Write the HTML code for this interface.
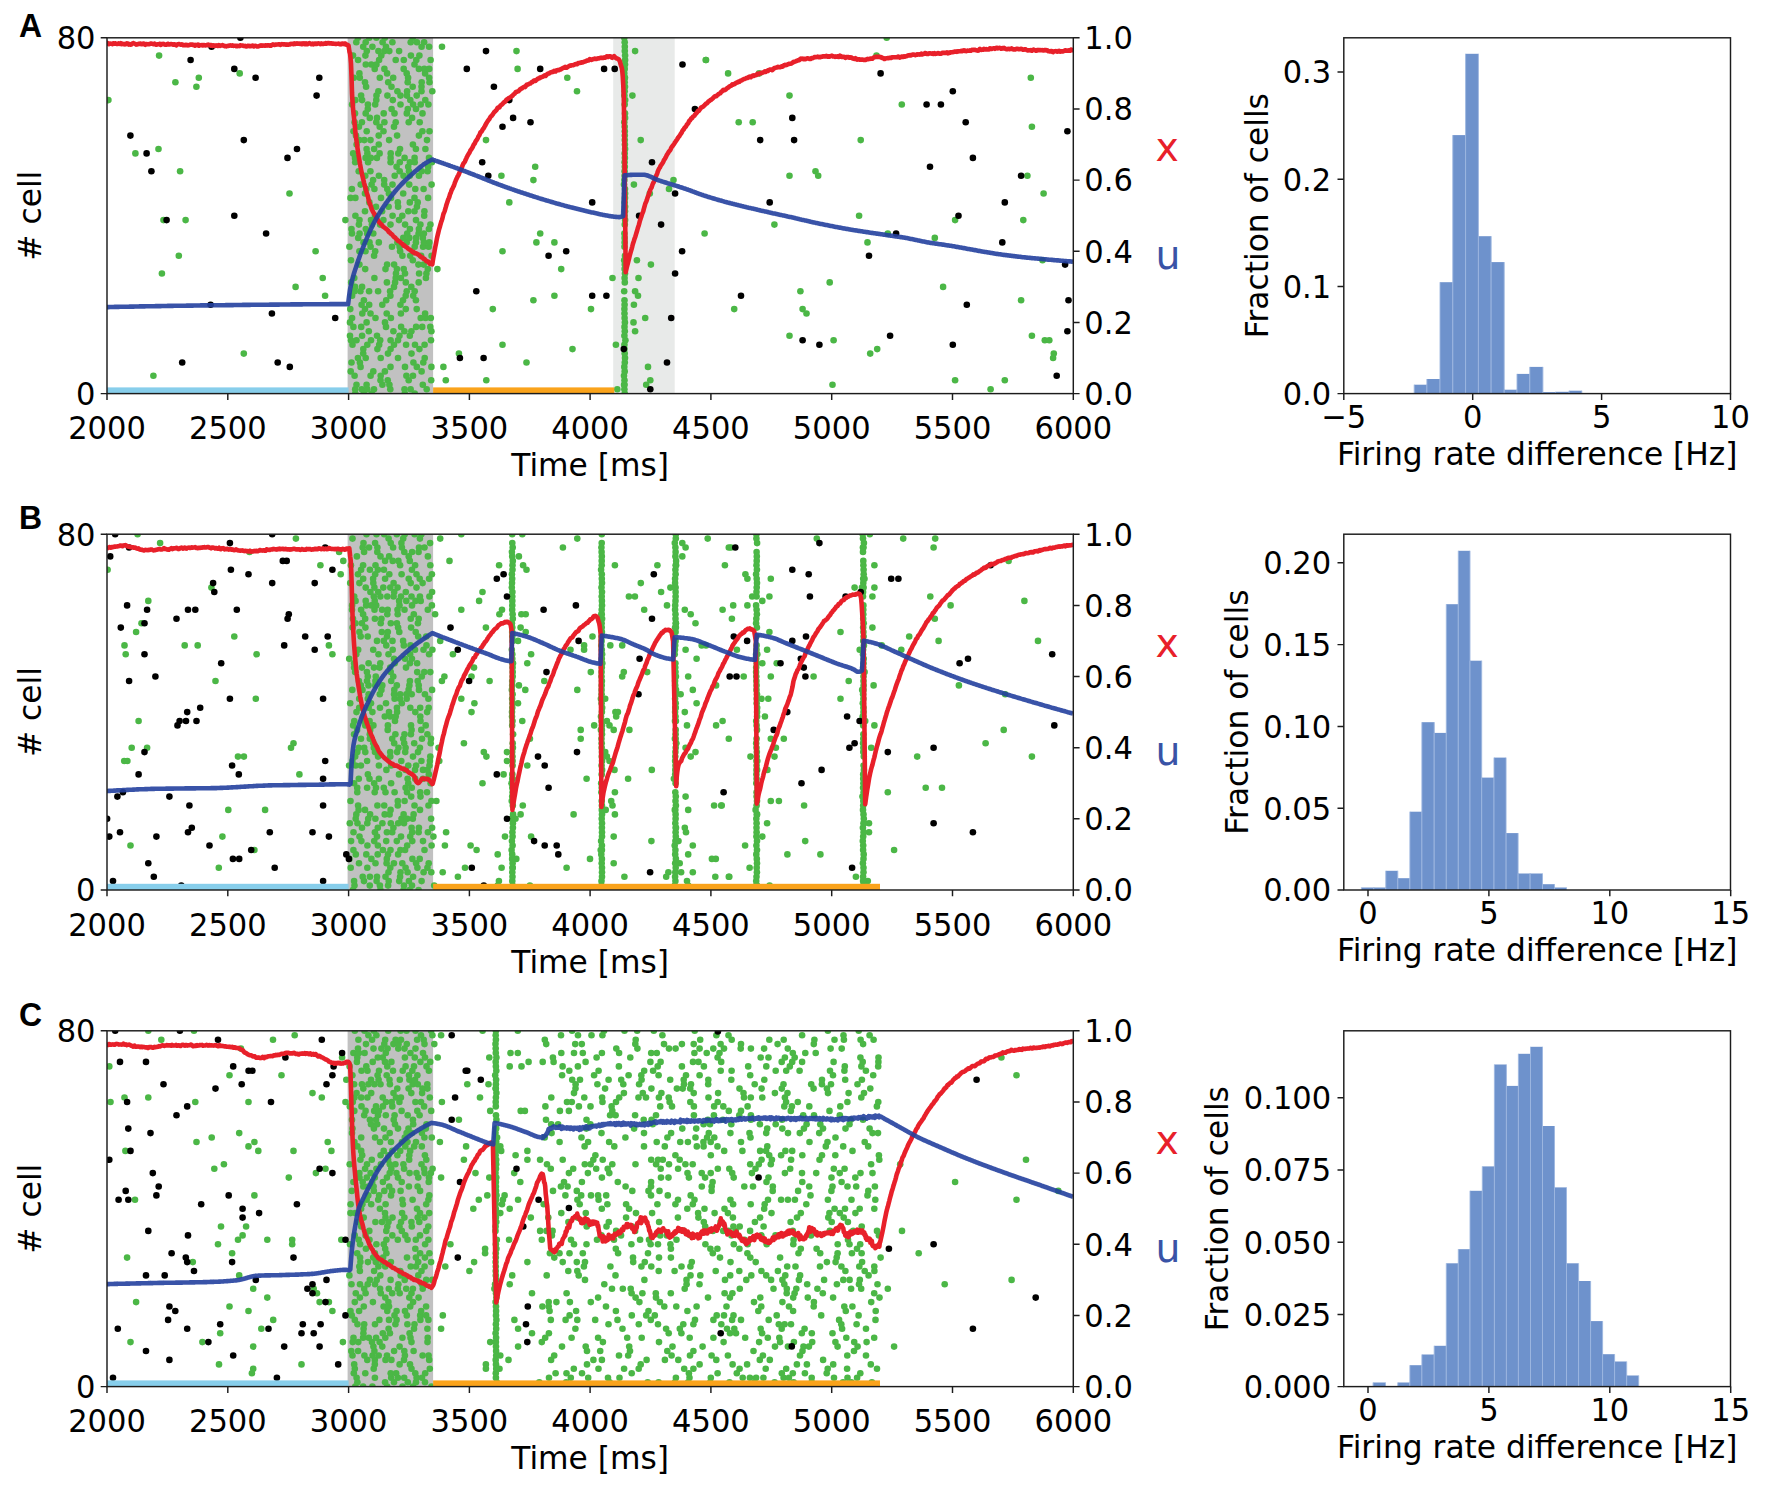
<!DOCTYPE html>
<html><head><meta charset="utf-8"><title>Figure</title>
<style>html,body{margin:0;padding:0;background:#fff}svg{display:block}</style>
</head><body>
<svg width="1772" height="1488" viewBox="0 0 1772 1488" font-family="'DejaVu Sans','Liberation Sans',sans-serif" font-size="31" fill="#000">
<rect width="1772" height="1488" fill="#fff"/>
<clipPath id="clipA"><rect x="107.0" y="37.8" width="966.3" height="355.8"/></clipPath>
<g clip-path="url(#clipA)">
<rect x="347.6" y="37.8" width="85.5" height="355.8" fill="#c1c1c1"/>
<rect x="613.2" y="37.8" width="61.5" height="355.8" fill="#e8eae9"/>
<g fill="#4bb746"><circle cx="159.1" cy="55.6" r="3.3"/><circle cx="175.4" cy="82.3" r="3.3"/><circle cx="198.8" cy="77.8" r="3.3"/><circle cx="196.4" cy="86.7" r="3.3"/><circle cx="239.7" cy="73.4" r="3.3"/><circle cx="108.4" cy="100.1" r="3.3"/><circle cx="135.4" cy="153.4" r="3.3"/><circle cx="158.5" cy="149.0" r="3.3"/><circle cx="180.1" cy="171.2" r="3.3"/><circle cx="289.5" cy="193.5" r="3.3"/><circle cx="163.5" cy="220.1" r="3.3"/><circle cx="185.6" cy="220.1" r="3.3"/><circle cx="178.8" cy="255.7" r="3.3"/><circle cx="161.9" cy="273.5" r="3.3"/><circle cx="315.6" cy="251.3" r="3.3"/><circle cx="322.7" cy="278.0" r="3.3"/><circle cx="295.6" cy="286.9" r="3.3"/><circle cx="325.1" cy="295.8" r="3.3"/><circle cx="243.8" cy="353.6" r="3.3"/><circle cx="153.4" cy="375.8" r="3.3"/><circle cx="345.4" cy="220.1" r="3.3"/><circle cx="355.3" cy="393.6" r="3.3"/><circle cx="363.8" cy="393.6" r="3.3"/><circle cx="371.7" cy="393.6" r="3.3"/><circle cx="404.8" cy="393.6" r="3.3"/><circle cx="414.7" cy="393.6" r="3.3"/><circle cx="355.2" cy="389.2" r="3.3"/><circle cx="361.8" cy="389.2" r="3.3"/><circle cx="367.2" cy="389.2" r="3.3"/><circle cx="374.0" cy="389.2" r="3.3"/><circle cx="390.3" cy="389.2" r="3.3"/><circle cx="404.5" cy="389.2" r="3.3"/><circle cx="410.6" cy="389.2" r="3.3"/><circle cx="426.7" cy="389.2" r="3.3"/><circle cx="356.5" cy="384.7" r="3.3"/><circle cx="366.6" cy="384.7" r="3.3"/><circle cx="382.4" cy="384.7" r="3.3"/><circle cx="389.4" cy="384.7" r="3.3"/><circle cx="422.8" cy="384.7" r="3.3"/><circle cx="380.5" cy="380.3" r="3.3"/><circle cx="387.7" cy="380.3" r="3.3"/><circle cx="408.7" cy="380.3" r="3.3"/><circle cx="431.2" cy="380.3" r="3.3"/><circle cx="354.6" cy="375.8" r="3.3"/><circle cx="370.6" cy="375.8" r="3.3"/><circle cx="380.7" cy="375.8" r="3.3"/><circle cx="406.4" cy="375.8" r="3.3"/><circle cx="413.0" cy="375.8" r="3.3"/><circle cx="350.7" cy="371.4" r="3.3"/><circle cx="373.3" cy="371.4" r="3.3"/><circle cx="384.9" cy="371.4" r="3.3"/><circle cx="421.6" cy="371.4" r="3.3"/><circle cx="360.6" cy="366.9" r="3.3"/><circle cx="390.5" cy="366.9" r="3.3"/><circle cx="405.0" cy="366.9" r="3.3"/><circle cx="416.8" cy="366.9" r="3.3"/><circle cx="431.4" cy="366.9" r="3.3"/><circle cx="351.5" cy="362.5" r="3.3"/><circle cx="359.9" cy="362.5" r="3.3"/><circle cx="413.4" cy="362.5" r="3.3"/><circle cx="423.3" cy="362.5" r="3.3"/><circle cx="357.9" cy="358.0" r="3.3"/><circle cx="365.7" cy="358.0" r="3.3"/><circle cx="380.7" cy="358.0" r="3.3"/><circle cx="398.0" cy="358.0" r="3.3"/><circle cx="424.7" cy="358.0" r="3.3"/><circle cx="363.2" cy="353.6" r="3.3"/><circle cx="388.0" cy="353.6" r="3.3"/><circle cx="411.5" cy="353.6" r="3.3"/><circle cx="363.3" cy="349.1" r="3.3"/><circle cx="377.4" cy="349.1" r="3.3"/><circle cx="390.6" cy="349.1" r="3.3"/><circle cx="419.4" cy="349.1" r="3.3"/><circle cx="352.5" cy="344.7" r="3.3"/><circle cx="367.3" cy="344.7" r="3.3"/><circle cx="379.2" cy="344.7" r="3.3"/><circle cx="394.0" cy="344.7" r="3.3"/><circle cx="406.1" cy="344.7" r="3.3"/><circle cx="415.0" cy="344.7" r="3.3"/><circle cx="424.6" cy="344.7" r="3.3"/><circle cx="351.0" cy="340.2" r="3.3"/><circle cx="356.5" cy="340.2" r="3.3"/><circle cx="371.0" cy="340.2" r="3.3"/><circle cx="380.2" cy="340.2" r="3.3"/><circle cx="390.6" cy="340.2" r="3.3"/><circle cx="398.0" cy="340.2" r="3.3"/><circle cx="431.0" cy="340.2" r="3.3"/><circle cx="350.0" cy="335.8" r="3.3"/><circle cx="362.1" cy="335.8" r="3.3"/><circle cx="377.0" cy="335.8" r="3.3"/><circle cx="399.5" cy="335.8" r="3.3"/><circle cx="409.8" cy="335.8" r="3.3"/><circle cx="368.8" cy="331.3" r="3.3"/><circle cx="393.4" cy="331.3" r="3.3"/><circle cx="404.4" cy="331.3" r="3.3"/><circle cx="411.4" cy="331.3" r="3.3"/><circle cx="431.4" cy="331.3" r="3.3"/><circle cx="353.4" cy="326.9" r="3.3"/><circle cx="361.2" cy="326.9" r="3.3"/><circle cx="386.0" cy="326.9" r="3.3"/><circle cx="401.1" cy="326.9" r="3.3"/><circle cx="416.1" cy="326.9" r="3.3"/><circle cx="422.2" cy="326.9" r="3.3"/><circle cx="430.3" cy="326.9" r="3.3"/><circle cx="350.0" cy="322.4" r="3.3"/><circle cx="366.6" cy="322.4" r="3.3"/><circle cx="385.0" cy="322.4" r="3.3"/><circle cx="352.1" cy="318.0" r="3.3"/><circle cx="375.5" cy="318.0" r="3.3"/><circle cx="390.9" cy="318.0" r="3.3"/><circle cx="420.7" cy="318.0" r="3.3"/><circle cx="425.6" cy="318.0" r="3.3"/><circle cx="430.8" cy="318.0" r="3.3"/><circle cx="362.3" cy="313.5" r="3.3"/><circle cx="370.5" cy="313.5" r="3.3"/><circle cx="386.7" cy="313.5" r="3.3"/><circle cx="400.9" cy="313.5" r="3.3"/><circle cx="425.1" cy="313.5" r="3.3"/><circle cx="350.3" cy="309.1" r="3.3"/><circle cx="365.0" cy="309.1" r="3.3"/><circle cx="405.8" cy="309.1" r="3.3"/><circle cx="416.7" cy="309.1" r="3.3"/><circle cx="361.6" cy="304.7" r="3.3"/><circle cx="369.2" cy="304.7" r="3.3"/><circle cx="382.3" cy="304.7" r="3.3"/><circle cx="400.4" cy="304.7" r="3.3"/><circle cx="363.9" cy="300.2" r="3.3"/><circle cx="386.2" cy="300.2" r="3.3"/><circle cx="403.0" cy="300.2" r="3.3"/><circle cx="415.9" cy="300.2" r="3.3"/><circle cx="352.1" cy="295.8" r="3.3"/><circle cx="390.4" cy="295.8" r="3.3"/><circle cx="405.7" cy="295.8" r="3.3"/><circle cx="413.2" cy="295.8" r="3.3"/><circle cx="354.5" cy="291.3" r="3.3"/><circle cx="360.4" cy="291.3" r="3.3"/><circle cx="369.1" cy="291.3" r="3.3"/><circle cx="378.1" cy="291.3" r="3.3"/><circle cx="390.1" cy="291.3" r="3.3"/><circle cx="406.7" cy="291.3" r="3.3"/><circle cx="414.7" cy="291.3" r="3.3"/><circle cx="355.1" cy="286.9" r="3.3"/><circle cx="362.1" cy="286.9" r="3.3"/><circle cx="394.0" cy="286.9" r="3.3"/><circle cx="411.3" cy="286.9" r="3.3"/><circle cx="351.2" cy="282.4" r="3.3"/><circle cx="386.9" cy="282.4" r="3.3"/><circle cx="395.1" cy="282.4" r="3.3"/><circle cx="405.8" cy="282.4" r="3.3"/><circle cx="418.7" cy="282.4" r="3.3"/><circle cx="354.3" cy="278.0" r="3.3"/><circle cx="374.4" cy="278.0" r="3.3"/><circle cx="395.7" cy="278.0" r="3.3"/><circle cx="400.9" cy="278.0" r="3.3"/><circle cx="425.9" cy="278.0" r="3.3"/><circle cx="396.0" cy="273.5" r="3.3"/><circle cx="405.0" cy="273.5" r="3.3"/><circle cx="419.1" cy="273.5" r="3.3"/><circle cx="426.4" cy="273.5" r="3.3"/><circle cx="365.2" cy="269.1" r="3.3"/><circle cx="385.5" cy="269.1" r="3.3"/><circle cx="396.9" cy="269.1" r="3.3"/><circle cx="403.7" cy="269.1" r="3.3"/><circle cx="427.8" cy="269.1" r="3.3"/><circle cx="359.4" cy="264.6" r="3.3"/><circle cx="387.1" cy="264.6" r="3.3"/><circle cx="394.1" cy="264.6" r="3.3"/><circle cx="418.4" cy="264.6" r="3.3"/><circle cx="423.7" cy="264.6" r="3.3"/><circle cx="351.0" cy="260.2" r="3.3"/><circle cx="412.8" cy="260.2" r="3.3"/><circle cx="374.1" cy="255.7" r="3.3"/><circle cx="402.4" cy="255.7" r="3.3"/><circle cx="410.2" cy="255.7" r="3.3"/><circle cx="421.1" cy="255.7" r="3.3"/><circle cx="431.6" cy="255.7" r="3.3"/><circle cx="359.4" cy="251.3" r="3.3"/><circle cx="365.5" cy="251.3" r="3.3"/><circle cx="375.2" cy="251.3" r="3.3"/><circle cx="400.1" cy="251.3" r="3.3"/><circle cx="349.4" cy="246.8" r="3.3"/><circle cx="370.6" cy="246.8" r="3.3"/><circle cx="392.0" cy="246.8" r="3.3"/><circle cx="399.6" cy="246.8" r="3.3"/><circle cx="414.7" cy="246.8" r="3.3"/><circle cx="423.1" cy="246.8" r="3.3"/><circle cx="428.7" cy="246.8" r="3.3"/><circle cx="363.5" cy="242.4" r="3.3"/><circle cx="369.5" cy="242.4" r="3.3"/><circle cx="378.8" cy="242.4" r="3.3"/><circle cx="397.4" cy="242.4" r="3.3"/><circle cx="406.7" cy="242.4" r="3.3"/><circle cx="415.9" cy="242.4" r="3.3"/><circle cx="423.9" cy="242.4" r="3.3"/><circle cx="429.3" cy="242.4" r="3.3"/><circle cx="358.2" cy="237.9" r="3.3"/><circle cx="403.3" cy="237.9" r="3.3"/><circle cx="409.3" cy="237.9" r="3.3"/><circle cx="416.1" cy="237.9" r="3.3"/><circle cx="422.8" cy="237.9" r="3.3"/><circle cx="352.0" cy="233.5" r="3.3"/><circle cx="359.6" cy="233.5" r="3.3"/><circle cx="367.2" cy="233.5" r="3.3"/><circle cx="373.3" cy="233.5" r="3.3"/><circle cx="407.2" cy="233.5" r="3.3"/><circle cx="418.6" cy="233.5" r="3.3"/><circle cx="423.9" cy="233.5" r="3.3"/><circle cx="351.5" cy="229.0" r="3.3"/><circle cx="365.8" cy="229.0" r="3.3"/><circle cx="409.9" cy="229.0" r="3.3"/><circle cx="418.9" cy="229.0" r="3.3"/><circle cx="428.9" cy="229.0" r="3.3"/><circle cx="358.9" cy="224.6" r="3.3"/><circle cx="371.9" cy="224.6" r="3.3"/><circle cx="380.1" cy="224.6" r="3.3"/><circle cx="390.5" cy="224.6" r="3.3"/><circle cx="405.1" cy="224.6" r="3.3"/><circle cx="420.4" cy="224.6" r="3.3"/><circle cx="430.4" cy="224.6" r="3.3"/><circle cx="359.5" cy="220.1" r="3.3"/><circle cx="371.0" cy="220.1" r="3.3"/><circle cx="383.4" cy="220.1" r="3.3"/><circle cx="399.0" cy="220.1" r="3.3"/><circle cx="416.0" cy="220.1" r="3.3"/><circle cx="355.4" cy="215.7" r="3.3"/><circle cx="375.0" cy="215.7" r="3.3"/><circle cx="392.6" cy="215.7" r="3.3"/><circle cx="402.3" cy="215.7" r="3.3"/><circle cx="424.2" cy="215.7" r="3.3"/><circle cx="365.0" cy="211.3" r="3.3"/><circle cx="382.1" cy="211.3" r="3.3"/><circle cx="408.3" cy="211.3" r="3.3"/><circle cx="414.5" cy="211.3" r="3.3"/><circle cx="424.4" cy="211.3" r="3.3"/><circle cx="376.0" cy="206.8" r="3.3"/><circle cx="388.6" cy="206.8" r="3.3"/><circle cx="398.1" cy="206.8" r="3.3"/><circle cx="416.9" cy="206.8" r="3.3"/><circle cx="369.4" cy="202.4" r="3.3"/><circle cx="397.8" cy="202.4" r="3.3"/><circle cx="409.8" cy="202.4" r="3.3"/><circle cx="417.7" cy="202.4" r="3.3"/><circle cx="350.5" cy="197.9" r="3.3"/><circle cx="355.4" cy="197.9" r="3.3"/><circle cx="381.0" cy="197.9" r="3.3"/><circle cx="391.0" cy="197.9" r="3.3"/><circle cx="414.5" cy="197.9" r="3.3"/><circle cx="428.1" cy="197.9" r="3.3"/><circle cx="365.0" cy="193.5" r="3.3"/><circle cx="388.9" cy="193.5" r="3.3"/><circle cx="403.2" cy="193.5" r="3.3"/><circle cx="351.9" cy="189.0" r="3.3"/><circle cx="366.3" cy="189.0" r="3.3"/><circle cx="374.4" cy="189.0" r="3.3"/><circle cx="387.3" cy="189.0" r="3.3"/><circle cx="415.3" cy="189.0" r="3.3"/><circle cx="423.6" cy="189.0" r="3.3"/><circle cx="360.7" cy="184.6" r="3.3"/><circle cx="371.6" cy="184.6" r="3.3"/><circle cx="384.2" cy="184.6" r="3.3"/><circle cx="392.5" cy="184.6" r="3.3"/><circle cx="409.2" cy="184.6" r="3.3"/><circle cx="431.6" cy="184.6" r="3.3"/><circle cx="373.1" cy="180.1" r="3.3"/><circle cx="384.2" cy="180.1" r="3.3"/><circle cx="365.3" cy="175.7" r="3.3"/><circle cx="378.9" cy="175.7" r="3.3"/><circle cx="394.7" cy="175.7" r="3.3"/><circle cx="403.5" cy="175.7" r="3.3"/><circle cx="409.8" cy="175.7" r="3.3"/><circle cx="418.9" cy="175.7" r="3.3"/><circle cx="358.7" cy="171.2" r="3.3"/><circle cx="370.4" cy="171.2" r="3.3"/><circle cx="399.7" cy="171.2" r="3.3"/><circle cx="409.0" cy="171.2" r="3.3"/><circle cx="421.7" cy="171.2" r="3.3"/><circle cx="427.6" cy="171.2" r="3.3"/><circle cx="396.6" cy="166.8" r="3.3"/><circle cx="408.2" cy="166.8" r="3.3"/><circle cx="428.2" cy="166.8" r="3.3"/><circle cx="355.2" cy="162.3" r="3.3"/><circle cx="368.1" cy="162.3" r="3.3"/><circle cx="390.6" cy="162.3" r="3.3"/><circle cx="399.8" cy="162.3" r="3.3"/><circle cx="409.9" cy="162.3" r="3.3"/><circle cx="414.7" cy="162.3" r="3.3"/><circle cx="431.9" cy="162.3" r="3.3"/><circle cx="355.0" cy="157.9" r="3.3"/><circle cx="365.6" cy="157.9" r="3.3"/><circle cx="370.8" cy="157.9" r="3.3"/><circle cx="376.9" cy="157.9" r="3.3"/><circle cx="390.6" cy="157.9" r="3.3"/><circle cx="404.6" cy="157.9" r="3.3"/><circle cx="414.6" cy="157.9" r="3.3"/><circle cx="429.0" cy="157.9" r="3.3"/><circle cx="353.2" cy="153.4" r="3.3"/><circle cx="367.4" cy="153.4" r="3.3"/><circle cx="379.6" cy="153.4" r="3.3"/><circle cx="390.7" cy="153.4" r="3.3"/><circle cx="398.3" cy="153.4" r="3.3"/><circle cx="366.6" cy="149.0" r="3.3"/><circle cx="374.1" cy="149.0" r="3.3"/><circle cx="400.0" cy="149.0" r="3.3"/><circle cx="415.9" cy="149.0" r="3.3"/><circle cx="425.4" cy="149.0" r="3.3"/><circle cx="356.6" cy="144.5" r="3.3"/><circle cx="378.8" cy="144.5" r="3.3"/><circle cx="412.9" cy="144.5" r="3.3"/><circle cx="359.3" cy="140.1" r="3.3"/><circle cx="364.3" cy="140.1" r="3.3"/><circle cx="370.5" cy="140.1" r="3.3"/><circle cx="389.1" cy="140.1" r="3.3"/><circle cx="427.0" cy="140.1" r="3.3"/><circle cx="356.0" cy="135.6" r="3.3"/><circle cx="378.7" cy="135.6" r="3.3"/><circle cx="397.1" cy="135.6" r="3.3"/><circle cx="418.9" cy="135.6" r="3.3"/><circle cx="353.5" cy="131.2" r="3.3"/><circle cx="366.7" cy="131.2" r="3.3"/><circle cx="383.5" cy="131.2" r="3.3"/><circle cx="422.4" cy="131.2" r="3.3"/><circle cx="429.5" cy="131.2" r="3.3"/><circle cx="358.9" cy="126.8" r="3.3"/><circle cx="379.7" cy="126.8" r="3.3"/><circle cx="394.0" cy="126.8" r="3.3"/><circle cx="354.6" cy="122.3" r="3.3"/><circle cx="361.9" cy="122.3" r="3.3"/><circle cx="376.3" cy="122.3" r="3.3"/><circle cx="384.4" cy="122.3" r="3.3"/><circle cx="395.7" cy="122.3" r="3.3"/><circle cx="408.7" cy="122.3" r="3.3"/><circle cx="419.7" cy="122.3" r="3.3"/><circle cx="369.8" cy="117.9" r="3.3"/><circle cx="377.0" cy="117.9" r="3.3"/><circle cx="412.1" cy="117.9" r="3.3"/><circle cx="355.0" cy="113.4" r="3.3"/><circle cx="365.7" cy="113.4" r="3.3"/><circle cx="383.7" cy="113.4" r="3.3"/><circle cx="394.5" cy="113.4" r="3.3"/><circle cx="406.8" cy="113.4" r="3.3"/><circle cx="422.5" cy="113.4" r="3.3"/><circle cx="367.8" cy="109.0" r="3.3"/><circle cx="391.6" cy="109.0" r="3.3"/><circle cx="407.8" cy="109.0" r="3.3"/><circle cx="416.0" cy="109.0" r="3.3"/><circle cx="352.1" cy="104.5" r="3.3"/><circle cx="367.9" cy="104.5" r="3.3"/><circle cx="375.2" cy="104.5" r="3.3"/><circle cx="400.5" cy="104.5" r="3.3"/><circle cx="413.1" cy="104.5" r="3.3"/><circle cx="420.7" cy="104.5" r="3.3"/><circle cx="428.4" cy="104.5" r="3.3"/><circle cx="355.4" cy="100.1" r="3.3"/><circle cx="362.1" cy="100.1" r="3.3"/><circle cx="376.3" cy="100.1" r="3.3"/><circle cx="392.8" cy="100.1" r="3.3"/><circle cx="410.3" cy="100.1" r="3.3"/><circle cx="425.3" cy="100.1" r="3.3"/><circle cx="361.1" cy="95.6" r="3.3"/><circle cx="376.5" cy="95.6" r="3.3"/><circle cx="387.4" cy="95.6" r="3.3"/><circle cx="400.5" cy="95.6" r="3.3"/><circle cx="406.9" cy="95.6" r="3.3"/><circle cx="416.7" cy="95.6" r="3.3"/><circle cx="378.4" cy="91.2" r="3.3"/><circle cx="397.4" cy="91.2" r="3.3"/><circle cx="407.1" cy="91.2" r="3.3"/><circle cx="421.5" cy="91.2" r="3.3"/><circle cx="432.3" cy="91.2" r="3.3"/><circle cx="366.1" cy="86.7" r="3.3"/><circle cx="391.5" cy="86.7" r="3.3"/><circle cx="412.7" cy="86.7" r="3.3"/><circle cx="421.5" cy="86.7" r="3.3"/><circle cx="365.0" cy="82.3" r="3.3"/><circle cx="388.2" cy="82.3" r="3.3"/><circle cx="407.7" cy="82.3" r="3.3"/><circle cx="421.7" cy="82.3" r="3.3"/><circle cx="429.5" cy="82.3" r="3.3"/><circle cx="353.8" cy="77.8" r="3.3"/><circle cx="359.8" cy="77.8" r="3.3"/><circle cx="379.8" cy="77.8" r="3.3"/><circle cx="393.2" cy="77.8" r="3.3"/><circle cx="408.1" cy="77.8" r="3.3"/><circle cx="429.1" cy="77.8" r="3.3"/><circle cx="359.4" cy="73.4" r="3.3"/><circle cx="387.1" cy="73.4" r="3.3"/><circle cx="406.7" cy="73.4" r="3.3"/><circle cx="425.1" cy="73.4" r="3.3"/><circle cx="374.7" cy="68.9" r="3.3"/><circle cx="384.4" cy="68.9" r="3.3"/><circle cx="403.7" cy="68.9" r="3.3"/><circle cx="418.9" cy="68.9" r="3.3"/><circle cx="424.3" cy="68.9" r="3.3"/><circle cx="429.2" cy="68.9" r="3.3"/><circle cx="365.8" cy="64.5" r="3.3"/><circle cx="371.3" cy="64.5" r="3.3"/><circle cx="376.4" cy="64.5" r="3.3"/><circle cx="414.5" cy="64.5" r="3.3"/><circle cx="358.1" cy="60.0" r="3.3"/><circle cx="379.1" cy="60.0" r="3.3"/><circle cx="395.7" cy="60.0" r="3.3"/><circle cx="403.8" cy="60.0" r="3.3"/><circle cx="416.3" cy="60.0" r="3.3"/><circle cx="430.6" cy="60.0" r="3.3"/><circle cx="353.0" cy="55.6" r="3.3"/><circle cx="365.4" cy="55.6" r="3.3"/><circle cx="381.3" cy="55.6" r="3.3"/><circle cx="410.9" cy="55.6" r="3.3"/><circle cx="419.4" cy="55.6" r="3.3"/><circle cx="366.8" cy="51.1" r="3.3"/><circle cx="378.4" cy="51.1" r="3.3"/><circle cx="384.4" cy="51.1" r="3.3"/><circle cx="389.3" cy="51.1" r="3.3"/><circle cx="399.1" cy="51.1" r="3.3"/><circle cx="363.2" cy="46.7" r="3.3"/><circle cx="372.4" cy="46.7" r="3.3"/><circle cx="386.0" cy="46.7" r="3.3"/><circle cx="421.6" cy="46.7" r="3.3"/><circle cx="429.1" cy="46.7" r="3.3"/><circle cx="356.3" cy="42.2" r="3.3"/><circle cx="365.7" cy="42.2" r="3.3"/><circle cx="382.6" cy="42.2" r="3.3"/><circle cx="392.4" cy="42.2" r="3.3"/><circle cx="410.7" cy="42.2" r="3.3"/><circle cx="416.9" cy="42.2" r="3.3"/><circle cx="424.1" cy="42.2" r="3.3"/><circle cx="357.9" cy="37.8" r="3.3"/><circle cx="369.3" cy="37.8" r="3.3"/><circle cx="376.4" cy="37.8" r="3.3"/><circle cx="384.8" cy="37.8" r="3.3"/><circle cx="412.7" cy="37.8" r="3.3"/><circle cx="442.0" cy="46.7" r="3.3"/><circle cx="516.5" cy="51.1" r="3.3"/><circle cx="517.6" cy="68.9" r="3.3"/><circle cx="567.3" cy="77.8" r="3.3"/><circle cx="577.0" cy="91.2" r="3.3"/><circle cx="486.0" cy="140.1" r="3.3"/><circle cx="535.2" cy="166.8" r="3.3"/><circle cx="501.4" cy="175.7" r="3.3"/><circle cx="533.4" cy="180.1" r="3.3"/><circle cx="509.3" cy="202.4" r="3.3"/><circle cx="540.2" cy="233.5" r="3.3"/><circle cx="536.4" cy="242.4" r="3.3"/><circle cx="554.4" cy="242.4" r="3.3"/><circle cx="502.5" cy="251.3" r="3.3"/><circle cx="561.2" cy="269.1" r="3.3"/><circle cx="533.4" cy="300.2" r="3.3"/><circle cx="554.4" cy="295.8" r="3.3"/><circle cx="492.8" cy="309.1" r="3.3"/><circle cx="591.0" cy="309.1" r="3.3"/><circle cx="612.5" cy="278.0" r="3.3"/><circle cx="502.5" cy="344.7" r="3.3"/><circle cx="572.5" cy="349.1" r="3.3"/><circle cx="458.9" cy="353.6" r="3.3"/><circle cx="437.4" cy="269.1" r="3.3"/><circle cx="635.1" cy="51.1" r="3.3"/><circle cx="632.4" cy="95.6" r="3.3"/><circle cx="640.7" cy="140.1" r="3.3"/><circle cx="633.9" cy="184.6" r="3.3"/><circle cx="649.8" cy="193.5" r="3.3"/><circle cx="669.0" cy="189.0" r="3.3"/><circle cx="673.5" cy="180.1" r="3.3"/><circle cx="636.9" cy="260.2" r="3.3"/><circle cx="650.9" cy="264.6" r="3.3"/><circle cx="638.5" cy="278.0" r="3.3"/><circle cx="635.1" cy="291.3" r="3.3"/><circle cx="638.0" cy="295.8" r="3.3"/><circle cx="633.9" cy="304.7" r="3.3"/><circle cx="645.2" cy="318.0" r="3.3"/><circle cx="633.5" cy="322.4" r="3.3"/><circle cx="635.1" cy="331.3" r="3.3"/><circle cx="615.9" cy="344.7" r="3.3"/><circle cx="704.6" cy="233.5" r="3.3"/><circle cx="705.8" cy="60.0" r="3.3"/><circle cx="526.5" cy="362.5" r="3.3"/><circle cx="443.4" cy="366.9" r="3.3"/><circle cx="445.8" cy="380.3" r="3.3"/><circle cx="486.3" cy="380.3" r="3.3"/><circle cx="648.0" cy="366.9" r="3.3"/><circle cx="650.3" cy="380.3" r="3.3"/><circle cx="646.2" cy="384.7" r="3.3"/><circle cx="617.3" cy="389.2" r="3.3"/><circle cx="624.7" cy="393.6" r="3.3"/><circle cx="624.4" cy="389.2" r="3.3"/><circle cx="624.5" cy="384.7" r="3.3"/><circle cx="624.1" cy="384.7" r="3.3"/><circle cx="624.5" cy="380.3" r="3.3"/><circle cx="624.0" cy="375.8" r="3.3"/><circle cx="624.7" cy="371.4" r="3.3"/><circle cx="624.3" cy="366.9" r="3.3"/><circle cx="624.8" cy="362.5" r="3.3"/><circle cx="625.0" cy="358.0" r="3.3"/><circle cx="624.7" cy="353.6" r="3.3"/><circle cx="624.5" cy="349.1" r="3.3"/><circle cx="624.4" cy="344.7" r="3.3"/><circle cx="625.4" cy="340.2" r="3.3"/><circle cx="624.4" cy="335.8" r="3.3"/><circle cx="624.8" cy="331.3" r="3.3"/><circle cx="624.5" cy="326.9" r="3.3"/><circle cx="624.9" cy="322.4" r="3.3"/><circle cx="624.6" cy="318.0" r="3.3"/><circle cx="624.5" cy="313.5" r="3.3"/><circle cx="624.4" cy="309.1" r="3.3"/><circle cx="624.6" cy="304.7" r="3.3"/><circle cx="624.5" cy="300.2" r="3.3"/><circle cx="624.2" cy="291.3" r="3.3"/><circle cx="624.8" cy="282.4" r="3.3"/><circle cx="624.6" cy="278.0" r="3.3"/><circle cx="625.0" cy="273.5" r="3.3"/><circle cx="624.6" cy="269.1" r="3.3"/><circle cx="624.8" cy="264.6" r="3.3"/><circle cx="624.2" cy="260.2" r="3.3"/><circle cx="625.0" cy="255.7" r="3.3"/><circle cx="624.5" cy="246.8" r="3.3"/><circle cx="624.6" cy="242.4" r="3.3"/><circle cx="624.6" cy="237.9" r="3.3"/><circle cx="624.4" cy="233.5" r="3.3"/><circle cx="624.8" cy="224.6" r="3.3"/><circle cx="625.1" cy="220.1" r="3.3"/><circle cx="624.6" cy="215.7" r="3.3"/><circle cx="625.0" cy="211.3" r="3.3"/><circle cx="625.1" cy="206.8" r="3.3"/><circle cx="624.7" cy="202.4" r="3.3"/><circle cx="625.0" cy="197.9" r="3.3"/><circle cx="625.1" cy="193.5" r="3.3"/><circle cx="625.0" cy="189.0" r="3.3"/><circle cx="624.0" cy="184.6" r="3.3"/><circle cx="624.4" cy="180.1" r="3.3"/><circle cx="624.6" cy="175.7" r="3.3"/><circle cx="624.6" cy="171.2" r="3.3"/><circle cx="624.8" cy="166.8" r="3.3"/><circle cx="624.6" cy="162.3" r="3.3"/><circle cx="624.9" cy="157.9" r="3.3"/><circle cx="624.7" cy="153.4" r="3.3"/><circle cx="625.1" cy="149.0" r="3.3"/><circle cx="624.9" cy="144.5" r="3.3"/><circle cx="624.8" cy="140.1" r="3.3"/><circle cx="624.8" cy="135.6" r="3.3"/><circle cx="624.8" cy="131.2" r="3.3"/><circle cx="624.7" cy="126.8" r="3.3"/><circle cx="624.3" cy="122.3" r="3.3"/><circle cx="625.1" cy="117.9" r="3.3"/><circle cx="625.0" cy="113.4" r="3.3"/><circle cx="624.7" cy="104.5" r="3.3"/><circle cx="625.2" cy="100.1" r="3.3"/><circle cx="624.4" cy="95.6" r="3.3"/><circle cx="624.7" cy="91.2" r="3.3"/><circle cx="625.0" cy="86.7" r="3.3"/><circle cx="624.7" cy="82.3" r="3.3"/><circle cx="624.8" cy="77.8" r="3.3"/><circle cx="624.9" cy="77.8" r="3.3"/><circle cx="624.3" cy="73.4" r="3.3"/><circle cx="624.7" cy="68.9" r="3.3"/><circle cx="625.0" cy="64.5" r="3.3"/><circle cx="625.1" cy="60.0" r="3.3"/><circle cx="625.1" cy="55.6" r="3.3"/><circle cx="624.8" cy="51.1" r="3.3"/><circle cx="624.8" cy="46.7" r="3.3"/><circle cx="624.7" cy="42.2" r="3.3"/><circle cx="624.3" cy="37.8" r="3.3"/><circle cx="706.0" cy="60.0" r="3.3"/><circle cx="728.1" cy="73.4" r="3.3"/><circle cx="759.1" cy="73.4" r="3.3"/><circle cx="789.5" cy="95.6" r="3.3"/><circle cx="738.7" cy="122.3" r="3.3"/><circle cx="752.7" cy="122.3" r="3.3"/><circle cx="860.7" cy="140.1" r="3.3"/><circle cx="789.5" cy="175.7" r="3.3"/><circle cx="815.5" cy="171.2" r="3.3"/><circle cx="818.2" cy="175.7" r="3.3"/><circle cx="901.8" cy="104.5" r="3.3"/><circle cx="876.5" cy="55.6" r="3.3"/><circle cx="886.7" cy="37.8" r="3.3"/><circle cx="1030.8" cy="77.8" r="3.3"/><circle cx="1031.9" cy="126.8" r="3.3"/><circle cx="1027.4" cy="175.7" r="3.3"/><circle cx="1043.6" cy="193.5" r="3.3"/><circle cx="859.1" cy="215.7" r="3.3"/><circle cx="955.1" cy="220.1" r="3.3"/><circle cx="1023.3" cy="220.1" r="3.3"/><circle cx="887.8" cy="233.5" r="3.3"/><circle cx="934.8" cy="237.9" r="3.3"/><circle cx="867.5" cy="242.4" r="3.3"/><circle cx="774.4" cy="224.6" r="3.3"/><circle cx="829.7" cy="282.4" r="3.3"/><circle cx="800.4" cy="291.3" r="3.3"/><circle cx="943.1" cy="286.9" r="3.3"/><circle cx="1021.1" cy="300.2" r="3.3"/><circle cx="734.2" cy="309.1" r="3.3"/><circle cx="802.6" cy="309.1" r="3.3"/><circle cx="806.5" cy="313.5" r="3.3"/><circle cx="789.5" cy="335.8" r="3.3"/><circle cx="833.6" cy="340.2" r="3.3"/><circle cx="877.2" cy="349.1" r="3.3"/><circle cx="870.2" cy="353.6" r="3.3"/><circle cx="1031.9" cy="335.8" r="3.3"/><circle cx="1044.8" cy="340.2" r="3.3"/><circle cx="1049.3" cy="340.2" r="3.3"/><circle cx="1042.5" cy="260.2" r="3.3"/><circle cx="1053.8" cy="353.6" r="3.3"/><circle cx="832.5" cy="384.7" r="3.3"/><circle cx="955.1" cy="380.3" r="3.3"/><circle cx="990.6" cy="389.2" r="3.3"/><circle cx="1004.8" cy="380.3" r="3.3"/><circle cx="1053.1" cy="358.0" r="3.3"/></g>
<g fill="#000"><circle cx="190.6" cy="60.0" r="3.3"/><circle cx="234.3" cy="68.9" r="3.3"/><circle cx="255.6" cy="77.8" r="3.3"/><circle cx="319.3" cy="77.8" r="3.3"/><circle cx="316.6" cy="95.6" r="3.3"/><circle cx="130.4" cy="135.6" r="3.3"/><circle cx="146.6" cy="153.4" r="3.3"/><circle cx="151.4" cy="171.2" r="3.3"/><circle cx="243.8" cy="140.1" r="3.3"/><circle cx="297.0" cy="149.0" r="3.3"/><circle cx="287.5" cy="157.9" r="3.3"/><circle cx="234.3" cy="215.7" r="3.3"/><circle cx="166.6" cy="220.1" r="3.3"/><circle cx="266.1" cy="233.5" r="3.3"/><circle cx="271.9" cy="313.5" r="3.3"/><circle cx="335.2" cy="318.0" r="3.3"/><circle cx="182.2" cy="362.5" r="3.3"/><circle cx="277.7" cy="362.5" r="3.3"/><circle cx="289.8" cy="366.9" r="3.3"/><circle cx="210.6" cy="304.7" r="3.3"/><circle cx="240.4" cy="37.8" r="3.3"/><circle cx="211.6" cy="46.7" r="3.3"/><circle cx="486.0" cy="51.1" r="3.3"/><circle cx="466.8" cy="68.9" r="3.3"/><circle cx="540.2" cy="68.9" r="3.3"/><circle cx="604.1" cy="68.9" r="3.3"/><circle cx="614.7" cy="68.9" r="3.3"/><circle cx="493.9" cy="86.7" r="3.3"/><circle cx="509.3" cy="100.1" r="3.3"/><circle cx="513.1" cy="117.9" r="3.3"/><circle cx="530.5" cy="122.3" r="3.3"/><circle cx="502.5" cy="126.8" r="3.3"/><circle cx="482.2" cy="162.3" r="3.3"/><circle cx="488.3" cy="175.7" r="3.3"/><circle cx="592.2" cy="202.4" r="3.3"/><circle cx="566.2" cy="251.3" r="3.3"/><circle cx="548.6" cy="255.7" r="3.3"/><circle cx="476.3" cy="291.3" r="3.3"/><circle cx="592.2" cy="295.8" r="3.3"/><circle cx="606.4" cy="295.8" r="3.3"/><circle cx="652.0" cy="162.3" r="3.3"/><circle cx="639.1" cy="215.7" r="3.3"/><circle cx="661.1" cy="224.6" r="3.3"/><circle cx="675.1" cy="193.5" r="3.3"/><circle cx="675.1" cy="273.5" r="3.3"/><circle cx="671.2" cy="318.0" r="3.3"/><circle cx="623.8" cy="349.1" r="3.3"/><circle cx="682.5" cy="64.5" r="3.3"/><circle cx="682.1" cy="251.3" r="3.3"/><circle cx="694.9" cy="109.0" r="3.3"/><circle cx="459.9" cy="358.0" r="3.3"/><circle cx="483.6" cy="358.0" r="3.3"/><circle cx="667.0" cy="362.5" r="3.3"/><circle cx="650.3" cy="389.2" r="3.3"/><circle cx="760.2" cy="140.1" r="3.3"/><circle cx="792.3" cy="117.9" r="3.3"/><circle cx="794.1" cy="140.1" r="3.3"/><circle cx="880.6" cy="73.4" r="3.3"/><circle cx="926.6" cy="104.5" r="3.3"/><circle cx="940.9" cy="104.5" r="3.3"/><circle cx="952.8" cy="91.2" r="3.3"/><circle cx="965.7" cy="122.3" r="3.3"/><circle cx="972.9" cy="157.9" r="3.3"/><circle cx="930.0" cy="166.8" r="3.3"/><circle cx="1021.1" cy="175.7" r="3.3"/><circle cx="1067.4" cy="131.2" r="3.3"/><circle cx="769.7" cy="202.4" r="3.3"/><circle cx="1004.8" cy="202.4" r="3.3"/><circle cx="958.5" cy="215.7" r="3.3"/><circle cx="896.1" cy="233.5" r="3.3"/><circle cx="1002.3" cy="242.4" r="3.3"/><circle cx="869.0" cy="255.7" r="3.3"/><circle cx="1065.1" cy="264.6" r="3.3"/><circle cx="741.0" cy="295.8" r="3.3"/><circle cx="966.8" cy="304.7" r="3.3"/><circle cx="1068.5" cy="300.2" r="3.3"/><circle cx="802.6" cy="340.2" r="3.3"/><circle cx="819.4" cy="344.7" r="3.3"/><circle cx="890.1" cy="335.8" r="3.3"/><circle cx="952.8" cy="344.7" r="3.3"/><circle cx="1067.4" cy="331.3" r="3.3"/><circle cx="1056.7" cy="375.8" r="3.3"/></g>
<rect x="107.0" y="387.4" width="241.6" height="6.2" fill="#87ceeb"/>
<rect x="433.1" y="387.4" width="181.2" height="6.2" fill="#faa31b"/>
<path d="M106.7 43.0 L107.2 42.9 L107.7 43.1 L108.2 43.6 L108.7 44.1 L109.2 44.1 L109.7 43.5 L110.2 43.5 L110.7 43.8 L111.2 43.7 L111.7 43.8 L112.2 44.1 L112.7 43.7 L113.2 43.2 L113.7 43.3 L114.2 43.7 L114.7 43.7 L115.2 43.3 L115.7 43.4 L116.2 43.8 L116.7 43.9 L117.2 43.7 L117.7 43.9 L118.2 43.8 L118.7 43.3 L119.2 43.5 L119.7 43.8 L120.2 43.4 L120.7 43.1 L121.2 43.5 L121.7 44.2 L122.2 44.0 L122.7 43.8 L123.2 44.1 L123.7 44.0 L124.2 44.1 L124.7 44.4 L125.2 44.3 L125.7 43.8 L126.2 43.6 L126.7 43.8 L127.2 43.4 L127.7 43.5 L128.2 44.3 L128.7 44.6 L129.2 44.3 L129.7 44.1 L130.2 44.3 L130.7 44.7 L131.2 44.5 L131.7 43.9 L132.2 43.6 L132.7 43.4 L133.2 43.1 L133.7 43.2 L134.2 43.6 L134.7 43.7 L135.2 43.7 L135.7 44.1 L136.2 44.6 L136.7 44.5 L137.2 44.3 L137.7 44.2 L138.2 43.9 L138.7 43.9 L139.2 44.0 L139.7 43.7 L140.2 43.6 L140.7 43.6 L141.2 44.1 L141.7 44.3 L142.2 44.1 L142.7 43.9 L143.2 43.7 L143.7 43.5 L144.2 43.8 L144.7 44.6 L145.2 44.9 L145.7 44.4 L146.2 44.0 L146.7 44.1 L147.2 44.2 L147.7 44.3 L148.2 44.3 L148.7 44.3 L149.2 44.2 L149.7 44.0 L150.2 43.7 L150.7 43.6 L151.2 43.6 L151.7 43.7 L152.2 43.8 L152.7 43.9 L153.2 44.1 L153.7 44.1 L154.2 43.7 L154.7 43.6 L155.2 43.9 L155.7 44.5 L156.2 44.8 L156.7 44.6 L157.2 44.4 L157.7 44.3 L158.2 44.2 L158.7 44.3 L159.2 43.9 L159.7 43.8 L160.2 44.8 L160.7 44.9 L161.2 44.2 L161.7 44.1 L162.2 44.2 L162.7 44.1 L163.2 43.8 L163.7 44.0 L164.2 44.3 L164.7 44.6 L165.2 44.6 L165.7 44.8 L166.2 44.8 L166.7 44.5 L167.2 44.1 L167.7 43.7 L168.2 43.9 L168.7 44.4 L169.2 44.4 L169.7 44.4 L170.2 44.3 L170.7 44.1 L171.2 44.1 L171.7 44.2 L172.2 44.3 L172.7 44.6 L173.2 44.6 L173.7 44.2 L174.2 44.2 L174.7 44.4 L175.2 44.6 L175.7 45.1 L176.2 45.4 L176.7 45.0 L177.2 44.6 L177.7 44.3 L178.2 44.2 L178.8 44.1 L179.3 44.1 L179.8 44.3 L180.3 44.5 L180.8 44.7 L181.3 44.5 L181.8 44.3 L182.3 44.5 L182.8 44.9 L183.3 45.2 L183.8 45.3 L184.3 45.3 L184.8 45.1 L185.3 44.9 L185.8 45.2 L186.3 45.3 L186.8 44.9 L187.3 45.1 L187.8 45.4 L188.3 45.2 L188.8 45.2 L189.3 45.1 L189.8 44.8 L190.3 44.7 L190.8 44.5 L191.3 44.5 L191.8 44.6 L192.3 44.8 L192.8 44.9 L193.3 44.8 L193.8 44.8 L194.3 45.4 L194.8 45.6 L195.3 45.2 L195.8 44.9 L196.3 45.0 L196.8 45.2 L197.3 44.9 L197.8 44.7 L198.3 45.4 L198.8 45.7 L199.3 45.1 L199.8 45.1 L200.3 45.3 L200.8 45.3 L201.3 45.3 L201.8 45.0 L202.3 45.2 L202.8 45.5 L203.3 45.2 L203.8 45.1 L204.3 45.1 L204.8 45.3 L205.3 45.4 L205.8 45.3 L206.3 45.2 L206.8 45.1 L207.3 45.3 L207.8 45.0 L208.3 44.6 L208.8 44.8 L209.3 45.0 L209.8 45.3 L210.3 45.6 L210.8 45.1 L211.3 45.1 L211.8 45.7 L212.3 45.8 L212.8 45.9 L213.3 45.6 L213.8 45.3 L214.3 45.5 L214.8 45.9 L215.3 45.9 L215.8 45.6 L216.3 45.5 L216.8 45.4 L217.3 45.6 L217.8 46.0 L218.3 45.7 L218.8 45.2 L219.3 45.4 L219.8 45.8 L220.3 45.9 L220.8 45.6 L221.3 45.5 L221.8 45.4 L222.3 45.1 L222.8 45.2 L223.3 45.7 L223.8 45.7 L224.3 45.9 L224.8 46.2 L225.3 46.1 L225.8 46.1 L226.3 46.4 L226.8 46.2 L227.3 45.9 L227.8 46.0 L228.3 45.9 L228.8 45.6 L229.3 45.7 L229.8 45.5 L230.3 45.3 L230.8 45.5 L231.3 45.7 L231.8 45.5 L232.3 45.3 L232.8 45.6 L233.3 45.9 L233.8 45.8 L234.3 45.7 L234.8 45.8 L235.3 45.7 L235.8 45.9 L236.3 46.2 L236.8 45.9 L237.3 45.9 L237.8 46.1 L238.3 46.0 L238.8 45.9 L239.3 46.1 L239.8 46.0 L240.3 45.4 L240.8 45.4 L241.3 45.5 L241.8 45.5 L242.3 45.5 L242.8 45.7 L243.3 45.9 L243.8 45.8 L244.3 46.0 L244.8 46.1 L245.3 45.9 L245.8 46.2 L246.3 46.5 L246.8 46.3 L247.3 45.9 L247.8 45.8 L248.3 45.8 L248.8 46.1 L249.3 46.2 L249.8 45.9 L250.3 46.0 L250.8 46.2 L251.3 46.1 L251.8 45.9 L252.3 45.7 L252.8 45.6 L253.3 46.1 L253.8 46.5 L254.3 46.1 L254.8 45.7 L255.3 45.8 L255.8 46.0 L256.3 46.1 L256.8 46.4 L257.3 46.5 L257.9 46.4 L258.4 46.4 L258.9 46.2 L259.4 45.9 L259.9 45.6 L260.4 45.6 L260.9 45.8 L261.4 45.5 L261.9 45.3 L262.4 45.7 L262.9 45.7 L263.4 45.5 L263.9 45.5 L264.4 45.6 L264.9 45.6 L265.4 45.2 L265.9 45.2 L266.4 45.5 L266.9 45.6 L267.4 45.4 L267.9 45.2 L268.4 45.2 L268.9 45.5 L269.4 45.6 L269.9 45.4 L270.4 45.7 L270.9 45.7 L271.4 45.4 L271.9 45.2 L272.4 44.7 L272.9 44.4 L273.4 44.5 L273.9 44.8 L274.4 44.9 L274.9 44.9 L275.4 44.7 L275.9 44.5 L276.4 44.6 L276.9 44.5 L277.4 44.5 L277.9 44.5 L278.4 44.3 L278.9 44.2 L279.4 44.3 L279.9 44.7 L280.4 44.9 L280.9 44.7 L281.4 44.3 L281.9 44.1 L282.4 44.3 L282.9 44.3 L283.4 44.2 L283.9 44.5 L284.4 44.4 L284.9 44.2 L285.4 44.5 L285.9 44.7 L286.4 44.7 L286.9 44.6 L287.4 44.6 L287.9 44.7 L288.4 44.7 L288.9 44.5 L289.4 44.5 L289.9 44.4 L290.4 44.0 L290.9 43.8 L291.4 43.9 L291.9 44.0 L292.4 43.8 L292.9 44.0 L293.4 44.2 L293.9 43.8 L294.4 43.4 L294.9 43.7 L295.4 43.9 L295.9 43.7 L296.4 43.5 L296.9 43.3 L297.4 43.6 L297.9 43.8 L298.4 43.7 L298.9 43.5 L299.4 43.7 L299.9 43.9 L300.4 43.8 L300.9 43.5 L301.4 43.7 L301.9 44.1 L302.4 43.7 L302.9 43.4 L303.4 43.4 L303.9 43.5 L304.4 44.1 L304.9 44.2 L305.4 43.5 L305.9 43.3 L306.4 43.9 L306.9 44.2 L307.4 44.2 L307.9 44.0 L308.4 43.6 L308.9 43.3 L309.4 43.1 L309.9 43.3 L310.4 43.7 L310.9 43.9 L311.4 44.2 L311.9 43.9 L312.4 43.6 L312.9 44.0 L313.4 44.3 L313.9 43.9 L314.4 43.5 L314.9 43.8 L315.4 44.0 L315.9 43.6 L316.4 43.5 L316.9 43.9 L317.4 43.7 L317.9 43.4 L318.4 43.3 L318.9 43.5 L319.4 43.7 L319.9 43.9 L320.4 44.1 L320.9 43.8 L321.4 43.4 L321.9 43.7 L322.4 44.0 L322.9 44.0 L323.4 43.9 L323.9 43.5 L324.4 43.5 L324.9 43.7 L325.4 43.2 L325.9 43.1 L326.4 43.6 L326.9 43.6 L327.4 43.3 L327.9 43.1 L328.4 43.0 L328.9 43.2 L329.4 43.5 L329.9 43.4 L330.4 43.2 L330.9 43.4 L331.4 43.3 L331.9 43.3 L332.4 43.7 L332.9 43.6 L333.4 43.5 L333.9 43.8 L334.4 43.7 L334.9 43.7 L335.4 43.9 L335.9 44.0 L336.4 43.9 L337.0 43.8 L337.5 43.8 L338.0 43.8 L338.5 43.6 L339.0 43.7 L339.5 44.2 L340.0 44.0 L340.5 44.0 L341.0 44.3 L341.5 44.0 L342.0 43.6 L342.5 43.6 L343.0 43.6 L343.5 44.0 L344.0 44.1 L344.5 43.6 L345.0 43.5 L345.5 43.7 L346.0 44.1 L346.5 44.8 L347.0 45.1 L347.5 44.9 L348.0 45.1 L348.5 45.4 L349.5 52.0 L350.0 53.5 L350.5 57.7 L351.0 63.6 L351.5 76.4 L352.0 93.0 L352.5 101.8 L353.0 108.0 L353.5 113.2 L354.0 117.6 L354.5 122.6 L355.0 127.9 L355.5 132.9 L356.0 137.2 L356.5 140.8 L357.0 144.3 L357.5 148.1 L358.0 151.6 L358.5 154.7 L359.0 157.7 L359.5 160.8 L360.0 163.9 L360.5 166.6 L361.0 169.3 L361.5 171.8 L362.0 174.2 L362.6 176.6 L363.1 178.8 L363.6 180.9 L364.1 183.0 L364.6 184.9 L365.1 186.7 L365.6 188.4 L366.1 190.4 L366.6 192.5 L367.1 193.9 L367.6 195.3 L368.1 197.2 L368.6 199.5 L369.1 201.6 L369.6 203.2 L370.1 204.5 L370.6 205.7 L371.1 207.2 L371.6 208.9 L372.1 210.1 L372.6 210.9 L373.1 211.9 L373.6 212.8 L374.1 213.5 L374.6 214.4 L375.1 215.1 L375.6 215.8 L376.1 217.1 L376.6 218.2 L377.1 218.6 L377.6 219.4 L378.1 220.6 L378.6 221.4 L379.1 222.2 L379.6 222.9 L380.1 223.2 L380.6 223.8 L381.2 224.4 L381.7 224.8 L382.2 225.4 L382.7 226.1 L383.2 226.8 L383.7 227.1 L384.2 227.4 L384.7 227.8 L385.2 228.2 L385.7 228.5 L386.2 228.9 L386.7 229.4 L387.2 229.8 L387.7 230.2 L388.2 230.9 L388.7 231.9 L389.2 232.4 L389.7 232.4 L390.2 232.9 L390.7 233.7 L391.2 233.9 L391.7 234.1 L392.2 234.7 L392.7 235.4 L393.2 236.0 L393.7 236.6 L394.2 237.1 L394.7 237.3 L395.2 237.6 L395.7 238.3 L396.2 239.0 L396.7 239.4 L397.2 239.8 L397.7 240.6 L398.2 241.0 L398.7 241.0 L399.2 241.2 L399.8 241.7 L400.3 242.3 L400.8 242.9 L401.3 243.1 L401.8 243.5 L402.3 243.9 L402.8 244.4 L403.3 245.2 L403.8 245.6 L404.3 245.4 L404.8 245.8 L405.3 246.5 L405.8 246.8 L406.3 247.1 L406.8 247.3 L407.3 247.8 L407.8 248.4 L408.3 248.8 L408.8 249.1 L409.3 249.5 L409.8 249.6 L410.3 249.8 L410.8 250.5 L411.3 250.9 L411.8 251.2 L412.3 251.8 L412.8 252.0 L413.3 251.8 L413.8 252.2 L414.3 253.1 L414.8 253.4 L415.3 253.1 L415.8 253.1 L416.3 253.4 L416.8 253.7 L417.3 253.9 L417.8 254.4 L418.4 254.5 L418.9 255.0 L419.4 255.6 L419.9 255.9 L420.4 256.2 L420.9 256.9 L421.4 257.2 L421.9 257.3 L422.4 257.5 L422.9 258.0 L423.4 258.8 L423.9 258.9 L424.4 258.9 L424.9 259.4 L425.4 260.0 L425.9 260.6 L426.4 261.2 L426.9 261.4 L427.4 261.3 L427.9 261.4 L428.4 261.8 L428.9 262.4 L429.4 263.3 L429.9 264.0 L430.4 263.8 L430.9 263.5 L431.4 264.0 L432.3 264.3 L432.8 261.0 L433.3 257.9 L433.8 255.3 L434.3 252.6 L434.8 249.7 L435.3 246.9 L435.8 244.5 L436.3 241.9 L436.8 239.2 L437.3 236.7 L437.8 234.6 L438.3 232.6 L438.8 230.4 L439.3 228.7 L439.8 227.0 L440.3 225.2 L440.8 223.3 L441.3 221.6 L441.8 220.3 L442.3 218.8 L442.8 216.7 L443.3 214.5 L443.8 213.0 L444.3 212.1 L444.8 210.7 L445.3 208.9 L445.8 207.2 L446.3 205.3 L446.8 203.7 L447.3 202.3 L447.8 200.8 L448.3 199.2 L448.8 198.2 L449.3 197.0 L449.8 195.1 L450.3 193.6 L450.8 192.6 L451.3 191.1 L451.8 189.7 L452.3 189.0 L452.8 187.9 L453.3 186.8 L453.8 185.9 L454.3 184.5 L454.8 182.9 L455.3 181.7 L455.8 180.4 L456.3 179.3 L456.8 178.3 L457.3 177.1 L457.8 176.1 L458.3 175.4 L458.8 174.4 L459.3 173.1 L459.8 171.9 L460.3 170.9 L460.8 169.9 L461.3 168.8 L461.8 167.7 L462.3 166.2 L462.8 164.9 L463.3 163.8 L463.8 163.0 L464.4 162.5 L464.9 161.6 L465.4 160.3 L465.9 159.2 L466.4 158.2 L466.9 157.0 L467.4 156.1 L467.9 155.2 L468.4 154.2 L468.9 153.5 L469.4 152.7 L469.9 151.6 L470.4 150.4 L470.9 149.8 L471.4 149.3 L471.9 148.3 L472.4 147.6 L472.9 146.7 L473.4 145.3 L473.9 144.4 L474.4 144.0 L474.9 143.2 L475.4 141.8 L475.9 140.9 L476.4 140.4 L476.9 139.7 L477.4 138.8 L477.9 137.7 L478.4 136.5 L478.9 135.8 L479.4 135.2 L479.9 133.8 L480.4 132.5 L480.9 132.0 L481.4 131.7 L481.9 131.1 L482.4 130.0 L482.9 129.1 L483.4 128.6 L483.9 127.9 L484.4 126.9 L484.9 126.1 L485.4 125.1 L485.9 124.1 L486.4 123.3 L486.9 122.4 L487.4 121.6 L487.9 120.9 L488.4 120.1 L488.9 119.6 L489.4 119.0 L489.9 117.9 L490.4 117.0 L490.9 116.4 L491.4 116.0 L491.9 115.5 L492.4 114.9 L492.9 114.2 L493.4 113.4 L493.9 112.6 L494.4 111.9 L494.9 111.6 L495.4 111.1 L495.9 110.5 L496.4 110.2 L496.9 109.3 L497.4 108.2 L497.9 107.7 L498.4 107.5 L498.9 107.6 L499.4 107.4 L499.9 106.4 L500.4 105.6 L500.9 105.2 L501.4 104.8 L501.9 104.6 L502.4 104.0 L503.0 103.4 L503.5 102.9 L504.0 102.3 L504.5 102.0 L505.0 101.8 L505.5 101.2 L506.0 100.3 L506.5 99.7 L507.0 99.5 L507.5 99.3 L508.0 98.9 L508.5 98.3 L509.0 98.0 L509.5 97.9 L510.0 97.5 L510.5 97.2 L511.0 96.9 L511.5 96.4 L512.0 96.0 L512.5 95.7 L513.0 95.1 L513.5 94.4 L514.0 94.1 L514.5 93.8 L515.0 93.1 L515.5 92.5 L516.0 92.0 L516.5 91.8 L517.0 91.7 L517.5 91.4 L518.0 91.1 L518.5 91.1 L519.0 90.7 L519.5 90.0 L520.0 89.5 L520.5 89.0 L521.0 88.7 L521.5 88.5 L522.0 88.4 L522.5 87.9 L523.0 87.4 L523.5 87.1 L524.0 86.9 L524.5 87.0 L525.0 87.1 L525.5 86.6 L526.0 85.7 L526.5 85.0 L527.0 84.5 L527.5 84.5 L528.0 84.6 L528.5 84.3 L529.0 83.9 L529.5 83.7 L530.0 83.6 L530.5 83.5 L531.0 82.9 L531.5 82.3 L532.0 82.2 L532.5 82.0 L533.0 81.4 L533.5 80.9 L534.0 80.5 L534.5 80.4 L535.0 80.9 L535.5 80.9 L536.0 80.2 L536.5 79.9 L537.0 79.5 L537.5 78.9 L538.0 78.7 L538.5 78.5 L539.0 78.4 L539.5 78.3 L540.0 77.6 L540.5 77.5 L541.0 77.4 L541.5 77.0 L542.1 76.9 L542.6 76.8 L543.1 76.5 L543.6 76.2 L544.1 75.7 L544.6 75.3 L545.1 75.7 L545.6 75.9 L546.1 75.5 L546.6 74.8 L547.1 74.1 L547.6 73.8 L548.1 73.6 L548.6 73.5 L549.1 73.5 L549.6 73.1 L550.1 72.6 L550.6 72.2 L551.1 72.3 L551.6 72.3 L552.1 71.9 L552.6 71.9 L553.1 72.0 L553.6 71.3 L554.1 70.8 L554.6 71.0 L555.1 71.4 L555.6 71.5 L556.1 70.9 L556.6 70.2 L557.1 70.2 L557.6 70.2 L558.1 70.0 L558.6 70.1 L559.1 70.1 L559.6 69.6 L560.1 69.4 L560.6 69.5 L561.1 69.2 L561.6 68.7 L562.1 68.6 L562.6 68.3 L563.1 67.9 L563.6 67.9 L564.1 67.7 L564.6 67.2 L565.1 66.9 L565.6 67.1 L566.1 67.7 L566.6 67.8 L567.1 67.4 L567.6 67.0 L568.1 66.6 L568.6 66.4 L569.1 66.2 L569.6 65.7 L570.1 65.6 L570.6 65.7 L571.1 65.4 L571.6 65.2 L572.1 65.3 L572.6 65.3 L573.1 65.3 L573.6 65.0 L574.1 64.7 L574.6 64.6 L575.1 64.3 L575.6 64.0 L576.1 64.0 L576.6 64.2 L577.1 64.2 L577.6 63.9 L578.1 63.2 L578.6 63.0 L579.1 63.1 L579.6 63.0 L580.1 62.7 L580.6 62.6 L581.2 62.7 L581.7 62.4 L582.2 62.2 L582.7 62.4 L583.2 62.3 L583.7 61.9 L584.2 61.7 L584.7 61.6 L585.2 61.5 L585.7 61.2 L586.2 60.8 L586.7 60.6 L587.2 60.5 L587.7 60.6 L588.2 60.5 L588.7 60.3 L589.2 59.6 L589.7 59.1 L590.2 59.3 L590.7 59.4 L591.2 59.7 L591.7 59.9 L592.2 59.6 L592.7 59.3 L593.2 59.2 L593.7 59.0 L594.2 58.8 L594.7 58.6 L595.2 58.7 L595.7 59.0 L596.2 59.0 L596.7 58.8 L597.2 58.6 L597.7 58.4 L598.2 58.3 L598.7 58.4 L599.2 58.4 L599.7 58.1 L600.2 57.7 L600.7 57.8 L601.2 58.0 L601.7 57.8 L602.2 57.7 L602.7 58.0 L603.2 57.9 L603.7 57.6 L604.2 57.5 L604.7 57.8 L605.2 57.6 L605.7 57.2 L606.2 56.9 L606.7 56.4 L607.2 56.4 L607.7 56.9 L608.2 57.0 L608.7 56.6 L609.2 56.3 L609.7 56.2 L610.2 56.3 L610.7 56.5 L611.2 56.9 L611.7 57.5 L612.2 57.8 L612.7 57.4 L613.2 56.8 L613.7 56.3 L614.2 56.1 L614.7 56.7 L615.2 57.5 L615.7 57.9 L616.2 58.2 L616.7 58.3 L617.2 58.5 L617.7 58.9 L618.2 59.2 L618.7 59.3 L619.2 59.9 L619.8 61.2 L620.3 63.1 L620.8 65.0 L621.3 66.4 L621.8 68.1 L622.3 71.2 L622.8 77.0 L623.3 85.8 L623.8 98.1 L624.3 130.6 L624.8 182.3 L625.7 272.3 L626.2 270.1 L626.7 267.8 L627.2 265.7 L627.7 263.8 L628.2 261.9 L628.7 259.9 L629.2 257.9 L629.7 255.7 L630.2 253.8 L630.7 252.1 L631.2 250.3 L631.7 248.7 L632.2 246.8 L632.7 244.7 L633.2 243.0 L633.7 241.5 L634.2 239.8 L634.7 238.3 L635.2 237.0 L635.7 235.4 L636.2 233.7 L636.7 232.0 L637.2 230.3 L637.7 228.5 L638.2 226.9 L638.7 225.4 L639.2 223.6 L639.7 221.7 L640.2 219.9 L640.7 218.5 L641.2 217.1 L641.7 215.3 L642.2 213.7 L642.7 212.6 L643.2 211.4 L643.7 209.4 L644.2 207.7 L644.7 205.9 L645.2 204.0 L645.7 202.7 L646.2 201.7 L646.7 200.4 L647.2 198.8 L647.7 197.1 L648.2 195.8 L648.7 194.5 L649.2 193.0 L649.7 191.5 L650.2 190.0 L650.7 188.9 L651.2 188.1 L651.7 187.1 L652.2 185.5 L652.7 184.1 L653.2 183.0 L653.8 182.0 L654.3 180.8 L654.8 179.4 L655.3 177.9 L655.8 176.6 L656.3 175.5 L656.8 174.4 L657.3 173.1 L657.8 171.6 L658.3 170.2 L658.8 169.2 L659.3 168.2 L659.8 167.6 L660.3 166.6 L660.8 165.5 L661.3 164.9 L661.8 164.2 L662.3 163.4 L662.8 162.8 L663.3 161.8 L663.8 160.4 L664.3 159.7 L664.8 159.0 L665.3 158.1 L665.8 157.2 L666.3 156.1 L666.8 155.0 L667.3 154.2 L667.8 153.5 L668.3 152.7 L668.8 151.7 L669.3 151.1 L669.8 150.7 L670.3 150.0 L670.8 148.9 L671.3 147.7 L671.8 146.9 L672.3 146.4 L672.8 145.7 L673.3 145.0 L673.8 144.4 L674.3 143.6 L674.8 142.7 L675.3 142.0 L675.8 141.2 L676.3 140.5 L676.8 139.9 L677.3 139.1 L677.8 138.1 L678.3 137.4 L678.8 136.8 L679.3 136.2 L679.8 135.4 L680.3 134.6 L680.8 133.8 L681.3 133.1 L681.8 132.4 L682.3 131.2 L682.8 130.3 L683.3 130.0 L683.8 129.3 L684.3 128.2 L684.8 127.5 L685.3 127.1 L685.8 126.8 L686.3 125.8 L686.8 124.7 L687.3 124.1 L687.8 123.7 L688.3 123.1 L688.8 121.8 L689.3 120.8 L689.8 120.5 L690.3 120.0 L690.8 119.1 L691.3 118.3 L691.8 118.3 L692.3 117.8 L692.8 116.9 L693.3 116.4 L693.8 116.1 L694.3 115.8 L694.8 115.1 L695.3 114.3 L695.8 113.9 L696.3 113.3 L696.8 112.6 L697.3 112.1 L697.8 111.2 L698.3 110.7 L698.8 110.8 L699.3 110.1 L699.8 109.4 L700.3 108.9 L700.8 108.0 L701.3 107.5 L701.8 107.3 L702.3 107.0 L702.8 106.8 L703.3 106.5 L703.8 105.9 L704.3 105.5 L704.8 105.0 L705.3 104.3 L705.8 103.8 L706.3 103.5 L706.8 103.4 L707.3 103.0 L707.8 102.2 L708.3 101.6 L708.8 101.2 L709.3 101.0 L709.8 100.7 L710.3 100.2 L710.8 99.7 L711.3 99.7 L711.8 99.3 L712.3 98.7 L712.8 98.4 L713.3 97.9 L713.8 97.3 L714.3 96.9 L714.8 96.4 L715.3 96.0 L715.8 96.0 L716.3 96.1 L716.8 95.7 L717.3 95.1 L717.8 94.8 L718.3 94.3 L718.8 93.9 L719.3 93.6 L719.8 93.4 L720.3 93.3 L720.8 92.4 L721.3 91.8 L721.8 91.7 L722.3 91.2 L722.8 90.4 L723.3 89.9 L723.8 90.2 L724.3 90.3 L724.8 90.0 L725.3 89.8 L725.8 89.5 L726.3 88.9 L726.8 88.5 L727.3 87.9 L727.8 87.6 L728.3 87.7 L728.8 87.2 L729.3 86.5 L729.8 86.4 L730.3 86.1 L730.8 85.7 L731.3 85.6 L731.8 85.1 L732.3 84.4 L732.8 84.5 L733.3 84.6 L733.8 84.1 L734.3 83.9 L734.8 83.9 L735.3 83.5 L735.8 82.9 L736.3 82.6 L736.8 82.7 L737.3 82.5 L737.8 81.9 L738.3 81.6 L738.8 81.9 L739.3 81.8 L739.8 81.3 L740.3 80.8 L740.8 80.7 L741.3 80.6 L741.8 80.3 L742.3 79.8 L742.8 79.6 L743.3 79.4 L743.8 79.1 L744.3 79.0 L744.8 78.9 L745.3 78.6 L745.8 78.4 L746.3 78.0 L746.8 77.9 L747.3 78.0 L747.8 77.9 L748.3 77.6 L748.8 76.9 L749.3 76.6 L749.8 76.8 L750.3 77.1 L750.8 77.2 L751.3 76.6 L751.8 76.1 L752.3 75.9 L752.8 75.5 L753.3 75.4 L753.8 75.9 L754.3 75.7 L754.8 75.3 L755.3 75.3 L755.8 75.2 L756.3 75.0 L756.8 74.5 L757.3 73.9 L757.8 73.7 L758.3 74.2 L758.8 74.2 L759.3 73.8 L759.8 73.4 L760.3 73.1 L760.8 73.0 L761.3 73.1 L761.8 73.0 L762.3 72.7 L762.8 72.5 L763.3 72.4 L763.8 72.2 L764.3 71.8 L764.8 71.4 L765.3 71.6 L765.8 71.8 L766.3 71.2 L766.8 70.9 L767.3 71.1 L767.8 71.0 L768.3 70.5 L768.8 70.0 L769.3 69.9 L769.8 69.6 L770.3 69.5 L770.8 69.6 L771.3 69.6 L771.8 69.9 L772.3 70.2 L772.8 69.7 L773.3 69.0 L773.8 68.5 L774.3 68.1 L774.8 68.0 L775.3 67.8 L775.8 67.7 L776.3 67.6 L776.8 67.5 L777.3 67.2 L777.8 66.8 L778.3 66.9 L778.8 67.2 L779.3 67.3 L779.8 67.3 L780.3 67.1 L780.8 66.7 L781.3 66.4 L781.8 66.3 L782.3 66.7 L782.8 66.6 L783.3 65.8 L783.8 65.4 L784.3 65.2 L784.8 64.9 L785.3 64.9 L785.8 65.2 L786.3 65.0 L786.8 64.8 L787.3 64.6 L787.8 64.3 L788.3 64.2 L788.8 63.9 L789.3 63.7 L789.8 63.7 L790.3 63.7 L790.8 63.7 L791.3 63.6 L791.8 63.3 L792.3 62.9 L792.8 62.5 L793.3 62.0 L793.8 61.7 L794.3 61.9 L794.8 61.7 L795.3 61.4 L795.8 61.3 L796.3 61.0 L796.8 60.8 L797.3 60.8 L797.8 60.4 L798.3 60.0 L798.8 60.3 L799.3 60.1 L799.8 59.5 L800.3 59.0 L800.8 58.6 L801.3 58.7 L801.8 59.0 L802.3 58.9 L802.8 58.6 L803.3 58.8 L803.8 59.2 L804.3 58.9 L804.8 58.8 L805.3 59.2 L805.8 59.1 L806.3 58.8 L806.8 58.5 L807.3 58.2 L807.8 58.3 L808.3 58.5 L808.8 58.7 L809.3 58.9 L809.8 59.0 L810.3 59.0 L810.8 58.8 L811.3 58.3 L811.8 58.0 L812.3 58.1 L812.8 58.1 L813.3 57.9 L813.8 57.6 L814.3 57.2 L814.8 57.0 L815.3 57.1 L815.8 57.1 L816.3 57.0 L816.8 57.1 L817.3 56.8 L817.8 56.6 L818.3 56.9 L818.8 57.1 L819.3 56.9 L819.8 57.0 L820.3 57.2 L820.8 56.9 L821.3 56.7 L821.8 56.8 L822.3 56.6 L822.9 56.2 L823.4 56.2 L823.9 56.4 L824.4 56.3 L824.9 56.3 L825.4 56.4 L825.9 56.0 L826.4 55.9 L826.9 56.3 L827.4 56.6 L827.9 56.4 L828.4 56.2 L828.9 56.4 L829.4 56.7 L829.9 56.5 L830.4 56.1 L830.9 56.1 L831.4 56.0 L831.9 55.7 L832.4 56.0 L832.9 56.4 L833.4 56.3 L833.9 56.2 L834.4 56.6 L834.9 56.9 L835.4 56.7 L835.9 56.4 L836.4 56.5 L836.9 56.7 L837.4 56.4 L837.9 56.4 L838.4 56.9 L838.9 57.0 L839.4 56.2 L839.9 55.7 L840.4 55.9 L840.9 56.3 L841.4 56.7 L841.9 57.0 L842.4 56.9 L842.9 56.8 L843.4 56.8 L843.9 56.8 L844.4 56.9 L844.9 57.4 L845.4 57.9 L845.9 57.7 L846.4 57.1 L846.9 57.0 L847.4 57.0 L847.9 57.0 L848.4 57.1 L848.9 57.5 L849.4 57.8 L849.9 57.7 L850.4 57.4 L850.9 57.3 L851.4 57.5 L851.9 57.9 L852.4 58.3 L852.9 58.5 L853.4 58.6 L853.9 58.8 L854.4 58.9 L854.9 58.5 L855.4 58.2 L855.9 58.5 L856.4 59.3 L856.9 59.6 L857.4 59.6 L857.9 59.5 L858.4 59.3 L858.9 59.2 L859.4 59.4 L859.9 59.7 L860.4 59.7 L860.9 59.5 L861.4 59.5 L861.9 59.7 L862.4 59.6 L862.9 59.6 L863.4 59.9 L863.9 59.8 L864.4 59.8 L864.9 60.0 L865.4 60.0 L865.9 59.7 L866.4 59.5 L866.9 59.2 L867.4 58.9 L867.9 59.0 L868.4 59.2 L868.9 59.1 L869.4 59.0 L869.9 58.8 L870.4 58.5 L870.9 58.5 L871.4 58.6 L871.9 58.6 L872.4 58.6 L872.9 58.2 L873.4 57.8 L873.9 57.4 L874.4 57.3 L874.9 57.1 L875.4 56.8 L875.9 56.8 L876.4 56.8 L876.9 56.9 L877.4 56.9 L877.9 56.7 L878.4 56.8 L878.9 57.0 L879.4 56.8 L879.9 57.1 L880.4 57.4 L880.9 57.0 L881.4 57.3 L881.9 57.7 L882.4 58.0 L882.9 58.2 L883.4 58.0 L883.9 58.5 L884.4 59.0 L884.9 58.8 L885.4 58.5 L885.9 58.3 L886.4 58.3 L886.9 58.3 L887.4 58.1 L887.9 58.2 L888.4 58.3 L888.9 57.9 L889.4 57.8 L889.9 57.8 L890.4 57.7 L890.9 58.0 L891.4 57.8 L891.9 57.3 L892.4 57.3 L892.9 57.2 L893.4 57.2 L893.9 57.2 L894.4 57.2 L894.9 57.3 L895.4 57.2 L895.9 57.3 L896.4 57.3 L896.9 57.2 L897.4 56.9 L897.9 56.6 L898.4 56.6 L898.9 57.0 L899.4 57.4 L899.9 57.6 L900.4 57.3 L900.9 56.9 L901.4 56.6 L901.9 56.6 L902.4 56.7 L902.9 57.0 L903.4 56.7 L903.9 56.2 L904.4 56.2 L904.9 56.6 L905.4 56.4 L905.9 56.3 L906.4 56.3 L906.9 56.0 L907.4 55.7 L907.9 55.4 L908.4 55.3 L908.9 55.5 L909.4 55.3 L909.9 55.1 L910.4 55.2 L910.9 55.4 L911.4 55.2 L911.9 54.9 L912.4 54.5 L912.9 54.5 L913.4 54.5 L913.9 54.7 L914.4 54.8 L914.9 54.9 L915.4 55.1 L915.9 54.9 L916.4 54.6 L916.9 54.4 L917.4 54.4 L917.9 54.6 L918.4 54.5 L918.9 54.2 L919.4 54.4 L919.9 54.6 L920.4 54.5 L920.9 54.2 L921.4 53.7 L921.9 53.9 L922.4 54.4 L922.9 54.2 L923.4 53.8 L923.9 53.9 L924.4 53.7 L924.9 53.2 L925.4 53.0 L925.9 53.3 L926.4 53.8 L926.9 53.9 L927.4 53.9 L927.9 54.0 L928.4 53.8 L928.9 53.4 L929.4 53.4 L929.9 53.4 L930.4 53.3 L930.9 53.5 L931.4 53.6 L931.9 53.5 L932.4 53.3 L932.9 53.7 L933.4 54.0 L933.9 53.5 L934.4 53.1 L934.9 53.6 L935.4 53.9 L935.9 53.7 L936.4 53.5 L936.9 53.6 L937.4 53.3 L937.9 53.1 L938.4 53.2 L938.9 53.5 L939.4 53.7 L939.9 53.7 L940.4 53.6 L940.9 53.6 L941.4 53.6 L941.9 53.3 L942.4 52.8 L942.9 52.7 L943.4 53.0 L943.9 52.8 L944.4 52.8 L944.9 52.9 L945.4 52.7 L945.9 52.9 L946.4 52.8 L946.9 52.4 L947.4 52.9 L947.9 53.4 L948.4 52.9 L948.9 52.6 L949.4 52.9 L949.9 52.8 L950.4 52.3 L950.9 52.2 L951.4 52.3 L951.9 52.3 L952.4 52.3 L952.9 52.2 L953.4 52.0 L953.9 51.8 L954.4 51.6 L954.9 51.6 L955.4 51.6 L955.9 51.5 L956.4 51.5 L956.9 51.8 L957.4 51.5 L957.9 51.2 L958.4 51.4 L958.9 51.3 L959.4 51.3 L959.9 51.3 L960.4 51.2 L960.9 51.1 L961.4 50.9 L961.9 51.2 L962.4 51.2 L962.9 50.6 L963.4 50.6 L963.9 50.8 L964.4 50.4 L964.9 50.5 L965.4 51.0 L965.9 51.1 L966.4 51.1 L966.9 50.9 L967.4 50.6 L967.9 50.7 L968.4 50.8 L968.9 50.8 L969.4 50.6 L969.9 50.4 L970.4 50.5 L970.9 50.7 L971.4 50.4 L971.9 49.9 L972.4 49.9 L972.9 50.0 L973.4 49.9 L973.9 49.7 L974.4 49.7 L974.9 49.8 L975.4 50.1 L975.9 50.2 L976.4 50.3 L976.9 50.4 L977.4 50.5 L977.9 50.7 L978.4 50.5 L978.9 49.9 L979.4 49.3 L979.9 48.9 L980.4 49.3 L980.9 49.9 L981.4 49.9 L981.9 49.7 L982.4 49.8 L982.9 49.8 L983.4 49.3 L983.9 48.9 L984.4 49.1 L984.9 49.4 L985.4 49.5 L985.9 49.2 L986.4 49.1 L986.9 49.4 L987.4 49.5 L987.9 49.4 L988.4 49.5 L988.9 49.4 L989.4 48.9 L989.9 48.3 L990.4 48.4 L990.9 49.0 L991.5 49.0 L992.0 48.7 L992.5 48.5 L993.0 48.5 L993.5 48.4 L994.0 48.2 L994.5 48.4 L995.0 48.8 L995.5 48.5 L996.0 48.0 L996.5 47.7 L997.0 47.9 L997.5 48.3 L998.0 48.4 L998.5 48.1 L999.0 48.0 L999.5 47.8 L1000.0 47.9 L1000.5 48.2 L1001.0 48.6 L1001.5 48.6 L1002.0 48.2 L1002.5 48.1 L1003.0 48.4 L1003.5 48.2 L1004.0 47.9 L1004.5 48.1 L1005.0 48.6 L1005.5 48.8 L1006.0 48.9 L1006.5 49.2 L1007.0 49.3 L1007.5 49.1 L1008.0 48.9 L1008.5 48.9 L1009.0 49.1 L1009.5 49.2 L1010.0 49.1 L1010.5 49.0 L1011.0 48.7 L1011.5 48.4 L1012.0 48.6 L1012.5 49.0 L1013.0 49.3 L1013.5 49.4 L1014.0 49.2 L1014.5 49.3 L1015.0 49.5 L1015.5 49.3 L1016.0 48.9 L1016.5 48.8 L1017.0 48.8 L1017.5 48.7 L1018.0 49.0 L1018.5 49.2 L1019.0 49.2 L1019.5 49.3 L1020.0 49.1 L1020.5 48.9 L1021.0 48.8 L1021.5 48.9 L1022.0 49.1 L1022.5 49.5 L1023.0 49.8 L1023.5 49.8 L1024.0 49.6 L1024.5 49.3 L1025.0 49.2 L1025.5 49.3 L1026.0 49.6 L1026.5 49.9 L1027.0 50.2 L1027.5 50.4 L1028.0 50.4 L1028.5 50.3 L1029.0 50.2 L1029.5 50.2 L1030.0 50.4 L1030.5 50.3 L1031.0 50.0 L1031.5 50.4 L1032.0 50.7 L1032.5 50.3 L1033.0 49.8 L1033.5 49.6 L1034.0 49.7 L1034.5 50.1 L1035.0 50.2 L1035.5 50.3 L1036.0 50.8 L1036.5 50.7 L1037.0 50.1 L1037.5 50.1 L1038.0 50.2 L1038.5 50.1 L1039.0 50.0 L1039.5 50.1 L1040.0 50.3 L1040.5 50.2 L1041.0 50.1 L1041.5 50.3 L1042.0 50.3 L1042.5 50.1 L1043.0 50.3 L1043.5 50.5 L1044.0 50.4 L1044.5 50.1 L1045.0 50.0 L1045.5 50.0 L1046.0 50.2 L1046.5 50.5 L1047.0 50.5 L1047.5 50.3 L1048.0 50.8 L1048.5 51.3 L1049.0 51.2 L1049.5 51.2 L1050.0 51.5 L1050.5 51.3 L1051.0 51.0 L1051.5 51.1 L1052.0 51.6 L1052.5 52.0 L1053.0 52.1 L1053.5 51.7 L1054.0 51.2 L1054.5 51.2 L1055.0 51.2 L1055.5 51.2 L1056.0 51.1 L1056.5 51.4 L1057.0 51.6 L1057.5 51.6 L1058.0 51.4 L1058.5 51.0 L1059.0 50.8 L1059.5 51.1 L1060.0 51.6 L1060.5 51.6 L1061.0 51.4 L1061.5 51.4 L1062.0 51.4 L1062.5 51.5 L1063.0 51.3 L1063.5 51.0 L1064.0 51.0 L1064.5 50.7 L1065.0 50.3 L1065.5 50.3 L1066.0 50.6 L1066.5 50.7 L1067.0 50.6 L1067.5 50.7 L1068.0 50.8 L1068.5 50.4 L1069.0 50.3 L1069.5 50.7 L1070.0 50.8 L1070.5 50.2 L1071.0 49.6 L1071.5 49.7 L1072.0 50.0 L1072.5 50.2 L1073.0 50.2" fill="none" stroke="#e8202a" stroke-width="4.6" stroke-linejoin="round"/>
<path d="M106.7 307.1 L107.7 307.1 L108.7 307.1 L109.7 307.0 L110.7 307.0 L111.7 307.0 L112.7 307.0 L113.7 307.0 L114.7 306.9 L115.7 306.9 L116.7 306.9 L117.7 306.9 L118.7 306.9 L119.7 306.8 L120.7 306.8 L121.7 306.8 L122.7 306.8 L123.7 306.8 L124.7 306.7 L125.7 306.7 L126.7 306.7 L127.7 306.7 L128.7 306.7 L129.7 306.6 L130.7 306.6 L131.7 306.6 L132.7 306.6 L133.7 306.6 L134.7 306.5 L135.7 306.5 L136.7 306.5 L137.7 306.5 L138.7 306.5 L139.7 306.4 L140.7 306.4 L141.7 306.4 L142.7 306.4 L143.7 306.4 L144.7 306.4 L145.7 306.3 L146.7 306.3 L147.7 306.3 L148.7 306.3 L149.7 306.3 L150.7 306.2 L151.7 306.2 L152.7 306.2 L153.7 306.2 L154.7 306.2 L155.7 306.1 L156.7 306.1 L157.7 306.1 L158.7 306.1 L159.7 306.1 L160.7 306.1 L161.7 306.0 L162.8 306.0 L163.8 306.0 L164.8 306.0 L165.8 306.0 L166.8 306.0 L167.8 305.9 L168.8 305.9 L169.8 305.9 L170.8 305.9 L171.8 305.9 L172.8 305.9 L173.8 305.8 L174.8 305.8 L175.8 305.8 L176.8 305.8 L177.8 305.8 L178.8 305.8 L179.8 305.7 L180.8 305.7 L181.8 305.7 L182.8 305.7 L183.8 305.7 L184.8 305.7 L185.8 305.7 L186.8 305.6 L187.8 305.6 L188.8 305.6 L189.8 305.6 L190.8 305.6 L191.8 305.6 L192.8 305.6 L193.8 305.5 L194.8 305.5 L195.8 305.5 L196.8 305.5 L197.8 305.5 L198.8 305.5 L199.8 305.5 L200.8 305.4 L201.8 305.4 L202.8 305.4 L203.8 305.4 L204.8 305.4 L205.8 305.4 L206.8 305.4 L207.8 305.4 L208.8 305.3 L209.8 305.3 L210.8 305.3 L211.8 305.3 L212.8 305.3 L213.8 305.3 L214.8 305.3 L215.8 305.3 L216.8 305.2 L217.8 305.2 L218.8 305.2 L219.8 305.2 L220.8 305.2 L221.8 305.2 L222.8 305.2 L223.9 305.2 L224.9 305.2 L225.9 305.1 L226.9 305.1 L227.9 305.1 L228.9 305.1 L229.9 305.1 L230.9 305.1 L231.9 305.1 L232.9 305.1 L233.9 305.0 L234.9 305.0 L235.9 305.0 L236.9 305.0 L237.9 305.0 L238.9 305.0 L239.9 305.0 L240.9 305.0 L241.9 305.0 L242.9 304.9 L243.9 304.9 L244.9 304.9 L245.9 304.9 L246.9 304.9 L247.9 304.9 L248.9 304.9 L249.9 304.9 L250.9 304.8 L251.9 304.8 L252.9 304.8 L253.9 304.8 L254.9 304.8 L255.9 304.8 L256.9 304.8 L257.9 304.8 L258.9 304.8 L259.9 304.8 L260.9 304.7 L261.9 304.7 L262.9 304.7 L263.9 304.7 L264.9 304.7 L265.9 304.7 L266.9 304.7 L267.9 304.7 L268.9 304.7 L269.9 304.6 L270.9 304.6 L271.9 304.6 L272.9 304.6 L273.9 304.6 L274.9 304.6 L275.9 304.6 L276.9 304.6 L277.9 304.6 L278.9 304.6 L279.9 304.5 L280.9 304.5 L281.9 304.5 L282.9 304.5 L283.9 304.5 L284.9 304.5 L286.0 304.5 L287.0 304.5 L288.0 304.5 L289.0 304.5 L290.0 304.5 L291.0 304.4 L292.0 304.4 L293.0 304.4 L294.0 304.4 L295.0 304.4 L296.0 304.4 L297.0 304.4 L298.0 304.4 L299.0 304.4 L300.0 304.4 L301.0 304.4 L302.0 304.4 L303.0 304.3 L304.0 304.3 L305.0 304.3 L306.0 304.3 L307.0 304.3 L308.0 304.3 L309.0 304.3 L310.0 304.3 L311.0 304.3 L312.0 304.3 L313.0 304.3 L314.0 304.3 L315.0 304.2 L316.0 304.2 L317.0 304.2 L318.0 304.2 L319.0 304.2 L320.0 304.2 L321.0 304.2 L322.0 304.2 L323.0 304.2 L324.0 304.2 L325.0 304.2 L326.0 304.2 L327.0 304.2 L328.0 304.2 L329.0 304.2 L330.0 304.1 L331.0 304.1 L332.0 304.1 L333.0 304.1 L334.0 304.1 L335.0 304.1 L336.0 304.1 L337.0 304.1 L338.0 304.1 L339.0 304.1 L340.0 304.1 L341.0 304.1 L342.0 304.1 L343.0 304.1 L344.0 304.1 L345.0 304.1 L346.0 304.1 L348.1 304.3 L349.1 296.0 L350.1 289.2 L351.1 284.3 L352.1 280.1 L353.1 276.4 L354.1 273.0 L355.1 269.9 L356.1 266.9 L357.1 263.8 L358.1 260.8 L359.1 257.9 L360.1 255.1 L361.1 252.4 L362.2 249.7 L363.2 247.2 L364.2 244.7 L365.2 242.2 L366.2 239.8 L367.2 237.4 L368.2 235.1 L369.2 232.8 L370.2 230.6 L371.2 228.4 L372.2 226.4 L373.2 224.3 L374.2 222.4 L375.2 220.5 L376.2 218.7 L377.2 217.0 L378.2 215.3 L379.2 213.6 L380.2 212.0 L381.2 210.4 L382.2 208.8 L383.2 207.3 L384.2 205.8 L385.2 204.4 L386.2 202.9 L387.2 201.6 L388.2 200.2 L389.2 198.8 L390.2 197.5 L391.2 196.2 L392.2 195.0 L393.2 193.7 L394.2 192.5 L395.2 191.2 L396.2 190.1 L397.2 188.9 L398.2 187.8 L399.2 186.6 L400.2 185.6 L401.2 184.5 L402.2 183.5 L403.2 182.5 L404.2 181.5 L405.2 180.5 L406.2 179.6 L407.2 178.6 L408.2 177.7 L409.2 176.7 L410.2 175.8 L411.2 174.9 L412.2 174.0 L413.2 173.1 L414.2 172.2 L415.2 171.3 L416.2 170.5 L417.2 169.6 L418.2 168.8 L419.2 167.9 L420.2 167.1 L421.2 166.3 L422.3 165.5 L423.3 164.7 L424.3 164.0 L425.3 163.4 L426.3 162.7 L427.3 162.1 L428.3 161.5 L429.3 161.0 L430.3 160.5 L431.3 160.0 L432.3 159.5 L432.3 159.5 L433.3 159.9 L434.3 160.2 L435.3 160.6 L436.3 160.9 L437.3 161.3 L438.3 161.6 L439.3 162.0 L440.3 162.3 L441.3 162.7 L442.3 163.0 L443.3 163.4 L444.3 163.7 L445.3 164.1 L446.3 164.4 L447.3 164.8 L448.3 165.1 L449.3 165.5 L450.3 165.9 L451.3 166.2 L452.4 166.6 L453.4 166.9 L454.4 167.3 L455.4 167.7 L456.4 168.0 L457.4 168.4 L458.4 168.8 L459.4 169.1 L460.4 169.5 L461.4 169.9 L462.4 170.3 L463.4 170.7 L464.4 171.0 L465.4 171.4 L466.4 171.8 L467.4 172.2 L468.4 172.6 L469.4 173.0 L470.4 173.4 L471.4 173.8 L472.4 174.1 L473.4 174.5 L474.4 174.9 L475.4 175.3 L476.5 175.7 L477.5 176.1 L478.5 176.5 L479.5 176.9 L480.5 177.3 L481.5 177.7 L482.5 178.1 L483.5 178.5 L484.5 178.9 L485.5 179.3 L486.5 179.7 L487.5 180.1 L488.5 180.5 L489.5 180.9 L490.5 181.3 L491.5 181.7 L492.5 182.1 L493.5 182.5 L494.5 182.9 L495.5 183.2 L496.5 183.6 L497.5 184.0 L498.5 184.4 L499.6 184.8 L500.6 185.1 L501.6 185.5 L502.6 185.9 L503.6 186.3 L504.6 186.6 L505.6 187.0 L506.6 187.3 L507.6 187.7 L508.6 188.0 L509.6 188.4 L510.6 188.7 L511.6 189.1 L512.6 189.4 L513.6 189.8 L514.6 190.1 L515.6 190.5 L516.6 190.8 L517.6 191.2 L518.6 191.5 L519.6 191.8 L520.6 192.2 L521.6 192.5 L522.6 192.8 L523.7 193.2 L524.7 193.5 L525.7 193.8 L526.7 194.2 L527.7 194.5 L528.7 194.8 L529.7 195.2 L530.7 195.5 L531.7 195.8 L532.7 196.1 L533.7 196.5 L534.7 196.8 L535.7 197.1 L536.7 197.4 L537.7 197.7 L538.7 198.1 L539.7 198.4 L540.7 198.7 L541.7 199.0 L542.7 199.3 L543.7 199.6 L544.7 199.9 L545.7 200.2 L546.7 200.5 L547.8 200.8 L548.8 201.1 L549.8 201.4 L550.8 201.7 L551.8 202.0 L552.8 202.3 L553.8 202.6 L554.8 202.9 L555.8 203.2 L556.8 203.5 L557.8 203.7 L558.8 204.0 L559.8 204.3 L560.8 204.6 L561.8 204.9 L562.8 205.1 L563.8 205.4 L564.8 205.7 L565.8 205.9 L566.8 206.2 L567.8 206.5 L568.8 206.7 L569.8 207.0 L570.9 207.3 L571.9 207.5 L572.9 207.8 L573.9 208.1 L574.9 208.3 L575.9 208.6 L576.9 208.8 L577.9 209.1 L578.9 209.3 L579.9 209.6 L580.9 209.8 L581.9 210.1 L582.9 210.3 L583.9 210.5 L584.9 210.8 L585.9 211.0 L586.9 211.3 L587.9 211.5 L588.9 211.7 L589.9 211.9 L590.9 212.2 L591.9 212.4 L592.9 212.6 L593.9 212.8 L595.0 213.1 L596.0 213.3 L597.0 213.5 L598.0 213.7 L599.0 214.0 L600.0 214.2 L601.0 214.4 L602.0 214.6 L603.0 214.9 L604.0 215.1 L605.0 215.3 L606.0 215.4 L607.0 215.6 L608.0 215.8 L609.0 216.0 L610.0 216.1 L611.0 216.2 L612.0 216.4 L613.0 216.5 L614.0 216.7 L615.0 216.8 L616.0 216.9 L617.0 217.0 L618.0 217.0 L619.1 217.1 L620.1 217.0 L621.1 216.8 L622.1 216.6 L623.1 216.2 L624.5 175.4 L625.5 175.3 L626.5 175.2 L627.5 175.1 L628.5 175.0 L629.5 175.0 L630.5 174.9 L631.5 174.9 L632.5 174.8 L633.5 174.8 L634.5 174.8 L635.5 174.8 L636.5 174.7 L637.5 174.7 L638.5 174.7 L639.5 174.7 L640.5 174.7 L641.5 174.7 L642.5 174.7 L643.5 174.7 L644.5 174.8 L645.5 175.0 L646.5 175.2 L647.5 175.5 L648.5 175.9 L649.5 176.3 L650.5 176.7 L651.5 177.1 L652.5 177.6 L653.5 178.1 L654.5 178.6 L655.5 179.0 L656.5 179.5 L657.5 179.9 L658.5 180.3 L659.5 180.6 L660.5 180.9 L661.5 181.3 L662.5 181.6 L663.5 181.9 L664.5 182.2 L665.5 182.5 L666.5 182.8 L667.5 183.2 L668.5 183.5 L669.5 183.8 L670.5 184.1 L671.5 184.4 L672.5 184.7 L673.5 185.0 L674.5 185.3 L675.5 185.6 L676.5 185.9 L677.5 186.2 L678.5 186.5 L679.5 186.9 L680.5 187.2 L681.5 187.5 L682.5 187.8 L683.5 188.2 L684.5 188.5 L685.5 188.8 L686.5 189.2 L687.5 189.5 L688.5 189.9 L689.5 190.2 L690.5 190.6 L691.5 191.0 L692.5 191.4 L693.5 191.7 L694.5 192.1 L695.5 192.5 L696.5 192.9 L697.5 193.3 L698.5 193.6 L699.6 194.0 L700.6 194.3 L701.6 194.7 L702.6 195.0 L703.6 195.4 L704.6 195.7 L705.6 196.0 L706.6 196.3 L707.6 196.7 L708.6 197.0 L709.6 197.3 L710.6 197.6 L711.6 197.9 L712.6 198.2 L713.6 198.5 L714.6 198.8 L715.6 199.1 L716.6 199.4 L717.6 199.7 L718.6 200.0 L719.6 200.3 L720.6 200.5 L721.6 200.8 L722.6 201.1 L723.6 201.4 L724.6 201.7 L725.6 201.9 L726.6 202.2 L727.6 202.5 L728.6 202.7 L729.6 203.0 L730.6 203.3 L731.6 203.5 L732.6 203.8 L733.6 204.0 L734.6 204.3 L735.6 204.5 L736.6 204.8 L737.6 205.0 L738.6 205.3 L739.6 205.5 L740.6 205.7 L741.6 206.0 L742.6 206.2 L743.6 206.5 L744.6 206.7 L745.6 206.9 L746.6 207.2 L747.6 207.4 L748.6 207.7 L749.6 207.9 L750.6 208.1 L751.6 208.4 L752.6 208.6 L753.6 208.8 L754.6 209.1 L755.6 209.3 L756.6 209.5 L757.6 209.8 L758.6 210.0 L759.6 210.2 L760.6 210.5 L761.6 210.7 L762.6 210.9 L763.6 211.1 L764.6 211.4 L765.6 211.6 L766.6 211.8 L767.6 212.0 L768.6 212.3 L769.6 212.5 L770.6 212.7 L771.6 212.9 L772.6 213.2 L773.6 213.4 L774.6 213.6 L775.6 213.8 L776.6 214.1 L777.6 214.3 L778.6 214.5 L779.6 214.7 L780.6 214.9 L781.6 215.1 L782.7 215.4 L783.7 215.6 L784.7 215.8 L785.7 216.0 L786.7 216.2 L787.7 216.5 L788.7 216.7 L789.7 216.9 L790.7 217.1 L791.7 217.3 L792.7 217.6 L793.7 217.8 L794.7 218.0 L795.7 218.3 L796.7 218.5 L797.7 218.7 L798.7 218.9 L799.7 219.2 L800.7 219.4 L801.7 219.7 L802.7 219.9 L803.7 220.1 L804.7 220.4 L805.7 220.6 L806.7 220.8 L807.7 221.1 L808.7 221.3 L809.7 221.5 L810.7 221.8 L811.7 222.0 L812.7 222.2 L813.7 222.4 L814.7 222.6 L815.7 222.9 L816.7 223.1 L817.7 223.3 L818.7 223.5 L819.7 223.7 L820.7 223.9 L821.7 224.1 L822.7 224.3 L823.7 224.5 L824.7 224.7 L825.7 224.9 L826.7 225.1 L827.7 225.3 L828.7 225.5 L829.7 225.7 L830.7 225.9 L831.7 226.1 L832.7 226.3 L833.7 226.5 L834.7 226.7 L835.7 226.9 L836.7 227.1 L837.7 227.3 L838.7 227.5 L839.7 227.6 L840.7 227.8 L841.7 228.0 L842.7 228.2 L843.7 228.4 L844.7 228.5 L845.7 228.7 L846.7 228.9 L847.7 229.0 L848.7 229.2 L849.7 229.4 L850.7 229.6 L851.7 229.7 L852.7 229.9 L853.7 230.1 L854.7 230.2 L855.7 230.4 L856.7 230.5 L857.7 230.7 L858.7 230.9 L859.7 231.0 L860.7 231.2 L861.7 231.3 L862.7 231.5 L863.7 231.7 L864.7 231.8 L865.7 232.0 L866.8 232.1 L867.8 232.3 L868.8 232.4 L869.8 232.6 L870.8 232.7 L871.8 232.9 L872.8 233.0 L873.8 233.2 L874.8 233.3 L875.8 233.5 L876.8 233.6 L877.8 233.8 L878.8 233.9 L879.8 234.0 L880.8 234.2 L881.8 234.3 L882.8 234.5 L883.8 234.6 L884.8 234.8 L885.8 234.9 L886.8 235.1 L887.8 235.2 L888.8 235.4 L889.8 235.5 L890.8 235.7 L891.8 235.8 L892.8 235.9 L893.8 236.1 L894.8 236.2 L895.8 236.4 L896.8 236.5 L897.8 236.7 L898.8 236.8 L899.8 237.0 L900.8 237.1 L901.8 237.3 L902.8 237.4 L903.8 237.6 L904.8 237.8 L905.8 237.9 L906.8 238.1 L907.8 238.3 L908.8 238.5 L909.8 238.7 L910.8 238.9 L911.8 239.1 L912.8 239.3 L913.8 239.5 L914.8 239.7 L915.8 239.9 L916.8 240.1 L917.8 240.4 L918.8 240.6 L919.8 240.8 L920.8 241.0 L921.8 241.2 L922.8 241.4 L923.8 241.6 L924.8 241.8 L925.8 242.0 L926.8 242.2 L927.8 242.4 L928.8 242.5 L929.8 242.7 L930.8 242.9 L931.8 243.0 L932.8 243.2 L933.8 243.3 L934.8 243.5 L935.8 243.6 L936.8 243.8 L937.8 243.9 L938.8 244.1 L939.8 244.2 L940.8 244.3 L941.8 244.5 L942.8 244.6 L943.8 244.8 L944.8 244.9 L945.8 245.1 L946.8 245.2 L947.8 245.4 L948.8 245.5 L949.9 245.7 L950.9 245.8 L951.9 246.0 L952.9 246.2 L953.9 246.3 L954.9 246.5 L955.9 246.7 L956.9 246.9 L957.9 247.0 L958.9 247.2 L959.9 247.4 L960.9 247.6 L961.9 247.8 L962.9 248.0 L963.9 248.1 L964.9 248.3 L965.9 248.5 L966.9 248.7 L967.9 248.9 L968.9 249.1 L969.9 249.3 L970.9 249.4 L971.9 249.6 L972.9 249.8 L973.9 250.0 L974.9 250.1 L975.9 250.3 L976.9 250.5 L977.9 250.7 L978.9 250.9 L979.9 251.0 L980.9 251.2 L981.9 251.4 L982.9 251.6 L983.9 251.7 L984.9 251.9 L985.9 252.1 L986.9 252.3 L987.9 252.4 L988.9 252.6 L989.9 252.8 L990.9 252.9 L991.9 253.1 L992.9 253.3 L993.9 253.4 L994.9 253.6 L995.9 253.7 L996.9 253.9 L997.9 254.0 L998.9 254.2 L999.9 254.3 L1000.9 254.4 L1001.9 254.6 L1002.9 254.7 L1003.9 254.9 L1004.9 255.0 L1005.9 255.1 L1006.9 255.3 L1007.9 255.4 L1008.9 255.5 L1009.9 255.6 L1010.9 255.8 L1011.9 255.9 L1012.9 256.0 L1013.9 256.1 L1014.9 256.3 L1015.9 256.4 L1016.9 256.5 L1017.9 256.6 L1018.9 256.7 L1019.9 256.8 L1020.9 256.9 L1021.9 257.1 L1022.9 257.2 L1023.9 257.3 L1024.9 257.4 L1025.9 257.5 L1026.9 257.6 L1027.9 257.7 L1028.9 257.8 L1029.9 257.9 L1030.9 258.0 L1031.9 258.1 L1033.0 258.2 L1034.0 258.3 L1035.0 258.4 L1036.0 258.5 L1037.0 258.5 L1038.0 258.6 L1039.0 258.7 L1040.0 258.8 L1041.0 258.9 L1042.0 259.0 L1043.0 259.1 L1044.0 259.2 L1045.0 259.3 L1046.0 259.4 L1047.0 259.5 L1048.0 259.6 L1049.0 259.7 L1050.0 259.7 L1051.0 259.8 L1052.0 259.9 L1053.0 260.0 L1054.0 260.1 L1055.0 260.2 L1056.0 260.3 L1057.0 260.4 L1058.0 260.4 L1059.0 260.5 L1060.0 260.6 L1061.0 260.7 L1062.0 260.8 L1063.0 260.9 L1064.0 261.0 L1065.0 261.0 L1066.0 261.1 L1067.0 261.2 L1068.0 261.3 L1069.0 261.4 L1070.0 261.4 L1071.0 261.5 L1072.0 261.6 L1073.0 261.7" fill="none" stroke="#23409f" stroke-opacity="0.9" stroke-width="4.6" stroke-linejoin="round"/>
</g>
<rect x="107.0" y="37.8" width="966.3" height="355.8" fill="none" stroke="#1c1c1c" stroke-width="1.45"/>
<path d="M107.0 393.6 v6.3 M227.8 393.6 v6.3 M348.6 393.6 v6.3 M469.4 393.6 v6.3 M590.1 393.6 v6.3 M710.9 393.6 v6.3 M831.7 393.6 v6.3 M952.5 393.6 v6.3 M1073.3 393.6 v6.3 M107.0 393.6 h-6.3 M107.0 37.8 h-6.3 M1073.3 393.6 h6.3 M1073.3 322.4 h6.3 M1073.3 251.3 h6.3 M1073.3 180.1 h6.3 M1073.3 109.0 h6.3 M1073.3 37.8 h6.3" stroke="#1c1c1c" stroke-width="1.45" fill="none"/>
<text transform="translate(107.0 439.2) scale(0.985 1.055)" text-anchor="middle">2000</text>
<text transform="translate(227.8 439.2) scale(0.985 1.055)" text-anchor="middle">2500</text>
<text transform="translate(348.6 439.2) scale(0.985 1.055)" text-anchor="middle">3000</text>
<text transform="translate(469.4 439.2) scale(0.985 1.055)" text-anchor="middle">3500</text>
<text transform="translate(590.1 439.2) scale(0.985 1.055)" text-anchor="middle">4000</text>
<text transform="translate(710.9 439.2) scale(0.985 1.055)" text-anchor="middle">4500</text>
<text transform="translate(831.7 439.2) scale(0.985 1.055)" text-anchor="middle">5000</text>
<text transform="translate(952.5 439.2) scale(0.985 1.055)" text-anchor="middle">5500</text>
<text transform="translate(1073.3 439.2) scale(0.985 1.055)" text-anchor="middle">6000</text>
<text transform="translate(95.5 404.9) scale(0.985 1.055)" text-anchor="end">0</text>
<text transform="translate(95.5 49.1) scale(0.985 1.055)" text-anchor="end">80</text>
<text transform="translate(1084.3 404.9) scale(0.985 1.055)">0.0</text>
<text transform="translate(1084.3 333.7) scale(0.985 1.055)">0.2</text>
<text transform="translate(1084.3 262.6) scale(0.985 1.055)">0.4</text>
<text transform="translate(1084.3 191.4) scale(0.985 1.055)">0.6</text>
<text transform="translate(1084.3 120.3) scale(0.985 1.055)">0.8</text>
<text transform="translate(1084.3 49.1) scale(0.985 1.055)">1.0</text>
<text transform="translate(590.1 476.1) scale(1.01 1.05)" text-anchor="middle">Time [ms]</text>
<text transform="translate(41.3 215.7) rotate(-90) scale(1.01 1.05)" text-anchor="middle"># cell</text>
<text transform="translate(1155.5 160.9) scale(1.01 1.05)" font-size="39" fill="#e8202a">x</text>
<text transform="translate(1155.5 268.8) scale(1.01 1.05)" font-size="39" fill="#3953a6">u</text>
<text transform="translate(18.9 36.7) scale(0.94 1)" font-family="'Liberation Sans',Arial,sans-serif" font-weight="bold" font-size="34">A</text>
<clipPath id="clipB"><rect x="107.0" y="534.2" width="966.3" height="355.79999999999995"/></clipPath>
<g clip-path="url(#clipB)">
<rect x="347.6" y="534.2" width="85.5" height="355.79999999999995" fill="#c1c1c1"/>
<g fill="#4bb746"><circle cx="137.6" cy="534.2" r="3.3"/><circle cx="160.1" cy="543.1" r="3.3"/><circle cx="295.9" cy="538.6" r="3.3"/><circle cx="249.5" cy="552.0" r="3.3"/><circle cx="339.1" cy="552.0" r="3.3"/><circle cx="343.3" cy="560.9" r="3.3"/><circle cx="320.4" cy="565.3" r="3.3"/><circle cx="107.6" cy="569.8" r="3.3"/><circle cx="340.7" cy="574.2" r="3.3"/><circle cx="211.4" cy="587.6" r="3.3"/><circle cx="148.3" cy="600.9" r="3.3"/><circle cx="141.5" cy="623.2" r="3.3"/><circle cx="136.1" cy="632.0" r="3.3"/><circle cx="234.3" cy="636.5" r="3.3"/><circle cx="124.5" cy="645.4" r="3.3"/><circle cx="184.7" cy="645.4" r="3.3"/><circle cx="197.7" cy="645.4" r="3.3"/><circle cx="328.9" cy="645.4" r="3.3"/><circle cx="125.7" cy="654.3" r="3.3"/><circle cx="256.6" cy="654.3" r="3.3"/><circle cx="332.4" cy="654.3" r="3.3"/><circle cx="215.5" cy="681.0" r="3.3"/><circle cx="255.8" cy="698.8" r="3.3"/><circle cx="138.6" cy="721.0" r="3.3"/><circle cx="293.5" cy="743.2" r="3.3"/><circle cx="291.0" cy="747.7" r="3.3"/><circle cx="131.7" cy="747.7" r="3.3"/><circle cx="147.1" cy="747.7" r="3.3"/><circle cx="238.0" cy="756.6" r="3.3"/><circle cx="243.9" cy="756.6" r="3.3"/><circle cx="124.2" cy="761.0" r="3.3"/><circle cx="127.4" cy="761.0" r="3.3"/><circle cx="299.4" cy="774.4" r="3.3"/><circle cx="228.3" cy="809.9" r="3.3"/><circle cx="265.1" cy="809.9" r="3.3"/><circle cx="222.4" cy="836.6" r="3.3"/><circle cx="130.5" cy="845.5" r="3.3"/><circle cx="254.4" cy="850.0" r="3.3"/><circle cx="218.8" cy="867.8" r="3.3"/><circle cx="353.0" cy="890.0" r="3.3"/><circle cx="380.4" cy="890.0" r="3.3"/><circle cx="403.6" cy="890.0" r="3.3"/><circle cx="409.6" cy="890.0" r="3.3"/><circle cx="418.6" cy="890.0" r="3.3"/><circle cx="354.5" cy="885.6" r="3.3"/><circle cx="369.8" cy="885.6" r="3.3"/><circle cx="379.9" cy="885.6" r="3.3"/><circle cx="388.1" cy="885.6" r="3.3"/><circle cx="404.0" cy="885.6" r="3.3"/><circle cx="412.0" cy="885.6" r="3.3"/><circle cx="354.1" cy="881.1" r="3.3"/><circle cx="364.0" cy="881.1" r="3.3"/><circle cx="376.6" cy="881.1" r="3.3"/><circle cx="388.7" cy="881.1" r="3.3"/><circle cx="399.2" cy="881.1" r="3.3"/><circle cx="408.9" cy="881.1" r="3.3"/><circle cx="421.6" cy="881.1" r="3.3"/><circle cx="362.7" cy="876.7" r="3.3"/><circle cx="369.9" cy="876.7" r="3.3"/><circle cx="377.0" cy="876.7" r="3.3"/><circle cx="385.5" cy="876.7" r="3.3"/><circle cx="400.1" cy="876.7" r="3.3"/><circle cx="413.1" cy="876.7" r="3.3"/><circle cx="388.5" cy="872.2" r="3.3"/><circle cx="400.5" cy="872.2" r="3.3"/><circle cx="407.6" cy="872.2" r="3.3"/><circle cx="423.6" cy="872.2" r="3.3"/><circle cx="431.3" cy="872.2" r="3.3"/><circle cx="350.7" cy="867.8" r="3.3"/><circle cx="367.3" cy="867.8" r="3.3"/><circle cx="390.3" cy="867.8" r="3.3"/><circle cx="405.6" cy="867.8" r="3.3"/><circle cx="417.4" cy="867.8" r="3.3"/><circle cx="427.4" cy="867.8" r="3.3"/><circle cx="359.0" cy="863.3" r="3.3"/><circle cx="375.5" cy="863.3" r="3.3"/><circle cx="386.6" cy="863.3" r="3.3"/><circle cx="393.9" cy="863.3" r="3.3"/><circle cx="402.3" cy="863.3" r="3.3"/><circle cx="416.1" cy="863.3" r="3.3"/><circle cx="428.7" cy="863.3" r="3.3"/><circle cx="349.4" cy="858.9" r="3.3"/><circle cx="371.4" cy="858.9" r="3.3"/><circle cx="386.8" cy="858.9" r="3.3"/><circle cx="412.4" cy="858.9" r="3.3"/><circle cx="419.7" cy="858.9" r="3.3"/><circle cx="355.8" cy="854.4" r="3.3"/><circle cx="366.3" cy="854.4" r="3.3"/><circle cx="377.7" cy="854.4" r="3.3"/><circle cx="388.0" cy="854.4" r="3.3"/><circle cx="398.1" cy="854.4" r="3.3"/><circle cx="353.4" cy="850.0" r="3.3"/><circle cx="382.9" cy="850.0" r="3.3"/><circle cx="390.5" cy="850.0" r="3.3"/><circle cx="400.4" cy="850.0" r="3.3"/><circle cx="405.1" cy="850.0" r="3.3"/><circle cx="424.5" cy="850.0" r="3.3"/><circle cx="367.4" cy="845.5" r="3.3"/><circle cx="377.9" cy="845.5" r="3.3"/><circle cx="407.2" cy="845.5" r="3.3"/><circle cx="431.6" cy="845.5" r="3.3"/><circle cx="351.1" cy="841.1" r="3.3"/><circle cx="361.4" cy="841.1" r="3.3"/><circle cx="374.2" cy="841.1" r="3.3"/><circle cx="386.2" cy="841.1" r="3.3"/><circle cx="396.8" cy="841.1" r="3.3"/><circle cx="412.3" cy="841.1" r="3.3"/><circle cx="423.0" cy="841.1" r="3.3"/><circle cx="359.5" cy="836.6" r="3.3"/><circle cx="377.0" cy="836.6" r="3.3"/><circle cx="401.0" cy="836.6" r="3.3"/><circle cx="410.2" cy="836.6" r="3.3"/><circle cx="353.5" cy="832.2" r="3.3"/><circle cx="374.9" cy="832.2" r="3.3"/><circle cx="386.9" cy="832.2" r="3.3"/><circle cx="392.2" cy="832.2" r="3.3"/><circle cx="412.2" cy="832.2" r="3.3"/><circle cx="418.6" cy="832.2" r="3.3"/><circle cx="427.9" cy="832.2" r="3.3"/><circle cx="362.0" cy="827.7" r="3.3"/><circle cx="377.8" cy="827.7" r="3.3"/><circle cx="393.4" cy="827.7" r="3.3"/><circle cx="411.6" cy="827.7" r="3.3"/><circle cx="418.9" cy="827.7" r="3.3"/><circle cx="432.1" cy="827.7" r="3.3"/><circle cx="349.8" cy="823.3" r="3.3"/><circle cx="357.5" cy="823.3" r="3.3"/><circle cx="367.3" cy="823.3" r="3.3"/><circle cx="382.4" cy="823.3" r="3.3"/><circle cx="390.8" cy="823.3" r="3.3"/><circle cx="398.2" cy="823.3" r="3.3"/><circle cx="404.0" cy="823.3" r="3.3"/><circle cx="355.7" cy="818.8" r="3.3"/><circle cx="368.2" cy="818.8" r="3.3"/><circle cx="375.4" cy="818.8" r="3.3"/><circle cx="401.5" cy="818.8" r="3.3"/><circle cx="407.2" cy="818.8" r="3.3"/><circle cx="412.8" cy="818.8" r="3.3"/><circle cx="431.1" cy="818.8" r="3.3"/><circle cx="356.3" cy="814.4" r="3.3"/><circle cx="370.1" cy="814.4" r="3.3"/><circle cx="384.7" cy="814.4" r="3.3"/><circle cx="389.6" cy="814.4" r="3.3"/><circle cx="403.6" cy="814.4" r="3.3"/><circle cx="413.6" cy="814.4" r="3.3"/><circle cx="358.6" cy="809.9" r="3.3"/><circle cx="365.0" cy="809.9" r="3.3"/><circle cx="390.6" cy="809.9" r="3.3"/><circle cx="420.0" cy="809.9" r="3.3"/><circle cx="358.1" cy="805.5" r="3.3"/><circle cx="377.4" cy="805.5" r="3.3"/><circle cx="384.2" cy="805.5" r="3.3"/><circle cx="397.8" cy="805.5" r="3.3"/><circle cx="414.5" cy="805.5" r="3.3"/><circle cx="428.5" cy="805.5" r="3.3"/><circle cx="350.5" cy="801.0" r="3.3"/><circle cx="397.8" cy="801.0" r="3.3"/><circle cx="404.6" cy="801.0" r="3.3"/><circle cx="431.4" cy="801.0" r="3.3"/><circle cx="411.2" cy="796.6" r="3.3"/><circle cx="420.5" cy="796.6" r="3.3"/><circle cx="357.3" cy="792.2" r="3.3"/><circle cx="374.7" cy="792.2" r="3.3"/><circle cx="385.5" cy="792.2" r="3.3"/><circle cx="394.6" cy="792.2" r="3.3"/><circle cx="407.0" cy="792.2" r="3.3"/><circle cx="420.2" cy="792.2" r="3.3"/><circle cx="427.0" cy="792.2" r="3.3"/><circle cx="357.2" cy="787.7" r="3.3"/><circle cx="367.1" cy="787.7" r="3.3"/><circle cx="376.0" cy="787.7" r="3.3"/><circle cx="383.8" cy="787.7" r="3.3"/><circle cx="405.6" cy="787.7" r="3.3"/><circle cx="411.8" cy="787.7" r="3.3"/><circle cx="354.1" cy="783.3" r="3.3"/><circle cx="374.2" cy="783.3" r="3.3"/><circle cx="391.1" cy="783.3" r="3.3"/><circle cx="408.3" cy="783.3" r="3.3"/><circle cx="430.6" cy="783.3" r="3.3"/><circle cx="358.8" cy="778.8" r="3.3"/><circle cx="369.5" cy="778.8" r="3.3"/><circle cx="378.9" cy="778.8" r="3.3"/><circle cx="407.6" cy="778.8" r="3.3"/><circle cx="415.2" cy="778.8" r="3.3"/><circle cx="423.0" cy="778.8" r="3.3"/><circle cx="367.9" cy="774.4" r="3.3"/><circle cx="399.0" cy="774.4" r="3.3"/><circle cx="428.8" cy="774.4" r="3.3"/><circle cx="386.4" cy="769.9" r="3.3"/><circle cx="405.6" cy="769.9" r="3.3"/><circle cx="415.0" cy="769.9" r="3.3"/><circle cx="423.0" cy="769.9" r="3.3"/><circle cx="427.6" cy="769.9" r="3.3"/><circle cx="349.1" cy="765.5" r="3.3"/><circle cx="355.6" cy="765.5" r="3.3"/><circle cx="360.9" cy="765.5" r="3.3"/><circle cx="378.9" cy="765.5" r="3.3"/><circle cx="391.2" cy="765.5" r="3.3"/><circle cx="408.3" cy="765.5" r="3.3"/><circle cx="416.1" cy="765.5" r="3.3"/><circle cx="429.5" cy="765.5" r="3.3"/><circle cx="352.4" cy="761.0" r="3.3"/><circle cx="367.1" cy="761.0" r="3.3"/><circle cx="401.3" cy="761.0" r="3.3"/><circle cx="421.4" cy="761.0" r="3.3"/><circle cx="429.9" cy="761.0" r="3.3"/><circle cx="355.2" cy="756.6" r="3.3"/><circle cx="378.1" cy="756.6" r="3.3"/><circle cx="390.3" cy="756.6" r="3.3"/><circle cx="413.0" cy="756.6" r="3.3"/><circle cx="430.3" cy="756.6" r="3.3"/><circle cx="357.3" cy="752.1" r="3.3"/><circle cx="365.3" cy="752.1" r="3.3"/><circle cx="375.0" cy="752.1" r="3.3"/><circle cx="390.2" cy="752.1" r="3.3"/><circle cx="397.1" cy="752.1" r="3.3"/><circle cx="405.2" cy="752.1" r="3.3"/><circle cx="418.0" cy="752.1" r="3.3"/><circle cx="358.8" cy="747.7" r="3.3"/><circle cx="364.2" cy="747.7" r="3.3"/><circle cx="373.8" cy="747.7" r="3.3"/><circle cx="398.5" cy="747.7" r="3.3"/><circle cx="405.6" cy="747.7" r="3.3"/><circle cx="419.9" cy="747.7" r="3.3"/><circle cx="373.3" cy="743.2" r="3.3"/><circle cx="394.2" cy="743.2" r="3.3"/><circle cx="404.2" cy="743.2" r="3.3"/><circle cx="414.2" cy="743.2" r="3.3"/><circle cx="430.7" cy="743.2" r="3.3"/><circle cx="361.0" cy="738.8" r="3.3"/><circle cx="369.8" cy="738.8" r="3.3"/><circle cx="392.2" cy="738.8" r="3.3"/><circle cx="403.2" cy="738.8" r="3.3"/><circle cx="422.0" cy="738.8" r="3.3"/><circle cx="431.0" cy="738.8" r="3.3"/><circle cx="354.1" cy="734.3" r="3.3"/><circle cx="369.8" cy="734.3" r="3.3"/><circle cx="395.4" cy="734.3" r="3.3"/><circle cx="404.5" cy="734.3" r="3.3"/><circle cx="410.9" cy="734.3" r="3.3"/><circle cx="427.4" cy="734.3" r="3.3"/><circle cx="357.1" cy="729.9" r="3.3"/><circle cx="370.2" cy="729.9" r="3.3"/><circle cx="387.7" cy="729.9" r="3.3"/><circle cx="411.6" cy="729.9" r="3.3"/><circle cx="421.3" cy="729.9" r="3.3"/><circle cx="353.2" cy="725.4" r="3.3"/><circle cx="365.3" cy="725.4" r="3.3"/><circle cx="373.4" cy="725.4" r="3.3"/><circle cx="387.9" cy="725.4" r="3.3"/><circle cx="411.0" cy="725.4" r="3.3"/><circle cx="425.7" cy="725.4" r="3.3"/><circle cx="354.3" cy="721.0" r="3.3"/><circle cx="364.1" cy="721.0" r="3.3"/><circle cx="369.6" cy="721.0" r="3.3"/><circle cx="395.0" cy="721.0" r="3.3"/><circle cx="420.5" cy="721.0" r="3.3"/><circle cx="362.9" cy="716.5" r="3.3"/><circle cx="384.8" cy="716.5" r="3.3"/><circle cx="390.2" cy="716.5" r="3.3"/><circle cx="395.7" cy="716.5" r="3.3"/><circle cx="420.3" cy="716.5" r="3.3"/><circle cx="356.5" cy="712.1" r="3.3"/><circle cx="372.4" cy="712.1" r="3.3"/><circle cx="389.0" cy="712.1" r="3.3"/><circle cx="397.1" cy="712.1" r="3.3"/><circle cx="415.3" cy="712.1" r="3.3"/><circle cx="427.1" cy="712.1" r="3.3"/><circle cx="359.2" cy="707.7" r="3.3"/><circle cx="368.7" cy="707.7" r="3.3"/><circle cx="380.0" cy="707.7" r="3.3"/><circle cx="396.9" cy="707.7" r="3.3"/><circle cx="410.3" cy="707.7" r="3.3"/><circle cx="420.2" cy="707.7" r="3.3"/><circle cx="428.7" cy="707.7" r="3.3"/><circle cx="350.2" cy="703.2" r="3.3"/><circle cx="371.0" cy="703.2" r="3.3"/><circle cx="386.0" cy="703.2" r="3.3"/><circle cx="401.8" cy="703.2" r="3.3"/><circle cx="359.2" cy="698.8" r="3.3"/><circle cx="367.8" cy="698.8" r="3.3"/><circle cx="394.6" cy="698.8" r="3.3"/><circle cx="399.9" cy="698.8" r="3.3"/><circle cx="406.7" cy="698.8" r="3.3"/><circle cx="428.4" cy="698.8" r="3.3"/><circle cx="368.6" cy="694.3" r="3.3"/><circle cx="379.8" cy="694.3" r="3.3"/><circle cx="394.1" cy="694.3" r="3.3"/><circle cx="400.1" cy="694.3" r="3.3"/><circle cx="406.4" cy="694.3" r="3.3"/><circle cx="411.7" cy="694.3" r="3.3"/><circle cx="424.9" cy="694.3" r="3.3"/><circle cx="352.3" cy="689.9" r="3.3"/><circle cx="362.5" cy="689.9" r="3.3"/><circle cx="381.4" cy="689.9" r="3.3"/><circle cx="394.3" cy="689.9" r="3.3"/><circle cx="408.6" cy="689.9" r="3.3"/><circle cx="419.0" cy="689.9" r="3.3"/><circle cx="432.1" cy="689.9" r="3.3"/><circle cx="360.9" cy="685.4" r="3.3"/><circle cx="368.5" cy="685.4" r="3.3"/><circle cx="375.3" cy="685.4" r="3.3"/><circle cx="382.3" cy="685.4" r="3.3"/><circle cx="396.8" cy="685.4" r="3.3"/><circle cx="409.4" cy="685.4" r="3.3"/><circle cx="418.7" cy="685.4" r="3.3"/><circle cx="358.9" cy="681.0" r="3.3"/><circle cx="367.0" cy="681.0" r="3.3"/><circle cx="375.4" cy="681.0" r="3.3"/><circle cx="391.2" cy="681.0" r="3.3"/><circle cx="409.9" cy="681.0" r="3.3"/><circle cx="417.7" cy="681.0" r="3.3"/><circle cx="367.8" cy="676.5" r="3.3"/><circle cx="375.8" cy="676.5" r="3.3"/><circle cx="393.3" cy="676.5" r="3.3"/><circle cx="421.8" cy="676.5" r="3.3"/><circle cx="355.1" cy="672.1" r="3.3"/><circle cx="366.9" cy="672.1" r="3.3"/><circle cx="390.7" cy="672.1" r="3.3"/><circle cx="417.2" cy="672.1" r="3.3"/><circle cx="424.3" cy="672.1" r="3.3"/><circle cx="430.3" cy="672.1" r="3.3"/><circle cx="354.1" cy="667.6" r="3.3"/><circle cx="361.9" cy="667.6" r="3.3"/><circle cx="374.0" cy="667.6" r="3.3"/><circle cx="379.5" cy="667.6" r="3.3"/><circle cx="390.2" cy="667.6" r="3.3"/><circle cx="406.0" cy="667.6" r="3.3"/><circle cx="354.1" cy="663.2" r="3.3"/><circle cx="368.6" cy="663.2" r="3.3"/><circle cx="380.3" cy="663.2" r="3.3"/><circle cx="394.7" cy="663.2" r="3.3"/><circle cx="409.9" cy="663.2" r="3.3"/><circle cx="417.1" cy="663.2" r="3.3"/><circle cx="349.2" cy="658.7" r="3.3"/><circle cx="394.0" cy="658.7" r="3.3"/><circle cx="405.1" cy="658.7" r="3.3"/><circle cx="411.9" cy="658.7" r="3.3"/><circle cx="356.3" cy="654.3" r="3.3"/><circle cx="378.5" cy="654.3" r="3.3"/><circle cx="388.5" cy="654.3" r="3.3"/><circle cx="410.1" cy="654.3" r="3.3"/><circle cx="429.1" cy="654.3" r="3.3"/><circle cx="358.2" cy="649.8" r="3.3"/><circle cx="373.2" cy="649.8" r="3.3"/><circle cx="392.7" cy="649.8" r="3.3"/><circle cx="415.0" cy="649.8" r="3.3"/><circle cx="423.5" cy="649.8" r="3.3"/><circle cx="432.4" cy="649.8" r="3.3"/><circle cx="386.3" cy="645.4" r="3.3"/><circle cx="403.8" cy="645.4" r="3.3"/><circle cx="410.5" cy="645.4" r="3.3"/><circle cx="426.5" cy="645.4" r="3.3"/><circle cx="377.0" cy="640.9" r="3.3"/><circle cx="383.8" cy="640.9" r="3.3"/><circle cx="392.5" cy="640.9" r="3.3"/><circle cx="403.1" cy="640.9" r="3.3"/><circle cx="360.7" cy="636.5" r="3.3"/><circle cx="367.7" cy="636.5" r="3.3"/><circle cx="387.0" cy="636.5" r="3.3"/><circle cx="418.2" cy="636.5" r="3.3"/><circle cx="426.2" cy="636.5" r="3.3"/><circle cx="359.4" cy="632.0" r="3.3"/><circle cx="381.8" cy="632.0" r="3.3"/><circle cx="387.8" cy="632.0" r="3.3"/><circle cx="399.3" cy="632.0" r="3.3"/><circle cx="415.7" cy="632.0" r="3.3"/><circle cx="352.6" cy="627.6" r="3.3"/><circle cx="365.4" cy="627.6" r="3.3"/><circle cx="398.1" cy="627.6" r="3.3"/><circle cx="411.1" cy="627.6" r="3.3"/><circle cx="355.5" cy="623.2" r="3.3"/><circle cx="361.9" cy="623.2" r="3.3"/><circle cx="380.7" cy="623.2" r="3.3"/><circle cx="390.8" cy="623.2" r="3.3"/><circle cx="396.9" cy="623.2" r="3.3"/><circle cx="417.9" cy="623.2" r="3.3"/><circle cx="353.0" cy="618.7" r="3.3"/><circle cx="365.2" cy="618.7" r="3.3"/><circle cx="374.9" cy="618.7" r="3.3"/><circle cx="381.4" cy="618.7" r="3.3"/><circle cx="410.7" cy="618.7" r="3.3"/><circle cx="418.7" cy="618.7" r="3.3"/><circle cx="363.1" cy="614.3" r="3.3"/><circle cx="387.3" cy="614.3" r="3.3"/><circle cx="397.7" cy="614.3" r="3.3"/><circle cx="413.8" cy="614.3" r="3.3"/><circle cx="352.0" cy="609.8" r="3.3"/><circle cx="361.1" cy="609.8" r="3.3"/><circle cx="374.5" cy="609.8" r="3.3"/><circle cx="382.1" cy="609.8" r="3.3"/><circle cx="387.7" cy="609.8" r="3.3"/><circle cx="397.5" cy="609.8" r="3.3"/><circle cx="404.5" cy="609.8" r="3.3"/><circle cx="427.8" cy="609.8" r="3.3"/><circle cx="352.1" cy="605.4" r="3.3"/><circle cx="366.2" cy="605.4" r="3.3"/><circle cx="371.3" cy="605.4" r="3.3"/><circle cx="376.2" cy="605.4" r="3.3"/><circle cx="399.5" cy="605.4" r="3.3"/><circle cx="412.0" cy="605.4" r="3.3"/><circle cx="431.9" cy="605.4" r="3.3"/><circle cx="355.6" cy="600.9" r="3.3"/><circle cx="365.7" cy="600.9" r="3.3"/><circle cx="374.7" cy="600.9" r="3.3"/><circle cx="399.1" cy="600.9" r="3.3"/><circle cx="406.3" cy="600.9" r="3.3"/><circle cx="415.5" cy="600.9" r="3.3"/><circle cx="420.7" cy="600.9" r="3.3"/><circle cx="354.2" cy="596.5" r="3.3"/><circle cx="373.8" cy="596.5" r="3.3"/><circle cx="380.4" cy="596.5" r="3.3"/><circle cx="387.3" cy="596.5" r="3.3"/><circle cx="393.6" cy="596.5" r="3.3"/><circle cx="401.0" cy="596.5" r="3.3"/><circle cx="411.5" cy="596.5" r="3.3"/><circle cx="419.9" cy="596.5" r="3.3"/><circle cx="429.4" cy="596.5" r="3.3"/><circle cx="370.4" cy="592.0" r="3.3"/><circle cx="378.2" cy="592.0" r="3.3"/><circle cx="394.2" cy="592.0" r="3.3"/><circle cx="405.8" cy="592.0" r="3.3"/><circle cx="432.1" cy="592.0" r="3.3"/><circle cx="365.7" cy="587.6" r="3.3"/><circle cx="374.4" cy="587.6" r="3.3"/><circle cx="383.3" cy="587.6" r="3.3"/><circle cx="390.3" cy="587.6" r="3.3"/><circle cx="397.6" cy="587.6" r="3.3"/><circle cx="416.5" cy="587.6" r="3.3"/><circle cx="350.2" cy="583.1" r="3.3"/><circle cx="359.4" cy="583.1" r="3.3"/><circle cx="373.3" cy="583.1" r="3.3"/><circle cx="393.6" cy="583.1" r="3.3"/><circle cx="410.7" cy="583.1" r="3.3"/><circle cx="422.6" cy="583.1" r="3.3"/><circle cx="363.2" cy="578.7" r="3.3"/><circle cx="373.1" cy="578.7" r="3.3"/><circle cx="385.1" cy="578.7" r="3.3"/><circle cx="408.7" cy="578.7" r="3.3"/><circle cx="419.7" cy="578.7" r="3.3"/><circle cx="429.1" cy="578.7" r="3.3"/><circle cx="358.0" cy="574.2" r="3.3"/><circle cx="375.2" cy="574.2" r="3.3"/><circle cx="389.3" cy="574.2" r="3.3"/><circle cx="401.6" cy="574.2" r="3.3"/><circle cx="416.5" cy="574.2" r="3.3"/><circle cx="431.9" cy="574.2" r="3.3"/><circle cx="361.1" cy="569.8" r="3.3"/><circle cx="369.9" cy="569.8" r="3.3"/><circle cx="377.9" cy="569.8" r="3.3"/><circle cx="383.9" cy="569.8" r="3.3"/><circle cx="411.9" cy="569.8" r="3.3"/><circle cx="350.9" cy="565.3" r="3.3"/><circle cx="363.1" cy="565.3" r="3.3"/><circle cx="375.5" cy="565.3" r="3.3"/><circle cx="400.1" cy="565.3" r="3.3"/><circle cx="415.1" cy="565.3" r="3.3"/><circle cx="430.3" cy="565.3" r="3.3"/><circle cx="385.1" cy="560.9" r="3.3"/><circle cx="392.7" cy="560.9" r="3.3"/><circle cx="398.4" cy="560.9" r="3.3"/><circle cx="409.8" cy="560.9" r="3.3"/><circle cx="356.9" cy="556.4" r="3.3"/><circle cx="380.5" cy="556.4" r="3.3"/><circle cx="389.1" cy="556.4" r="3.3"/><circle cx="408.7" cy="556.4" r="3.3"/><circle cx="427.9" cy="556.4" r="3.3"/><circle cx="364.1" cy="552.0" r="3.3"/><circle cx="377.3" cy="552.0" r="3.3"/><circle cx="404.3" cy="552.0" r="3.3"/><circle cx="412.1" cy="552.0" r="3.3"/><circle cx="418.6" cy="552.0" r="3.3"/><circle cx="362.7" cy="547.5" r="3.3"/><circle cx="369.0" cy="547.5" r="3.3"/><circle cx="377.4" cy="547.5" r="3.3"/><circle cx="393.1" cy="547.5" r="3.3"/><circle cx="401.9" cy="547.5" r="3.3"/><circle cx="419.0" cy="547.5" r="3.3"/><circle cx="424.5" cy="547.5" r="3.3"/><circle cx="363.5" cy="543.1" r="3.3"/><circle cx="375.1" cy="543.1" r="3.3"/><circle cx="390.7" cy="543.1" r="3.3"/><circle cx="401.4" cy="543.1" r="3.3"/><circle cx="430.1" cy="543.1" r="3.3"/><circle cx="352.5" cy="538.6" r="3.3"/><circle cx="388.6" cy="538.6" r="3.3"/><circle cx="403.2" cy="538.6" r="3.3"/><circle cx="419.9" cy="538.6" r="3.3"/><circle cx="366.5" cy="534.2" r="3.3"/><circle cx="376.5" cy="534.2" r="3.3"/><circle cx="384.2" cy="534.2" r="3.3"/><circle cx="396.8" cy="534.2" r="3.3"/><circle cx="404.7" cy="534.2" r="3.3"/><circle cx="414.6" cy="534.2" r="3.3"/><circle cx="421.4" cy="534.2" r="3.3"/><circle cx="440.2" cy="538.6" r="3.3"/><circle cx="461.3" cy="534.2" r="3.3"/><circle cx="449.5" cy="560.9" r="3.3"/><circle cx="499.1" cy="565.3" r="3.3"/><circle cx="482.5" cy="592.0" r="3.3"/><circle cx="479.1" cy="600.9" r="3.3"/><circle cx="461.3" cy="609.8" r="3.3"/><circle cx="502.0" cy="609.8" r="3.3"/><circle cx="499.4" cy="614.3" r="3.3"/><circle cx="435.1" cy="614.3" r="3.3"/><circle cx="485.9" cy="627.6" r="3.3"/><circle cx="440.2" cy="640.9" r="3.3"/><circle cx="452.9" cy="654.3" r="3.3"/><circle cx="474.0" cy="667.6" r="3.3"/><circle cx="444.4" cy="676.5" r="3.3"/><circle cx="441.9" cy="681.0" r="3.3"/><circle cx="471.5" cy="676.5" r="3.3"/><circle cx="489.6" cy="681.0" r="3.3"/><circle cx="461.3" cy="698.8" r="3.3"/><circle cx="474.4" cy="703.2" r="3.3"/><circle cx="471.5" cy="712.1" r="3.3"/><circle cx="463.9" cy="743.2" r="3.3"/><circle cx="438.5" cy="747.7" r="3.3"/><circle cx="483.8" cy="752.1" r="3.3"/><circle cx="486.4" cy="756.6" r="3.3"/><circle cx="507.0" cy="752.1" r="3.3"/><circle cx="439.3" cy="761.0" r="3.3"/><circle cx="507.0" cy="761.0" r="3.3"/><circle cx="503.6" cy="774.4" r="3.3"/><circle cx="522.3" cy="534.2" r="3.3"/><circle cx="518.9" cy="556.4" r="3.3"/><circle cx="523.1" cy="565.3" r="3.3"/><circle cx="526.5" cy="569.8" r="3.3"/><circle cx="562.9" cy="547.5" r="3.3"/><circle cx="577.3" cy="538.6" r="3.3"/><circle cx="521.4" cy="614.3" r="3.3"/><circle cx="525.7" cy="614.3" r="3.3"/><circle cx="520.6" cy="627.6" r="3.3"/><circle cx="525.7" cy="632.0" r="3.3"/><circle cx="518.0" cy="640.9" r="3.3"/><circle cx="531.1" cy="654.3" r="3.3"/><circle cx="527.3" cy="663.2" r="3.3"/><circle cx="570.5" cy="649.8" r="3.3"/><circle cx="584.1" cy="645.4" r="3.3"/><circle cx="584.1" cy="649.8" r="3.3"/><circle cx="592.5" cy="636.5" r="3.3"/><circle cx="590.8" cy="672.1" r="3.3"/><circle cx="544.3" cy="681.0" r="3.3"/><circle cx="518.9" cy="685.4" r="3.3"/><circle cx="525.3" cy="689.9" r="3.3"/><circle cx="577.3" cy="689.9" r="3.3"/><circle cx="518.0" cy="703.2" r="3.3"/><circle cx="522.3" cy="721.0" r="3.3"/><circle cx="580.7" cy="729.9" r="3.3"/><circle cx="580.7" cy="738.8" r="3.3"/><circle cx="594.2" cy="725.4" r="3.3"/><circle cx="529.9" cy="738.8" r="3.3"/><circle cx="527.3" cy="765.5" r="3.3"/><circle cx="614.9" cy="565.3" r="3.3"/><circle cx="657.4" cy="565.3" r="3.3"/><circle cx="640.8" cy="583.1" r="3.3"/><circle cx="661.1" cy="592.0" r="3.3"/><circle cx="628.9" cy="596.5" r="3.3"/><circle cx="634.9" cy="596.5" r="3.3"/><circle cx="670.4" cy="587.6" r="3.3"/><circle cx="644.2" cy="609.8" r="3.3"/><circle cx="667.0" cy="605.4" r="3.3"/><circle cx="610.3" cy="645.4" r="3.3"/><circle cx="622.2" cy="645.4" r="3.3"/><circle cx="623.8" cy="672.1" r="3.3"/><circle cx="622.2" cy="676.5" r="3.3"/><circle cx="647.2" cy="672.1" r="3.3"/><circle cx="605.2" cy="698.8" r="3.3"/><circle cx="615.4" cy="712.1" r="3.3"/><circle cx="617.9" cy="712.1" r="3.3"/><circle cx="616.2" cy="716.5" r="3.3"/><circle cx="606.9" cy="721.0" r="3.3"/><circle cx="609.5" cy="725.4" r="3.3"/><circle cx="613.7" cy="729.9" r="3.3"/><circle cx="629.4" cy="729.9" r="3.3"/><circle cx="605.2" cy="752.1" r="3.3"/><circle cx="606.9" cy="756.6" r="3.3"/><circle cx="609.5" cy="761.0" r="3.3"/><circle cx="614.5" cy="769.9" r="3.3"/><circle cx="651.8" cy="769.9" r="3.3"/><circle cx="682.3" cy="543.1" r="3.3"/><circle cx="685.6" cy="547.5" r="3.3"/><circle cx="682.3" cy="556.4" r="3.3"/><circle cx="707.7" cy="538.6" r="3.3"/><circle cx="728.8" cy="547.5" r="3.3"/><circle cx="724.9" cy="565.3" r="3.3"/><circle cx="684.8" cy="609.8" r="3.3"/><circle cx="690.7" cy="614.3" r="3.3"/><circle cx="695.5" cy="623.2" r="3.3"/><circle cx="722.6" cy="609.8" r="3.3"/><circle cx="701.7" cy="645.4" r="3.3"/><circle cx="706.0" cy="645.4" r="3.3"/><circle cx="685.6" cy="649.8" r="3.3"/><circle cx="696.6" cy="658.7" r="3.3"/><circle cx="688.2" cy="676.5" r="3.3"/><circle cx="692.8" cy="689.9" r="3.3"/><circle cx="716.1" cy="685.4" r="3.3"/><circle cx="680.6" cy="694.3" r="3.3"/><circle cx="696.6" cy="703.2" r="3.3"/><circle cx="684.8" cy="712.1" r="3.3"/><circle cx="687.0" cy="725.4" r="3.3"/><circle cx="716.1" cy="725.4" r="3.3"/><circle cx="722.6" cy="721.0" r="3.3"/><circle cx="728.8" cy="738.8" r="3.3"/><circle cx="685.6" cy="747.7" r="3.3"/><circle cx="695.5" cy="752.1" r="3.3"/><circle cx="690.7" cy="756.6" r="3.3"/><circle cx="482.5" cy="783.3" r="3.3"/><circle cx="436.4" cy="801.0" r="3.3"/><circle cx="522.8" cy="805.5" r="3.3"/><circle cx="520.6" cy="814.4" r="3.3"/><circle cx="515.5" cy="818.8" r="3.3"/><circle cx="573.6" cy="814.4" r="3.3"/><circle cx="446.1" cy="832.2" r="3.3"/><circle cx="433.4" cy="836.6" r="3.3"/><circle cx="505.0" cy="836.6" r="3.3"/><circle cx="531.1" cy="836.6" r="3.3"/><circle cx="444.9" cy="845.5" r="3.3"/><circle cx="470.6" cy="845.5" r="3.3"/><circle cx="476.6" cy="850.0" r="3.3"/><circle cx="497.7" cy="854.4" r="3.3"/><circle cx="516.3" cy="858.9" r="3.3"/><circle cx="465.0" cy="867.8" r="3.3"/><circle cx="501.6" cy="867.8" r="3.3"/><circle cx="442.7" cy="872.2" r="3.3"/><circle cx="457.9" cy="876.7" r="3.3"/><circle cx="566.6" cy="867.8" r="3.3"/><circle cx="590.0" cy="858.9" r="3.3"/><circle cx="498.9" cy="881.1" r="3.3"/><circle cx="497.7" cy="885.6" r="3.3"/><circle cx="529.9" cy="885.6" r="3.3"/><circle cx="434.2" cy="885.6" r="3.3"/><circle cx="628.1" cy="778.8" r="3.3"/><circle cx="586.6" cy="778.8" r="3.3"/><circle cx="614.9" cy="792.2" r="3.3"/><circle cx="611.2" cy="801.0" r="3.3"/><circle cx="612.5" cy="805.5" r="3.3"/><circle cx="605.7" cy="809.9" r="3.3"/><circle cx="614.9" cy="814.4" r="3.3"/><circle cx="613.7" cy="836.6" r="3.3"/><circle cx="613.7" cy="863.3" r="3.3"/><circle cx="624.4" cy="876.7" r="3.3"/><circle cx="651.4" cy="841.1" r="3.3"/><circle cx="685.6" cy="796.6" r="3.3"/><circle cx="688.2" cy="809.9" r="3.3"/><circle cx="684.8" cy="827.7" r="3.3"/><circle cx="686.0" cy="832.2" r="3.3"/><circle cx="678.5" cy="841.1" r="3.3"/><circle cx="692.8" cy="845.5" r="3.3"/><circle cx="688.2" cy="854.4" r="3.3"/><circle cx="679.7" cy="863.3" r="3.3"/><circle cx="681.1" cy="872.2" r="3.3"/><circle cx="692.8" cy="872.2" r="3.3"/><circle cx="668.4" cy="872.2" r="3.3"/><circle cx="666.2" cy="876.7" r="3.3"/><circle cx="687.0" cy="881.1" r="3.3"/><circle cx="688.2" cy="885.6" r="3.3"/><circle cx="714.1" cy="805.5" r="3.3"/><circle cx="721.2" cy="805.5" r="3.3"/><circle cx="711.9" cy="858.9" r="3.3"/><circle cx="715.8" cy="858.9" r="3.3"/><circle cx="715.3" cy="876.7" r="3.3"/><circle cx="728.8" cy="876.7" r="3.3"/><circle cx="731.0" cy="547.5" r="3.3"/><circle cx="745.4" cy="574.2" r="3.3"/><circle cx="747.4" cy="578.7" r="3.3"/><circle cx="770.8" cy="578.7" r="3.3"/><circle cx="752.2" cy="596.5" r="3.3"/><circle cx="769.4" cy="596.5" r="3.3"/><circle cx="762.3" cy="600.9" r="3.3"/><circle cx="733.2" cy="605.4" r="3.3"/><circle cx="747.4" cy="605.4" r="3.3"/><circle cx="731.9" cy="618.7" r="3.3"/><circle cx="769.4" cy="632.0" r="3.3"/><circle cx="736.9" cy="649.8" r="3.3"/><circle cx="767.1" cy="649.8" r="3.3"/><circle cx="762.3" cy="663.2" r="3.3"/><circle cx="776.7" cy="663.2" r="3.3"/><circle cx="743.7" cy="676.5" r="3.3"/><circle cx="770.8" cy="676.5" r="3.3"/><circle cx="761.5" cy="698.8" r="3.3"/><circle cx="768.3" cy="698.8" r="3.3"/><circle cx="764.9" cy="716.5" r="3.3"/><circle cx="770.8" cy="738.8" r="3.3"/><circle cx="783.8" cy="738.8" r="3.3"/><circle cx="775.9" cy="747.7" r="3.3"/><circle cx="750.5" cy="756.6" r="3.3"/><circle cx="774.5" cy="756.6" r="3.3"/><circle cx="767.4" cy="769.9" r="3.3"/><circle cx="816.8" cy="538.6" r="3.3"/><circle cx="854.6" cy="587.6" r="3.3"/><circle cx="840.5" cy="632.0" r="3.3"/><circle cx="813.6" cy="676.5" r="3.3"/><circle cx="848.7" cy="681.0" r="3.3"/><circle cx="840.5" cy="698.8" r="3.3"/><circle cx="859.7" cy="649.8" r="3.3"/><circle cx="869.8" cy="534.2" r="3.3"/><circle cx="874.4" cy="565.3" r="3.3"/><circle cx="874.4" cy="587.6" r="3.3"/><circle cx="872.4" cy="596.5" r="3.3"/><circle cx="872.4" cy="627.6" r="3.3"/><circle cx="881.7" cy="645.4" r="3.3"/><circle cx="873.6" cy="685.4" r="3.3"/><circle cx="874.4" cy="725.4" r="3.3"/><circle cx="871.2" cy="747.7" r="3.3"/><circle cx="770.8" cy="801.0" r="3.3"/><circle cx="778.9" cy="801.0" r="3.3"/><circle cx="804.1" cy="805.5" r="3.3"/><circle cx="767.1" cy="823.3" r="3.3"/><circle cx="762.3" cy="836.6" r="3.3"/><circle cx="745.1" cy="845.5" r="3.3"/><circle cx="805.2" cy="841.1" r="3.3"/><circle cx="787.4" cy="854.4" r="3.3"/><circle cx="820.4" cy="854.4" r="3.3"/><circle cx="749.6" cy="867.8" r="3.3"/><circle cx="729.3" cy="876.7" r="3.3"/><circle cx="769.6" cy="885.6" r="3.3"/><circle cx="869.0" cy="823.3" r="3.3"/><circle cx="869.0" cy="832.2" r="3.3"/><circle cx="855.9" cy="876.7" r="3.3"/><circle cx="867.8" cy="881.1" r="3.3"/><circle cx="721.7" cy="805.5" r="3.3"/><circle cx="511.9" cy="890.0" r="3.3"/><circle cx="512.6" cy="885.6" r="3.3"/><circle cx="512.3" cy="881.1" r="3.3"/><circle cx="512.5" cy="876.7" r="3.3"/><circle cx="512.3" cy="872.2" r="3.3"/><circle cx="512.7" cy="867.8" r="3.3"/><circle cx="512.5" cy="867.8" r="3.3"/><circle cx="512.6" cy="863.3" r="3.3"/><circle cx="512.1" cy="858.9" r="3.3"/><circle cx="512.2" cy="854.4" r="3.3"/><circle cx="511.6" cy="850.0" r="3.3"/><circle cx="512.6" cy="845.5" r="3.3"/><circle cx="511.9" cy="841.1" r="3.3"/><circle cx="512.6" cy="836.6" r="3.3"/><circle cx="512.4" cy="832.2" r="3.3"/><circle cx="512.9" cy="827.7" r="3.3"/><circle cx="512.9" cy="823.3" r="3.3"/><circle cx="511.6" cy="818.8" r="3.3"/><circle cx="513.1" cy="814.4" r="3.3"/><circle cx="512.8" cy="805.5" r="3.3"/><circle cx="511.7" cy="801.0" r="3.3"/><circle cx="512.2" cy="796.6" r="3.3"/><circle cx="512.6" cy="792.2" r="3.3"/><circle cx="512.3" cy="787.7" r="3.3"/><circle cx="511.5" cy="783.3" r="3.3"/><circle cx="512.4" cy="778.8" r="3.3"/><circle cx="512.6" cy="778.8" r="3.3"/><circle cx="512.3" cy="774.4" r="3.3"/><circle cx="512.6" cy="765.5" r="3.3"/><circle cx="512.6" cy="761.0" r="3.3"/><circle cx="512.5" cy="756.6" r="3.3"/><circle cx="512.2" cy="752.1" r="3.3"/><circle cx="512.9" cy="747.7" r="3.3"/><circle cx="512.7" cy="743.2" r="3.3"/><circle cx="513.1" cy="734.3" r="3.3"/><circle cx="512.2" cy="725.4" r="3.3"/><circle cx="512.5" cy="721.0" r="3.3"/><circle cx="512.0" cy="716.5" r="3.3"/><circle cx="512.0" cy="712.1" r="3.3"/><circle cx="512.3" cy="707.7" r="3.3"/><circle cx="512.4" cy="703.2" r="3.3"/><circle cx="512.1" cy="698.8" r="3.3"/><circle cx="512.6" cy="694.3" r="3.3"/><circle cx="511.8" cy="689.9" r="3.3"/><circle cx="512.2" cy="685.4" r="3.3"/><circle cx="512.2" cy="681.0" r="3.3"/><circle cx="512.7" cy="676.5" r="3.3"/><circle cx="512.7" cy="672.1" r="3.3"/><circle cx="512.6" cy="667.6" r="3.3"/><circle cx="512.4" cy="663.2" r="3.3"/><circle cx="513.0" cy="663.2" r="3.3"/><circle cx="512.3" cy="658.7" r="3.3"/><circle cx="512.3" cy="654.3" r="3.3"/><circle cx="511.8" cy="649.8" r="3.3"/><circle cx="512.6" cy="640.9" r="3.3"/><circle cx="512.3" cy="636.5" r="3.3"/><circle cx="512.2" cy="632.0" r="3.3"/><circle cx="512.3" cy="627.6" r="3.3"/><circle cx="511.9" cy="623.2" r="3.3"/><circle cx="512.8" cy="618.7" r="3.3"/><circle cx="512.6" cy="614.3" r="3.3"/><circle cx="512.2" cy="609.8" r="3.3"/><circle cx="512.3" cy="605.4" r="3.3"/><circle cx="512.3" cy="600.9" r="3.3"/><circle cx="512.3" cy="596.5" r="3.3"/><circle cx="512.4" cy="592.0" r="3.3"/><circle cx="511.8" cy="587.6" r="3.3"/><circle cx="512.0" cy="583.1" r="3.3"/><circle cx="512.2" cy="578.7" r="3.3"/><circle cx="511.9" cy="574.2" r="3.3"/><circle cx="512.5" cy="569.8" r="3.3"/><circle cx="512.5" cy="565.3" r="3.3"/><circle cx="512.8" cy="560.9" r="3.3"/><circle cx="512.2" cy="556.4" r="3.3"/><circle cx="511.9" cy="552.0" r="3.3"/><circle cx="512.7" cy="547.5" r="3.3"/><circle cx="512.3" cy="543.1" r="3.3"/><circle cx="512.2" cy="534.2" r="3.3"/><circle cx="601.4" cy="890.0" r="3.3"/><circle cx="601.5" cy="885.6" r="3.3"/><circle cx="601.5" cy="881.1" r="3.3"/><circle cx="602.0" cy="876.7" r="3.3"/><circle cx="602.0" cy="872.2" r="3.3"/><circle cx="602.0" cy="867.8" r="3.3"/><circle cx="601.7" cy="863.3" r="3.3"/><circle cx="601.9" cy="858.9" r="3.3"/><circle cx="601.3" cy="854.4" r="3.3"/><circle cx="601.9" cy="850.0" r="3.3"/><circle cx="600.7" cy="850.0" r="3.3"/><circle cx="601.9" cy="845.5" r="3.3"/><circle cx="601.1" cy="841.1" r="3.3"/><circle cx="602.0" cy="836.6" r="3.3"/><circle cx="602.0" cy="832.2" r="3.3"/><circle cx="601.9" cy="827.7" r="3.3"/><circle cx="602.0" cy="823.3" r="3.3"/><circle cx="601.7" cy="818.8" r="3.3"/><circle cx="602.0" cy="814.4" r="3.3"/><circle cx="601.8" cy="809.9" r="3.3"/><circle cx="601.9" cy="805.5" r="3.3"/><circle cx="601.7" cy="801.0" r="3.3"/><circle cx="601.4" cy="792.2" r="3.3"/><circle cx="601.7" cy="787.7" r="3.3"/><circle cx="601.2" cy="783.3" r="3.3"/><circle cx="601.7" cy="774.4" r="3.3"/><circle cx="602.1" cy="769.9" r="3.3"/><circle cx="601.6" cy="765.5" r="3.3"/><circle cx="602.1" cy="761.0" r="3.3"/><circle cx="601.8" cy="756.6" r="3.3"/><circle cx="602.0" cy="752.1" r="3.3"/><circle cx="601.7" cy="747.7" r="3.3"/><circle cx="601.7" cy="743.2" r="3.3"/><circle cx="601.5" cy="738.8" r="3.3"/><circle cx="602.0" cy="734.3" r="3.3"/><circle cx="601.9" cy="729.9" r="3.3"/><circle cx="600.9" cy="729.9" r="3.3"/><circle cx="602.0" cy="725.4" r="3.3"/><circle cx="601.6" cy="721.0" r="3.3"/><circle cx="601.0" cy="716.5" r="3.3"/><circle cx="601.9" cy="712.1" r="3.3"/><circle cx="602.2" cy="707.7" r="3.3"/><circle cx="601.6" cy="703.2" r="3.3"/><circle cx="600.9" cy="698.8" r="3.3"/><circle cx="601.6" cy="694.3" r="3.3"/><circle cx="601.6" cy="689.9" r="3.3"/><circle cx="601.7" cy="685.4" r="3.3"/><circle cx="601.9" cy="681.0" r="3.3"/><circle cx="601.5" cy="676.5" r="3.3"/><circle cx="601.6" cy="672.1" r="3.3"/><circle cx="601.8" cy="667.6" r="3.3"/><circle cx="602.3" cy="663.2" r="3.3"/><circle cx="601.8" cy="658.7" r="3.3"/><circle cx="602.1" cy="654.3" r="3.3"/><circle cx="601.8" cy="649.8" r="3.3"/><circle cx="601.3" cy="645.4" r="3.3"/><circle cx="601.6" cy="640.9" r="3.3"/><circle cx="601.6" cy="636.5" r="3.3"/><circle cx="601.9" cy="632.0" r="3.3"/><circle cx="601.7" cy="627.6" r="3.3"/><circle cx="601.6" cy="623.2" r="3.3"/><circle cx="602.1" cy="618.7" r="3.3"/><circle cx="601.7" cy="614.3" r="3.3"/><circle cx="601.4" cy="614.3" r="3.3"/><circle cx="601.7" cy="609.8" r="3.3"/><circle cx="602.0" cy="605.4" r="3.3"/><circle cx="601.9" cy="600.9" r="3.3"/><circle cx="601.7" cy="596.5" r="3.3"/><circle cx="602.0" cy="592.0" r="3.3"/><circle cx="601.5" cy="587.6" r="3.3"/><circle cx="602.0" cy="583.1" r="3.3"/><circle cx="601.8" cy="578.7" r="3.3"/><circle cx="601.8" cy="574.2" r="3.3"/><circle cx="601.1" cy="569.8" r="3.3"/><circle cx="601.7" cy="565.3" r="3.3"/><circle cx="601.7" cy="560.9" r="3.3"/><circle cx="601.8" cy="556.4" r="3.3"/><circle cx="601.6" cy="552.0" r="3.3"/><circle cx="601.4" cy="547.5" r="3.3"/><circle cx="601.7" cy="543.1" r="3.3"/><circle cx="601.8" cy="534.2" r="3.3"/><circle cx="675.7" cy="890.0" r="3.3"/><circle cx="674.8" cy="885.6" r="3.3"/><circle cx="675.4" cy="881.1" r="3.3"/><circle cx="675.1" cy="876.7" r="3.3"/><circle cx="675.3" cy="872.2" r="3.3"/><circle cx="675.7" cy="867.8" r="3.3"/><circle cx="675.2" cy="863.3" r="3.3"/><circle cx="675.9" cy="858.9" r="3.3"/><circle cx="675.2" cy="854.4" r="3.3"/><circle cx="675.4" cy="850.0" r="3.3"/><circle cx="674.7" cy="845.5" r="3.3"/><circle cx="675.4" cy="841.1" r="3.3"/><circle cx="675.8" cy="836.6" r="3.3"/><circle cx="675.6" cy="832.2" r="3.3"/><circle cx="675.7" cy="827.7" r="3.3"/><circle cx="676.0" cy="827.7" r="3.3"/><circle cx="675.3" cy="823.3" r="3.3"/><circle cx="675.6" cy="818.8" r="3.3"/><circle cx="675.6" cy="814.4" r="3.3"/><circle cx="675.3" cy="809.9" r="3.3"/><circle cx="674.8" cy="809.9" r="3.3"/><circle cx="675.9" cy="805.5" r="3.3"/><circle cx="675.5" cy="801.0" r="3.3"/><circle cx="675.8" cy="796.6" r="3.3"/><circle cx="675.3" cy="792.2" r="3.3"/><circle cx="675.6" cy="783.3" r="3.3"/><circle cx="675.4" cy="778.8" r="3.3"/><circle cx="673.9" cy="778.8" r="3.3"/><circle cx="675.2" cy="774.4" r="3.3"/><circle cx="675.3" cy="769.9" r="3.3"/><circle cx="675.5" cy="765.5" r="3.3"/><circle cx="675.1" cy="761.0" r="3.3"/><circle cx="675.3" cy="756.6" r="3.3"/><circle cx="675.4" cy="752.1" r="3.3"/><circle cx="675.7" cy="747.7" r="3.3"/><circle cx="676.0" cy="743.2" r="3.3"/><circle cx="676.3" cy="743.2" r="3.3"/><circle cx="675.7" cy="738.8" r="3.3"/><circle cx="674.9" cy="738.8" r="3.3"/><circle cx="675.6" cy="734.3" r="3.3"/><circle cx="675.7" cy="729.9" r="3.3"/><circle cx="675.9" cy="721.0" r="3.3"/><circle cx="675.0" cy="721.0" r="3.3"/><circle cx="675.5" cy="716.5" r="3.3"/><circle cx="675.1" cy="712.1" r="3.3"/><circle cx="675.3" cy="707.7" r="3.3"/><circle cx="675.7" cy="707.7" r="3.3"/><circle cx="675.7" cy="703.2" r="3.3"/><circle cx="675.1" cy="698.8" r="3.3"/><circle cx="675.5" cy="694.3" r="3.3"/><circle cx="676.0" cy="689.9" r="3.3"/><circle cx="675.2" cy="685.4" r="3.3"/><circle cx="675.1" cy="681.0" r="3.3"/><circle cx="675.9" cy="676.5" r="3.3"/><circle cx="675.5" cy="672.1" r="3.3"/><circle cx="675.3" cy="667.6" r="3.3"/><circle cx="675.4" cy="663.2" r="3.3"/><circle cx="674.7" cy="654.3" r="3.3"/><circle cx="675.0" cy="649.8" r="3.3"/><circle cx="675.2" cy="645.4" r="3.3"/><circle cx="675.6" cy="640.9" r="3.3"/><circle cx="675.6" cy="632.0" r="3.3"/><circle cx="675.1" cy="627.6" r="3.3"/><circle cx="675.9" cy="627.6" r="3.3"/><circle cx="675.9" cy="623.2" r="3.3"/><circle cx="675.8" cy="623.2" r="3.3"/><circle cx="675.5" cy="618.7" r="3.3"/><circle cx="675.5" cy="614.3" r="3.3"/><circle cx="675.1" cy="609.8" r="3.3"/><circle cx="675.2" cy="605.4" r="3.3"/><circle cx="675.5" cy="600.9" r="3.3"/><circle cx="675.6" cy="596.5" r="3.3"/><circle cx="675.6" cy="592.0" r="3.3"/><circle cx="675.6" cy="587.6" r="3.3"/><circle cx="675.1" cy="583.1" r="3.3"/><circle cx="675.1" cy="578.7" r="3.3"/><circle cx="675.6" cy="574.2" r="3.3"/><circle cx="675.4" cy="569.8" r="3.3"/><circle cx="675.7" cy="565.3" r="3.3"/><circle cx="676.1" cy="565.3" r="3.3"/><circle cx="676.1" cy="560.9" r="3.3"/><circle cx="675.4" cy="556.4" r="3.3"/><circle cx="675.6" cy="552.0" r="3.3"/><circle cx="675.4" cy="547.5" r="3.3"/><circle cx="674.8" cy="543.1" r="3.3"/><circle cx="675.8" cy="538.6" r="3.3"/><circle cx="675.8" cy="534.2" r="3.3"/><circle cx="756.3" cy="890.0" r="3.3"/><circle cx="756.2" cy="885.6" r="3.3"/><circle cx="757.0" cy="885.6" r="3.3"/><circle cx="756.2" cy="881.1" r="3.3"/><circle cx="756.5" cy="876.7" r="3.3"/><circle cx="756.9" cy="872.2" r="3.3"/><circle cx="756.7" cy="867.8" r="3.3"/><circle cx="757.0" cy="863.3" r="3.3"/><circle cx="756.8" cy="858.9" r="3.3"/><circle cx="756.3" cy="854.4" r="3.3"/><circle cx="757.0" cy="850.0" r="3.3"/><circle cx="756.4" cy="845.5" r="3.3"/><circle cx="757.0" cy="841.1" r="3.3"/><circle cx="756.4" cy="836.6" r="3.3"/><circle cx="756.6" cy="832.2" r="3.3"/><circle cx="756.5" cy="827.7" r="3.3"/><circle cx="756.6" cy="823.3" r="3.3"/><circle cx="756.3" cy="818.8" r="3.3"/><circle cx="756.8" cy="814.4" r="3.3"/><circle cx="757.1" cy="814.4" r="3.3"/><circle cx="755.6" cy="809.9" r="3.3"/><circle cx="756.6" cy="805.5" r="3.3"/><circle cx="757.0" cy="801.0" r="3.3"/><circle cx="756.6" cy="796.6" r="3.3"/><circle cx="756.6" cy="792.2" r="3.3"/><circle cx="757.6" cy="787.7" r="3.3"/><circle cx="756.3" cy="783.3" r="3.3"/><circle cx="756.6" cy="778.8" r="3.3"/><circle cx="756.4" cy="774.4" r="3.3"/><circle cx="756.5" cy="769.9" r="3.3"/><circle cx="757.1" cy="769.9" r="3.3"/><circle cx="756.6" cy="765.5" r="3.3"/><circle cx="756.4" cy="761.0" r="3.3"/><circle cx="757.3" cy="761.0" r="3.3"/><circle cx="756.7" cy="756.6" r="3.3"/><circle cx="756.8" cy="752.1" r="3.3"/><circle cx="756.5" cy="747.7" r="3.3"/><circle cx="756.2" cy="743.2" r="3.3"/><circle cx="756.6" cy="738.8" r="3.3"/><circle cx="757.0" cy="729.9" r="3.3"/><circle cx="756.6" cy="725.4" r="3.3"/><circle cx="756.2" cy="721.0" r="3.3"/><circle cx="757.1" cy="716.5" r="3.3"/><circle cx="757.1" cy="712.1" r="3.3"/><circle cx="757.2" cy="707.7" r="3.3"/><circle cx="756.7" cy="703.2" r="3.3"/><circle cx="756.7" cy="698.8" r="3.3"/><circle cx="757.0" cy="694.3" r="3.3"/><circle cx="756.5" cy="689.9" r="3.3"/><circle cx="756.6" cy="685.4" r="3.3"/><circle cx="756.4" cy="681.0" r="3.3"/><circle cx="756.3" cy="676.5" r="3.3"/><circle cx="756.1" cy="672.1" r="3.3"/><circle cx="756.2" cy="667.6" r="3.3"/><circle cx="756.8" cy="663.2" r="3.3"/><circle cx="756.2" cy="658.7" r="3.3"/><circle cx="756.1" cy="654.3" r="3.3"/><circle cx="757.3" cy="654.3" r="3.3"/><circle cx="756.5" cy="649.8" r="3.3"/><circle cx="756.6" cy="645.4" r="3.3"/><circle cx="756.3" cy="636.5" r="3.3"/><circle cx="756.9" cy="627.6" r="3.3"/><circle cx="756.1" cy="623.2" r="3.3"/><circle cx="756.3" cy="618.7" r="3.3"/><circle cx="756.9" cy="614.3" r="3.3"/><circle cx="756.6" cy="609.8" r="3.3"/><circle cx="756.1" cy="605.4" r="3.3"/><circle cx="756.6" cy="596.5" r="3.3"/><circle cx="756.5" cy="592.0" r="3.3"/><circle cx="756.7" cy="587.6" r="3.3"/><circle cx="757.0" cy="583.1" r="3.3"/><circle cx="756.7" cy="578.7" r="3.3"/><circle cx="756.1" cy="574.2" r="3.3"/><circle cx="756.9" cy="569.8" r="3.3"/><circle cx="756.5" cy="565.3" r="3.3"/><circle cx="756.7" cy="560.9" r="3.3"/><circle cx="756.8" cy="556.4" r="3.3"/><circle cx="756.6" cy="552.0" r="3.3"/><circle cx="757.1" cy="543.1" r="3.3"/><circle cx="756.4" cy="538.6" r="3.3"/><circle cx="756.4" cy="534.2" r="3.3"/><circle cx="863.7" cy="890.0" r="3.3"/><circle cx="863.2" cy="885.6" r="3.3"/><circle cx="863.1" cy="881.1" r="3.3"/><circle cx="863.1" cy="876.7" r="3.3"/><circle cx="863.5" cy="872.2" r="3.3"/><circle cx="863.5" cy="867.8" r="3.3"/><circle cx="862.9" cy="863.3" r="3.3"/><circle cx="863.5" cy="858.9" r="3.3"/><circle cx="863.7" cy="854.4" r="3.3"/><circle cx="863.1" cy="850.0" r="3.3"/><circle cx="863.2" cy="845.5" r="3.3"/><circle cx="862.8" cy="841.1" r="3.3"/><circle cx="863.2" cy="836.6" r="3.3"/><circle cx="863.6" cy="832.2" r="3.3"/><circle cx="862.9" cy="827.7" r="3.3"/><circle cx="863.5" cy="823.3" r="3.3"/><circle cx="864.1" cy="823.3" r="3.3"/><circle cx="863.8" cy="818.8" r="3.3"/><circle cx="863.5" cy="814.4" r="3.3"/><circle cx="863.0" cy="809.9" r="3.3"/><circle cx="863.2" cy="805.5" r="3.3"/><circle cx="863.3" cy="801.0" r="3.3"/><circle cx="863.1" cy="796.6" r="3.3"/><circle cx="862.5" cy="796.6" r="3.3"/><circle cx="863.6" cy="792.2" r="3.3"/><circle cx="863.1" cy="787.7" r="3.3"/><circle cx="863.4" cy="783.3" r="3.3"/><circle cx="863.2" cy="778.8" r="3.3"/><circle cx="863.2" cy="774.4" r="3.3"/><circle cx="863.9" cy="769.9" r="3.3"/><circle cx="863.6" cy="765.5" r="3.3"/><circle cx="863.8" cy="756.6" r="3.3"/><circle cx="863.3" cy="752.1" r="3.3"/><circle cx="863.4" cy="747.7" r="3.3"/><circle cx="863.1" cy="743.2" r="3.3"/><circle cx="863.3" cy="738.8" r="3.3"/><circle cx="863.4" cy="734.3" r="3.3"/><circle cx="863.2" cy="725.4" r="3.3"/><circle cx="863.1" cy="721.0" r="3.3"/><circle cx="865.2" cy="721.0" r="3.3"/><circle cx="863.4" cy="716.5" r="3.3"/><circle cx="862.7" cy="716.5" r="3.3"/><circle cx="863.5" cy="712.1" r="3.3"/><circle cx="863.4" cy="707.7" r="3.3"/><circle cx="862.8" cy="703.2" r="3.3"/><circle cx="863.4" cy="698.8" r="3.3"/><circle cx="863.1" cy="694.3" r="3.3"/><circle cx="863.5" cy="689.9" r="3.3"/><circle cx="862.2" cy="689.9" r="3.3"/><circle cx="863.6" cy="685.4" r="3.3"/><circle cx="863.5" cy="681.0" r="3.3"/><circle cx="863.5" cy="676.5" r="3.3"/><circle cx="863.4" cy="672.1" r="3.3"/><circle cx="864.6" cy="672.1" r="3.3"/><circle cx="863.2" cy="667.6" r="3.3"/><circle cx="863.5" cy="663.2" r="3.3"/><circle cx="863.7" cy="658.7" r="3.3"/><circle cx="863.0" cy="654.3" r="3.3"/><circle cx="863.1" cy="649.8" r="3.3"/><circle cx="863.9" cy="645.4" r="3.3"/><circle cx="863.3" cy="640.9" r="3.3"/><circle cx="863.6" cy="636.5" r="3.3"/><circle cx="863.4" cy="632.0" r="3.3"/><circle cx="863.2" cy="627.6" r="3.3"/><circle cx="863.7" cy="623.2" r="3.3"/><circle cx="863.2" cy="618.7" r="3.3"/><circle cx="863.3" cy="614.3" r="3.3"/><circle cx="863.3" cy="609.8" r="3.3"/><circle cx="863.4" cy="605.4" r="3.3"/><circle cx="863.0" cy="596.5" r="3.3"/><circle cx="863.1" cy="592.0" r="3.3"/><circle cx="863.6" cy="587.6" r="3.3"/><circle cx="862.0" cy="587.6" r="3.3"/><circle cx="863.3" cy="583.1" r="3.3"/><circle cx="863.2" cy="578.7" r="3.3"/><circle cx="864.5" cy="578.7" r="3.3"/><circle cx="863.7" cy="574.2" r="3.3"/><circle cx="863.6" cy="569.8" r="3.3"/><circle cx="863.4" cy="565.3" r="3.3"/><circle cx="863.3" cy="560.9" r="3.3"/><circle cx="863.0" cy="552.0" r="3.3"/><circle cx="862.9" cy="547.5" r="3.3"/><circle cx="863.5" cy="547.5" r="3.3"/><circle cx="863.9" cy="543.1" r="3.3"/><circle cx="863.0" cy="538.6" r="3.3"/><circle cx="862.7" cy="534.2" r="3.3"/><circle cx="903.2" cy="538.6" r="3.3"/><circle cx="935.2" cy="538.6" r="3.3"/><circle cx="933.6" cy="547.5" r="3.3"/><circle cx="930.3" cy="596.5" r="3.3"/><circle cx="950.6" cy="605.4" r="3.3"/><circle cx="934.8" cy="618.7" r="3.3"/><circle cx="909.2" cy="636.5" r="3.3"/><circle cx="938.6" cy="640.9" r="3.3"/><circle cx="901.3" cy="649.8" r="3.3"/><circle cx="1008.6" cy="560.9" r="3.3"/><circle cx="1024.4" cy="600.9" r="3.3"/><circle cx="1038.0" cy="640.9" r="3.3"/><circle cx="958.9" cy="685.4" r="3.3"/><circle cx="1005.2" cy="694.3" r="3.3"/><circle cx="1003.7" cy="729.9" r="3.3"/><circle cx="985.6" cy="743.2" r="3.3"/><circle cx="917.2" cy="756.6" r="3.3"/><circle cx="1031.9" cy="756.6" r="3.3"/><circle cx="925.7" cy="787.7" r="3.3"/><circle cx="942.0" cy="787.7" r="3.3"/><circle cx="887.8" cy="792.2" r="3.3"/><circle cx="894.1" cy="850.0" r="3.3"/></g>
<g fill="#000"><circle cx="115.2" cy="534.2" r="3.3"/><circle cx="272.2" cy="534.2" r="3.3"/><circle cx="229.9" cy="543.1" r="3.3"/><circle cx="325.2" cy="547.5" r="3.3"/><circle cx="129.1" cy="547.5" r="3.3"/><circle cx="110.2" cy="556.4" r="3.3"/><circle cx="282.8" cy="560.9" r="3.3"/><circle cx="286.7" cy="560.9" r="3.3"/><circle cx="230.9" cy="569.8" r="3.3"/><circle cx="332.4" cy="569.8" r="3.3"/><circle cx="248.5" cy="574.2" r="3.3"/><circle cx="213.1" cy="583.1" r="3.3"/><circle cx="272.2" cy="583.1" r="3.3"/><circle cx="314.7" cy="583.1" r="3.3"/><circle cx="214.3" cy="592.0" r="3.3"/><circle cx="127.1" cy="605.4" r="3.3"/><circle cx="147.1" cy="609.8" r="3.3"/><circle cx="188.0" cy="609.8" r="3.3"/><circle cx="195.3" cy="609.8" r="3.3"/><circle cx="236.8" cy="609.8" r="3.3"/><circle cx="288.8" cy="614.3" r="3.3"/><circle cx="176.5" cy="618.7" r="3.3"/><circle cx="287.6" cy="618.7" r="3.3"/><circle cx="144.5" cy="623.2" r="3.3"/><circle cx="120.8" cy="627.6" r="3.3"/><circle cx="305.2" cy="636.5" r="3.3"/><circle cx="327.7" cy="636.5" r="3.3"/><circle cx="284.2" cy="645.4" r="3.3"/><circle cx="314.7" cy="649.8" r="3.3"/><circle cx="144.5" cy="654.3" r="3.3"/><circle cx="221.2" cy="663.2" r="3.3"/><circle cx="155.4" cy="676.5" r="3.3"/><circle cx="129.1" cy="681.0" r="3.3"/><circle cx="229.9" cy="698.8" r="3.3"/><circle cx="323.1" cy="698.8" r="3.3"/><circle cx="200.2" cy="707.7" r="3.3"/><circle cx="187.2" cy="712.1" r="3.3"/><circle cx="179.6" cy="721.0" r="3.3"/><circle cx="186.0" cy="721.0" r="3.3"/><circle cx="196.5" cy="721.0" r="3.3"/><circle cx="177.5" cy="725.4" r="3.3"/><circle cx="144.5" cy="752.1" r="3.3"/><circle cx="325.2" cy="761.0" r="3.3"/><circle cx="232.1" cy="765.5" r="3.3"/><circle cx="138.6" cy="774.4" r="3.3"/><circle cx="238.8" cy="774.4" r="3.3"/><circle cx="323.1" cy="778.8" r="3.3"/><circle cx="117.4" cy="796.6" r="3.3"/><circle cx="122.9" cy="792.2" r="3.3"/><circle cx="169.4" cy="796.6" r="3.3"/><circle cx="189.4" cy="805.5" r="3.3"/><circle cx="323.1" cy="805.5" r="3.3"/><circle cx="107.1" cy="818.8" r="3.3"/><circle cx="191.8" cy="827.7" r="3.3"/><circle cx="188.0" cy="832.2" r="3.3"/><circle cx="120.0" cy="832.2" r="3.3"/><circle cx="109.3" cy="836.6" r="3.3"/><circle cx="156.4" cy="836.6" r="3.3"/><circle cx="269.8" cy="832.2" r="3.3"/><circle cx="312.5" cy="832.2" r="3.3"/><circle cx="328.9" cy="836.6" r="3.3"/><circle cx="209.5" cy="845.5" r="3.3"/><circle cx="251.2" cy="850.0" r="3.3"/><circle cx="232.9" cy="858.9" r="3.3"/><circle cx="239.2" cy="858.9" r="3.3"/><circle cx="346.3" cy="854.4" r="3.3"/><circle cx="348.9" cy="858.9" r="3.3"/><circle cx="148.3" cy="863.3" r="3.3"/><circle cx="274.7" cy="867.8" r="3.3"/><circle cx="153.8" cy="876.7" r="3.3"/><circle cx="113.0" cy="881.1" r="3.3"/><circle cx="323.1" cy="881.1" r="3.3"/><circle cx="181.3" cy="885.6" r="3.3"/><circle cx="450.5" cy="627.6" r="3.3"/><circle cx="457.8" cy="649.8" r="3.3"/><circle cx="469.1" cy="681.0" r="3.3"/><circle cx="496.8" cy="578.7" r="3.3"/><circle cx="503.6" cy="574.2" r="3.3"/><circle cx="507.0" cy="596.5" r="3.3"/><circle cx="543.6" cy="609.8" r="3.3"/><circle cx="575.9" cy="605.4" r="3.3"/><circle cx="578.6" cy="640.9" r="3.3"/><circle cx="546.5" cy="672.1" r="3.3"/><circle cx="653.8" cy="574.2" r="3.3"/><circle cx="652.0" cy="618.7" r="3.3"/><circle cx="639.6" cy="658.7" r="3.3"/><circle cx="638.5" cy="694.3" r="3.3"/><circle cx="538.0" cy="756.6" r="3.3"/><circle cx="544.7" cy="765.5" r="3.3"/><circle cx="577.0" cy="752.1" r="3.3"/><circle cx="496.8" cy="774.4" r="3.3"/><circle cx="548.6" cy="787.7" r="3.3"/><circle cx="507.0" cy="818.8" r="3.3"/><circle cx="534.1" cy="841.1" r="3.3"/><circle cx="544.7" cy="845.5" r="3.3"/><circle cx="556.7" cy="845.5" r="3.3"/><circle cx="558.3" cy="854.4" r="3.3"/><circle cx="735.3" cy="547.5" r="3.3"/><circle cx="819.4" cy="543.1" r="3.3"/><circle cx="792.3" cy="569.8" r="3.3"/><circle cx="808.7" cy="574.2" r="3.3"/><circle cx="809.9" cy="596.5" r="3.3"/><circle cx="845.6" cy="596.5" r="3.3"/><circle cx="860.7" cy="592.0" r="3.3"/><circle cx="891.2" cy="578.7" r="3.3"/><circle cx="898.4" cy="578.7" r="3.3"/><circle cx="990.6" cy="565.3" r="3.3"/><circle cx="733.8" cy="636.5" r="3.3"/><circle cx="747.1" cy="640.9" r="3.3"/><circle cx="792.3" cy="640.9" r="3.3"/><circle cx="806.0" cy="636.5" r="3.3"/><circle cx="800.8" cy="658.7" r="3.3"/><circle cx="780.5" cy="663.2" r="3.3"/><circle cx="803.8" cy="667.6" r="3.3"/><circle cx="805.4" cy="676.5" r="3.3"/><circle cx="729.7" cy="676.5" r="3.3"/><circle cx="736.5" cy="676.5" r="3.3"/><circle cx="787.3" cy="712.1" r="3.3"/><circle cx="773.7" cy="729.9" r="3.3"/><circle cx="847.1" cy="716.5" r="3.3"/><circle cx="859.6" cy="721.0" r="3.3"/><circle cx="854.6" cy="743.2" r="3.3"/><circle cx="849.4" cy="747.7" r="3.3"/><circle cx="887.8" cy="752.1" r="3.3"/><circle cx="933.6" cy="747.7" r="3.3"/><circle cx="821.6" cy="769.9" r="3.3"/><circle cx="801.5" cy="783.3" r="3.3"/><circle cx="723.6" cy="792.2" r="3.3"/><circle cx="933.6" cy="823.3" r="3.3"/><circle cx="972.9" cy="832.2" r="3.3"/><circle cx="959.6" cy="663.2" r="3.3"/><circle cx="968.0" cy="658.7" r="3.3"/><circle cx="1052.2" cy="654.3" r="3.3"/><circle cx="1054.3" cy="725.4" r="3.3"/><circle cx="471.8" cy="867.8" r="3.3"/><circle cx="483.8" cy="885.6" r="3.3"/><circle cx="650.1" cy="872.2" r="3.3"/><circle cx="852.1" cy="867.8" r="3.3"/></g>
<rect x="107.0" y="883.8" width="241.6" height="6.2" fill="#87ceeb"/>
<rect x="433.1" y="883.8" width="446.9" height="6.2" fill="#faa31b"/>
<path d="M106.9 548.3 L107.4 548.2 L107.9 548.0 L108.4 547.7 L108.9 547.5 L109.4 547.2 L109.9 547.0 L110.4 547.4 L110.9 547.7 L111.4 547.5 L111.9 547.1 L112.4 547.0 L112.9 547.1 L113.4 546.9 L114.0 546.9 L114.5 546.7 L115.0 546.5 L115.5 546.7 L116.0 546.6 L116.5 546.5 L117.0 546.5 L117.5 546.3 L118.0 546.2 L118.5 546.2 L119.0 546.1 L119.5 546.0 L120.0 545.7 L120.5 545.5 L121.0 545.6 L121.5 545.8 L122.0 546.1 L122.5 546.1 L123.0 545.7 L123.5 545.5 L124.0 545.3 L124.5 545.4 L125.0 545.4 L125.5 545.1 L126.0 545.3 L126.5 545.9 L127.0 546.2 L127.5 546.1 L128.0 546.4 L128.5 546.8 L129.0 546.6 L129.5 546.5 L130.0 547.1 L130.5 547.1 L131.0 547.0 L131.5 547.3 L132.0 547.4 L132.5 547.4 L133.0 547.4 L133.5 547.4 L134.0 547.7 L134.5 547.8 L135.0 547.5 L135.5 547.8 L136.0 548.2 L136.5 548.3 L137.0 548.4 L137.5 548.7 L138.0 548.5 L138.5 548.4 L139.0 548.9 L139.5 549.4 L140.0 549.6 L140.5 549.7 L141.0 549.6 L141.5 549.8 L142.0 549.9 L142.5 549.9 L143.0 550.2 L143.5 550.4 L144.0 550.3 L144.5 550.4 L145.0 550.1 L145.5 549.8 L146.0 550.0 L146.5 550.1 L147.0 550.0 L147.5 550.1 L148.0 550.2 L148.5 550.0 L149.0 549.7 L149.5 549.9 L150.0 549.9 L150.5 549.6 L151.0 549.5 L151.5 549.5 L152.0 549.6 L152.5 549.9 L153.0 550.2 L153.5 550.4 L154.0 550.3 L154.5 550.2 L155.0 550.2 L155.5 550.0 L156.0 549.7 L156.5 549.7 L157.0 549.7 L157.5 549.5 L158.0 549.3 L158.5 549.2 L159.0 549.1 L159.5 549.1 L160.0 549.3 L160.5 549.4 L161.0 549.4 L161.5 549.5 L162.0 549.4 L162.5 549.2 L163.0 548.9 L163.5 548.5 L164.0 548.1 L164.5 548.5 L165.0 549.0 L165.5 548.8 L166.0 549.1 L166.5 549.4 L167.0 549.2 L167.5 549.5 L168.0 549.7 L168.5 549.6 L169.0 549.6 L169.5 549.2 L170.0 548.7 L170.5 548.7 L171.0 548.5 L171.5 548.1 L172.0 548.4 L172.5 549.0 L173.0 548.7 L173.5 548.4 L174.0 548.4 L174.5 548.4 L175.0 548.4 L175.5 548.2 L176.0 547.9 L176.5 547.8 L177.0 548.0 L177.5 548.6 L178.0 549.0 L178.5 549.1 L179.1 549.0 L179.6 548.6 L180.1 548.1 L180.6 547.9 L181.1 547.8 L181.6 547.6 L182.1 548.0 L182.6 548.6 L183.1 548.6 L183.6 548.4 L184.1 548.0 L184.6 547.6 L185.1 547.7 L185.6 548.0 L186.1 548.5 L186.6 548.6 L187.1 548.0 L187.6 547.8 L188.1 547.8 L188.6 547.7 L189.1 547.6 L189.6 547.8 L190.1 548.0 L190.6 547.8 L191.1 547.6 L191.6 547.4 L192.1 547.4 L192.6 547.7 L193.1 547.6 L193.6 547.5 L194.1 547.5 L194.6 547.4 L195.1 547.1 L195.6 547.3 L196.1 547.9 L196.6 548.0 L197.1 548.0 L197.6 548.2 L198.1 547.9 L198.6 547.7 L199.1 547.8 L199.6 548.0 L200.1 547.9 L200.6 547.7 L201.1 547.6 L201.6 547.8 L202.1 547.6 L202.6 547.2 L203.1 547.2 L203.6 547.4 L204.1 547.2 L204.6 547.1 L205.1 547.4 L205.6 547.5 L206.1 547.4 L206.6 547.3 L207.1 547.1 L207.6 547.1 L208.1 547.0 L208.6 547.2 L209.1 547.5 L209.6 547.7 L210.1 547.8 L210.6 548.1 L211.1 548.4 L211.6 548.1 L212.1 547.6 L212.6 547.5 L213.1 547.7 L213.6 547.8 L214.1 547.8 L214.6 548.0 L215.1 548.4 L215.6 548.3 L216.1 548.1 L216.6 548.1 L217.1 548.4 L217.6 548.7 L218.1 548.8 L218.6 548.3 L219.1 547.8 L219.6 548.3 L220.1 549.1 L220.6 549.2 L221.1 548.6 L221.6 548.3 L222.1 548.5 L222.6 548.4 L223.1 548.1 L223.6 548.5 L224.1 549.2 L224.6 549.4 L225.1 549.1 L225.6 549.1 L226.1 549.3 L226.6 549.0 L227.1 548.7 L227.6 548.9 L228.1 549.3 L228.6 549.6 L229.1 549.5 L229.6 549.4 L230.1 549.3 L230.6 549.2 L231.1 549.1 L231.6 549.6 L232.1 549.8 L232.6 549.6 L233.1 549.6 L233.6 550.0 L234.1 550.2 L234.6 550.1 L235.1 549.9 L235.6 549.6 L236.1 549.4 L236.6 549.7 L237.1 550.0 L237.6 550.1 L238.1 550.3 L238.6 550.5 L239.1 550.5 L239.6 550.6 L240.1 550.6 L240.6 550.6 L241.1 550.6 L241.6 550.5 L242.1 550.4 L242.6 550.6 L243.1 550.6 L243.6 550.8 L244.2 551.0 L244.7 551.1 L245.2 550.9 L245.7 550.8 L246.2 551.1 L246.7 551.2 L247.2 551.1 L247.7 551.2 L248.2 551.4 L248.7 551.5 L249.2 551.1 L249.7 550.7 L250.2 550.9 L250.7 551.4 L251.2 551.7 L251.7 551.5 L252.2 551.4 L252.7 551.5 L253.2 551.3 L253.7 551.2 L254.2 551.0 L254.7 550.9 L255.2 551.3 L255.7 551.3 L256.2 550.9 L256.7 550.8 L257.2 551.1 L257.7 551.3 L258.2 550.9 L258.7 550.6 L259.2 550.7 L259.7 550.2 L260.2 550.0 L260.7 550.3 L261.2 550.5 L261.7 550.5 L262.2 550.5 L262.7 550.6 L263.2 550.4 L263.7 550.2 L264.2 550.3 L264.7 550.6 L265.2 550.8 L265.7 550.7 L266.2 550.1 L266.7 549.3 L267.2 549.4 L267.7 549.8 L268.2 549.8 L268.7 549.7 L269.2 550.0 L269.7 550.0 L270.2 549.6 L270.7 549.6 L271.2 549.5 L271.7 549.4 L272.2 549.5 L272.7 549.2 L273.2 548.9 L273.7 549.0 L274.2 549.1 L274.7 549.2 L275.2 549.3 L275.7 549.3 L276.2 549.6 L276.7 549.5 L277.2 549.0 L277.7 549.1 L278.2 549.3 L278.7 549.0 L279.2 548.7 L279.7 549.1 L280.2 549.3 L280.7 548.9 L281.2 548.9 L281.7 549.0 L282.2 548.9 L282.7 548.8 L283.2 548.9 L283.7 549.3 L284.2 549.1 L284.7 549.0 L285.2 549.1 L285.7 548.9 L286.2 549.0 L286.7 549.3 L287.2 549.4 L287.7 549.4 L288.2 549.3 L288.7 549.3 L289.2 549.3 L289.7 549.6 L290.2 549.6 L290.7 549.3 L291.2 549.4 L291.7 549.4 L292.2 549.2 L292.7 549.1 L293.2 549.0 L293.7 548.7 L294.2 548.8 L294.7 549.0 L295.2 549.1 L295.7 549.4 L296.2 549.4 L296.7 549.3 L297.2 549.4 L297.7 549.4 L298.2 549.2 L298.7 549.2 L299.2 549.4 L299.7 549.7 L300.2 549.9 L300.7 549.9 L301.2 549.6 L301.7 549.2 L302.2 549.0 L302.7 549.4 L303.2 549.6 L303.7 549.5 L304.2 549.7 L304.7 549.8 L305.2 549.7 L305.7 549.7 L306.2 549.4 L306.7 548.9 L307.2 549.0 L307.7 549.3 L308.2 549.3 L308.7 549.1 L309.3 549.0 L309.8 549.0 L310.3 549.2 L310.8 549.4 L311.3 549.6 L311.8 549.6 L312.3 549.4 L312.8 549.3 L313.3 549.3 L313.8 549.4 L314.3 549.2 L314.8 548.7 L315.3 548.8 L315.8 549.3 L316.3 549.2 L316.8 548.9 L317.3 549.1 L317.8 549.2 L318.3 548.7 L318.8 548.3 L319.3 548.4 L319.8 548.6 L320.3 548.8 L320.8 548.9 L321.3 549.2 L321.8 549.0 L322.3 548.6 L322.8 548.4 L323.3 548.5 L323.8 548.9 L324.3 549.2 L324.8 549.0 L325.3 548.8 L325.8 548.6 L326.3 549.0 L326.8 549.2 L327.3 548.8 L327.8 549.0 L328.3 548.9 L328.8 548.2 L329.3 548.0 L329.8 548.5 L330.3 548.8 L330.8 548.8 L331.3 548.8 L331.8 549.0 L332.3 549.0 L332.8 548.9 L333.3 549.0 L333.8 549.1 L334.3 549.1 L334.8 549.3 L335.3 549.0 L335.8 548.9 L336.3 549.2 L336.8 549.0 L337.3 548.7 L337.8 548.8 L338.3 548.8 L338.8 548.9 L339.3 549.2 L339.8 549.2 L340.3 549.2 L340.8 549.5 L341.3 549.8 L341.8 549.4 L342.3 548.9 L342.8 548.8 L343.3 549.0 L343.8 549.3 L344.3 549.5 L344.8 549.7 L345.3 549.6 L345.8 549.2 L346.3 548.8 L346.8 548.5 L347.3 548.7 L347.8 548.9 L348.3 548.8 L348.8 548.4 L349.3 548.3 L350.2 556.8 L350.7 560.5 L351.2 569.3 L351.7 584.8 L352.2 606.9 L352.7 619.4 L353.2 629.7 L353.7 638.8 L354.2 646.2 L354.7 652.5 L355.2 658.8 L355.7 664.1 L356.2 668.9 L356.7 673.7 L357.2 677.5 L357.7 680.8 L358.2 684.2 L358.7 687.4 L359.2 690.3 L359.7 693.5 L360.2 696.7 L360.7 699.2 L361.2 701.8 L361.7 704.3 L362.2 706.5 L362.7 708.7 L363.2 710.7 L363.7 712.6 L364.2 714.4 L364.7 716.2 L365.2 717.7 L365.7 719.2 L366.2 720.8 L366.7 722.6 L367.2 723.9 L367.7 725.1 L368.2 726.5 L368.7 728.1 L369.2 729.7 L369.7 731.2 L370.2 732.5 L370.7 733.7 L371.2 734.9 L371.7 735.7 L372.2 736.7 L372.7 738.2 L373.2 739.4 L373.7 740.5 L374.2 741.8 L374.7 743.0 L375.2 743.9 L375.7 744.9 L376.2 745.8 L376.7 746.4 L377.2 747.4 L377.7 748.8 L378.2 749.9 L378.7 751.0 L379.2 751.9 L379.7 752.5 L380.2 753.0 L380.7 753.6 L381.2 754.3 L381.7 754.8 L382.2 755.6 L382.7 756.4 L383.2 756.6 L383.7 757.1 L384.2 757.9 L384.7 758.2 L385.2 758.5 L385.7 759.0 L386.2 759.4 L386.7 759.7 L387.2 760.3 L387.7 760.7 L388.2 761.2 L388.7 761.6 L389.2 761.9 L389.7 762.3 L390.2 762.7 L390.7 763.1 L391.2 763.5 L391.7 763.7 L392.2 763.7 L392.7 763.9 L393.2 764.3 L393.7 764.9 L394.2 765.5 L394.7 765.8 L395.2 765.7 L395.7 765.7 L396.2 765.5 L396.7 765.5 L397.2 766.0 L397.7 766.3 L398.2 766.3 L398.7 766.6 L399.2 767.2 L399.7 767.2 L400.2 767.5 L400.7 768.3 L401.2 768.4 L401.7 768.3 L402.2 768.5 L402.7 768.8 L403.2 769.0 L403.7 768.7 L404.2 768.8 L404.7 769.3 L405.2 769.8 L405.7 770.1 L406.2 770.0 L406.7 770.3 L407.2 771.0 L407.7 771.6 L408.2 771.9 L408.7 772.4 L409.2 772.8 L409.7 772.8 L410.2 773.1 L410.7 773.6 L411.2 773.8 L411.7 774.0 L412.2 774.4 L412.7 774.8 L413.2 775.2 L413.7 775.7 L414.2 776.3 L414.7 777.0 L415.2 778.2 L415.7 780.0 L416.2 781.4 L416.7 782.1 L417.2 782.5 L417.7 782.9 L418.2 783.1 L418.8 782.9 L419.3 782.2 L419.8 781.6 L420.3 781.1 L420.8 780.3 L421.3 779.5 L421.8 778.8 L422.3 778.6 L422.8 778.7 L423.3 778.6 L423.8 778.6 L424.3 778.9 L424.8 779.1 L425.3 778.9 L425.8 778.6 L426.3 779.0 L426.8 779.2 L427.3 778.8 L427.8 779.0 L428.3 779.5 L428.8 779.6 L429.3 780.0 L429.8 780.7 L430.3 781.3 L430.8 781.8 L431.3 782.3 L431.8 783.2 L432.3 784.1 L432.8 783.6 L433.3 781.3 L433.8 779.6 L434.3 777.5 L434.8 775.4 L435.3 773.3 L435.8 771.0 L436.3 769.0 L436.8 766.8 L437.3 764.5 L437.8 761.9 L438.3 759.2 L438.8 757.0 L439.3 754.7 L439.8 752.2 L440.3 749.5 L440.8 746.7 L441.3 744.4 L441.8 742.3 L442.3 739.8 L442.8 737.4 L443.3 735.4 L443.8 733.9 L444.3 731.9 L444.8 729.5 L445.3 727.7 L445.8 726.0 L446.3 724.1 L446.8 722.2 L447.3 720.4 L447.9 718.5 L448.4 717.2 L448.9 715.9 L449.4 714.7 L449.9 713.2 L450.4 711.3 L450.9 709.7 L451.4 708.1 L451.9 706.2 L452.4 704.7 L452.9 703.5 L453.4 701.9 L453.9 700.2 L454.4 698.8 L454.9 697.3 L455.4 696.0 L455.9 695.0 L456.4 693.8 L456.9 692.0 L457.4 690.5 L457.9 689.3 L458.4 688.0 L458.9 687.1 L459.4 686.7 L459.9 685.8 L460.4 684.1 L460.9 682.6 L461.4 681.4 L461.9 680.0 L462.4 679.3 L462.9 678.9 L463.4 677.7 L463.9 676.0 L464.4 674.9 L464.9 674.4 L465.4 673.4 L465.9 672.3 L466.4 671.4 L466.9 670.2 L467.4 669.1 L468.0 668.5 L468.5 667.5 L469.0 666.2 L469.5 665.4 L470.0 664.7 L470.5 663.9 L471.0 663.2 L471.5 662.4 L472.0 661.6 L472.5 660.5 L473.0 659.3 L473.5 658.2 L474.0 657.7 L474.5 657.7 L475.0 657.2 L475.5 655.7 L476.0 654.6 L476.5 654.3 L477.0 653.6 L477.5 652.7 L478.0 651.8 L478.5 650.9 L479.0 650.4 L479.5 650.3 L480.0 649.7 L480.5 648.6 L481.0 647.8 L481.5 647.3 L482.0 646.8 L482.5 645.9 L483.0 645.0 L483.5 644.5 L484.0 643.9 L484.5 642.8 L485.0 642.0 L485.5 641.6 L486.0 641.2 L486.5 640.5 L487.0 639.6 L487.5 638.6 L488.1 637.7 L488.6 636.9 L489.1 636.2 L489.6 635.6 L490.1 635.1 L490.6 634.5 L491.1 633.6 L491.6 632.8 L492.1 632.4 L492.6 632.1 L493.1 631.3 L493.6 630.5 L494.1 630.0 L494.6 629.3 L495.1 628.8 L495.6 628.6 L496.1 628.3 L496.6 627.8 L497.1 627.3 L497.6 626.5 L498.1 625.7 L498.6 625.1 L499.1 624.9 L499.6 624.7 L500.1 624.3 L500.6 623.9 L501.1 623.4 L501.6 623.2 L502.1 623.4 L502.6 623.4 L503.1 623.0 L503.6 622.9 L504.1 622.8 L504.6 622.3 L505.1 621.9 L505.6 622.0 L506.1 622.3 L506.6 622.2 L507.1 621.8 L507.7 621.7 L508.2 622.2 L508.7 622.8 L509.2 622.9 L509.7 623.3 L510.2 623.8 L510.7 625.1 L511.2 628.1 L511.7 631.6 L512.4 809.9 L512.9 806.7 L513.4 803.8 L513.9 800.7 L514.4 797.7 L514.9 794.8 L515.4 791.8 L515.9 788.7 L516.4 786.0 L516.9 783.7 L517.5 781.4 L518.0 778.7 L518.5 776.0 L519.0 773.7 L519.5 771.4 L520.0 768.9 L520.5 766.7 L521.0 764.8 L521.5 762.7 L522.0 760.2 L522.5 758.2 L523.0 756.4 L523.5 754.7 L524.0 753.3 L524.5 751.5 L525.0 749.4 L525.5 747.9 L526.0 746.4 L526.5 744.8 L527.0 743.5 L527.5 742.0 L528.0 740.5 L528.5 739.3 L529.0 738.0 L529.5 736.3 L530.0 734.8 L530.5 733.6 L531.0 731.9 L531.5 730.1 L532.0 728.8 L532.5 727.8 L533.0 726.5 L533.5 725.0 L534.0 723.4 L534.5 721.8 L535.0 720.1 L535.5 718.7 L536.0 717.5 L536.5 716.3 L537.0 714.9 L537.5 713.1 L538.0 711.4 L538.5 710.2 L539.0 709.1 L539.5 707.7 L540.0 706.6 L540.5 705.6 L541.0 704.1 L541.5 702.5 L542.0 700.9 L542.5 699.6 L543.0 698.5 L543.5 697.5 L544.0 696.4 L544.5 695.2 L545.0 694.2 L545.5 692.9 L546.0 691.3 L546.5 689.9 L547.0 688.5 L547.5 687.8 L548.1 686.9 L548.6 685.4 L549.1 683.9 L549.6 682.7 L550.1 681.7 L550.6 680.4 L551.1 678.7 L551.6 677.2 L552.1 676.2 L552.6 675.4 L553.1 674.1 L553.6 672.7 L554.1 671.0 L554.6 669.5 L555.1 668.6 L555.6 667.4 L556.1 665.9 L556.6 664.7 L557.1 663.5 L557.6 662.2 L558.1 661.1 L558.6 659.6 L559.1 658.2 L559.6 657.4 L560.1 656.4 L560.6 655.4 L561.1 654.6 L561.6 653.6 L562.1 652.9 L562.6 652.0 L563.1 650.7 L563.6 649.3 L564.1 648.6 L564.6 648.0 L565.1 647.0 L565.6 645.9 L566.1 645.3 L566.6 644.7 L567.1 643.9 L567.6 643.0 L568.1 642.0 L568.6 641.3 L569.1 640.7 L569.6 639.8 L570.1 638.9 L570.6 638.3 L571.1 637.9 L571.6 637.9 L572.1 637.6 L572.6 637.0 L573.1 636.0 L573.6 635.2 L574.1 634.6 L574.6 634.1 L575.1 633.4 L575.6 632.6 L576.1 632.1 L576.6 632.0 L577.1 631.7 L577.6 631.2 L578.1 631.1 L578.7 630.5 L579.2 629.2 L579.7 628.4 L580.2 628.0 L580.7 627.6 L581.2 627.2 L581.7 626.9 L582.2 626.8 L582.7 626.4 L583.2 625.8 L583.7 625.3 L584.2 624.9 L584.7 624.6 L585.2 624.2 L585.7 623.8 L586.2 623.3 L586.7 622.8 L587.2 622.8 L587.7 622.7 L588.2 621.9 L588.7 621.2 L589.2 621.1 L589.7 620.3 L590.2 619.3 L590.7 619.2 L591.2 619.3 L591.7 618.9 L592.2 618.6 L592.7 618.0 L593.2 617.1 L593.7 616.3 L594.2 616.1 L594.7 616.3 L595.2 616.3 L595.7 615.9 L596.2 616.2 L596.7 616.8 L597.2 617.2 L597.7 618.3 L598.2 620.1 L598.7 621.9 L599.2 623.3 L599.7 626.0 L600.2 630.0 L600.7 634.5 L601.4 807.0 L601.9 803.3 L602.4 799.8 L602.9 796.4 L603.4 793.1 L603.9 790.6 L604.4 788.5 L604.9 786.3 L605.4 784.2 L605.9 782.2 L606.4 780.5 L606.9 778.8 L607.4 776.9 L607.9 775.5 L608.4 774.1 L608.9 772.7 L609.4 771.6 L609.9 770.5 L610.4 769.0 L611.0 767.4 L611.5 765.9 L612.0 764.8 L612.5 763.8 L613.0 762.3 L613.5 760.5 L614.0 758.5 L614.5 756.8 L615.0 755.1 L615.5 753.3 L616.0 751.7 L616.5 750.4 L617.0 748.8 L617.5 747.2 L618.0 745.3 L618.5 743.4 L619.0 741.8 L619.5 740.1 L620.0 738.4 L620.5 736.8 L621.0 735.2 L621.5 733.6 L622.0 732.2 L622.5 730.7 L623.0 728.8 L623.5 727.1 L624.0 725.4 L624.5 723.8 L625.0 722.1 L625.5 719.8 L626.0 717.8 L626.5 716.1 L627.0 714.7 L627.5 713.8 L628.0 712.7 L628.5 711.0 L629.0 709.3 L629.5 707.6 L630.0 705.7 L630.5 704.4 L631.0 703.1 L631.5 701.5 L632.0 699.9 L632.5 698.3 L633.0 696.5 L633.5 695.2 L634.0 694.3 L634.5 692.9 L635.0 691.3 L635.5 690.0 L636.0 688.8 L636.5 687.7 L637.0 686.6 L637.5 685.3 L638.0 683.8 L638.5 682.2 L639.0 681.0 L639.5 680.0 L640.0 678.7 L640.5 677.5 L641.0 676.3 L641.5 675.1 L642.0 674.0 L642.5 672.5 L643.0 671.1 L643.5 669.9 L644.1 669.2 L644.6 668.1 L645.1 666.2 L645.6 664.8 L646.1 663.9 L646.6 662.8 L647.1 661.1 L647.6 659.6 L648.1 658.8 L648.6 657.6 L649.1 656.2 L649.6 654.9 L650.1 653.6 L650.6 652.8 L651.1 652.0 L651.6 650.8 L652.1 649.4 L652.6 648.2 L653.1 647.1 L653.6 646.0 L654.1 645.1 L654.6 644.0 L655.1 642.9 L655.6 642.0 L656.1 641.3 L656.6 640.3 L657.1 639.6 L657.6 639.0 L658.1 638.1 L658.6 637.3 L659.1 636.7 L659.6 635.7 L660.1 634.9 L660.6 634.6 L661.1 633.8 L661.6 632.9 L662.1 632.9 L662.6 632.9 L663.1 632.1 L663.6 631.1 L664.1 630.9 L664.6 630.8 L665.1 630.1 L665.6 629.8 L666.1 630.0 L666.6 630.2 L667.1 630.1 L667.6 630.0 L668.1 629.7 L668.6 629.8 L669.1 630.4 L669.6 630.5 L670.1 630.4 L670.6 631.1 L671.1 631.6 L671.6 632.6 L672.1 635.1 L672.6 638.3 L673.1 641.5 L676.2 786.3 L676.7 777.3 L677.2 772.5 L677.7 768.9 L678.2 766.3 L678.7 764.5 L679.2 763.5 L679.7 762.6 L680.2 761.9 L680.7 761.6 L681.2 761.0 L681.7 759.4 L682.2 757.9 L682.7 757.0 L683.2 756.1 L683.7 755.0 L684.2 754.1 L684.7 753.6 L685.2 753.2 L685.7 752.3 L686.2 751.1 L686.7 750.2 L687.2 749.6 L687.7 749.2 L688.2 748.3 L688.7 747.0 L689.2 745.9 L689.7 744.9 L690.2 743.9 L690.7 743.2 L691.2 742.1 L691.7 740.6 L692.2 739.6 L692.7 739.0 L693.2 737.8 L693.7 736.4 L694.2 734.8 L694.7 733.5 L695.2 732.2 L695.7 730.6 L696.2 729.1 L696.7 728.0 L697.2 726.7 L697.7 725.2 L698.2 724.0 L698.7 722.6 L699.2 720.8 L699.7 719.3 L700.2 718.1 L700.7 716.8 L701.2 715.2 L701.7 713.2 L702.2 711.8 L702.7 710.9 L703.2 709.7 L703.7 708.3 L704.2 707.1 L704.7 705.8 L705.2 704.2 L705.7 703.0 L706.2 701.7 L706.7 700.7 L707.2 699.4 L707.7 697.8 L708.2 696.6 L708.7 695.5 L709.2 694.2 L709.7 693.0 L710.2 691.6 L710.7 690.5 L711.2 689.8 L711.7 688.7 L712.2 687.1 L712.7 686.0 L713.2 685.6 L713.7 684.6 L714.2 682.9 L714.7 681.5 L715.2 680.4 L715.7 679.4 L716.2 678.5 L716.7 677.7 L717.2 676.6 L717.7 675.3 L718.2 673.9 L718.7 672.7 L719.2 671.9 L719.7 671.1 L720.2 670.1 L720.7 669.0 L721.2 668.2 L721.7 667.4 L722.2 666.5 L722.7 665.1 L723.2 663.8 L723.7 663.2 L724.2 662.5 L724.7 661.2 L725.2 660.1 L725.7 659.2 L726.2 658.4 L726.7 657.4 L727.2 656.2 L727.7 655.4 L728.2 654.8 L728.7 654.0 L729.2 653.0 L729.7 651.8 L730.2 650.5 L730.7 649.6 L731.2 648.7 L731.7 647.6 L732.2 646.4 L732.7 645.4 L733.2 644.7 L733.7 643.9 L734.2 643.1 L734.7 642.5 L735.2 641.7 L735.7 640.9 L736.2 640.2 L736.7 639.6 L737.2 639.2 L737.7 638.3 L738.2 637.4 L738.7 636.5 L739.2 635.9 L739.7 635.5 L740.2 634.9 L740.7 634.3 L741.2 634.1 L741.7 633.9 L742.2 633.2 L742.7 632.5 L743.2 632.4 L743.7 632.6 L744.2 632.1 L744.7 631.4 L745.2 630.7 L745.7 630.1 L746.2 629.7 L746.7 629.6 L747.2 629.2 L747.7 628.8 L748.2 628.7 L748.7 628.9 L749.3 628.8 L749.8 628.4 L750.3 628.9 L750.8 629.4 L751.3 629.4 L751.8 629.4 L752.3 629.6 L752.8 630.1 L753.3 630.3 L753.8 630.6 L754.3 631.8 L754.8 634.6 L755.3 637.7 L755.8 641.2 L756.8 803.6 L757.3 801.4 L757.8 799.0 L758.3 796.1 L758.8 793.6 L759.3 791.7 L759.8 789.9 L760.3 787.9 L760.8 785.6 L761.3 783.1 L761.8 780.9 L762.3 779.3 L762.8 777.6 L763.3 775.6 L763.8 773.3 L764.3 771.4 L764.8 770.0 L765.3 768.6 L765.8 766.9 L766.3 764.9 L766.8 762.9 L767.3 760.8 L767.8 759.0 L768.3 757.5 L768.8 755.9 L769.3 754.4 L769.8 753.1 L770.3 751.8 L770.8 750.5 L771.3 749.3 L771.8 747.9 L772.3 746.6 L772.8 745.5 L773.3 744.0 L773.8 742.3 L774.3 740.8 L774.8 739.5 L775.3 738.0 L775.8 736.5 L776.4 735.5 L776.9 734.3 L777.4 732.7 L777.9 730.6 L778.4 728.8 L778.9 727.6 L779.4 726.6 L779.9 725.3 L780.4 723.6 L780.9 722.3 L781.4 721.0 L781.9 719.5 L782.4 718.2 L782.9 716.7 L783.4 714.8 L783.9 713.4 L784.4 711.9 L784.9 710.2 L785.4 708.5 L785.9 707.3 L786.4 706.4 L786.9 705.3 L787.4 703.9 L787.9 702.4 L788.4 701.2 L788.9 699.8 L789.4 698.0 L789.9 696.6 L790.4 695.5 L790.9 693.8 L791.4 691.8 L791.9 689.6 L792.4 687.3 L792.9 684.5 L793.4 681.5 L793.9 679.7 L794.4 678.4 L794.9 676.8 L795.4 675.1 L795.9 673.6 L796.4 672.8 L796.9 671.6 L797.4 670.2 L797.9 669.6 L798.4 668.9 L798.9 667.9 L799.4 666.6 L799.9 665.1 L800.4 663.7 L800.9 662.7 L801.4 661.8 L801.9 660.8 L802.4 659.7 L802.9 658.8 L803.4 657.9 L803.9 657.1 L804.4 656.5 L804.9 655.3 L805.4 653.6 L805.9 652.2 L806.4 651.1 L806.9 650.3 L807.4 649.5 L807.9 648.3 L808.4 647.1 L808.9 646.3 L809.5 645.3 L810.0 644.1 L810.5 643.0 L811.0 642.2 L811.5 641.2 L812.0 640.3 L812.5 639.2 L813.0 638.1 L813.5 637.1 L814.0 636.4 L814.5 635.9 L815.0 635.0 L815.5 634.0 L816.0 633.2 L816.5 632.4 L817.0 631.8 L817.5 631.0 L818.0 629.8 L818.5 629.0 L819.0 628.5 L819.5 627.9 L820.0 627.3 L820.5 626.6 L821.0 625.7 L821.5 625.1 L822.0 624.4 L822.5 623.5 L823.0 622.9 L823.5 622.0 L824.0 621.0 L824.5 620.8 L825.0 620.6 L825.5 620.2 L826.0 619.6 L826.5 619.4 L827.0 619.0 L827.5 618.4 L828.0 617.7 L828.5 616.8 L829.0 616.1 L829.5 615.7 L830.0 615.2 L830.5 614.4 L831.0 613.4 L831.5 612.6 L832.0 612.3 L832.5 611.6 L833.0 610.7 L833.5 610.3 L834.0 609.9 L834.5 609.2 L835.0 608.7 L835.5 608.0 L836.0 606.9 L836.5 606.5 L837.0 606.3 L837.5 606.0 L838.0 605.2 L838.5 604.1 L839.0 603.7 L839.5 603.7 L840.0 603.5 L840.5 602.9 L841.0 601.9 L841.5 601.1 L842.0 600.8 L842.5 600.5 L843.1 600.1 L843.6 600.0 L844.1 599.8 L844.6 599.0 L845.1 598.1 L845.6 597.9 L846.1 597.8 L846.6 597.3 L847.1 597.0 L847.6 596.9 L848.1 596.8 L848.6 596.5 L849.1 596.1 L849.6 595.7 L850.1 595.5 L850.6 595.5 L851.1 595.4 L851.6 595.2 L852.1 594.9 L852.6 594.6 L853.1 594.7 L853.6 594.8 L854.1 594.7 L854.6 594.6 L855.1 594.7 L855.6 594.6 L856.1 594.1 L856.6 594.0 L857.1 594.0 L857.6 593.7 L858.1 593.5 L858.6 593.6 L859.1 593.7 L859.6 594.0 L860.1 594.7 L860.6 595.9 L861.1 598.2 L861.6 604.1 L862.1 611.9 L862.6 619.6 L863.1 629.2 L863.6 640.9 L865.2 804.2 L865.7 800.5 L866.2 796.8 L866.7 793.3 L867.2 790.0 L867.7 787.0 L868.2 784.2 L868.7 780.9 L869.2 777.9 L869.7 775.5 L870.2 773.1 L870.7 770.9 L871.2 768.8 L871.7 767.1 L872.2 765.6 L872.7 763.6 L873.2 761.5 L873.7 759.5 L874.2 757.8 L874.7 755.9 L875.2 753.4 L875.7 751.2 L876.2 749.4 L876.7 747.2 L877.2 745.5 L877.7 744.0 L878.2 742.0 L878.7 739.9 L879.2 738.1 L879.7 736.4 L880.2 734.9 L880.7 733.6 L881.2 732.3 L881.7 730.6 L882.2 728.5 L882.7 726.8 L883.2 725.2 L883.7 723.2 L884.2 721.5 L884.7 719.9 L885.2 718.1 L885.7 716.5 L886.2 714.9 L886.7 713.0 L887.2 711.3 L887.7 710.0 L888.2 708.4 L888.7 707.0 L889.2 705.8 L889.7 704.3 L890.2 702.7 L890.7 701.2 L891.2 699.6 L891.7 698.4 L892.2 697.4 L892.7 696.0 L893.2 694.5 L893.7 693.1 L894.2 691.6 L894.7 690.2 L895.2 688.6 L895.7 687.1 L896.2 685.6 L896.7 684.1 L897.2 682.7 L897.7 681.3 L898.2 680.1 L898.7 679.0 L899.2 677.4 L899.7 675.7 L900.2 674.3 L900.7 672.9 L901.2 671.3 L901.7 670.1 L902.2 669.1 L902.7 667.8 L903.2 666.3 L903.7 665.2 L904.2 664.3 L904.7 662.9 L905.2 661.6 L905.7 660.5 L906.2 659.3 L906.7 658.5 L907.2 657.4 L907.7 655.8 L908.2 654.9 L908.7 654.1 L909.2 652.9 L909.8 651.7 L910.3 650.5 L910.8 649.5 L911.3 648.8 L911.8 647.9 L912.3 646.7 L912.8 645.6 L913.3 644.8 L913.8 644.0 L914.3 643.1 L914.8 642.2 L915.3 641.1 L915.8 639.7 L916.3 638.7 L916.8 638.6 L917.3 638.0 L917.8 636.6 L918.3 635.7 L918.8 635.2 L919.3 634.6 L919.8 633.9 L920.3 633.0 L920.8 632.0 L921.3 631.1 L921.8 630.3 L922.3 629.4 L922.8 628.9 L923.3 628.2 L923.8 627.2 L924.3 626.3 L924.8 625.5 L925.3 624.5 L925.8 623.5 L926.3 622.4 L926.8 621.8 L927.3 621.6 L927.8 620.8 L928.3 619.8 L928.8 619.1 L929.3 618.8 L929.8 618.2 L930.3 617.2 L930.8 616.5 L931.3 615.9 L931.8 615.3 L932.3 614.2 L932.8 613.1 L933.3 612.7 L933.8 612.5 L934.3 611.7 L934.8 610.8 L935.3 610.2 L935.8 609.6 L936.3 608.7 L936.8 607.7 L937.3 607.1 L937.8 606.9 L938.3 606.3 L938.8 605.9 L939.3 605.5 L939.8 604.6 L940.3 603.7 L940.8 603.0 L941.3 602.4 L941.8 601.7 L942.3 600.8 L942.8 600.3 L943.3 600.3 L943.8 600.0 L944.3 599.4 L944.8 598.8 L945.3 598.2 L945.8 597.7 L946.3 597.0 L946.8 596.3 L947.3 595.9 L947.8 595.2 L948.3 595.0 L948.8 594.9 L949.3 594.3 L949.8 593.6 L950.3 593.0 L950.8 592.4 L951.3 591.9 L951.8 591.3 L952.3 590.5 L952.8 590.0 L953.3 589.7 L953.8 589.0 L954.3 588.6 L954.8 588.5 L955.3 587.9 L955.8 587.2 L956.3 586.9 L956.8 586.7 L957.3 586.3 L957.8 585.9 L958.3 585.8 L958.8 585.5 L959.3 584.6 L959.8 583.8 L960.3 583.8 L960.8 583.6 L961.3 583.0 L961.8 582.6 L962.3 582.5 L962.8 582.2 L963.3 581.5 L963.8 581.0 L964.3 580.9 L964.8 580.8 L965.3 580.6 L965.8 579.8 L966.3 579.2 L966.8 579.0 L967.3 578.7 L967.8 578.4 L968.3 578.0 L968.8 577.7 L969.3 577.5 L969.8 577.1 L970.3 576.7 L970.8 576.3 L971.3 576.1 L971.8 575.8 L972.3 575.6 L972.8 575.0 L973.3 574.4 L973.8 574.6 L974.3 574.8 L974.8 574.4 L975.3 574.0 L975.8 573.6 L976.3 572.9 L976.8 572.5 L977.3 572.7 L977.8 572.6 L978.3 572.2 L978.8 571.8 L979.3 571.4 L979.8 571.0 L980.3 570.7 L980.8 570.4 L981.3 570.0 L981.8 569.4 L982.3 569.2 L982.8 569.1 L983.3 568.5 L983.8 567.8 L984.3 567.6 L984.8 567.6 L985.3 567.9 L985.8 567.8 L986.3 567.2 L986.8 566.6 L987.3 566.1 L987.8 566.1 L988.3 565.9 L988.8 565.6 L989.3 565.5 L989.8 565.5 L990.3 565.1 L990.8 564.3 L991.3 563.9 L991.8 564.0 L992.3 564.0 L992.8 564.1 L993.3 564.3 L993.8 564.1 L994.3 563.6 L994.8 563.5 L995.3 563.3 L995.8 562.8 L996.3 562.5 L996.8 562.4 L997.3 562.0 L997.8 561.5 L998.3 561.3 L998.8 561.2 L999.3 561.1 L999.8 561.0 L1000.3 561.0 L1000.8 561.0 L1001.3 560.7 L1001.8 560.2 L1002.3 560.1 L1002.8 560.0 L1003.3 560.0 L1003.8 559.8 L1004.3 559.5 L1004.8 559.2 L1005.3 559.0 L1005.8 558.9 L1006.3 558.8 L1006.8 558.5 L1007.3 558.3 L1007.8 558.0 L1008.3 557.9 L1008.8 557.7 L1009.3 557.8 L1009.8 557.8 L1010.3 557.6 L1010.9 557.6 L1011.4 557.7 L1011.9 557.3 L1012.4 556.7 L1012.9 556.7 L1013.4 556.7 L1013.9 556.6 L1014.4 556.3 L1014.9 556.0 L1015.4 555.9 L1015.9 555.9 L1016.4 555.9 L1016.9 555.5 L1017.4 555.3 L1017.9 555.2 L1018.4 554.8 L1018.9 554.8 L1019.4 554.8 L1019.9 554.5 L1020.4 554.6 L1020.9 554.4 L1021.4 554.2 L1021.9 554.3 L1022.4 554.3 L1022.9 554.0 L1023.4 553.9 L1023.9 554.1 L1024.4 554.0 L1024.9 553.6 L1025.4 553.2 L1025.9 553.0 L1026.4 553.1 L1026.9 553.3 L1027.4 553.3 L1027.9 553.2 L1028.4 553.1 L1028.9 552.7 L1029.4 552.4 L1029.9 552.5 L1030.4 552.5 L1030.9 552.0 L1031.4 552.0 L1031.9 552.2 L1032.4 552.3 L1032.9 552.5 L1033.4 552.4 L1033.9 551.8 L1034.4 551.4 L1034.9 551.4 L1035.4 551.3 L1035.9 551.2 L1036.4 551.1 L1036.9 551.0 L1037.4 551.2 L1037.9 551.4 L1038.4 551.2 L1038.9 550.5 L1039.4 550.2 L1039.9 550.6 L1040.4 550.7 L1040.9 550.2 L1041.4 550.0 L1041.9 550.0 L1042.4 549.9 L1042.9 549.8 L1043.4 549.4 L1043.9 549.3 L1044.4 549.2 L1044.9 549.1 L1045.4 549.2 L1045.9 549.2 L1046.4 549.0 L1046.9 549.0 L1047.4 549.0 L1047.9 548.9 L1048.4 548.8 L1048.9 548.5 L1049.4 548.1 L1049.9 547.9 L1050.4 547.9 L1050.9 548.2 L1051.4 548.5 L1051.9 548.3 L1052.4 547.8 L1052.9 547.9 L1053.4 547.8 L1053.9 547.6 L1054.4 547.7 L1054.9 547.6 L1055.4 547.3 L1055.9 547.1 L1056.4 547.0 L1056.9 546.9 L1057.4 546.9 L1057.9 546.8 L1058.4 546.5 L1058.9 546.4 L1059.4 546.7 L1059.9 546.8 L1060.4 546.5 L1060.9 546.3 L1061.4 546.4 L1061.9 546.4 L1062.4 546.4 L1062.9 546.3 L1063.4 545.9 L1063.9 545.7 L1064.4 545.6 L1064.9 545.8 L1065.4 546.3 L1065.9 546.0 L1066.4 545.4 L1066.9 545.4 L1067.4 545.6 L1067.9 545.7 L1068.4 545.6 L1068.9 545.4 L1069.4 545.4 L1069.9 545.4 L1070.4 545.3 L1070.9 545.2 L1071.4 545.2 L1071.9 545.1 L1072.4 544.9 L1072.9 544.9" fill="none" stroke="#e8202a" stroke-width="4.6" stroke-linejoin="round"/>
<path d="M106.9 791.0 L107.9 791.0 L108.9 790.9 L110.0 790.9 L111.0 790.8 L112.0 790.7 L113.0 790.7 L114.0 790.6 L115.0 790.6 L116.0 790.5 L117.0 790.4 L118.0 790.4 L119.0 790.3 L120.0 790.3 L121.0 790.2 L122.0 790.2 L123.0 790.1 L124.0 790.1 L125.0 790.0 L126.0 790.0 L127.0 789.9 L128.0 789.9 L129.0 789.8 L130.0 789.8 L131.0 789.7 L132.0 789.7 L133.0 789.6 L134.0 789.6 L135.0 789.5 L136.0 789.5 L137.0 789.4 L138.1 789.4 L139.1 789.3 L140.1 789.3 L141.1 789.3 L142.1 789.2 L143.1 789.2 L144.1 789.2 L145.1 789.1 L146.1 789.1 L147.1 789.1 L148.1 789.0 L149.1 789.0 L150.1 789.0 L151.1 788.9 L152.1 788.9 L153.1 788.9 L154.1 788.9 L155.1 788.8 L156.1 788.8 L157.1 788.8 L158.1 788.8 L159.1 788.7 L160.1 788.7 L161.1 788.7 L162.1 788.7 L163.1 788.7 L164.1 788.7 L165.2 788.7 L166.2 788.6 L167.2 788.6 L168.2 788.6 L169.2 788.6 L170.2 788.6 L171.2 788.6 L172.2 788.6 L173.2 788.6 L174.2 788.5 L175.2 788.5 L176.2 788.5 L177.2 788.5 L178.2 788.5 L179.2 788.5 L180.2 788.5 L181.2 788.5 L182.2 788.5 L183.2 788.5 L184.2 788.5 L185.2 788.4 L186.2 788.4 L187.2 788.4 L188.2 788.4 L189.2 788.4 L190.2 788.4 L191.2 788.4 L192.2 788.4 L193.3 788.4 L194.3 788.4 L195.3 788.4 L196.3 788.3 L197.3 788.3 L198.3 788.3 L199.3 788.3 L200.3 788.3 L201.3 788.3 L202.3 788.3 L203.3 788.3 L204.3 788.3 L205.3 788.2 L206.3 788.2 L207.3 788.2 L208.3 788.2 L209.3 788.2 L210.3 788.2 L211.3 788.1 L212.3 788.1 L213.3 788.1 L214.3 788.1 L215.3 788.1 L216.3 788.1 L217.3 788.0 L218.3 788.0 L219.3 788.0 L220.4 787.9 L221.4 787.9 L222.4 787.9 L223.4 787.8 L224.4 787.8 L225.4 787.7 L226.4 787.7 L227.4 787.6 L228.4 787.6 L229.4 787.5 L230.4 787.5 L231.4 787.4 L232.4 787.4 L233.4 787.3 L234.4 787.3 L235.4 787.2 L236.4 787.1 L237.4 787.1 L238.4 787.0 L239.4 787.0 L240.4 786.9 L241.4 786.8 L242.4 786.8 L243.4 786.7 L244.4 786.6 L245.4 786.6 L246.4 786.5 L247.4 786.5 L248.5 786.4 L249.5 786.3 L250.5 786.3 L251.5 786.2 L252.5 786.2 L253.5 786.1 L254.5 786.0 L255.5 786.0 L256.5 785.9 L257.5 785.9 L258.5 785.8 L259.5 785.8 L260.5 785.7 L261.5 785.7 L262.5 785.7 L263.5 785.6 L264.5 785.6 L265.5 785.5 L266.5 785.5 L267.5 785.5 L268.5 785.4 L269.5 785.4 L270.5 785.4 L271.5 785.4 L272.5 785.3 L273.5 785.3 L274.5 785.3 L275.6 785.3 L276.6 785.3 L277.6 785.2 L278.6 785.2 L279.6 785.2 L280.6 785.2 L281.6 785.2 L282.6 785.2 L283.6 785.1 L284.6 785.1 L285.6 785.1 L286.6 785.1 L287.6 785.1 L288.6 785.1 L289.6 785.1 L290.6 785.0 L291.6 785.0 L292.6 785.0 L293.6 785.0 L294.6 785.0 L295.6 785.0 L296.6 785.0 L297.6 785.0 L298.6 784.9 L299.6 784.9 L300.6 784.9 L301.6 784.9 L302.6 784.9 L303.7 784.9 L304.7 784.9 L305.7 784.9 L306.7 784.8 L307.7 784.8 L308.7 784.8 L309.7 784.8 L310.7 784.8 L311.7 784.8 L312.7 784.8 L313.7 784.7 L314.7 784.7 L315.7 784.7 L316.7 784.7 L317.7 784.7 L318.7 784.7 L319.7 784.6 L320.7 784.6 L321.7 784.6 L322.7 784.6 L323.7 784.6 L324.7 784.5 L325.7 784.5 L326.7 784.5 L327.7 784.5 L328.7 784.5 L329.7 784.4 L330.8 784.4 L331.8 784.4 L332.8 784.4 L333.8 784.4 L334.8 784.4 L335.8 784.3 L336.8 784.3 L337.8 784.3 L338.8 784.3 L339.8 784.3 L340.8 784.3 L341.8 784.3 L342.8 784.3 L343.8 784.3 L344.8 784.3 L345.8 784.3 L346.8 784.3 L347.8 784.4 L348.8 784.5 L349.8 784.6 L350.5 783.8 L351.5 764.8 L352.5 752.9 L353.5 745.0 L354.5 739.9 L355.5 736.0 L356.6 732.6 L357.6 729.2 L358.6 725.9 L359.6 722.8 L360.6 719.9 L361.6 717.1 L362.6 714.5 L363.6 712.1 L364.6 709.8 L365.6 707.5 L366.6 705.3 L367.7 703.2 L368.7 701.1 L369.7 698.9 L370.7 696.8 L371.7 694.8 L372.7 692.8 L373.7 690.9 L374.7 689.1 L375.7 687.4 L376.7 685.7 L377.8 684.0 L378.8 682.4 L379.8 680.8 L380.8 679.3 L381.8 677.9 L382.8 676.5 L383.8 675.2 L384.8 673.9 L385.8 672.6 L386.8 671.4 L387.8 670.3 L388.9 669.1 L389.9 668.0 L390.9 666.9 L391.9 665.8 L392.9 664.7 L393.9 663.7 L394.9 662.7 L395.9 661.7 L396.9 660.7 L397.9 659.8 L399.0 658.8 L400.0 657.8 L401.0 656.9 L402.0 656.0 L403.0 655.0 L404.0 654.1 L405.0 653.2 L406.0 652.4 L407.0 651.5 L408.0 650.6 L409.0 649.8 L410.1 648.9 L411.1 648.1 L412.1 647.3 L413.1 646.5 L414.1 645.7 L415.1 644.9 L416.1 644.2 L417.1 643.4 L418.1 642.7 L419.1 642.0 L420.2 641.3 L421.2 640.6 L422.2 639.9 L423.2 639.2 L424.2 638.5 L425.2 637.8 L426.2 637.1 L427.2 636.5 L428.2 635.8 L429.2 635.1 L430.2 634.4 L431.3 633.8 L432.3 633.1 L432.3 633.1 L433.3 633.5 L434.3 633.9 L435.3 634.3 L436.3 634.7 L437.3 635.1 L438.3 635.5 L439.3 635.9 L440.3 636.3 L441.3 636.7 L442.3 637.1 L443.3 637.4 L444.3 637.8 L445.3 638.2 L446.3 638.6 L447.3 639.0 L448.3 639.4 L449.3 639.8 L450.3 640.1 L451.3 640.5 L452.3 640.9 L453.3 641.3 L454.3 641.7 L455.3 642.1 L456.3 642.4 L457.3 642.8 L458.3 643.2 L459.3 643.6 L460.3 643.9 L461.3 644.3 L462.3 644.7 L463.3 645.1 L464.3 645.4 L465.3 645.8 L466.3 646.2 L467.3 646.6 L468.3 646.9 L469.3 647.3 L470.3 647.7 L471.3 648.0 L472.3 648.4 L473.3 648.8 L474.3 649.2 L475.3 649.5 L476.3 649.9 L477.3 650.2 L478.3 650.6 L479.3 651.0 L480.3 651.3 L481.3 651.7 L482.3 652.0 L483.3 652.4 L484.3 652.7 L485.3 653.1 L486.3 653.5 L487.3 653.8 L488.3 654.2 L489.3 654.6 L490.3 655.0 L491.3 655.4 L492.3 655.9 L493.3 656.3 L494.3 656.7 L495.3 657.1 L496.3 657.5 L497.3 657.8 L498.3 658.2 L499.3 658.6 L500.3 658.9 L501.3 659.2 L502.3 659.6 L503.3 659.8 L504.3 660.1 L505.3 660.4 L506.3 660.6 L507.3 660.8 L508.3 660.9 L509.3 661.1 L510.3 661.1 L511.3 661.2 L512.3 633.1 L513.3 633.3 L514.3 633.5 L515.3 633.7 L516.3 633.9 L517.3 634.1 L518.4 634.4 L519.4 634.6 L520.4 634.9 L521.4 635.1 L522.4 635.4 L523.4 635.7 L524.4 635.9 L525.4 636.2 L526.4 636.5 L527.4 636.9 L528.4 637.2 L529.4 637.5 L530.4 637.9 L531.4 638.3 L532.4 638.7 L533.4 639.1 L534.4 639.5 L535.4 639.9 L536.4 640.3 L537.4 640.8 L538.4 641.2 L539.4 641.6 L540.4 642.1 L541.4 642.5 L542.4 642.9 L543.4 643.4 L544.4 643.8 L545.4 644.2 L546.4 644.7 L547.4 645.1 L548.4 645.6 L549.4 646.1 L550.4 646.6 L551.4 647.0 L552.4 647.5 L553.4 648.0 L554.4 648.4 L555.4 648.9 L556.4 649.3 L557.4 649.8 L558.4 650.2 L559.4 650.6 L560.4 651.0 L561.4 651.4 L562.4 651.8 L563.4 652.1 L564.4 652.5 L565.4 652.8 L566.4 653.2 L567.4 653.5 L568.4 653.9 L569.4 654.2 L570.4 654.6 L571.4 654.9 L572.4 655.2 L573.4 655.6 L574.4 655.9 L575.4 656.2 L576.4 656.6 L577.4 656.9 L578.4 657.3 L579.4 657.7 L580.4 658.1 L581.4 658.5 L582.4 658.9 L583.4 659.3 L584.4 659.7 L585.4 660.0 L586.4 660.4 L587.4 660.8 L588.4 661.2 L589.4 661.5 L590.4 661.8 L591.4 662.1 L592.4 662.4 L593.4 662.6 L594.4 662.8 L595.4 663.0 L596.4 663.2 L597.4 663.4 L598.4 663.5 L599.4 663.6 L600.4 663.8 L601.8 635.6 L602.8 635.7 L603.8 635.8 L604.8 636.0 L605.8 636.1 L606.8 636.3 L607.8 636.5 L608.8 636.6 L609.8 636.8 L610.8 637.0 L611.9 637.1 L612.9 637.3 L613.9 637.5 L614.9 637.7 L615.9 637.9 L616.9 638.1 L617.9 638.3 L618.9 638.5 L619.9 638.7 L620.9 639.0 L621.9 639.3 L622.9 639.7 L623.9 640.0 L624.9 640.4 L625.9 640.9 L626.9 641.3 L627.9 641.8 L628.9 642.3 L629.9 642.7 L630.9 643.2 L631.9 643.7 L633.0 644.2 L634.0 644.6 L635.0 645.0 L636.0 645.4 L637.0 645.8 L638.0 646.2 L639.0 646.6 L640.0 647.0 L641.0 647.4 L642.0 647.8 L643.0 648.2 L644.0 648.6 L645.0 649.1 L646.0 649.6 L647.0 650.1 L648.0 650.6 L649.0 651.4 L650.0 652.1 L651.0 652.7 L652.0 653.2 L653.0 653.7 L654.0 654.1 L655.1 654.6 L656.1 655.0 L657.1 655.4 L658.1 655.8 L659.1 656.1 L660.1 656.5 L661.1 656.8 L662.1 657.1 L663.1 657.4 L664.1 657.7 L665.1 657.9 L666.1 658.2 L667.1 658.4 L668.1 658.6 L669.1 658.8 L670.1 658.9 L671.1 659.1 L672.1 659.2 L673.1 659.4 L674.7 637.3 L675.7 637.4 L676.7 637.4 L677.7 637.4 L678.7 637.5 L679.7 637.5 L680.7 637.6 L681.7 637.7 L682.7 637.8 L683.7 637.9 L684.7 638.1 L685.7 638.2 L686.7 638.3 L687.7 638.5 L688.7 638.6 L689.7 638.8 L690.7 638.9 L691.7 639.1 L692.7 639.3 L693.7 639.5 L694.7 639.8 L695.7 640.1 L696.7 640.4 L697.7 640.7 L698.7 641.1 L699.7 641.5 L700.7 641.9 L701.7 642.3 L702.7 642.7 L703.8 643.1 L704.8 643.5 L705.8 643.9 L706.8 644.4 L707.8 644.7 L708.8 645.1 L709.8 645.5 L710.8 645.9 L711.8 646.3 L712.8 646.7 L713.8 647.1 L714.8 647.5 L715.8 647.9 L716.8 648.3 L717.8 648.8 L718.8 649.2 L719.8 649.6 L720.8 650.0 L721.8 650.4 L722.8 650.8 L723.8 651.2 L724.8 651.6 L725.8 651.9 L726.8 652.3 L727.8 652.7 L728.8 653.1 L729.8 653.5 L730.8 653.9 L731.8 654.3 L732.8 654.7 L733.8 655.0 L734.8 655.4 L735.9 655.8 L736.9 656.1 L737.9 656.5 L738.9 656.8 L739.9 657.1 L740.9 657.3 L741.9 657.6 L742.9 657.8 L743.9 658.0 L744.9 658.3 L745.9 658.5 L746.9 658.7 L747.9 658.8 L748.9 659.0 L749.9 659.2 L750.9 659.4 L751.9 659.5 L752.9 659.6 L753.9 659.8 L754.9 659.9 L756.8 634.8 L757.8 634.9 L758.8 635.0 L759.8 635.1 L760.8 635.3 L761.8 635.4 L762.8 635.6 L763.8 635.8 L764.8 636.0 L765.8 636.2 L766.8 636.4 L767.8 636.6 L768.8 636.9 L769.8 637.1 L770.8 637.4 L771.8 637.6 L772.8 637.9 L773.8 638.2 L774.8 638.5 L775.8 638.8 L776.8 639.2 L777.8 639.6 L778.8 640.1 L779.8 640.5 L780.8 640.9 L781.8 641.4 L782.8 641.8 L783.8 642.3 L784.8 642.7 L785.8 643.1 L786.8 643.5 L787.8 643.9 L788.8 644.3 L789.8 644.7 L790.8 645.1 L791.8 645.5 L792.8 645.9 L793.8 646.3 L794.8 646.7 L795.8 647.1 L796.8 647.5 L797.8 647.9 L798.8 648.3 L799.9 648.7 L800.9 649.1 L801.9 649.5 L802.9 649.9 L803.9 650.3 L804.9 650.7 L805.9 651.1 L806.9 651.5 L807.9 651.9 L808.9 652.3 L809.9 652.7 L810.9 653.1 L811.9 653.5 L812.9 653.9 L813.9 654.3 L814.9 654.7 L815.9 655.1 L816.9 655.5 L817.9 655.9 L818.9 656.3 L819.9 656.7 L820.9 657.1 L821.9 657.5 L822.9 657.9 L823.9 658.4 L824.9 658.8 L825.9 659.2 L826.9 659.6 L827.9 660.0 L828.9 660.4 L829.9 660.8 L830.9 661.2 L831.9 661.6 L832.9 662.0 L833.9 662.4 L834.9 662.8 L835.9 663.2 L836.9 663.6 L837.9 663.9 L838.9 664.3 L839.9 664.6 L840.9 664.9 L841.9 665.2 L842.9 665.6 L843.9 665.9 L844.9 666.2 L845.9 666.5 L846.9 666.8 L847.9 667.1 L848.9 667.5 L849.9 667.8 L850.9 668.2 L851.9 668.6 L852.9 669.1 L853.9 669.5 L855.0 670.2 L856.0 671.0 L857.0 671.6 L858.0 671.7 L859.0 671.7 L860.0 671.5 L861.0 671.1 L862.0 670.5 L863.7 640.7 L864.7 640.9 L865.7 641.1 L866.7 641.2 L867.7 641.4 L868.7 641.7 L869.7 641.9 L870.7 642.1 L871.7 642.4 L872.7 642.6 L873.7 642.9 L874.7 643.2 L875.7 643.5 L876.7 643.8 L877.7 644.1 L878.7 644.4 L879.7 644.8 L880.7 645.2 L881.7 645.6 L882.7 646.1 L883.7 646.5 L884.7 647.0 L885.7 647.4 L886.7 647.9 L887.7 648.4 L888.7 648.8 L889.7 649.3 L890.7 649.8 L891.7 650.3 L892.7 650.7 L893.7 651.1 L894.7 651.6 L895.7 652.0 L896.7 652.5 L897.7 652.9 L898.7 653.4 L899.7 653.8 L900.7 654.3 L901.7 654.8 L902.7 655.2 L903.7 655.7 L904.7 656.1 L905.7 656.6 L906.7 657.0 L907.7 657.5 L908.7 657.9 L909.7 658.4 L910.7 658.8 L911.7 659.2 L912.7 659.7 L913.7 660.1 L914.7 660.6 L915.7 661.0 L916.7 661.5 L917.7 661.9 L918.7 662.4 L919.7 662.8 L920.7 663.2 L921.7 663.7 L922.7 664.1 L923.7 664.6 L924.7 665.0 L925.7 665.4 L926.7 665.9 L927.7 666.3 L928.7 666.7 L929.7 667.2 L930.7 667.6 L931.7 668.0 L932.7 668.4 L933.7 668.8 L934.7 669.2 L935.7 669.6 L936.7 670.0 L937.7 670.4 L938.7 670.8 L939.7 671.2 L940.8 671.6 L941.8 672.0 L942.8 672.4 L943.8 672.8 L944.8 673.2 L945.8 673.6 L946.8 674.0 L947.8 674.4 L948.8 674.7 L949.8 675.1 L950.8 675.5 L951.8 675.9 L952.8 676.2 L953.8 676.6 L954.8 677.0 L955.8 677.4 L956.8 677.7 L957.8 678.1 L958.8 678.5 L959.8 678.8 L960.8 679.2 L961.8 679.5 L962.8 679.9 L963.8 680.3 L964.8 680.6 L965.8 681.0 L966.8 681.3 L967.8 681.7 L968.8 682.0 L969.8 682.4 L970.8 682.7 L971.8 683.1 L972.8 683.4 L973.8 683.8 L974.8 684.1 L975.8 684.4 L976.8 684.8 L977.8 685.1 L978.8 685.4 L979.8 685.8 L980.8 686.1 L981.8 686.4 L982.8 686.8 L983.8 687.1 L984.8 687.4 L985.8 687.7 L986.8 688.1 L987.8 688.4 L988.8 688.7 L989.8 689.0 L990.8 689.3 L991.8 689.7 L992.8 690.0 L993.8 690.3 L994.8 690.6 L995.8 690.9 L996.8 691.2 L997.8 691.5 L998.8 691.9 L999.8 692.2 L1000.8 692.5 L1001.8 692.8 L1002.8 693.1 L1003.8 693.4 L1004.8 693.7 L1005.8 694.0 L1006.8 694.4 L1007.8 694.7 L1008.8 695.0 L1009.8 695.3 L1010.8 695.6 L1011.8 695.9 L1012.8 696.2 L1013.8 696.5 L1014.8 696.8 L1015.8 697.1 L1016.8 697.4 L1017.8 697.7 L1018.8 698.0 L1019.8 698.3 L1020.8 698.6 L1021.8 698.9 L1022.9 699.2 L1023.9 699.5 L1024.9 699.8 L1025.9 700.1 L1026.9 700.4 L1027.9 700.7 L1028.9 701.0 L1029.9 701.3 L1030.9 701.6 L1031.9 701.9 L1032.9 702.2 L1033.9 702.5 L1034.9 702.7 L1035.9 703.0 L1036.9 703.3 L1037.9 703.6 L1038.9 703.9 L1039.9 704.2 L1040.9 704.5 L1041.9 704.8 L1042.9 705.1 L1043.9 705.4 L1044.9 705.7 L1045.9 705.9 L1046.9 706.2 L1047.9 706.5 L1048.9 706.8 L1049.9 707.1 L1050.9 707.4 L1051.9 707.7 L1052.9 707.9 L1053.9 708.2 L1054.9 708.5 L1055.9 708.8 L1056.9 709.1 L1057.9 709.4 L1058.9 709.6 L1059.9 709.9 L1060.9 710.2 L1061.9 710.5 L1062.9 710.8 L1063.9 711.0 L1064.9 711.3 L1065.9 711.6 L1066.9 711.9 L1067.9 712.2 L1068.9 712.4 L1069.9 712.7 L1070.9 713.0 L1071.9 713.3 L1072.9 713.5" fill="none" stroke="#23409f" stroke-opacity="0.9" stroke-width="4.6" stroke-linejoin="round"/>
</g>
<rect x="107.0" y="534.2" width="966.3" height="355.79999999999995" fill="none" stroke="#1c1c1c" stroke-width="1.45"/>
<path d="M107.0 890.0 v6.3 M227.8 890.0 v6.3 M348.6 890.0 v6.3 M469.4 890.0 v6.3 M590.1 890.0 v6.3 M710.9 890.0 v6.3 M831.7 890.0 v6.3 M952.5 890.0 v6.3 M1073.3 890.0 v6.3 M107.0 890.0 h-6.3 M107.0 534.2 h-6.3 M1073.3 890.0 h6.3 M1073.3 818.8 h6.3 M1073.3 747.7 h6.3 M1073.3 676.5 h6.3 M1073.3 605.4 h6.3 M1073.3 534.2 h6.3" stroke="#1c1c1c" stroke-width="1.45" fill="none"/>
<text transform="translate(107.0 935.6) scale(0.985 1.055)" text-anchor="middle">2000</text>
<text transform="translate(227.8 935.6) scale(0.985 1.055)" text-anchor="middle">2500</text>
<text transform="translate(348.6 935.6) scale(0.985 1.055)" text-anchor="middle">3000</text>
<text transform="translate(469.4 935.6) scale(0.985 1.055)" text-anchor="middle">3500</text>
<text transform="translate(590.1 935.6) scale(0.985 1.055)" text-anchor="middle">4000</text>
<text transform="translate(710.9 935.6) scale(0.985 1.055)" text-anchor="middle">4500</text>
<text transform="translate(831.7 935.6) scale(0.985 1.055)" text-anchor="middle">5000</text>
<text transform="translate(952.5 935.6) scale(0.985 1.055)" text-anchor="middle">5500</text>
<text transform="translate(1073.3 935.6) scale(0.985 1.055)" text-anchor="middle">6000</text>
<text transform="translate(95.5 901.3) scale(0.985 1.055)" text-anchor="end">0</text>
<text transform="translate(95.5 545.5) scale(0.985 1.055)" text-anchor="end">80</text>
<text transform="translate(1084.3 901.3) scale(0.985 1.055)">0.0</text>
<text transform="translate(1084.3 830.1) scale(0.985 1.055)">0.2</text>
<text transform="translate(1084.3 759.0) scale(0.985 1.055)">0.4</text>
<text transform="translate(1084.3 687.8) scale(0.985 1.055)">0.6</text>
<text transform="translate(1084.3 616.7) scale(0.985 1.055)">0.8</text>
<text transform="translate(1084.3 545.5) scale(0.985 1.055)">1.0</text>
<text transform="translate(590.1 972.5) scale(1.01 1.05)" text-anchor="middle">Time [ms]</text>
<text transform="translate(41.3 712.1) rotate(-90) scale(1.01 1.05)" text-anchor="middle"># cell</text>
<text transform="translate(1155.5 657.3) scale(1.01 1.05)" font-size="39" fill="#e8202a">x</text>
<text transform="translate(1155.5 765.2) scale(1.01 1.05)" font-size="39" fill="#3953a6">u</text>
<text transform="translate(18.9 528.9) scale(0.94 1)" font-family="'Liberation Sans',Arial,sans-serif" font-weight="bold" font-size="34">B</text>
<clipPath id="clipC"><rect x="107.0" y="1030.8" width="966.3" height="355.79999999999995"/></clipPath>
<g clip-path="url(#clipC)">
<rect x="347.6" y="1030.8" width="85.5" height="355.79999999999995" fill="#c1c1c1"/>
<g fill="#4bb746"><circle cx="148.3" cy="1030.8" r="3.3"/><circle cx="194.0" cy="1030.8" r="3.3"/><circle cx="294.7" cy="1035.2" r="3.3"/><circle cx="161.3" cy="1039.7" r="3.3"/><circle cx="273.0" cy="1039.7" r="3.3"/><circle cx="240.9" cy="1048.6" r="3.3"/><circle cx="342.1" cy="1057.5" r="3.3"/><circle cx="109.3" cy="1066.4" r="3.3"/><circle cx="229.5" cy="1075.3" r="3.3"/><circle cx="281.5" cy="1075.3" r="3.3"/><circle cx="346.3" cy="1079.7" r="3.3"/><circle cx="312.5" cy="1093.1" r="3.3"/><circle cx="124.5" cy="1097.5" r="3.3"/><circle cx="148.3" cy="1097.5" r="3.3"/><circle cx="321.8" cy="1097.5" r="3.3"/><circle cx="110.5" cy="1102.0" r="3.3"/><circle cx="195.3" cy="1102.0" r="3.3"/><circle cx="248.5" cy="1102.0" r="3.3"/><circle cx="345.5" cy="1102.0" r="3.3"/><circle cx="239.2" cy="1133.1" r="3.3"/><circle cx="211.7" cy="1137.5" r="3.3"/><circle cx="196.5" cy="1142.0" r="3.3"/><circle cx="254.4" cy="1142.0" r="3.3"/><circle cx="327.7" cy="1142.0" r="3.3"/><circle cx="248.5" cy="1146.4" r="3.3"/><circle cx="125.4" cy="1150.9" r="3.3"/><circle cx="258.3" cy="1150.9" r="3.3"/><circle cx="293.5" cy="1150.9" r="3.3"/><circle cx="331.4" cy="1150.9" r="3.3"/><circle cx="223.9" cy="1164.2" r="3.3"/><circle cx="214.3" cy="1168.7" r="3.3"/><circle cx="325.5" cy="1168.7" r="3.3"/><circle cx="315.9" cy="1173.1" r="3.3"/><circle cx="288.8" cy="1177.6" r="3.3"/><circle cx="254.4" cy="1195.4" r="3.3"/><circle cx="135.0" cy="1199.8" r="3.3"/><circle cx="221.0" cy="1226.5" r="3.3"/><circle cx="246.1" cy="1226.5" r="3.3"/><circle cx="242.6" cy="1235.4" r="3.3"/><circle cx="238.0" cy="1239.8" r="3.3"/><circle cx="267.3" cy="1239.8" r="3.3"/><circle cx="292.2" cy="1239.8" r="3.3"/><circle cx="292.2" cy="1244.3" r="3.3"/><circle cx="341.3" cy="1239.8" r="3.3"/><circle cx="218.0" cy="1244.3" r="3.3"/><circle cx="232.1" cy="1253.2" r="3.3"/><circle cx="127.1" cy="1257.6" r="3.3"/><circle cx="192.8" cy="1262.1" r="3.3"/><circle cx="239.2" cy="1275.4" r="3.3"/><circle cx="253.2" cy="1288.8" r="3.3"/><circle cx="313.7" cy="1288.8" r="3.3"/><circle cx="317.0" cy="1293.2" r="3.3"/><circle cx="267.3" cy="1297.6" r="3.3"/><circle cx="136.1" cy="1302.1" r="3.3"/><circle cx="319.6" cy="1302.1" r="3.3"/><circle cx="328.9" cy="1302.1" r="3.3"/><circle cx="229.5" cy="1306.5" r="3.3"/><circle cx="248.5" cy="1311.0" r="3.3"/><circle cx="332.4" cy="1311.0" r="3.3"/><circle cx="273.2" cy="1319.9" r="3.3"/><circle cx="261.3" cy="1328.8" r="3.3"/><circle cx="220.2" cy="1333.2" r="3.3"/><circle cx="130.5" cy="1342.1" r="3.3"/><circle cx="202.4" cy="1342.1" r="3.3"/><circle cx="342.9" cy="1342.1" r="3.3"/><circle cx="253.2" cy="1346.6" r="3.3"/><circle cx="219.0" cy="1364.4" r="3.3"/><circle cx="301.5" cy="1364.4" r="3.3"/><circle cx="253.2" cy="1368.8" r="3.3"/><circle cx="251.9" cy="1373.3" r="3.3"/><circle cx="355.3" cy="1386.6" r="3.3"/><circle cx="363.1" cy="1386.6" r="3.3"/><circle cx="372.4" cy="1386.6" r="3.3"/><circle cx="387.2" cy="1386.6" r="3.3"/><circle cx="402.5" cy="1386.6" r="3.3"/><circle cx="413.0" cy="1386.6" r="3.3"/><circle cx="431.4" cy="1386.6" r="3.3"/><circle cx="357.4" cy="1382.2" r="3.3"/><circle cx="385.1" cy="1382.2" r="3.3"/><circle cx="394.0" cy="1382.2" r="3.3"/><circle cx="407.8" cy="1382.2" r="3.3"/><circle cx="416.0" cy="1382.2" r="3.3"/><circle cx="425.0" cy="1382.2" r="3.3"/><circle cx="356.6" cy="1377.7" r="3.3"/><circle cx="374.9" cy="1377.7" r="3.3"/><circle cx="391.2" cy="1377.7" r="3.3"/><circle cx="397.9" cy="1377.7" r="3.3"/><circle cx="404.2" cy="1377.7" r="3.3"/><circle cx="416.6" cy="1377.7" r="3.3"/><circle cx="422.0" cy="1377.7" r="3.3"/><circle cx="353.8" cy="1373.3" r="3.3"/><circle cx="365.3" cy="1373.3" r="3.3"/><circle cx="390.7" cy="1373.3" r="3.3"/><circle cx="396.1" cy="1373.3" r="3.3"/><circle cx="415.3" cy="1373.3" r="3.3"/><circle cx="425.2" cy="1373.3" r="3.3"/><circle cx="354.8" cy="1368.8" r="3.3"/><circle cx="373.7" cy="1368.8" r="3.3"/><circle cx="411.5" cy="1368.8" r="3.3"/><circle cx="429.8" cy="1368.8" r="3.3"/><circle cx="354.2" cy="1364.4" r="3.3"/><circle cx="374.8" cy="1364.4" r="3.3"/><circle cx="399.6" cy="1364.4" r="3.3"/><circle cx="410.0" cy="1364.4" r="3.3"/><circle cx="367.3" cy="1359.9" r="3.3"/><circle cx="374.8" cy="1359.9" r="3.3"/><circle cx="385.5" cy="1359.9" r="3.3"/><circle cx="391.4" cy="1359.9" r="3.3"/><circle cx="404.0" cy="1359.9" r="3.3"/><circle cx="429.2" cy="1359.9" r="3.3"/><circle cx="352.5" cy="1355.5" r="3.3"/><circle cx="364.4" cy="1355.5" r="3.3"/><circle cx="372.6" cy="1355.5" r="3.3"/><circle cx="378.7" cy="1355.5" r="3.3"/><circle cx="387.0" cy="1355.5" r="3.3"/><circle cx="404.9" cy="1355.5" r="3.3"/><circle cx="422.6" cy="1355.5" r="3.3"/><circle cx="428.6" cy="1355.5" r="3.3"/><circle cx="351.3" cy="1351.0" r="3.3"/><circle cx="358.1" cy="1351.0" r="3.3"/><circle cx="374.4" cy="1351.0" r="3.3"/><circle cx="394.1" cy="1351.0" r="3.3"/><circle cx="404.3" cy="1351.0" r="3.3"/><circle cx="413.6" cy="1351.0" r="3.3"/><circle cx="373.4" cy="1346.6" r="3.3"/><circle cx="382.3" cy="1346.6" r="3.3"/><circle cx="399.6" cy="1346.6" r="3.3"/><circle cx="352.7" cy="1342.1" r="3.3"/><circle cx="358.3" cy="1342.1" r="3.3"/><circle cx="372.0" cy="1342.1" r="3.3"/><circle cx="379.6" cy="1342.1" r="3.3"/><circle cx="411.5" cy="1342.1" r="3.3"/><circle cx="427.5" cy="1342.1" r="3.3"/><circle cx="353.5" cy="1337.7" r="3.3"/><circle cx="363.1" cy="1337.7" r="3.3"/><circle cx="368.8" cy="1337.7" r="3.3"/><circle cx="376.1" cy="1337.7" r="3.3"/><circle cx="385.3" cy="1337.7" r="3.3"/><circle cx="402.4" cy="1337.7" r="3.3"/><circle cx="410.5" cy="1337.7" r="3.3"/><circle cx="427.7" cy="1337.7" r="3.3"/><circle cx="363.4" cy="1333.2" r="3.3"/><circle cx="382.8" cy="1333.2" r="3.3"/><circle cx="389.9" cy="1333.2" r="3.3"/><circle cx="409.6" cy="1333.2" r="3.3"/><circle cx="363.6" cy="1328.8" r="3.3"/><circle cx="388.6" cy="1328.8" r="3.3"/><circle cx="414.0" cy="1328.8" r="3.3"/><circle cx="427.4" cy="1328.8" r="3.3"/><circle cx="357.5" cy="1324.3" r="3.3"/><circle cx="364.2" cy="1324.3" r="3.3"/><circle cx="375.0" cy="1324.3" r="3.3"/><circle cx="395.4" cy="1324.3" r="3.3"/><circle cx="407.4" cy="1324.3" r="3.3"/><circle cx="414.5" cy="1324.3" r="3.3"/><circle cx="354.8" cy="1319.9" r="3.3"/><circle cx="379.4" cy="1319.9" r="3.3"/><circle cx="389.0" cy="1319.9" r="3.3"/><circle cx="396.6" cy="1319.9" r="3.3"/><circle cx="420.4" cy="1319.9" r="3.3"/><circle cx="428.4" cy="1319.9" r="3.3"/><circle cx="351.7" cy="1315.4" r="3.3"/><circle cx="394.5" cy="1315.4" r="3.3"/><circle cx="406.8" cy="1315.4" r="3.3"/><circle cx="420.2" cy="1315.4" r="3.3"/><circle cx="426.1" cy="1315.4" r="3.3"/><circle cx="350.5" cy="1311.0" r="3.3"/><circle cx="359.1" cy="1311.0" r="3.3"/><circle cx="387.3" cy="1311.0" r="3.3"/><circle cx="396.6" cy="1311.0" r="3.3"/><circle cx="405.0" cy="1311.0" r="3.3"/><circle cx="421.1" cy="1311.0" r="3.3"/><circle cx="363.8" cy="1306.5" r="3.3"/><circle cx="383.6" cy="1306.5" r="3.3"/><circle cx="389.0" cy="1306.5" r="3.3"/><circle cx="410.2" cy="1306.5" r="3.3"/><circle cx="426.1" cy="1306.5" r="3.3"/><circle cx="354.8" cy="1302.1" r="3.3"/><circle cx="372.9" cy="1302.1" r="3.3"/><circle cx="388.4" cy="1302.1" r="3.3"/><circle cx="413.1" cy="1302.1" r="3.3"/><circle cx="359.9" cy="1297.6" r="3.3"/><circle cx="385.3" cy="1297.6" r="3.3"/><circle cx="409.3" cy="1297.6" r="3.3"/><circle cx="418.6" cy="1297.6" r="3.3"/><circle cx="355.8" cy="1293.2" r="3.3"/><circle cx="365.6" cy="1293.2" r="3.3"/><circle cx="380.8" cy="1293.2" r="3.3"/><circle cx="392.2" cy="1293.2" r="3.3"/><circle cx="399.7" cy="1293.2" r="3.3"/><circle cx="411.5" cy="1293.2" r="3.3"/><circle cx="364.2" cy="1288.8" r="3.3"/><circle cx="380.1" cy="1288.8" r="3.3"/><circle cx="388.8" cy="1288.8" r="3.3"/><circle cx="397.8" cy="1288.8" r="3.3"/><circle cx="406.2" cy="1288.8" r="3.3"/><circle cx="412.9" cy="1288.8" r="3.3"/><circle cx="422.7" cy="1288.8" r="3.3"/><circle cx="351.5" cy="1284.3" r="3.3"/><circle cx="360.0" cy="1284.3" r="3.3"/><circle cx="367.7" cy="1284.3" r="3.3"/><circle cx="375.0" cy="1284.3" r="3.3"/><circle cx="398.4" cy="1284.3" r="3.3"/><circle cx="421.9" cy="1284.3" r="3.3"/><circle cx="369.8" cy="1279.9" r="3.3"/><circle cx="376.7" cy="1279.9" r="3.3"/><circle cx="390.6" cy="1279.9" r="3.3"/><circle cx="404.7" cy="1279.9" r="3.3"/><circle cx="426.2" cy="1279.9" r="3.3"/><circle cx="432.3" cy="1279.9" r="3.3"/><circle cx="349.4" cy="1275.4" r="3.3"/><circle cx="380.3" cy="1275.4" r="3.3"/><circle cx="400.7" cy="1275.4" r="3.3"/><circle cx="418.3" cy="1275.4" r="3.3"/><circle cx="359.9" cy="1271.0" r="3.3"/><circle cx="374.1" cy="1271.0" r="3.3"/><circle cx="400.2" cy="1271.0" r="3.3"/><circle cx="421.5" cy="1271.0" r="3.3"/><circle cx="359.3" cy="1266.5" r="3.3"/><circle cx="378.4" cy="1266.5" r="3.3"/><circle cx="385.2" cy="1266.5" r="3.3"/><circle cx="410.7" cy="1266.5" r="3.3"/><circle cx="416.0" cy="1266.5" r="3.3"/><circle cx="424.6" cy="1266.5" r="3.3"/><circle cx="360.4" cy="1262.1" r="3.3"/><circle cx="367.9" cy="1262.1" r="3.3"/><circle cx="375.8" cy="1262.1" r="3.3"/><circle cx="382.5" cy="1262.1" r="3.3"/><circle cx="390.9" cy="1262.1" r="3.3"/><circle cx="418.2" cy="1262.1" r="3.3"/><circle cx="431.1" cy="1262.1" r="3.3"/><circle cx="360.1" cy="1257.6" r="3.3"/><circle cx="373.2" cy="1257.6" r="3.3"/><circle cx="383.1" cy="1257.6" r="3.3"/><circle cx="407.0" cy="1257.6" r="3.3"/><circle cx="415.9" cy="1257.6" r="3.3"/><circle cx="424.9" cy="1257.6" r="3.3"/><circle cx="357.2" cy="1253.2" r="3.3"/><circle cx="374.9" cy="1253.2" r="3.3"/><circle cx="386.4" cy="1253.2" r="3.3"/><circle cx="420.1" cy="1253.2" r="3.3"/><circle cx="429.4" cy="1253.2" r="3.3"/><circle cx="365.9" cy="1248.7" r="3.3"/><circle cx="385.2" cy="1248.7" r="3.3"/><circle cx="415.3" cy="1248.7" r="3.3"/><circle cx="350.0" cy="1244.3" r="3.3"/><circle cx="360.1" cy="1244.3" r="3.3"/><circle cx="376.4" cy="1244.3" r="3.3"/><circle cx="383.8" cy="1244.3" r="3.3"/><circle cx="425.1" cy="1244.3" r="3.3"/><circle cx="358.7" cy="1239.8" r="3.3"/><circle cx="369.5" cy="1239.8" r="3.3"/><circle cx="386.4" cy="1239.8" r="3.3"/><circle cx="397.8" cy="1239.8" r="3.3"/><circle cx="407.6" cy="1239.8" r="3.3"/><circle cx="415.8" cy="1239.8" r="3.3"/><circle cx="428.4" cy="1239.8" r="3.3"/><circle cx="354.7" cy="1235.4" r="3.3"/><circle cx="365.6" cy="1235.4" r="3.3"/><circle cx="392.3" cy="1235.4" r="3.3"/><circle cx="405.3" cy="1235.4" r="3.3"/><circle cx="420.0" cy="1235.4" r="3.3"/><circle cx="369.3" cy="1230.9" r="3.3"/><circle cx="386.3" cy="1230.9" r="3.3"/><circle cx="401.8" cy="1230.9" r="3.3"/><circle cx="426.2" cy="1230.9" r="3.3"/><circle cx="361.3" cy="1226.5" r="3.3"/><circle cx="387.3" cy="1226.5" r="3.3"/><circle cx="399.5" cy="1226.5" r="3.3"/><circle cx="411.8" cy="1226.5" r="3.3"/><circle cx="428.3" cy="1226.5" r="3.3"/><circle cx="357.7" cy="1222.0" r="3.3"/><circle cx="375.4" cy="1222.0" r="3.3"/><circle cx="382.0" cy="1222.0" r="3.3"/><circle cx="388.5" cy="1222.0" r="3.3"/><circle cx="401.0" cy="1222.0" r="3.3"/><circle cx="411.4" cy="1222.0" r="3.3"/><circle cx="419.3" cy="1222.0" r="3.3"/><circle cx="363.7" cy="1217.6" r="3.3"/><circle cx="385.5" cy="1217.6" r="3.3"/><circle cx="392.5" cy="1217.6" r="3.3"/><circle cx="404.4" cy="1217.6" r="3.3"/><circle cx="417.7" cy="1217.6" r="3.3"/><circle cx="424.4" cy="1217.6" r="3.3"/><circle cx="350.5" cy="1213.1" r="3.3"/><circle cx="355.2" cy="1213.1" r="3.3"/><circle cx="385.0" cy="1213.1" r="3.3"/><circle cx="402.1" cy="1213.1" r="3.3"/><circle cx="420.0" cy="1213.1" r="3.3"/><circle cx="429.2" cy="1213.1" r="3.3"/><circle cx="361.1" cy="1208.7" r="3.3"/><circle cx="379.9" cy="1208.7" r="3.3"/><circle cx="417.0" cy="1208.7" r="3.3"/><circle cx="350.6" cy="1204.3" r="3.3"/><circle cx="362.4" cy="1204.3" r="3.3"/><circle cx="371.2" cy="1204.3" r="3.3"/><circle cx="385.6" cy="1204.3" r="3.3"/><circle cx="402.9" cy="1204.3" r="3.3"/><circle cx="426.2" cy="1204.3" r="3.3"/><circle cx="366.7" cy="1199.8" r="3.3"/><circle cx="378.2" cy="1199.8" r="3.3"/><circle cx="402.3" cy="1199.8" r="3.3"/><circle cx="412.6" cy="1199.8" r="3.3"/><circle cx="428.4" cy="1199.8" r="3.3"/><circle cx="368.3" cy="1195.4" r="3.3"/><circle cx="379.1" cy="1195.4" r="3.3"/><circle cx="391.0" cy="1195.4" r="3.3"/><circle cx="429.3" cy="1195.4" r="3.3"/><circle cx="351.8" cy="1190.9" r="3.3"/><circle cx="373.8" cy="1190.9" r="3.3"/><circle cx="384.3" cy="1190.9" r="3.3"/><circle cx="392.1" cy="1190.9" r="3.3"/><circle cx="400.6" cy="1190.9" r="3.3"/><circle cx="420.1" cy="1190.9" r="3.3"/><circle cx="363.3" cy="1186.5" r="3.3"/><circle cx="368.3" cy="1186.5" r="3.3"/><circle cx="373.6" cy="1186.5" r="3.3"/><circle cx="389.2" cy="1186.5" r="3.3"/><circle cx="408.9" cy="1186.5" r="3.3"/><circle cx="417.6" cy="1186.5" r="3.3"/><circle cx="353.4" cy="1182.0" r="3.3"/><circle cx="362.7" cy="1182.0" r="3.3"/><circle cx="372.2" cy="1182.0" r="3.3"/><circle cx="382.9" cy="1182.0" r="3.3"/><circle cx="401.7" cy="1182.0" r="3.3"/><circle cx="428.7" cy="1182.0" r="3.3"/><circle cx="359.5" cy="1177.6" r="3.3"/><circle cx="366.8" cy="1177.6" r="3.3"/><circle cx="374.8" cy="1177.6" r="3.3"/><circle cx="386.9" cy="1177.6" r="3.3"/><circle cx="398.0" cy="1177.6" r="3.3"/><circle cx="418.3" cy="1177.6" r="3.3"/><circle cx="429.0" cy="1177.6" r="3.3"/><circle cx="359.4" cy="1173.1" r="3.3"/><circle cx="370.6" cy="1173.1" r="3.3"/><circle cx="389.7" cy="1173.1" r="3.3"/><circle cx="396.4" cy="1173.1" r="3.3"/><circle cx="409.6" cy="1173.1" r="3.3"/><circle cx="416.5" cy="1173.1" r="3.3"/><circle cx="424.6" cy="1173.1" r="3.3"/><circle cx="430.9" cy="1173.1" r="3.3"/><circle cx="365.1" cy="1168.7" r="3.3"/><circle cx="376.4" cy="1168.7" r="3.3"/><circle cx="391.3" cy="1168.7" r="3.3"/><circle cx="404.1" cy="1168.7" r="3.3"/><circle cx="424.1" cy="1168.7" r="3.3"/><circle cx="432.6" cy="1168.7" r="3.3"/><circle cx="349.7" cy="1164.2" r="3.3"/><circle cx="367.0" cy="1164.2" r="3.3"/><circle cx="380.9" cy="1164.2" r="3.3"/><circle cx="389.8" cy="1164.2" r="3.3"/><circle cx="395.4" cy="1164.2" r="3.3"/><circle cx="403.4" cy="1164.2" r="3.3"/><circle cx="421.5" cy="1164.2" r="3.3"/><circle cx="360.4" cy="1159.8" r="3.3"/><circle cx="371.8" cy="1159.8" r="3.3"/><circle cx="388.1" cy="1159.8" r="3.3"/><circle cx="409.2" cy="1159.8" r="3.3"/><circle cx="426.3" cy="1159.8" r="3.3"/><circle cx="362.2" cy="1155.3" r="3.3"/><circle cx="380.6" cy="1155.3" r="3.3"/><circle cx="388.5" cy="1155.3" r="3.3"/><circle cx="397.4" cy="1155.3" r="3.3"/><circle cx="409.3" cy="1155.3" r="3.3"/><circle cx="424.9" cy="1155.3" r="3.3"/><circle cx="361.2" cy="1150.9" r="3.3"/><circle cx="383.7" cy="1150.9" r="3.3"/><circle cx="392.3" cy="1150.9" r="3.3"/><circle cx="400.2" cy="1150.9" r="3.3"/><circle cx="410.2" cy="1150.9" r="3.3"/><circle cx="357.4" cy="1146.4" r="3.3"/><circle cx="405.3" cy="1146.4" r="3.3"/><circle cx="414.2" cy="1146.4" r="3.3"/><circle cx="421.8" cy="1146.4" r="3.3"/><circle cx="354.4" cy="1142.0" r="3.3"/><circle cx="380.0" cy="1142.0" r="3.3"/><circle cx="391.0" cy="1142.0" r="3.3"/><circle cx="402.0" cy="1142.0" r="3.3"/><circle cx="407.5" cy="1142.0" r="3.3"/><circle cx="416.0" cy="1142.0" r="3.3"/><circle cx="361.2" cy="1137.5" r="3.3"/><circle cx="375.1" cy="1137.5" r="3.3"/><circle cx="385.5" cy="1137.5" r="3.3"/><circle cx="404.8" cy="1137.5" r="3.3"/><circle cx="424.4" cy="1137.5" r="3.3"/><circle cx="431.8" cy="1137.5" r="3.3"/><circle cx="352.0" cy="1133.1" r="3.3"/><circle cx="389.7" cy="1133.1" r="3.3"/><circle cx="406.6" cy="1133.1" r="3.3"/><circle cx="411.9" cy="1133.1" r="3.3"/><circle cx="421.9" cy="1133.1" r="3.3"/><circle cx="352.5" cy="1128.6" r="3.3"/><circle cx="373.9" cy="1128.6" r="3.3"/><circle cx="384.0" cy="1128.6" r="3.3"/><circle cx="398.0" cy="1128.6" r="3.3"/><circle cx="408.5" cy="1128.6" r="3.3"/><circle cx="425.8" cy="1128.6" r="3.3"/><circle cx="371.0" cy="1124.2" r="3.3"/><circle cx="377.2" cy="1124.2" r="3.3"/><circle cx="395.0" cy="1124.2" r="3.3"/><circle cx="413.2" cy="1124.2" r="3.3"/><circle cx="426.5" cy="1124.2" r="3.3"/><circle cx="352.0" cy="1119.8" r="3.3"/><circle cx="369.9" cy="1119.8" r="3.3"/><circle cx="376.0" cy="1119.8" r="3.3"/><circle cx="393.7" cy="1119.8" r="3.3"/><circle cx="412.9" cy="1119.8" r="3.3"/><circle cx="364.2" cy="1115.3" r="3.3"/><circle cx="378.0" cy="1115.3" r="3.3"/><circle cx="385.8" cy="1115.3" r="3.3"/><circle cx="394.6" cy="1115.3" r="3.3"/><circle cx="407.7" cy="1115.3" r="3.3"/><circle cx="419.6" cy="1115.3" r="3.3"/><circle cx="354.3" cy="1110.9" r="3.3"/><circle cx="365.6" cy="1110.9" r="3.3"/><circle cx="374.2" cy="1110.9" r="3.3"/><circle cx="378.9" cy="1110.9" r="3.3"/><circle cx="401.6" cy="1110.9" r="3.3"/><circle cx="417.3" cy="1110.9" r="3.3"/><circle cx="431.2" cy="1110.9" r="3.3"/><circle cx="349.8" cy="1106.4" r="3.3"/><circle cx="361.5" cy="1106.4" r="3.3"/><circle cx="376.0" cy="1106.4" r="3.3"/><circle cx="382.9" cy="1106.4" r="3.3"/><circle cx="392.3" cy="1106.4" r="3.3"/><circle cx="424.1" cy="1106.4" r="3.3"/><circle cx="352.8" cy="1102.0" r="3.3"/><circle cx="386.0" cy="1102.0" r="3.3"/><circle cx="391.7" cy="1102.0" r="3.3"/><circle cx="399.4" cy="1102.0" r="3.3"/><circle cx="415.4" cy="1102.0" r="3.3"/><circle cx="421.0" cy="1102.0" r="3.3"/><circle cx="354.5" cy="1097.5" r="3.3"/><circle cx="361.2" cy="1097.5" r="3.3"/><circle cx="367.4" cy="1097.5" r="3.3"/><circle cx="382.7" cy="1097.5" r="3.3"/><circle cx="396.0" cy="1097.5" r="3.3"/><circle cx="400.9" cy="1097.5" r="3.3"/><circle cx="429.8" cy="1097.5" r="3.3"/><circle cx="356.6" cy="1093.1" r="3.3"/><circle cx="371.2" cy="1093.1" r="3.3"/><circle cx="393.5" cy="1093.1" r="3.3"/><circle cx="411.3" cy="1093.1" r="3.3"/><circle cx="422.1" cy="1093.1" r="3.3"/><circle cx="363.3" cy="1088.6" r="3.3"/><circle cx="397.3" cy="1088.6" r="3.3"/><circle cx="408.6" cy="1088.6" r="3.3"/><circle cx="422.4" cy="1088.6" r="3.3"/><circle cx="427.4" cy="1088.6" r="3.3"/><circle cx="354.1" cy="1084.2" r="3.3"/><circle cx="361.9" cy="1084.2" r="3.3"/><circle cx="368.4" cy="1084.2" r="3.3"/><circle cx="374.4" cy="1084.2" r="3.3"/><circle cx="380.5" cy="1084.2" r="3.3"/><circle cx="389.9" cy="1084.2" r="3.3"/><circle cx="412.7" cy="1084.2" r="3.3"/><circle cx="417.8" cy="1084.2" r="3.3"/><circle cx="427.3" cy="1084.2" r="3.3"/><circle cx="371.0" cy="1079.7" r="3.3"/><circle cx="378.6" cy="1079.7" r="3.3"/><circle cx="389.5" cy="1079.7" r="3.3"/><circle cx="399.8" cy="1079.7" r="3.3"/><circle cx="409.4" cy="1079.7" r="3.3"/><circle cx="415.0" cy="1079.7" r="3.3"/><circle cx="352.4" cy="1075.3" r="3.3"/><circle cx="377.6" cy="1075.3" r="3.3"/><circle cx="386.7" cy="1075.3" r="3.3"/><circle cx="409.0" cy="1075.3" r="3.3"/><circle cx="417.4" cy="1075.3" r="3.3"/><circle cx="361.5" cy="1070.8" r="3.3"/><circle cx="367.5" cy="1070.8" r="3.3"/><circle cx="379.0" cy="1070.8" r="3.3"/><circle cx="393.0" cy="1070.8" r="3.3"/><circle cx="402.7" cy="1070.8" r="3.3"/><circle cx="412.3" cy="1070.8" r="3.3"/><circle cx="428.9" cy="1070.8" r="3.3"/><circle cx="349.6" cy="1066.4" r="3.3"/><circle cx="366.3" cy="1066.4" r="3.3"/><circle cx="387.3" cy="1066.4" r="3.3"/><circle cx="405.6" cy="1066.4" r="3.3"/><circle cx="414.0" cy="1066.4" r="3.3"/><circle cx="426.5" cy="1066.4" r="3.3"/><circle cx="356.9" cy="1061.9" r="3.3"/><circle cx="372.7" cy="1061.9" r="3.3"/><circle cx="385.0" cy="1061.9" r="3.3"/><circle cx="391.4" cy="1061.9" r="3.3"/><circle cx="420.4" cy="1061.9" r="3.3"/><circle cx="430.2" cy="1061.9" r="3.3"/><circle cx="357.3" cy="1057.5" r="3.3"/><circle cx="377.8" cy="1057.5" r="3.3"/><circle cx="382.7" cy="1057.5" r="3.3"/><circle cx="404.9" cy="1057.5" r="3.3"/><circle cx="414.8" cy="1057.5" r="3.3"/><circle cx="425.0" cy="1057.5" r="3.3"/><circle cx="353.4" cy="1053.0" r="3.3"/><circle cx="358.9" cy="1053.0" r="3.3"/><circle cx="364.6" cy="1053.0" r="3.3"/><circle cx="385.8" cy="1053.0" r="3.3"/><circle cx="410.4" cy="1053.0" r="3.3"/><circle cx="423.0" cy="1053.0" r="3.3"/><circle cx="358.0" cy="1048.6" r="3.3"/><circle cx="373.5" cy="1048.6" r="3.3"/><circle cx="381.4" cy="1048.6" r="3.3"/><circle cx="387.6" cy="1048.6" r="3.3"/><circle cx="398.3" cy="1048.6" r="3.3"/><circle cx="404.5" cy="1048.6" r="3.3"/><circle cx="415.5" cy="1048.6" r="3.3"/><circle cx="366.0" cy="1044.1" r="3.3"/><circle cx="384.3" cy="1044.1" r="3.3"/><circle cx="393.4" cy="1044.1" r="3.3"/><circle cx="398.6" cy="1044.1" r="3.3"/><circle cx="406.8" cy="1044.1" r="3.3"/><circle cx="424.5" cy="1044.1" r="3.3"/><circle cx="358.4" cy="1039.7" r="3.3"/><circle cx="372.1" cy="1039.7" r="3.3"/><circle cx="385.2" cy="1039.7" r="3.3"/><circle cx="395.6" cy="1039.7" r="3.3"/><circle cx="401.0" cy="1039.7" r="3.3"/><circle cx="417.1" cy="1039.7" r="3.3"/><circle cx="423.7" cy="1039.7" r="3.3"/><circle cx="368.4" cy="1035.2" r="3.3"/><circle cx="376.4" cy="1035.2" r="3.3"/><circle cx="421.0" cy="1035.2" r="3.3"/><circle cx="432.4" cy="1035.2" r="3.3"/><circle cx="354.8" cy="1030.8" r="3.3"/><circle cx="364.5" cy="1030.8" r="3.3"/><circle cx="373.9" cy="1030.8" r="3.3"/><circle cx="388.2" cy="1030.8" r="3.3"/><circle cx="400.6" cy="1030.8" r="3.3"/><circle cx="406.5" cy="1030.8" r="3.3"/><circle cx="415.5" cy="1030.8" r="3.3"/><circle cx="431.1" cy="1030.8" r="3.3"/><circle cx="441.1" cy="1035.2" r="3.3"/><circle cx="482.6" cy="1030.8" r="3.3"/><circle cx="434.3" cy="1044.1" r="3.3"/><circle cx="437.7" cy="1057.5" r="3.3"/><circle cx="489.3" cy="1057.5" r="3.3"/><circle cx="467.3" cy="1084.2" r="3.3"/><circle cx="488.5" cy="1084.2" r="3.3"/><circle cx="480.0" cy="1097.5" r="3.3"/><circle cx="441.9" cy="1102.0" r="3.3"/><circle cx="458.9" cy="1119.8" r="3.3"/><circle cx="490.2" cy="1110.9" r="3.3"/><circle cx="439.9" cy="1142.0" r="3.3"/><circle cx="466.1" cy="1146.4" r="3.3"/><circle cx="463.9" cy="1159.8" r="3.3"/><circle cx="475.5" cy="1173.1" r="3.3"/><circle cx="441.1" cy="1177.6" r="3.3"/><circle cx="489.3" cy="1177.6" r="3.3"/><circle cx="487.3" cy="1195.4" r="3.3"/><circle cx="478.8" cy="1199.8" r="3.3"/><circle cx="473.3" cy="1208.7" r="3.3"/><circle cx="450.4" cy="1244.3" r="3.3"/><circle cx="485.1" cy="1248.7" r="3.3"/><circle cx="485.1" cy="1253.2" r="3.3"/><circle cx="474.1" cy="1262.1" r="3.3"/><circle cx="445.3" cy="1266.5" r="3.3"/><circle cx="469.4" cy="1271.0" r="3.3"/><circle cx="517.8" cy="1030.8" r="3.3"/><circle cx="510.5" cy="1053.0" r="3.3"/><circle cx="517.8" cy="1053.0" r="3.3"/><circle cx="509.7" cy="1066.4" r="3.3"/><circle cx="521.5" cy="1066.4" r="3.3"/><circle cx="528.6" cy="1061.9" r="3.3"/><circle cx="520.7" cy="1110.9" r="3.3"/><circle cx="524.9" cy="1110.9" r="3.3"/><circle cx="501.2" cy="1150.9" r="3.3"/><circle cx="515.6" cy="1155.3" r="3.3"/><circle cx="527.4" cy="1150.9" r="3.3"/><circle cx="527.4" cy="1159.8" r="3.3"/><circle cx="540.1" cy="1159.8" r="3.3"/><circle cx="514.2" cy="1173.1" r="3.3"/><circle cx="520.3" cy="1182.0" r="3.3"/><circle cx="504.6" cy="1195.4" r="3.3"/><circle cx="502.9" cy="1199.8" r="3.3"/><circle cx="518.1" cy="1199.8" r="3.3"/><circle cx="509.7" cy="1208.7" r="3.3"/><circle cx="500.3" cy="1213.1" r="3.3"/><circle cx="530.8" cy="1217.6" r="3.3"/><circle cx="509.1" cy="1239.8" r="3.3"/><circle cx="527.4" cy="1262.1" r="3.3"/><circle cx="502.0" cy="1204.3" r="3.3"/><circle cx="540.1" cy="1230.9" r="3.3"/><circle cx="541.8" cy="1239.8" r="3.3"/><circle cx="500.3" cy="1146.4" r="3.3"/><circle cx="442.8" cy="1315.4" r="3.3"/><circle cx="441.1" cy="1328.8" r="3.3"/><circle cx="485.9" cy="1364.4" r="3.3"/><circle cx="485.9" cy="1368.8" r="3.3"/><circle cx="490.2" cy="1342.1" r="3.3"/><circle cx="512.2" cy="1275.4" r="3.3"/><circle cx="509.7" cy="1284.3" r="3.3"/><circle cx="532.0" cy="1293.2" r="3.3"/><circle cx="514.4" cy="1319.9" r="3.3"/><circle cx="518.1" cy="1328.8" r="3.3"/><circle cx="532.0" cy="1333.2" r="3.3"/><circle cx="518.1" cy="1346.6" r="3.3"/><circle cx="500.3" cy="1355.5" r="3.3"/><circle cx="508.5" cy="1359.9" r="3.3"/><circle cx="499.5" cy="1368.8" r="3.3"/><circle cx="539.3" cy="1382.2" r="3.3"/><circle cx="541.8" cy="1342.1" r="3.3"/><circle cx="495.6" cy="1386.6" r="3.3"/><circle cx="496.7" cy="1382.2" r="3.3"/><circle cx="495.9" cy="1377.7" r="3.3"/><circle cx="495.8" cy="1373.3" r="3.3"/><circle cx="496.2" cy="1368.8" r="3.3"/><circle cx="496.0" cy="1364.4" r="3.3"/><circle cx="495.7" cy="1359.9" r="3.3"/><circle cx="496.2" cy="1355.5" r="3.3"/><circle cx="496.1" cy="1351.0" r="3.3"/><circle cx="496.0" cy="1346.6" r="3.3"/><circle cx="495.9" cy="1342.1" r="3.3"/><circle cx="496.1" cy="1337.7" r="3.3"/><circle cx="495.6" cy="1333.2" r="3.3"/><circle cx="496.2" cy="1328.8" r="3.3"/><circle cx="495.9" cy="1324.3" r="3.3"/><circle cx="496.4" cy="1319.9" r="3.3"/><circle cx="496.0" cy="1315.4" r="3.3"/><circle cx="496.1" cy="1311.0" r="3.3"/><circle cx="496.0" cy="1306.5" r="3.3"/><circle cx="495.6" cy="1302.1" r="3.3"/><circle cx="496.4" cy="1297.6" r="3.3"/><circle cx="496.0" cy="1293.2" r="3.3"/><circle cx="496.0" cy="1288.8" r="3.3"/><circle cx="494.4" cy="1288.8" r="3.3"/><circle cx="495.1" cy="1284.3" r="3.3"/><circle cx="496.1" cy="1279.9" r="3.3"/><circle cx="495.8" cy="1275.4" r="3.3"/><circle cx="495.7" cy="1271.0" r="3.3"/><circle cx="495.8" cy="1266.5" r="3.3"/><circle cx="495.6" cy="1262.1" r="3.3"/><circle cx="495.8" cy="1257.6" r="3.3"/><circle cx="495.8" cy="1253.2" r="3.3"/><circle cx="496.4" cy="1248.7" r="3.3"/><circle cx="495.9" cy="1244.3" r="3.3"/><circle cx="496.8" cy="1239.8" r="3.3"/><circle cx="495.5" cy="1230.9" r="3.3"/><circle cx="495.6" cy="1226.5" r="3.3"/><circle cx="496.3" cy="1222.0" r="3.3"/><circle cx="495.9" cy="1217.6" r="3.3"/><circle cx="496.0" cy="1213.1" r="3.3"/><circle cx="496.1" cy="1213.1" r="3.3"/><circle cx="495.8" cy="1208.7" r="3.3"/><circle cx="495.7" cy="1204.3" r="3.3"/><circle cx="496.0" cy="1199.8" r="3.3"/><circle cx="496.5" cy="1195.4" r="3.3"/><circle cx="496.0" cy="1190.9" r="3.3"/><circle cx="495.9" cy="1186.5" r="3.3"/><circle cx="495.9" cy="1182.0" r="3.3"/><circle cx="496.3" cy="1177.6" r="3.3"/><circle cx="495.5" cy="1173.1" r="3.3"/><circle cx="496.0" cy="1168.7" r="3.3"/><circle cx="496.2" cy="1164.2" r="3.3"/><circle cx="496.2" cy="1159.8" r="3.3"/><circle cx="495.6" cy="1155.3" r="3.3"/><circle cx="496.1" cy="1150.9" r="3.3"/><circle cx="495.9" cy="1146.4" r="3.3"/><circle cx="496.2" cy="1142.0" r="3.3"/><circle cx="495.8" cy="1137.5" r="3.3"/><circle cx="497.1" cy="1137.5" r="3.3"/><circle cx="495.5" cy="1133.1" r="3.3"/><circle cx="496.2" cy="1128.6" r="3.3"/><circle cx="496.4" cy="1119.8" r="3.3"/><circle cx="496.0" cy="1115.3" r="3.3"/><circle cx="495.8" cy="1106.4" r="3.3"/><circle cx="495.7" cy="1102.0" r="3.3"/><circle cx="495.9" cy="1097.5" r="3.3"/><circle cx="496.4" cy="1093.1" r="3.3"/><circle cx="495.8" cy="1088.6" r="3.3"/><circle cx="495.7" cy="1088.6" r="3.3"/><circle cx="495.9" cy="1084.2" r="3.3"/><circle cx="496.1" cy="1079.7" r="3.3"/><circle cx="495.2" cy="1075.3" r="3.3"/><circle cx="496.3" cy="1070.8" r="3.3"/><circle cx="495.9" cy="1066.4" r="3.3"/><circle cx="495.7" cy="1061.9" r="3.3"/><circle cx="496.4" cy="1057.5" r="3.3"/><circle cx="495.8" cy="1053.0" r="3.3"/><circle cx="495.7" cy="1048.6" r="3.3"/><circle cx="495.5" cy="1044.1" r="3.3"/><circle cx="495.9" cy="1039.7" r="3.3"/><circle cx="495.7" cy="1035.2" r="3.3"/><circle cx="495.9" cy="1030.8" r="3.3"/><circle cx="575.5" cy="1386.6" r="3.3"/><circle cx="598.9" cy="1386.6" r="3.3"/><circle cx="629.7" cy="1386.6" r="3.3"/><circle cx="656.3" cy="1386.6" r="3.3"/><circle cx="683.5" cy="1386.6" r="3.3"/><circle cx="704.5" cy="1386.6" r="3.3"/><circle cx="715.8" cy="1386.6" r="3.3"/><circle cx="766.7" cy="1386.6" r="3.3"/><circle cx="794.3" cy="1386.6" r="3.3"/><circle cx="820.7" cy="1386.6" r="3.3"/><circle cx="566.2" cy="1382.2" r="3.3"/><circle cx="609.6" cy="1382.2" r="3.3"/><circle cx="647.7" cy="1382.2" r="3.3"/><circle cx="658.6" cy="1382.2" r="3.3"/><circle cx="675.0" cy="1382.2" r="3.3"/><circle cx="688.2" cy="1382.2" r="3.3"/><circle cx="710.3" cy="1382.2" r="3.3"/><circle cx="729.5" cy="1382.2" r="3.3"/><circle cx="754.6" cy="1382.2" r="3.3"/><circle cx="774.6" cy="1382.2" r="3.3"/><circle cx="793.6" cy="1382.2" r="3.3"/><circle cx="811.7" cy="1382.2" r="3.3"/><circle cx="843.0" cy="1382.2" r="3.3"/><circle cx="851.4" cy="1382.2" r="3.3"/><circle cx="871.9" cy="1382.2" r="3.3"/><circle cx="549.0" cy="1377.7" r="3.3"/><circle cx="570.8" cy="1377.7" r="3.3"/><circle cx="588.2" cy="1377.7" r="3.3"/><circle cx="608.0" cy="1377.7" r="3.3"/><circle cx="619.5" cy="1377.7" r="3.3"/><circle cx="675.9" cy="1377.7" r="3.3"/><circle cx="689.5" cy="1377.7" r="3.3"/><circle cx="710.8" cy="1377.7" r="3.3"/><circle cx="742.7" cy="1377.7" r="3.3"/><circle cx="749.9" cy="1377.7" r="3.3"/><circle cx="756.1" cy="1377.7" r="3.3"/><circle cx="763.4" cy="1377.7" r="3.3"/><circle cx="783.6" cy="1377.7" r="3.3"/><circle cx="788.9" cy="1377.7" r="3.3"/><circle cx="811.7" cy="1377.7" r="3.3"/><circle cx="834.0" cy="1377.7" r="3.3"/><circle cx="847.5" cy="1377.7" r="3.3"/><circle cx="857.1" cy="1377.7" r="3.3"/><circle cx="555.6" cy="1373.3" r="3.3"/><circle cx="566.5" cy="1373.3" r="3.3"/><circle cx="582.0" cy="1373.3" r="3.3"/><circle cx="631.7" cy="1373.3" r="3.3"/><circle cx="688.9" cy="1373.3" r="3.3"/><circle cx="717.6" cy="1373.3" r="3.3"/><circle cx="736.8" cy="1373.3" r="3.3"/><circle cx="781.8" cy="1373.3" r="3.3"/><circle cx="792.8" cy="1373.3" r="3.3"/><circle cx="804.9" cy="1373.3" r="3.3"/><circle cx="826.7" cy="1373.3" r="3.3"/><circle cx="860.3" cy="1373.3" r="3.3"/><circle cx="573.8" cy="1368.8" r="3.3"/><circle cx="598.5" cy="1368.8" r="3.3"/><circle cx="624.1" cy="1368.8" r="3.3"/><circle cx="638.7" cy="1368.8" r="3.3"/><circle cx="684.2" cy="1368.8" r="3.3"/><circle cx="693.4" cy="1368.8" r="3.3"/><circle cx="739.6" cy="1368.8" r="3.3"/><circle cx="765.7" cy="1368.8" r="3.3"/><circle cx="786.2" cy="1368.8" r="3.3"/><circle cx="827.7" cy="1368.8" r="3.3"/><circle cx="847.1" cy="1368.8" r="3.3"/><circle cx="877.0" cy="1368.8" r="3.3"/><circle cx="587.0" cy="1364.4" r="3.3"/><circle cx="640.7" cy="1364.4" r="3.3"/><circle cx="699.6" cy="1364.4" r="3.3"/><circle cx="732.6" cy="1364.4" r="3.3"/><circle cx="747.1" cy="1364.4" r="3.3"/><circle cx="796.9" cy="1364.4" r="3.3"/><circle cx="806.9" cy="1364.4" r="3.3"/><circle cx="833.2" cy="1364.4" r="3.3"/><circle cx="870.8" cy="1364.4" r="3.3"/><circle cx="551.1" cy="1359.9" r="3.3"/><circle cx="593.4" cy="1359.9" r="3.3"/><circle cx="601.9" cy="1359.9" r="3.3"/><circle cx="646.6" cy="1359.9" r="3.3"/><circle cx="664.9" cy="1359.9" r="3.3"/><circle cx="678.3" cy="1359.9" r="3.3"/><circle cx="716.3" cy="1359.9" r="3.3"/><circle cx="759.8" cy="1359.9" r="3.3"/><circle cx="769.8" cy="1359.9" r="3.3"/><circle cx="823.1" cy="1359.9" r="3.3"/><circle cx="554.2" cy="1355.5" r="3.3"/><circle cx="619.0" cy="1355.5" r="3.3"/><circle cx="628.2" cy="1355.5" r="3.3"/><circle cx="671.6" cy="1355.5" r="3.3"/><circle cx="690.0" cy="1355.5" r="3.3"/><circle cx="711.6" cy="1355.5" r="3.3"/><circle cx="727.9" cy="1355.5" r="3.3"/><circle cx="762.9" cy="1355.5" r="3.3"/><circle cx="800.0" cy="1355.5" r="3.3"/><circle cx="847.3" cy="1355.5" r="3.3"/><circle cx="866.0" cy="1355.5" r="3.3"/><circle cx="587.0" cy="1351.0" r="3.3"/><circle cx="600.2" cy="1351.0" r="3.3"/><circle cx="630.0" cy="1351.0" r="3.3"/><circle cx="667.3" cy="1351.0" r="3.3"/><circle cx="693.4" cy="1351.0" r="3.3"/><circle cx="753.5" cy="1351.0" r="3.3"/><circle cx="802.5" cy="1351.0" r="3.3"/><circle cx="854.0" cy="1351.0" r="3.3"/><circle cx="562.0" cy="1346.6" r="3.3"/><circle cx="585.7" cy="1346.6" r="3.3"/><circle cx="629.2" cy="1346.6" r="3.3"/><circle cx="672.5" cy="1346.6" r="3.3"/><circle cx="702.6" cy="1346.6" r="3.3"/><circle cx="775.0" cy="1346.6" r="3.3"/><circle cx="787.9" cy="1346.6" r="3.3"/><circle cx="803.5" cy="1346.6" r="3.3"/><circle cx="808.9" cy="1346.6" r="3.3"/><circle cx="837.6" cy="1346.6" r="3.3"/><circle cx="857.6" cy="1346.6" r="3.3"/><circle cx="602.9" cy="1342.1" r="3.3"/><circle cx="659.0" cy="1342.1" r="3.3"/><circle cx="723.6" cy="1342.1" r="3.3"/><circle cx="759.1" cy="1342.1" r="3.3"/><circle cx="780.1" cy="1342.1" r="3.3"/><circle cx="793.9" cy="1342.1" r="3.3"/><circle cx="812.2" cy="1342.1" r="3.3"/><circle cx="835.4" cy="1342.1" r="3.3"/><circle cx="854.2" cy="1342.1" r="3.3"/><circle cx="866.6" cy="1342.1" r="3.3"/><circle cx="545.2" cy="1337.7" r="3.3"/><circle cx="571.6" cy="1337.7" r="3.3"/><circle cx="598.1" cy="1337.7" r="3.3"/><circle cx="627.2" cy="1337.7" r="3.3"/><circle cx="641.7" cy="1337.7" r="3.3"/><circle cx="689.7" cy="1337.7" r="3.3"/><circle cx="713.4" cy="1337.7" r="3.3"/><circle cx="745.2" cy="1337.7" r="3.3"/><circle cx="767.8" cy="1337.7" r="3.3"/><circle cx="779.3" cy="1337.7" r="3.3"/><circle cx="846.3" cy="1337.7" r="3.3"/><circle cx="874.2" cy="1337.7" r="3.3"/><circle cx="548.9" cy="1333.2" r="3.3"/><circle cx="668.7" cy="1333.2" r="3.3"/><circle cx="681.4" cy="1333.2" r="3.3"/><circle cx="730.0" cy="1333.2" r="3.3"/><circle cx="736.0" cy="1333.2" r="3.3"/><circle cx="762.1" cy="1333.2" r="3.3"/><circle cx="801.8" cy="1333.2" r="3.3"/><circle cx="811.8" cy="1333.2" r="3.3"/><circle cx="832.5" cy="1333.2" r="3.3"/><circle cx="575.4" cy="1328.8" r="3.3"/><circle cx="622.5" cy="1328.8" r="3.3"/><circle cx="666.1" cy="1328.8" r="3.3"/><circle cx="679.8" cy="1328.8" r="3.3"/><circle cx="727.0" cy="1328.8" r="3.3"/><circle cx="734.3" cy="1328.8" r="3.3"/><circle cx="760.7" cy="1328.8" r="3.3"/><circle cx="781.7" cy="1328.8" r="3.3"/><circle cx="804.6" cy="1328.8" r="3.3"/><circle cx="842.1" cy="1328.8" r="3.3"/><circle cx="866.0" cy="1328.8" r="3.3"/><circle cx="608.5" cy="1324.3" r="3.3"/><circle cx="638.8" cy="1324.3" r="3.3"/><circle cx="658.0" cy="1324.3" r="3.3"/><circle cx="683.3" cy="1324.3" r="3.3"/><circle cx="693.4" cy="1324.3" r="3.3"/><circle cx="721.3" cy="1324.3" r="3.3"/><circle cx="778.8" cy="1324.3" r="3.3"/><circle cx="784.6" cy="1324.3" r="3.3"/><circle cx="791.0" cy="1324.3" r="3.3"/><circle cx="841.3" cy="1324.3" r="3.3"/><circle cx="856.6" cy="1324.3" r="3.3"/><circle cx="550.8" cy="1319.9" r="3.3"/><circle cx="565.6" cy="1319.9" r="3.3"/><circle cx="577.3" cy="1319.9" r="3.3"/><circle cx="595.2" cy="1319.9" r="3.3"/><circle cx="617.5" cy="1319.9" r="3.3"/><circle cx="650.8" cy="1319.9" r="3.3"/><circle cx="695.0" cy="1319.9" r="3.3"/><circle cx="713.4" cy="1319.9" r="3.3"/><circle cx="732.1" cy="1319.9" r="3.3"/><circle cx="741.0" cy="1319.9" r="3.3"/><circle cx="768.7" cy="1319.9" r="3.3"/><circle cx="839.1" cy="1319.9" r="3.3"/><circle cx="875.5" cy="1319.9" r="3.3"/><circle cx="569.6" cy="1315.4" r="3.3"/><circle cx="631.8" cy="1315.4" r="3.3"/><circle cx="646.2" cy="1315.4" r="3.3"/><circle cx="654.8" cy="1315.4" r="3.3"/><circle cx="716.7" cy="1315.4" r="3.3"/><circle cx="724.0" cy="1315.4" r="3.3"/><circle cx="733.5" cy="1315.4" r="3.3"/><circle cx="776.7" cy="1315.4" r="3.3"/><circle cx="821.2" cy="1315.4" r="3.3"/><circle cx="858.6" cy="1315.4" r="3.3"/><circle cx="549.6" cy="1311.0" r="3.3"/><circle cx="576.1" cy="1311.0" r="3.3"/><circle cx="615.9" cy="1311.0" r="3.3"/><circle cx="648.5" cy="1311.0" r="3.3"/><circle cx="687.4" cy="1311.0" r="3.3"/><circle cx="758.3" cy="1311.0" r="3.3"/><circle cx="793.1" cy="1311.0" r="3.3"/><circle cx="845.8" cy="1311.0" r="3.3"/><circle cx="875.7" cy="1311.0" r="3.3"/><circle cx="542.4" cy="1306.5" r="3.3"/><circle cx="548.7" cy="1306.5" r="3.3"/><circle cx="606.0" cy="1306.5" r="3.3"/><circle cx="664.3" cy="1306.5" r="3.3"/><circle cx="676.3" cy="1306.5" r="3.3"/><circle cx="696.6" cy="1306.5" r="3.3"/><circle cx="726.5" cy="1306.5" r="3.3"/><circle cx="761.3" cy="1306.5" r="3.3"/><circle cx="789.0" cy="1306.5" r="3.3"/><circle cx="813.7" cy="1306.5" r="3.3"/><circle cx="844.3" cy="1306.5" r="3.3"/><circle cx="852.4" cy="1306.5" r="3.3"/><circle cx="548.7" cy="1302.1" r="3.3"/><circle cx="556.4" cy="1302.1" r="3.3"/><circle cx="569.9" cy="1302.1" r="3.3"/><circle cx="590.8" cy="1302.1" r="3.3"/><circle cx="639.4" cy="1302.1" r="3.3"/><circle cx="659.9" cy="1302.1" r="3.3"/><circle cx="754.0" cy="1302.1" r="3.3"/><circle cx="782.4" cy="1302.1" r="3.3"/><circle cx="813.9" cy="1302.1" r="3.3"/><circle cx="871.2" cy="1302.1" r="3.3"/><circle cx="598.1" cy="1297.6" r="3.3"/><circle cx="635.6" cy="1297.6" r="3.3"/><circle cx="656.0" cy="1297.6" r="3.3"/><circle cx="708.0" cy="1297.6" r="3.3"/><circle cx="729.9" cy="1297.6" r="3.3"/><circle cx="760.3" cy="1297.6" r="3.3"/><circle cx="793.2" cy="1297.6" r="3.3"/><circle cx="807.8" cy="1297.6" r="3.3"/><circle cx="833.1" cy="1297.6" r="3.3"/><circle cx="879.5" cy="1297.6" r="3.3"/><circle cx="566.6" cy="1293.2" r="3.3"/><circle cx="631.6" cy="1293.2" r="3.3"/><circle cx="642.4" cy="1293.2" r="3.3"/><circle cx="655.8" cy="1293.2" r="3.3"/><circle cx="670.8" cy="1293.2" r="3.3"/><circle cx="724.6" cy="1293.2" r="3.3"/><circle cx="732.4" cy="1293.2" r="3.3"/><circle cx="786.7" cy="1293.2" r="3.3"/><circle cx="794.6" cy="1293.2" r="3.3"/><circle cx="822.8" cy="1293.2" r="3.3"/><circle cx="874.2" cy="1293.2" r="3.3"/><circle cx="612.0" cy="1288.8" r="3.3"/><circle cx="622.8" cy="1288.8" r="3.3"/><circle cx="630.7" cy="1288.8" r="3.3"/><circle cx="684.7" cy="1288.8" r="3.3"/><circle cx="739.8" cy="1288.8" r="3.3"/><circle cx="773.5" cy="1288.8" r="3.3"/><circle cx="786.8" cy="1288.8" r="3.3"/><circle cx="796.3" cy="1288.8" r="3.3"/><circle cx="817.4" cy="1288.8" r="3.3"/><circle cx="851.1" cy="1288.8" r="3.3"/><circle cx="861.2" cy="1288.8" r="3.3"/><circle cx="604.3" cy="1284.3" r="3.3"/><circle cx="686.6" cy="1284.3" r="3.3"/><circle cx="699.5" cy="1284.3" r="3.3"/><circle cx="784.3" cy="1284.3" r="3.3"/><circle cx="807.2" cy="1284.3" r="3.3"/><circle cx="836.9" cy="1284.3" r="3.3"/><circle cx="859.0" cy="1284.3" r="3.3"/><circle cx="877.5" cy="1284.3" r="3.3"/><circle cx="585.0" cy="1279.9" r="3.3"/><circle cx="644.4" cy="1279.9" r="3.3"/><circle cx="686.5" cy="1279.9" r="3.3"/><circle cx="725.0" cy="1279.9" r="3.3"/><circle cx="746.3" cy="1279.9" r="3.3"/><circle cx="771.1" cy="1279.9" r="3.3"/><circle cx="782.4" cy="1279.9" r="3.3"/><circle cx="798.9" cy="1279.9" r="3.3"/><circle cx="824.1" cy="1279.9" r="3.3"/><circle cx="843.3" cy="1279.9" r="3.3"/><circle cx="849.6" cy="1279.9" r="3.3"/><circle cx="859.8" cy="1279.9" r="3.3"/><circle cx="546.7" cy="1275.4" r="3.3"/><circle cx="578.7" cy="1275.4" r="3.3"/><circle cx="615.5" cy="1275.4" r="3.3"/><circle cx="690.5" cy="1275.4" r="3.3"/><circle cx="700.3" cy="1275.4" r="3.3"/><circle cx="730.2" cy="1275.4" r="3.3"/><circle cx="751.3" cy="1275.4" r="3.3"/><circle cx="766.2" cy="1275.4" r="3.3"/><circle cx="785.3" cy="1275.4" r="3.3"/><circle cx="800.1" cy="1275.4" r="3.3"/><circle cx="868.6" cy="1275.4" r="3.3"/><circle cx="568.3" cy="1271.0" r="3.3"/><circle cx="577.3" cy="1271.0" r="3.3"/><circle cx="658.7" cy="1271.0" r="3.3"/><circle cx="674.6" cy="1271.0" r="3.3"/><circle cx="715.7" cy="1271.0" r="3.3"/><circle cx="739.3" cy="1271.0" r="3.3"/><circle cx="761.4" cy="1271.0" r="3.3"/><circle cx="777.9" cy="1271.0" r="3.3"/><circle cx="845.4" cy="1271.0" r="3.3"/><circle cx="864.7" cy="1271.0" r="3.3"/><circle cx="874.4" cy="1271.0" r="3.3"/><circle cx="583.9" cy="1266.5" r="3.3"/><circle cx="610.4" cy="1266.5" r="3.3"/><circle cx="641.4" cy="1266.5" r="3.3"/><circle cx="651.3" cy="1266.5" r="3.3"/><circle cx="681.5" cy="1266.5" r="3.3"/><circle cx="690.4" cy="1266.5" r="3.3"/><circle cx="787.2" cy="1266.5" r="3.3"/><circle cx="795.5" cy="1266.5" r="3.3"/><circle cx="820.0" cy="1266.5" r="3.3"/><circle cx="841.4" cy="1266.5" r="3.3"/><circle cx="859.3" cy="1266.5" r="3.3"/><circle cx="874.3" cy="1266.5" r="3.3"/><circle cx="562.7" cy="1262.1" r="3.3"/><circle cx="576.8" cy="1262.1" r="3.3"/><circle cx="585.0" cy="1262.1" r="3.3"/><circle cx="633.2" cy="1262.1" r="3.3"/><circle cx="644.8" cy="1262.1" r="3.3"/><circle cx="691.8" cy="1262.1" r="3.3"/><circle cx="730.5" cy="1262.1" r="3.3"/><circle cx="755.7" cy="1262.1" r="3.3"/><circle cx="826.9" cy="1262.1" r="3.3"/><circle cx="835.6" cy="1262.1" r="3.3"/><circle cx="862.1" cy="1262.1" r="3.3"/><circle cx="554.3" cy="1257.6" r="3.3"/><circle cx="633.0" cy="1257.6" r="3.3"/><circle cx="659.0" cy="1257.6" r="3.3"/><circle cx="670.9" cy="1257.6" r="3.3"/><circle cx="720.0" cy="1257.6" r="3.3"/><circle cx="750.3" cy="1257.6" r="3.3"/><circle cx="780.1" cy="1257.6" r="3.3"/><circle cx="836.7" cy="1257.6" r="3.3"/><circle cx="549.9" cy="1253.2" r="3.3"/><circle cx="559.5" cy="1253.2" r="3.3"/><circle cx="569.5" cy="1253.2" r="3.3"/><circle cx="582.8" cy="1253.2" r="3.3"/><circle cx="618.1" cy="1253.2" r="3.3"/><circle cx="648.0" cy="1253.2" r="3.3"/><circle cx="712.8" cy="1253.2" r="3.3"/><circle cx="747.4" cy="1253.2" r="3.3"/><circle cx="798.5" cy="1253.2" r="3.3"/><circle cx="820.2" cy="1253.2" r="3.3"/><circle cx="837.6" cy="1253.2" r="3.3"/><circle cx="851.9" cy="1253.2" r="3.3"/><circle cx="861.6" cy="1253.2" r="3.3"/><circle cx="615.8" cy="1248.7" r="3.3"/><circle cx="670.9" cy="1248.7" r="3.3"/><circle cx="710.4" cy="1248.7" r="3.3"/><circle cx="717.4" cy="1248.7" r="3.3"/><circle cx="739.4" cy="1248.7" r="3.3"/><circle cx="800.8" cy="1248.7" r="3.3"/><circle cx="816.6" cy="1248.7" r="3.3"/><circle cx="857.0" cy="1248.7" r="3.3"/><circle cx="574.0" cy="1244.3" r="3.3"/><circle cx="586.5" cy="1244.3" r="3.3"/><circle cx="631.4" cy="1244.3" r="3.3"/><circle cx="650.6" cy="1244.3" r="3.3"/><circle cx="658.0" cy="1244.3" r="3.3"/><circle cx="670.4" cy="1244.3" r="3.3"/><circle cx="705.4" cy="1244.3" r="3.3"/><circle cx="733.8" cy="1244.3" r="3.3"/><circle cx="747.6" cy="1244.3" r="3.3"/><circle cx="766.7" cy="1244.3" r="3.3"/><circle cx="793.3" cy="1244.3" r="3.3"/><circle cx="837.7" cy="1244.3" r="3.3"/><circle cx="849.5" cy="1244.3" r="3.3"/><circle cx="860.2" cy="1244.3" r="3.3"/><circle cx="571.0" cy="1239.8" r="3.3"/><circle cx="597.0" cy="1239.8" r="3.3"/><circle cx="614.0" cy="1239.8" r="3.3"/><circle cx="640.1" cy="1239.8" r="3.3"/><circle cx="649.0" cy="1239.8" r="3.3"/><circle cx="676.5" cy="1239.8" r="3.3"/><circle cx="744.6" cy="1239.8" r="3.3"/><circle cx="793.6" cy="1239.8" r="3.3"/><circle cx="848.0" cy="1239.8" r="3.3"/><circle cx="551.9" cy="1235.4" r="3.3"/><circle cx="601.4" cy="1235.4" r="3.3"/><circle cx="621.0" cy="1235.4" r="3.3"/><circle cx="660.2" cy="1235.4" r="3.3"/><circle cx="666.9" cy="1235.4" r="3.3"/><circle cx="690.6" cy="1235.4" r="3.3"/><circle cx="731.5" cy="1235.4" r="3.3"/><circle cx="761.4" cy="1235.4" r="3.3"/><circle cx="775.5" cy="1235.4" r="3.3"/><circle cx="811.0" cy="1235.4" r="3.3"/><circle cx="878.9" cy="1235.4" r="3.3"/><circle cx="546.5" cy="1230.9" r="3.3"/><circle cx="552.6" cy="1230.9" r="3.3"/><circle cx="616.1" cy="1230.9" r="3.3"/><circle cx="635.1" cy="1230.9" r="3.3"/><circle cx="683.6" cy="1230.9" r="3.3"/><circle cx="712.8" cy="1230.9" r="3.3"/><circle cx="723.2" cy="1230.9" r="3.3"/><circle cx="728.5" cy="1230.9" r="3.3"/><circle cx="735.7" cy="1230.9" r="3.3"/><circle cx="750.1" cy="1230.9" r="3.3"/><circle cx="792.8" cy="1230.9" r="3.3"/><circle cx="829.8" cy="1230.9" r="3.3"/><circle cx="853.2" cy="1230.9" r="3.3"/><circle cx="877.0" cy="1230.9" r="3.3"/><circle cx="586.7" cy="1226.5" r="3.3"/><circle cx="606.5" cy="1226.5" r="3.3"/><circle cx="632.1" cy="1226.5" r="3.3"/><circle cx="705.2" cy="1226.5" r="3.3"/><circle cx="733.4" cy="1226.5" r="3.3"/><circle cx="739.7" cy="1226.5" r="3.3"/><circle cx="763.6" cy="1226.5" r="3.3"/><circle cx="861.7" cy="1226.5" r="3.3"/><circle cx="568.4" cy="1222.0" r="3.3"/><circle cx="585.7" cy="1222.0" r="3.3"/><circle cx="608.8" cy="1222.0" r="3.3"/><circle cx="659.1" cy="1222.0" r="3.3"/><circle cx="703.8" cy="1222.0" r="3.3"/><circle cx="720.6" cy="1222.0" r="3.3"/><circle cx="754.9" cy="1222.0" r="3.3"/><circle cx="790.6" cy="1222.0" r="3.3"/><circle cx="831.7" cy="1222.0" r="3.3"/><circle cx="847.9" cy="1222.0" r="3.3"/><circle cx="548.3" cy="1217.6" r="3.3"/><circle cx="577.4" cy="1217.6" r="3.3"/><circle cx="626.1" cy="1217.6" r="3.3"/><circle cx="677.9" cy="1217.6" r="3.3"/><circle cx="698.4" cy="1217.6" r="3.3"/><circle cx="732.9" cy="1217.6" r="3.3"/><circle cx="760.1" cy="1217.6" r="3.3"/><circle cx="797.0" cy="1217.6" r="3.3"/><circle cx="828.3" cy="1217.6" r="3.3"/><circle cx="843.7" cy="1217.6" r="3.3"/><circle cx="561.3" cy="1213.1" r="3.3"/><circle cx="585.8" cy="1213.1" r="3.3"/><circle cx="636.0" cy="1213.1" r="3.3"/><circle cx="652.1" cy="1213.1" r="3.3"/><circle cx="698.1" cy="1213.1" r="3.3"/><circle cx="714.6" cy="1213.1" r="3.3"/><circle cx="727.9" cy="1213.1" r="3.3"/><circle cx="771.5" cy="1213.1" r="3.3"/><circle cx="800.8" cy="1213.1" r="3.3"/><circle cx="829.4" cy="1213.1" r="3.3"/><circle cx="839.8" cy="1213.1" r="3.3"/><circle cx="855.4" cy="1213.1" r="3.3"/><circle cx="601.8" cy="1208.7" r="3.3"/><circle cx="629.1" cy="1208.7" r="3.3"/><circle cx="687.3" cy="1208.7" r="3.3"/><circle cx="704.5" cy="1208.7" r="3.3"/><circle cx="724.5" cy="1208.7" r="3.3"/><circle cx="764.2" cy="1208.7" r="3.3"/><circle cx="834.6" cy="1208.7" r="3.3"/><circle cx="845.0" cy="1208.7" r="3.3"/><circle cx="859.7" cy="1208.7" r="3.3"/><circle cx="874.3" cy="1208.7" r="3.3"/><circle cx="543.7" cy="1204.3" r="3.3"/><circle cx="579.7" cy="1204.3" r="3.3"/><circle cx="607.4" cy="1204.3" r="3.3"/><circle cx="626.1" cy="1204.3" r="3.3"/><circle cx="657.4" cy="1204.3" r="3.3"/><circle cx="675.4" cy="1204.3" r="3.3"/><circle cx="692.8" cy="1204.3" r="3.3"/><circle cx="733.1" cy="1204.3" r="3.3"/><circle cx="750.7" cy="1204.3" r="3.3"/><circle cx="764.7" cy="1204.3" r="3.3"/><circle cx="806.3" cy="1204.3" r="3.3"/><circle cx="577.4" cy="1199.8" r="3.3"/><circle cx="598.6" cy="1199.8" r="3.3"/><circle cx="678.0" cy="1199.8" r="3.3"/><circle cx="694.5" cy="1199.8" r="3.3"/><circle cx="730.4" cy="1199.8" r="3.3"/><circle cx="768.0" cy="1199.8" r="3.3"/><circle cx="781.1" cy="1199.8" r="3.3"/><circle cx="787.9" cy="1199.8" r="3.3"/><circle cx="794.9" cy="1199.8" r="3.3"/><circle cx="827.9" cy="1199.8" r="3.3"/><circle cx="851.5" cy="1199.8" r="3.3"/><circle cx="875.3" cy="1199.8" r="3.3"/><circle cx="565.4" cy="1195.4" r="3.3"/><circle cx="581.2" cy="1195.4" r="3.3"/><circle cx="591.0" cy="1195.4" r="3.3"/><circle cx="598.1" cy="1195.4" r="3.3"/><circle cx="606.2" cy="1195.4" r="3.3"/><circle cx="651.0" cy="1195.4" r="3.3"/><circle cx="667.8" cy="1195.4" r="3.3"/><circle cx="690.7" cy="1195.4" r="3.3"/><circle cx="810.5" cy="1195.4" r="3.3"/><circle cx="867.5" cy="1195.4" r="3.3"/><circle cx="553.0" cy="1190.9" r="3.3"/><circle cx="576.8" cy="1190.9" r="3.3"/><circle cx="632.3" cy="1190.9" r="3.3"/><circle cx="648.5" cy="1190.9" r="3.3"/><circle cx="659.5" cy="1190.9" r="3.3"/><circle cx="711.6" cy="1190.9" r="3.3"/><circle cx="772.7" cy="1190.9" r="3.3"/><circle cx="798.1" cy="1190.9" r="3.3"/><circle cx="831.4" cy="1190.9" r="3.3"/><circle cx="868.3" cy="1190.9" r="3.3"/><circle cx="560.9" cy="1186.5" r="3.3"/><circle cx="567.6" cy="1186.5" r="3.3"/><circle cx="625.6" cy="1186.5" r="3.3"/><circle cx="651.0" cy="1186.5" r="3.3"/><circle cx="701.8" cy="1186.5" r="3.3"/><circle cx="711.7" cy="1186.5" r="3.3"/><circle cx="744.3" cy="1186.5" r="3.3"/><circle cx="753.0" cy="1186.5" r="3.3"/><circle cx="772.8" cy="1186.5" r="3.3"/><circle cx="809.2" cy="1186.5" r="3.3"/><circle cx="832.5" cy="1186.5" r="3.3"/><circle cx="847.5" cy="1186.5" r="3.3"/><circle cx="856.2" cy="1186.5" r="3.3"/><circle cx="874.9" cy="1186.5" r="3.3"/><circle cx="564.0" cy="1182.0" r="3.3"/><circle cx="581.9" cy="1182.0" r="3.3"/><circle cx="617.8" cy="1182.0" r="3.3"/><circle cx="651.1" cy="1182.0" r="3.3"/><circle cx="712.6" cy="1182.0" r="3.3"/><circle cx="766.5" cy="1182.0" r="3.3"/><circle cx="802.3" cy="1182.0" r="3.3"/><circle cx="841.6" cy="1182.0" r="3.3"/><circle cx="601.9" cy="1177.6" r="3.3"/><circle cx="661.0" cy="1177.6" r="3.3"/><circle cx="668.5" cy="1177.6" r="3.3"/><circle cx="688.9" cy="1177.6" r="3.3"/><circle cx="705.1" cy="1177.6" r="3.3"/><circle cx="733.7" cy="1177.6" r="3.3"/><circle cx="768.5" cy="1177.6" r="3.3"/><circle cx="831.5" cy="1177.6" r="3.3"/><circle cx="855.3" cy="1177.6" r="3.3"/><circle cx="568.9" cy="1173.1" r="3.3"/><circle cx="587.9" cy="1173.1" r="3.3"/><circle cx="609.3" cy="1173.1" r="3.3"/><circle cx="687.5" cy="1173.1" r="3.3"/><circle cx="701.7" cy="1173.1" r="3.3"/><circle cx="710.7" cy="1173.1" r="3.3"/><circle cx="732.2" cy="1173.1" r="3.3"/><circle cx="751.9" cy="1173.1" r="3.3"/><circle cx="784.9" cy="1173.1" r="3.3"/><circle cx="802.0" cy="1173.1" r="3.3"/><circle cx="816.2" cy="1173.1" r="3.3"/><circle cx="839.7" cy="1173.1" r="3.3"/><circle cx="860.5" cy="1173.1" r="3.3"/><circle cx="872.5" cy="1173.1" r="3.3"/><circle cx="550.8" cy="1168.7" r="3.3"/><circle cx="573.2" cy="1168.7" r="3.3"/><circle cx="596.2" cy="1168.7" r="3.3"/><circle cx="607.7" cy="1168.7" r="3.3"/><circle cx="660.7" cy="1168.7" r="3.3"/><circle cx="678.1" cy="1168.7" r="3.3"/><circle cx="717.8" cy="1168.7" r="3.3"/><circle cx="729.3" cy="1168.7" r="3.3"/><circle cx="755.5" cy="1168.7" r="3.3"/><circle cx="790.2" cy="1168.7" r="3.3"/><circle cx="833.8" cy="1168.7" r="3.3"/><circle cx="844.6" cy="1168.7" r="3.3"/><circle cx="547.0" cy="1164.2" r="3.3"/><circle cx="584.8" cy="1164.2" r="3.3"/><circle cx="590.6" cy="1164.2" r="3.3"/><circle cx="612.3" cy="1164.2" r="3.3"/><circle cx="635.5" cy="1164.2" r="3.3"/><circle cx="656.1" cy="1164.2" r="3.3"/><circle cx="669.0" cy="1164.2" r="3.3"/><circle cx="685.4" cy="1164.2" r="3.3"/><circle cx="692.7" cy="1164.2" r="3.3"/><circle cx="750.2" cy="1164.2" r="3.3"/><circle cx="758.8" cy="1164.2" r="3.3"/><circle cx="770.8" cy="1164.2" r="3.3"/><circle cx="871.1" cy="1164.2" r="3.3"/><circle cx="562.7" cy="1159.8" r="3.3"/><circle cx="593.3" cy="1159.8" r="3.3"/><circle cx="602.7" cy="1159.8" r="3.3"/><circle cx="651.2" cy="1159.8" r="3.3"/><circle cx="658.1" cy="1159.8" r="3.3"/><circle cx="662.8" cy="1159.8" r="3.3"/><circle cx="679.7" cy="1159.8" r="3.3"/><circle cx="761.6" cy="1159.8" r="3.3"/><circle cx="771.9" cy="1159.8" r="3.3"/><circle cx="791.1" cy="1159.8" r="3.3"/><circle cx="819.5" cy="1159.8" r="3.3"/><circle cx="879.3" cy="1159.8" r="3.3"/><circle cx="595.4" cy="1155.3" r="3.3"/><circle cx="675.4" cy="1155.3" r="3.3"/><circle cx="710.8" cy="1155.3" r="3.3"/><circle cx="769.2" cy="1155.3" r="3.3"/><circle cx="781.1" cy="1155.3" r="3.3"/><circle cx="802.3" cy="1155.3" r="3.3"/><circle cx="822.0" cy="1155.3" r="3.3"/><circle cx="835.3" cy="1155.3" r="3.3"/><circle cx="878.9" cy="1155.3" r="3.3"/><circle cx="724.2" cy="1150.9" r="3.3"/><circle cx="742.4" cy="1150.9" r="3.3"/><circle cx="760.1" cy="1150.9" r="3.3"/><circle cx="766.1" cy="1150.9" r="3.3"/><circle cx="785.4" cy="1150.9" r="3.3"/><circle cx="792.2" cy="1150.9" r="3.3"/><circle cx="852.5" cy="1150.9" r="3.3"/><circle cx="584.6" cy="1146.4" r="3.3"/><circle cx="614.3" cy="1146.4" r="3.3"/><circle cx="644.0" cy="1146.4" r="3.3"/><circle cx="664.8" cy="1146.4" r="3.3"/><circle cx="696.8" cy="1146.4" r="3.3"/><circle cx="703.6" cy="1146.4" r="3.3"/><circle cx="717.5" cy="1146.4" r="3.3"/><circle cx="767.3" cy="1146.4" r="3.3"/><circle cx="825.8" cy="1146.4" r="3.3"/><circle cx="843.2" cy="1146.4" r="3.3"/><circle cx="868.2" cy="1146.4" r="3.3"/><circle cx="559.6" cy="1142.0" r="3.3"/><circle cx="588.1" cy="1142.0" r="3.3"/><circle cx="609.1" cy="1142.0" r="3.3"/><circle cx="656.7" cy="1142.0" r="3.3"/><circle cx="680.2" cy="1142.0" r="3.3"/><circle cx="687.9" cy="1142.0" r="3.3"/><circle cx="703.4" cy="1142.0" r="3.3"/><circle cx="710.7" cy="1142.0" r="3.3"/><circle cx="741.0" cy="1142.0" r="3.3"/><circle cx="809.5" cy="1142.0" r="3.3"/><circle cx="827.5" cy="1142.0" r="3.3"/><circle cx="864.7" cy="1142.0" r="3.3"/><circle cx="544.7" cy="1137.5" r="3.3"/><circle cx="581.5" cy="1137.5" r="3.3"/><circle cx="625.4" cy="1137.5" r="3.3"/><circle cx="667.4" cy="1137.5" r="3.3"/><circle cx="695.5" cy="1137.5" r="3.3"/><circle cx="707.1" cy="1137.5" r="3.3"/><circle cx="714.3" cy="1137.5" r="3.3"/><circle cx="750.5" cy="1137.5" r="3.3"/><circle cx="835.5" cy="1137.5" r="3.3"/><circle cx="551.6" cy="1133.1" r="3.3"/><circle cx="601.5" cy="1133.1" r="3.3"/><circle cx="644.0" cy="1133.1" r="3.3"/><circle cx="671.1" cy="1133.1" r="3.3"/><circle cx="708.8" cy="1133.1" r="3.3"/><circle cx="730.4" cy="1133.1" r="3.3"/><circle cx="749.5" cy="1133.1" r="3.3"/><circle cx="766.2" cy="1133.1" r="3.3"/><circle cx="788.0" cy="1133.1" r="3.3"/><circle cx="799.8" cy="1133.1" r="3.3"/><circle cx="819.2" cy="1133.1" r="3.3"/><circle cx="872.5" cy="1133.1" r="3.3"/><circle cx="878.0" cy="1133.1" r="3.3"/><circle cx="586.3" cy="1128.6" r="3.3"/><circle cx="634.1" cy="1128.6" r="3.3"/><circle cx="682.3" cy="1128.6" r="3.3"/><circle cx="696.2" cy="1128.6" r="3.3"/><circle cx="767.2" cy="1128.6" r="3.3"/><circle cx="782.3" cy="1128.6" r="3.3"/><circle cx="803.9" cy="1128.6" r="3.3"/><circle cx="823.0" cy="1128.6" r="3.3"/><circle cx="845.5" cy="1128.6" r="3.3"/><circle cx="869.6" cy="1128.6" r="3.3"/><circle cx="551.2" cy="1124.2" r="3.3"/><circle cx="558.1" cy="1124.2" r="3.3"/><circle cx="590.4" cy="1124.2" r="3.3"/><circle cx="652.7" cy="1124.2" r="3.3"/><circle cx="703.6" cy="1124.2" r="3.3"/><circle cx="710.0" cy="1124.2" r="3.3"/><circle cx="731.3" cy="1124.2" r="3.3"/><circle cx="759.9" cy="1124.2" r="3.3"/><circle cx="775.7" cy="1124.2" r="3.3"/><circle cx="806.6" cy="1124.2" r="3.3"/><circle cx="820.3" cy="1124.2" r="3.3"/><circle cx="849.5" cy="1124.2" r="3.3"/><circle cx="546.0" cy="1119.8" r="3.3"/><circle cx="586.5" cy="1119.8" r="3.3"/><circle cx="643.7" cy="1119.8" r="3.3"/><circle cx="651.6" cy="1119.8" r="3.3"/><circle cx="707.9" cy="1119.8" r="3.3"/><circle cx="722.9" cy="1119.8" r="3.3"/><circle cx="750.9" cy="1119.8" r="3.3"/><circle cx="782.1" cy="1119.8" r="3.3"/><circle cx="850.6" cy="1119.8" r="3.3"/><circle cx="863.0" cy="1119.8" r="3.3"/><circle cx="610.1" cy="1115.3" r="3.3"/><circle cx="615.6" cy="1115.3" r="3.3"/><circle cx="635.1" cy="1115.3" r="3.3"/><circle cx="656.0" cy="1115.3" r="3.3"/><circle cx="693.9" cy="1115.3" r="3.3"/><circle cx="713.9" cy="1115.3" r="3.3"/><circle cx="739.3" cy="1115.3" r="3.3"/><circle cx="750.9" cy="1115.3" r="3.3"/><circle cx="803.2" cy="1115.3" r="3.3"/><circle cx="814.0" cy="1115.3" r="3.3"/><circle cx="839.8" cy="1115.3" r="3.3"/><circle cx="559.9" cy="1110.9" r="3.3"/><circle cx="568.9" cy="1110.9" r="3.3"/><circle cx="612.3" cy="1110.9" r="3.3"/><circle cx="728.8" cy="1110.9" r="3.3"/><circle cx="741.0" cy="1110.9" r="3.3"/><circle cx="790.8" cy="1110.9" r="3.3"/><circle cx="829.5" cy="1110.9" r="3.3"/><circle cx="545.4" cy="1106.4" r="3.3"/><circle cx="578.9" cy="1106.4" r="3.3"/><circle cx="590.5" cy="1106.4" r="3.3"/><circle cx="611.6" cy="1106.4" r="3.3"/><circle cx="660.2" cy="1106.4" r="3.3"/><circle cx="672.0" cy="1106.4" r="3.3"/><circle cx="693.9" cy="1106.4" r="3.3"/><circle cx="714.1" cy="1106.4" r="3.3"/><circle cx="723.3" cy="1106.4" r="3.3"/><circle cx="747.6" cy="1106.4" r="3.3"/><circle cx="784.3" cy="1106.4" r="3.3"/><circle cx="791.9" cy="1106.4" r="3.3"/><circle cx="809.3" cy="1106.4" r="3.3"/><circle cx="840.3" cy="1106.4" r="3.3"/><circle cx="876.9" cy="1106.4" r="3.3"/><circle cx="567.0" cy="1102.0" r="3.3"/><circle cx="571.8" cy="1102.0" r="3.3"/><circle cx="602.5" cy="1102.0" r="3.3"/><circle cx="616.0" cy="1102.0" r="3.3"/><circle cx="669.6" cy="1102.0" r="3.3"/><circle cx="690.3" cy="1102.0" r="3.3"/><circle cx="717.7" cy="1102.0" r="3.3"/><circle cx="786.1" cy="1102.0" r="3.3"/><circle cx="797.8" cy="1102.0" r="3.3"/><circle cx="847.4" cy="1102.0" r="3.3"/><circle cx="878.3" cy="1102.0" r="3.3"/><circle cx="551.3" cy="1097.5" r="3.3"/><circle cx="584.3" cy="1097.5" r="3.3"/><circle cx="602.1" cy="1097.5" r="3.3"/><circle cx="619.2" cy="1097.5" r="3.3"/><circle cx="638.5" cy="1097.5" r="3.3"/><circle cx="646.0" cy="1097.5" r="3.3"/><circle cx="658.9" cy="1097.5" r="3.3"/><circle cx="668.7" cy="1097.5" r="3.3"/><circle cx="708.5" cy="1097.5" r="3.3"/><circle cx="744.0" cy="1097.5" r="3.3"/><circle cx="750.8" cy="1097.5" r="3.3"/><circle cx="762.3" cy="1097.5" r="3.3"/><circle cx="784.9" cy="1097.5" r="3.3"/><circle cx="861.3" cy="1097.5" r="3.3"/><circle cx="574.0" cy="1093.1" r="3.3"/><circle cx="623.9" cy="1093.1" r="3.3"/><circle cx="642.8" cy="1093.1" r="3.3"/><circle cx="661.4" cy="1093.1" r="3.3"/><circle cx="693.7" cy="1093.1" r="3.3"/><circle cx="718.1" cy="1093.1" r="3.3"/><circle cx="743.5" cy="1093.1" r="3.3"/><circle cx="774.9" cy="1093.1" r="3.3"/><circle cx="787.5" cy="1093.1" r="3.3"/><circle cx="828.0" cy="1093.1" r="3.3"/><circle cx="848.6" cy="1093.1" r="3.3"/><circle cx="864.0" cy="1093.1" r="3.3"/><circle cx="575.5" cy="1088.6" r="3.3"/><circle cx="605.1" cy="1088.6" r="3.3"/><circle cx="651.4" cy="1088.6" r="3.3"/><circle cx="676.9" cy="1088.6" r="3.3"/><circle cx="682.7" cy="1088.6" r="3.3"/><circle cx="690.2" cy="1088.6" r="3.3"/><circle cx="739.5" cy="1088.6" r="3.3"/><circle cx="761.6" cy="1088.6" r="3.3"/><circle cx="781.8" cy="1088.6" r="3.3"/><circle cx="813.6" cy="1088.6" r="3.3"/><circle cx="826.9" cy="1088.6" r="3.3"/><circle cx="870.3" cy="1088.6" r="3.3"/><circle cx="575.6" cy="1084.2" r="3.3"/><circle cx="597.4" cy="1084.2" r="3.3"/><circle cx="623.3" cy="1084.2" r="3.3"/><circle cx="639.1" cy="1084.2" r="3.3"/><circle cx="684.0" cy="1084.2" r="3.3"/><circle cx="691.0" cy="1084.2" r="3.3"/><circle cx="708.2" cy="1084.2" r="3.3"/><circle cx="754.7" cy="1084.2" r="3.3"/><circle cx="783.5" cy="1084.2" r="3.3"/><circle cx="811.2" cy="1084.2" r="3.3"/><circle cx="821.9" cy="1084.2" r="3.3"/><circle cx="831.0" cy="1084.2" r="3.3"/><circle cx="857.5" cy="1084.2" r="3.3"/><circle cx="572.2" cy="1079.7" r="3.3"/><circle cx="580.0" cy="1079.7" r="3.3"/><circle cx="608.6" cy="1079.7" r="3.3"/><circle cx="621.2" cy="1079.7" r="3.3"/><circle cx="641.6" cy="1079.7" r="3.3"/><circle cx="670.2" cy="1079.7" r="3.3"/><circle cx="683.7" cy="1079.7" r="3.3"/><circle cx="708.3" cy="1079.7" r="3.3"/><circle cx="731.3" cy="1079.7" r="3.3"/><circle cx="764.3" cy="1079.7" r="3.3"/><circle cx="822.0" cy="1079.7" r="3.3"/><circle cx="845.2" cy="1079.7" r="3.3"/><circle cx="861.9" cy="1079.7" r="3.3"/><circle cx="562.1" cy="1075.3" r="3.3"/><circle cx="594.1" cy="1075.3" r="3.3"/><circle cx="628.6" cy="1075.3" r="3.3"/><circle cx="641.3" cy="1075.3" r="3.3"/><circle cx="658.6" cy="1075.3" r="3.3"/><circle cx="686.0" cy="1075.3" r="3.3"/><circle cx="699.6" cy="1075.3" r="3.3"/><circle cx="750.2" cy="1075.3" r="3.3"/><circle cx="833.0" cy="1075.3" r="3.3"/><circle cx="873.2" cy="1075.3" r="3.3"/><circle cx="569.3" cy="1070.8" r="3.3"/><circle cx="598.6" cy="1070.8" r="3.3"/><circle cx="644.2" cy="1070.8" r="3.3"/><circle cx="653.1" cy="1070.8" r="3.3"/><circle cx="720.7" cy="1070.8" r="3.3"/><circle cx="731.6" cy="1070.8" r="3.3"/><circle cx="775.7" cy="1070.8" r="3.3"/><circle cx="786.2" cy="1070.8" r="3.3"/><circle cx="799.6" cy="1070.8" r="3.3"/><circle cx="830.0" cy="1070.8" r="3.3"/><circle cx="844.4" cy="1070.8" r="3.3"/><circle cx="865.9" cy="1070.8" r="3.3"/><circle cx="562.6" cy="1066.4" r="3.3"/><circle cx="577.9" cy="1066.4" r="3.3"/><circle cx="618.9" cy="1066.4" r="3.3"/><circle cx="657.7" cy="1066.4" r="3.3"/><circle cx="681.9" cy="1066.4" r="3.3"/><circle cx="703.9" cy="1066.4" r="3.3"/><circle cx="748.2" cy="1066.4" r="3.3"/><circle cx="766.3" cy="1066.4" r="3.3"/><circle cx="789.8" cy="1066.4" r="3.3"/><circle cx="844.8" cy="1066.4" r="3.3"/><circle cx="861.4" cy="1066.4" r="3.3"/><circle cx="878.2" cy="1066.4" r="3.3"/><circle cx="542.7" cy="1061.9" r="3.3"/><circle cx="553.6" cy="1061.9" r="3.3"/><circle cx="585.6" cy="1061.9" r="3.3"/><circle cx="650.4" cy="1061.9" r="3.3"/><circle cx="660.6" cy="1061.9" r="3.3"/><circle cx="693.0" cy="1061.9" r="3.3"/><circle cx="698.5" cy="1061.9" r="3.3"/><circle cx="721.2" cy="1061.9" r="3.3"/><circle cx="781.7" cy="1061.9" r="3.3"/><circle cx="792.2" cy="1061.9" r="3.3"/><circle cx="802.1" cy="1061.9" r="3.3"/><circle cx="833.6" cy="1061.9" r="3.3"/><circle cx="862.7" cy="1061.9" r="3.3"/><circle cx="878.4" cy="1061.9" r="3.3"/><circle cx="552.9" cy="1057.5" r="3.3"/><circle cx="596.6" cy="1057.5" r="3.3"/><circle cx="630.3" cy="1057.5" r="3.3"/><circle cx="717.6" cy="1057.5" r="3.3"/><circle cx="760.7" cy="1057.5" r="3.3"/><circle cx="768.5" cy="1057.5" r="3.3"/><circle cx="784.9" cy="1057.5" r="3.3"/><circle cx="794.7" cy="1057.5" r="3.3"/><circle cx="860.4" cy="1057.5" r="3.3"/><circle cx="878.5" cy="1057.5" r="3.3"/><circle cx="561.3" cy="1053.0" r="3.3"/><circle cx="574.0" cy="1053.0" r="3.3"/><circle cx="582.8" cy="1053.0" r="3.3"/><circle cx="601.9" cy="1053.0" r="3.3"/><circle cx="619.1" cy="1053.0" r="3.3"/><circle cx="651.2" cy="1053.0" r="3.3"/><circle cx="656.8" cy="1053.0" r="3.3"/><circle cx="694.4" cy="1053.0" r="3.3"/><circle cx="706.7" cy="1053.0" r="3.3"/><circle cx="719.5" cy="1053.0" r="3.3"/><circle cx="792.8" cy="1053.0" r="3.3"/><circle cx="805.3" cy="1053.0" r="3.3"/><circle cx="815.7" cy="1053.0" r="3.3"/><circle cx="616.3" cy="1048.6" r="3.3"/><circle cx="637.4" cy="1048.6" r="3.3"/><circle cx="669.0" cy="1048.6" r="3.3"/><circle cx="675.6" cy="1048.6" r="3.3"/><circle cx="699.6" cy="1048.6" r="3.3"/><circle cx="713.3" cy="1048.6" r="3.3"/><circle cx="724.0" cy="1048.6" r="3.3"/><circle cx="740.7" cy="1048.6" r="3.3"/><circle cx="750.9" cy="1048.6" r="3.3"/><circle cx="764.1" cy="1048.6" r="3.3"/><circle cx="787.8" cy="1048.6" r="3.3"/><circle cx="830.6" cy="1048.6" r="3.3"/><circle cx="841.7" cy="1048.6" r="3.3"/><circle cx="546.2" cy="1044.1" r="3.3"/><circle cx="575.2" cy="1044.1" r="3.3"/><circle cx="581.8" cy="1044.1" r="3.3"/><circle cx="635.3" cy="1044.1" r="3.3"/><circle cx="664.0" cy="1044.1" r="3.3"/><circle cx="681.9" cy="1044.1" r="3.3"/><circle cx="693.7" cy="1044.1" r="3.3"/><circle cx="720.6" cy="1044.1" r="3.3"/><circle cx="741.0" cy="1044.1" r="3.3"/><circle cx="777.6" cy="1044.1" r="3.3"/><circle cx="813.8" cy="1044.1" r="3.3"/><circle cx="863.1" cy="1044.1" r="3.3"/><circle cx="544.8" cy="1039.7" r="3.3"/><circle cx="635.7" cy="1039.7" r="3.3"/><circle cx="700.2" cy="1039.7" r="3.3"/><circle cx="731.7" cy="1039.7" r="3.3"/><circle cx="769.3" cy="1039.7" r="3.3"/><circle cx="783.7" cy="1039.7" r="3.3"/><circle cx="814.4" cy="1039.7" r="3.3"/><circle cx="834.5" cy="1039.7" r="3.3"/><circle cx="843.9" cy="1039.7" r="3.3"/><circle cx="860.6" cy="1039.7" r="3.3"/><circle cx="873.6" cy="1039.7" r="3.3"/><circle cx="561.0" cy="1035.2" r="3.3"/><circle cx="578.0" cy="1035.2" r="3.3"/><circle cx="591.5" cy="1035.2" r="3.3"/><circle cx="602.4" cy="1035.2" r="3.3"/><circle cx="662.4" cy="1035.2" r="3.3"/><circle cx="716.4" cy="1035.2" r="3.3"/><circle cx="728.5" cy="1035.2" r="3.3"/><circle cx="802.1" cy="1035.2" r="3.3"/><circle cx="843.5" cy="1035.2" r="3.3"/><circle cx="869.6" cy="1035.2" r="3.3"/><circle cx="572.1" cy="1030.8" r="3.3"/><circle cx="604.1" cy="1030.8" r="3.3"/><circle cx="624.5" cy="1030.8" r="3.3"/><circle cx="637.2" cy="1030.8" r="3.3"/><circle cx="653.8" cy="1030.8" r="3.3"/><circle cx="694.7" cy="1030.8" r="3.3"/><circle cx="827.9" cy="1030.8" r="3.3"/><circle cx="858.7" cy="1030.8" r="3.3"/><circle cx="900.2" cy="1164.2" r="3.3"/><circle cx="902.0" cy="1230.9" r="3.3"/><circle cx="918.7" cy="1253.2" r="3.3"/><circle cx="880.6" cy="1257.6" r="3.3"/><circle cx="887.8" cy="1288.8" r="3.3"/><circle cx="944.7" cy="1284.3" r="3.3"/><circle cx="894.1" cy="1346.6" r="3.3"/><circle cx="955.1" cy="1182.0" r="3.3"/><circle cx="1001.4" cy="1057.5" r="3.3"/><circle cx="1016.5" cy="1075.3" r="3.3"/><circle cx="1026.0" cy="1159.8" r="3.3"/><circle cx="1016.5" cy="1199.8" r="3.3"/><circle cx="1011.6" cy="1279.9" r="3.3"/><circle cx="1058.3" cy="1190.9" r="3.3"/></g>
<g fill="#000"><circle cx="115.2" cy="1030.8" r="3.3"/><circle cx="179.9" cy="1030.8" r="3.3"/><circle cx="218.0" cy="1039.7" r="3.3"/><circle cx="321.8" cy="1039.7" r="3.3"/><circle cx="342.1" cy="1053.0" r="3.3"/><circle cx="285.4" cy="1057.5" r="3.3"/><circle cx="120.0" cy="1061.9" r="3.3"/><circle cx="146.0" cy="1061.9" r="3.3"/><circle cx="233.2" cy="1066.4" r="3.3"/><circle cx="333.6" cy="1066.4" r="3.3"/><circle cx="248.6" cy="1070.8" r="3.3"/><circle cx="252.4" cy="1070.8" r="3.3"/><circle cx="332.4" cy="1075.3" r="3.3"/><circle cx="163.5" cy="1084.2" r="3.3"/><circle cx="241.7" cy="1084.2" r="3.3"/><circle cx="326.5" cy="1084.2" r="3.3"/><circle cx="215.5" cy="1088.6" r="3.3"/><circle cx="127.1" cy="1102.0" r="3.3"/><circle cx="271.0" cy="1102.0" r="3.3"/><circle cx="187.2" cy="1106.4" r="3.3"/><circle cx="176.5" cy="1115.3" r="3.3"/><circle cx="128.3" cy="1128.6" r="3.3"/><circle cx="150.5" cy="1133.1" r="3.3"/><circle cx="130.5" cy="1150.9" r="3.3"/><circle cx="109.3" cy="1159.8" r="3.3"/><circle cx="319.6" cy="1168.7" r="3.3"/><circle cx="152.8" cy="1173.1" r="3.3"/><circle cx="332.4" cy="1173.1" r="3.3"/><circle cx="158.7" cy="1186.5" r="3.3"/><circle cx="125.7" cy="1190.9" r="3.3"/><circle cx="156.4" cy="1195.4" r="3.3"/><circle cx="228.7" cy="1195.4" r="3.3"/><circle cx="118.6" cy="1199.8" r="3.3"/><circle cx="128.3" cy="1199.8" r="3.3"/><circle cx="201.2" cy="1204.3" r="3.3"/><circle cx="296.9" cy="1204.3" r="3.3"/><circle cx="242.6" cy="1208.7" r="3.3"/><circle cx="259.1" cy="1213.1" r="3.3"/><circle cx="242.6" cy="1217.6" r="3.3"/><circle cx="148.3" cy="1230.9" r="3.3"/><circle cx="188.0" cy="1235.4" r="3.3"/><circle cx="345.5" cy="1239.8" r="3.3"/><circle cx="171.6" cy="1253.2" r="3.3"/><circle cx="185.8" cy="1257.6" r="3.3"/><circle cx="293.5" cy="1257.6" r="3.3"/><circle cx="187.2" cy="1262.1" r="3.3"/><circle cx="232.1" cy="1262.1" r="3.3"/><circle cx="194.0" cy="1271.0" r="3.3"/><circle cx="146.0" cy="1275.4" r="3.3"/><circle cx="164.7" cy="1275.4" r="3.3"/><circle cx="255.8" cy="1279.9" r="3.3"/><circle cx="326.5" cy="1279.9" r="3.3"/><circle cx="312.5" cy="1284.3" r="3.3"/><circle cx="307.4" cy="1288.8" r="3.3"/><circle cx="312.5" cy="1293.2" r="3.3"/><circle cx="325.5" cy="1302.1" r="3.3"/><circle cx="169.4" cy="1306.5" r="3.3"/><circle cx="175.3" cy="1311.0" r="3.3"/><circle cx="345.5" cy="1315.4" r="3.3"/><circle cx="168.1" cy="1319.9" r="3.3"/><circle cx="220.2" cy="1324.3" r="3.3"/><circle cx="302.8" cy="1324.3" r="3.3"/><circle cx="320.6" cy="1324.3" r="3.3"/><circle cx="117.8" cy="1328.8" r="3.3"/><circle cx="187.2" cy="1328.8" r="3.3"/><circle cx="268.5" cy="1328.8" r="3.3"/><circle cx="301.5" cy="1333.2" r="3.3"/><circle cx="313.7" cy="1333.2" r="3.3"/><circle cx="208.4" cy="1342.1" r="3.3"/><circle cx="284.2" cy="1346.6" r="3.3"/><circle cx="319.6" cy="1346.6" r="3.3"/><circle cx="146.0" cy="1351.0" r="3.3"/><circle cx="233.2" cy="1355.5" r="3.3"/><circle cx="169.4" cy="1359.9" r="3.3"/><circle cx="338.2" cy="1364.4" r="3.3"/><circle cx="113.0" cy="1377.7" r="3.3"/><circle cx="276.9" cy="1377.7" r="3.3"/><circle cx="451.7" cy="1035.2" r="3.3"/><circle cx="465.7" cy="1070.8" r="3.3"/><circle cx="467.3" cy="1070.8" r="3.3"/><circle cx="480.8" cy="1079.7" r="3.3"/><circle cx="455.1" cy="1097.5" r="3.3"/><circle cx="451.7" cy="1119.8" r="3.3"/><circle cx="460.0" cy="1182.0" r="3.3"/><circle cx="457.8" cy="1257.6" r="3.3"/><circle cx="516.5" cy="1168.7" r="3.3"/><circle cx="538.6" cy="1199.8" r="3.3"/><circle cx="523.3" cy="1226.5" r="3.3"/><circle cx="527.8" cy="1306.5" r="3.3"/><circle cx="526.0" cy="1324.3" r="3.3"/><circle cx="527.3" cy="1342.1" r="3.3"/><circle cx="568.9" cy="1208.0" r="3.3"/><circle cx="758.6" cy="1177.5" r="3.3"/><circle cx="720.7" cy="1333.3" r="3.3"/><circle cx="791.8" cy="1346.4" r="3.3"/><circle cx="717.9" cy="1031.4" r="3.3"/><circle cx="888.9" cy="1248.7" r="3.3"/><circle cx="933.6" cy="1244.3" r="3.3"/><circle cx="976.6" cy="1079.7" r="3.3"/><circle cx="1035.7" cy="1297.6" r="3.3"/><circle cx="972.9" cy="1328.8" r="3.3"/></g>
<rect x="107.0" y="1380.4" width="241.6" height="6.2" fill="#87ceeb"/>
<rect x="433.1" y="1380.4" width="446.9" height="6.2" fill="#faa31b"/>
<path d="M106.9 1044.8 L107.4 1044.7 L107.9 1045.0 L108.4 1044.8 L108.9 1044.0 L109.4 1044.0 L109.9 1044.5 L110.4 1044.8 L110.9 1044.7 L111.4 1044.5 L111.9 1044.6 L112.4 1044.5 L112.9 1044.3 L113.4 1044.5 L114.0 1044.8 L114.5 1044.8 L115.0 1044.6 L115.5 1044.3 L116.0 1044.0 L116.5 1043.9 L117.0 1044.0 L117.5 1044.1 L118.0 1044.2 L118.5 1044.4 L119.0 1044.6 L119.5 1044.5 L120.0 1044.5 L120.5 1044.5 L121.0 1044.5 L121.5 1044.6 L122.0 1044.6 L122.5 1044.5 L123.0 1044.2 L123.5 1043.7 L124.0 1044.0 L124.5 1044.6 L125.0 1044.7 L125.5 1044.5 L126.0 1044.4 L126.5 1044.7 L127.0 1045.1 L127.5 1044.8 L128.0 1044.7 L128.5 1044.8 L129.0 1044.6 L129.5 1044.7 L130.0 1045.0 L130.5 1045.3 L131.0 1045.6 L131.5 1045.8 L132.0 1045.8 L132.5 1046.2 L133.0 1046.7 L133.5 1046.5 L134.0 1045.8 L134.5 1045.6 L135.0 1046.4 L135.5 1046.7 L136.0 1046.6 L136.5 1046.8 L137.0 1046.7 L137.5 1046.5 L138.0 1046.5 L138.5 1046.6 L139.0 1046.6 L139.5 1046.8 L140.0 1047.1 L140.5 1046.9 L141.0 1046.6 L141.5 1047.0 L142.0 1047.2 L142.5 1046.8 L143.0 1046.8 L143.5 1047.0 L144.0 1047.0 L144.5 1047.2 L145.0 1047.2 L145.5 1047.3 L146.0 1047.5 L146.5 1047.2 L147.0 1047.2 L147.5 1047.9 L148.0 1048.0 L148.5 1047.5 L149.0 1047.0 L149.5 1047.0 L150.0 1047.3 L150.5 1047.2 L151.0 1047.0 L151.5 1047.2 L152.0 1047.5 L152.5 1047.6 L153.0 1047.8 L153.5 1047.6 L154.0 1047.1 L154.5 1046.9 L155.0 1047.0 L155.5 1047.2 L156.0 1047.1 L156.5 1047.0 L157.0 1046.8 L157.5 1046.8 L158.0 1046.8 L158.5 1046.3 L159.0 1046.1 L159.5 1046.5 L160.0 1046.4 L160.5 1046.0 L161.0 1046.0 L161.5 1045.7 L162.0 1045.4 L162.5 1045.4 L163.0 1045.4 L163.5 1045.5 L164.0 1045.8 L164.5 1045.9 L165.0 1045.7 L165.5 1045.5 L166.0 1045.4 L166.5 1045.1 L167.0 1045.1 L167.5 1045.5 L168.0 1045.5 L168.5 1045.3 L169.0 1045.3 L169.5 1045.2 L170.0 1045.2 L170.5 1045.5 L171.0 1045.7 L171.5 1045.3 L172.0 1044.9 L172.5 1045.3 L173.0 1045.6 L173.5 1045.5 L174.0 1045.5 L174.5 1045.5 L175.0 1045.5 L175.5 1045.2 L176.0 1044.9 L176.5 1045.3 L177.0 1045.8 L177.5 1045.7 L178.0 1045.4 L178.5 1045.3 L179.1 1045.3 L179.6 1045.5 L180.1 1045.8 L180.6 1046.0 L181.1 1045.6 L181.6 1045.2 L182.1 1045.0 L182.6 1044.7 L183.1 1044.9 L183.6 1045.1 L184.1 1045.2 L184.6 1045.6 L185.1 1045.7 L185.6 1045.2 L186.1 1045.0 L186.6 1045.2 L187.1 1045.5 L187.6 1045.6 L188.1 1045.3 L188.6 1045.2 L189.1 1045.3 L189.6 1045.2 L190.1 1044.9 L190.6 1044.6 L191.1 1044.6 L191.6 1045.0 L192.1 1045.3 L192.6 1045.9 L193.1 1046.3 L193.6 1046.1 L194.1 1045.9 L194.6 1045.9 L195.1 1045.5 L195.6 1045.5 L196.1 1045.8 L196.6 1045.3 L197.1 1045.1 L197.6 1045.4 L198.1 1045.6 L198.6 1045.5 L199.1 1045.4 L199.6 1045.2 L200.1 1045.0 L200.6 1045.3 L201.1 1045.3 L201.6 1045.0 L202.1 1044.9 L202.6 1045.2 L203.1 1045.6 L203.6 1045.6 L204.1 1045.5 L204.6 1045.5 L205.1 1045.4 L205.6 1045.4 L206.1 1045.1 L206.6 1044.9 L207.1 1045.1 L207.6 1045.4 L208.1 1045.6 L208.6 1045.5 L209.1 1045.1 L209.6 1045.2 L210.1 1045.4 L210.6 1045.3 L211.1 1045.4 L211.6 1045.3 L212.1 1045.3 L212.6 1045.5 L213.1 1045.5 L213.6 1045.6 L214.1 1045.5 L214.6 1045.2 L215.1 1045.2 L215.6 1045.3 L216.1 1045.4 L216.6 1045.4 L217.1 1045.5 L217.6 1046.0 L218.1 1046.3 L218.6 1046.2 L219.1 1045.5 L219.6 1045.1 L220.1 1045.4 L220.6 1045.9 L221.1 1046.0 L221.6 1045.9 L222.1 1046.0 L222.6 1045.9 L223.1 1046.0 L223.6 1046.3 L224.1 1046.2 L224.6 1046.3 L225.1 1046.5 L225.6 1046.3 L226.1 1046.5 L226.6 1046.8 L227.1 1046.8 L227.6 1046.8 L228.1 1046.8 L228.6 1046.8 L229.1 1046.9 L229.6 1046.8 L230.1 1046.8 L230.6 1047.1 L231.1 1047.2 L231.6 1047.0 L232.1 1046.8 L232.6 1047.1 L233.1 1047.6 L233.6 1047.6 L234.1 1047.4 L234.6 1047.2 L235.1 1047.2 L235.6 1047.7 L236.1 1048.0 L236.6 1048.0 L237.1 1048.0 L237.6 1048.1 L238.1 1048.1 L238.6 1048.1 L239.1 1048.2 L239.6 1048.5 L240.1 1049.1 L240.6 1049.4 L241.1 1049.4 L241.6 1049.7 L242.1 1050.0 L242.6 1050.2 L243.1 1050.6 L243.6 1051.3 L244.2 1052.2 L244.7 1052.7 L245.2 1052.7 L245.7 1052.9 L246.2 1053.3 L246.7 1053.5 L247.2 1053.9 L247.7 1054.4 L248.2 1054.6 L248.7 1054.6 L249.2 1054.9 L249.7 1055.3 L250.2 1055.3 L250.7 1055.3 L251.2 1055.3 L251.7 1055.6 L252.2 1056.0 L252.7 1056.2 L253.2 1056.5 L253.7 1056.5 L254.2 1056.2 L254.7 1056.3 L255.2 1057.0 L255.7 1057.4 L256.2 1057.7 L256.7 1057.6 L257.2 1057.5 L257.7 1057.7 L258.2 1057.7 L258.7 1057.6 L259.2 1057.6 L259.7 1058.0 L260.2 1058.1 L260.7 1058.0 L261.2 1058.0 L261.7 1057.8 L262.2 1057.4 L262.7 1056.9 L263.2 1057.1 L263.7 1057.9 L264.2 1058.1 L264.7 1057.5 L265.2 1056.9 L265.7 1057.0 L266.2 1057.2 L266.7 1057.0 L267.2 1056.8 L267.7 1056.5 L268.2 1056.3 L268.7 1056.2 L269.2 1056.3 L269.7 1056.3 L270.2 1056.1 L270.7 1056.0 L271.2 1056.0 L271.7 1056.1 L272.2 1056.2 L272.7 1056.1 L273.2 1055.7 L273.7 1055.3 L274.2 1055.4 L274.7 1055.5 L275.2 1055.2 L275.7 1054.9 L276.2 1055.0 L276.7 1055.2 L277.2 1054.9 L277.7 1054.7 L278.2 1054.9 L278.7 1055.0 L279.2 1054.9 L279.7 1054.7 L280.2 1054.5 L280.7 1054.1 L281.2 1053.9 L281.7 1053.8 L282.2 1053.8 L282.7 1053.8 L283.2 1053.8 L283.7 1053.8 L284.2 1053.8 L284.7 1053.4 L285.2 1053.0 L285.7 1052.9 L286.2 1052.8 L286.7 1052.7 L287.2 1052.9 L287.7 1052.8 L288.2 1052.7 L288.7 1052.9 L289.2 1053.3 L289.7 1053.4 L290.2 1053.5 L290.7 1053.3 L291.2 1053.2 L291.7 1053.4 L292.2 1053.5 L292.7 1053.3 L293.2 1053.0 L293.7 1052.9 L294.2 1052.9 L294.7 1053.1 L295.2 1053.5 L295.7 1053.9 L296.2 1054.0 L296.7 1053.8 L297.2 1053.7 L297.7 1053.9 L298.2 1054.3 L298.7 1054.5 L299.2 1054.3 L299.7 1053.9 L300.2 1053.7 L300.7 1053.8 L301.2 1053.7 L301.7 1053.5 L302.2 1053.4 L302.7 1053.7 L303.2 1053.8 L303.7 1053.8 L304.2 1053.4 L304.7 1053.2 L305.2 1053.7 L305.7 1053.9 L306.2 1053.4 L306.7 1053.2 L307.2 1053.5 L307.7 1053.4 L308.2 1053.5 L308.7 1054.2 L309.3 1054.2 L309.8 1053.6 L310.3 1053.4 L310.8 1054.0 L311.3 1054.6 L311.8 1054.6 L312.3 1054.3 L312.8 1054.0 L313.3 1053.9 L313.8 1054.2 L314.3 1054.8 L314.8 1054.7 L315.3 1054.0 L315.8 1054.2 L316.3 1055.0 L316.8 1055.3 L317.3 1055.5 L317.8 1056.0 L318.3 1056.5 L318.8 1056.2 L319.3 1055.9 L319.8 1056.1 L320.3 1056.3 L320.8 1056.7 L321.3 1057.2 L321.8 1057.3 L322.3 1057.4 L322.8 1057.7 L323.3 1058.0 L323.8 1058.4 L324.3 1058.7 L324.8 1058.9 L325.3 1059.2 L325.8 1059.5 L326.3 1059.7 L326.8 1059.8 L327.3 1060.1 L327.8 1060.3 L328.3 1060.8 L328.8 1061.6 L329.3 1061.7 L329.8 1061.8 L330.3 1062.0 L330.8 1062.3 L331.3 1062.7 L331.8 1062.8 L332.3 1062.8 L332.8 1062.8 L333.3 1062.8 L333.8 1063.2 L334.3 1063.6 L334.8 1063.2 L335.3 1063.0 L335.8 1063.5 L336.3 1063.6 L336.8 1063.0 L337.3 1062.8 L337.8 1063.3 L338.3 1063.3 L338.8 1062.9 L339.3 1062.7 L339.8 1063.0 L340.3 1063.5 L340.8 1063.6 L341.3 1063.6 L341.8 1063.5 L342.3 1063.4 L342.8 1063.5 L343.3 1063.4 L343.8 1063.1 L344.3 1062.9 L344.8 1062.8 L345.3 1063.0 L345.8 1062.4 L346.3 1061.8 L346.8 1061.8 L347.3 1061.9 L347.8 1061.7 L348.3 1061.7 L348.8 1062.3 L349.3 1062.8 L350.0 1065.0 L350.5 1073.1 L351.0 1088.7 L351.5 1106.7 L352.0 1122.5 L352.5 1137.0 L353.0 1147.3 L353.5 1155.4 L354.0 1162.1 L354.5 1167.7 L355.0 1173.1 L355.5 1178.7 L356.0 1183.7 L356.5 1188.3 L357.0 1193.1 L357.5 1198.2 L358.0 1202.7 L358.5 1206.4 L359.0 1209.6 L359.5 1212.5 L360.0 1215.2 L360.5 1217.6 L361.0 1219.7 L361.6 1221.4 L362.1 1223.0 L362.6 1224.7 L363.1 1226.7 L363.6 1229.0 L364.1 1231.0 L364.6 1232.4 L365.1 1234.1 L365.6 1235.8 L366.1 1236.8 L366.6 1237.5 L367.1 1238.6 L367.6 1239.7 L368.1 1241.0 L368.6 1242.3 L369.1 1243.7 L369.6 1244.8 L370.1 1245.6 L370.6 1246.6 L371.1 1247.7 L371.6 1248.6 L372.1 1249.2 L372.6 1249.7 L373.1 1250.9 L373.6 1252.2 L374.1 1252.7 L374.6 1253.1 L375.1 1254.0 L375.6 1254.7 L376.1 1255.3 L376.6 1256.0 L377.1 1256.4 L377.6 1256.9 L378.1 1257.8 L378.6 1258.5 L379.1 1258.6 L379.6 1258.8 L380.1 1259.3 L380.7 1259.7 L381.2 1259.8 L381.7 1259.9 L382.2 1260.6 L382.7 1261.0 L383.2 1261.3 L383.7 1261.9 L384.2 1262.2 L384.7 1262.2 L385.2 1262.2 L385.7 1262.4 L386.2 1262.8 L386.7 1263.3 L387.2 1264.0 L387.7 1264.5 L388.2 1264.3 L388.7 1264.4 L389.2 1264.8 L389.7 1265.2 L390.2 1265.8 L390.7 1266.2 L391.2 1266.4 L391.7 1266.8 L392.2 1267.5 L392.7 1267.8 L393.2 1267.8 L393.7 1268.0 L394.2 1268.1 L394.7 1268.3 L395.2 1269.0 L395.7 1269.3 L396.2 1269.4 L396.7 1269.7 L397.2 1269.7 L397.7 1270.1 L398.2 1270.8 L398.7 1271.2 L399.3 1271.3 L399.8 1271.7 L400.3 1272.0 L400.8 1272.0 L401.3 1272.2 L401.8 1272.5 L402.3 1272.8 L402.8 1273.3 L403.3 1273.8 L403.8 1273.8 L404.3 1274.0 L404.8 1274.3 L405.3 1274.5 L405.8 1274.9 L406.3 1275.1 L406.8 1275.2 L407.3 1275.5 L407.8 1275.9 L408.3 1276.5 L408.8 1276.9 L409.3 1276.9 L409.8 1276.9 L410.3 1277.1 L410.8 1277.5 L411.3 1278.0 L411.8 1278.5 L412.3 1278.6 L412.8 1278.8 L413.3 1279.4 L413.8 1279.9 L414.3 1279.9 L414.8 1279.6 L415.3 1279.8 L415.8 1280.1 L416.3 1280.3 L416.8 1280.6 L417.3 1280.5 L417.8 1280.5 L418.4 1281.0 L418.9 1281.9 L419.4 1282.4 L419.9 1282.2 L420.4 1281.9 L420.9 1282.1 L421.4 1282.7 L421.9 1283.2 L422.4 1283.3 L422.9 1283.3 L423.4 1283.3 L423.9 1283.5 L424.4 1283.9 L424.9 1283.9 L425.4 1284.1 L425.9 1285.0 L426.4 1285.6 L426.9 1285.6 L427.4 1285.6 L427.9 1285.8 L428.4 1286.0 L428.9 1286.3 L429.4 1286.8 L429.9 1286.7 L430.4 1286.5 L430.9 1287.2 L431.4 1287.8 L433.1 1285.5 L433.6 1284.2 L434.1 1282.5 L434.6 1280.4 L435.1 1278.8 L435.6 1277.7 L436.1 1276.2 L436.6 1274.4 L437.1 1272.4 L437.6 1270.8 L438.1 1269.5 L438.6 1267.6 L439.1 1265.5 L439.6 1263.7 L440.1 1262.2 L440.6 1260.6 L441.2 1258.5 L441.7 1256.3 L442.2 1254.3 L442.7 1252.5 L443.2 1250.3 L443.7 1248.3 L444.2 1246.6 L444.7 1244.2 L445.2 1241.9 L445.7 1240.1 L446.2 1238.9 L446.7 1237.7 L447.2 1235.8 L447.7 1234.0 L448.2 1232.6 L448.7 1231.0 L449.2 1229.2 L449.7 1227.8 L450.2 1226.2 L450.7 1224.0 L451.2 1221.8 L451.7 1220.6 L452.2 1219.3 L452.7 1217.7 L453.2 1216.2 L453.7 1214.1 L454.2 1212.1 L454.7 1210.7 L455.2 1209.3 L455.7 1207.6 L456.2 1206.0 L456.7 1204.4 L457.2 1202.6 L457.7 1200.7 L458.2 1198.9 L458.7 1197.4 L459.2 1196.1 L459.7 1194.5 L460.2 1193.0 L460.7 1191.7 L461.2 1190.5 L461.7 1189.3 L462.2 1188.0 L462.7 1186.5 L463.2 1184.9 L463.7 1183.1 L464.3 1181.6 L464.8 1180.4 L465.3 1179.1 L465.8 1177.9 L466.3 1177.0 L466.8 1175.7 L467.3 1174.7 L467.8 1173.8 L468.3 1172.9 L468.8 1172.1 L469.3 1170.6 L469.8 1169.4 L470.3 1168.6 L470.8 1167.2 L471.3 1165.8 L471.8 1164.9 L472.3 1164.2 L472.8 1163.5 L473.3 1162.6 L473.8 1161.5 L474.3 1161.1 L474.8 1160.6 L475.3 1159.4 L475.8 1158.4 L476.3 1158.0 L476.8 1157.2 L477.3 1156.0 L477.8 1154.9 L478.3 1154.4 L478.8 1154.2 L479.3 1153.3 L479.8 1151.9 L480.3 1151.0 L480.8 1150.6 L481.3 1150.3 L481.8 1150.1 L482.3 1150.0 L482.8 1149.7 L483.3 1149.0 L483.8 1148.3 L484.3 1147.7 L484.8 1146.8 L485.3 1146.1 L485.8 1146.1 L486.3 1145.7 L486.9 1145.1 L487.4 1145.0 L487.9 1144.8 L488.4 1144.1 L488.9 1143.7 L489.4 1143.3 L489.9 1143.1 L490.4 1142.8 L490.9 1142.5 L491.4 1142.7 L491.9 1143.1 L492.4 1143.3 L492.9 1143.7 L496.2 1302.4 L496.7 1300.2 L497.2 1297.8 L497.7 1295.2 L498.2 1292.7 L498.7 1290.4 L499.2 1288.4 L499.7 1286.3 L500.2 1284.3 L500.7 1282.4 L501.2 1280.6 L501.7 1278.7 L502.2 1277.0 L502.7 1275.5 L503.2 1273.7 L503.7 1272.1 L504.2 1270.7 L504.7 1269.0 L505.2 1267.4 L505.7 1265.5 L506.2 1263.8 L506.7 1262.8 L507.2 1261.6 L507.7 1259.7 L508.2 1257.9 L508.7 1256.8 L509.2 1255.9 L509.7 1254.8 L510.2 1253.7 L510.7 1252.5 L511.2 1250.8 L511.7 1249.5 L512.2 1248.8 L512.7 1247.7 L513.2 1246.3 L513.7 1244.9 L514.2 1243.6 L514.7 1242.6 L515.2 1241.8 L515.7 1240.6 L516.2 1239.3 L516.7 1238.0 L517.2 1236.5 L517.7 1235.1 L518.2 1233.9 L518.7 1232.8 L519.2 1231.6 L519.7 1230.5 L520.2 1229.1 L520.7 1227.4 L521.2 1226.5 L521.7 1225.1 L522.2 1223.1 L522.7 1221.4 L523.2 1219.9 L523.7 1218.4 L524.2 1217.3 L524.7 1216.3 L525.2 1215.0 L525.7 1213.5 L526.2 1212.1 L526.7 1211.1 L527.2 1209.7 L527.7 1208.0 L528.2 1206.4 L528.7 1204.7 L529.2 1203.4 L529.7 1202.4 L530.2 1201.2 L530.7 1199.8 L531.2 1198.8 L531.7 1197.8 L532.2 1196.5 L532.7 1195.1 L533.2 1194.0 L533.7 1193.3 L534.2 1192.1 L534.7 1190.4 L535.2 1188.9 L535.7 1187.8 L536.2 1186.1 L536.7 1184.1 L537.2 1182.5 L537.7 1181.7 L538.2 1180.9 L538.7 1179.8 L539.2 1178.9 L539.7 1177.4 L540.2 1176.0 L540.7 1175.2 L541.2 1174.3 L541.7 1173.7 L542.2 1174.8 L542.7 1174.1 L543.2 1176.2 L543.7 1179.4 L544.2 1182.5 L544.7 1183.2 L545.2 1186.4 L545.7 1193.6 L546.2 1197.6 L546.7 1202.7 L547.2 1205.8 L547.7 1213.1 L548.2 1221.6 L548.7 1229.9 L549.2 1235.8 L549.7 1241.8 L550.2 1248.2 L550.7 1249.3 L551.2 1249.5 L551.7 1249.9 L552.2 1250.0 L552.7 1250.8 L553.2 1250.5 L553.7 1250.2 L554.2 1252.2 L554.7 1250.8 L555.2 1249.7 L555.7 1251.1 L556.2 1248.5 L556.7 1248.6 L557.2 1247.9 L557.7 1246.7 L558.2 1246.3 L558.7 1246.2 L559.2 1243.9 L559.7 1244.3 L560.2 1244.3 L560.7 1243.5 L561.2 1242.6 L561.7 1244.0 L562.2 1241.2 L562.7 1239.4 L563.2 1238.4 L563.7 1237.6 L564.2 1237.0 L564.7 1235.0 L565.2 1235.8 L565.7 1231.6 L566.2 1232.3 L566.7 1230.9 L567.2 1227.9 L567.7 1228.7 L568.2 1227.5 L568.7 1225.2 L569.2 1227.5 L569.7 1224.8 L570.2 1222.8 L570.7 1221.8 L571.2 1220.7 L571.7 1221.1 L572.2 1220.2 L572.7 1217.9 L573.2 1217.8 L573.7 1217.6 L574.2 1217.4 L574.7 1216.9 L575.2 1216.1 L575.7 1217.2 L576.2 1217.3 L576.7 1216.1 L577.2 1213.6 L577.7 1216.2 L578.2 1217.6 L578.7 1217.7 L579.2 1219.0 L579.7 1219.8 L580.2 1219.0 L580.7 1218.8 L581.2 1222.9 L581.7 1222.1 L582.2 1223.2 L582.7 1222.2 L583.2 1221.8 L583.7 1222.7 L584.2 1219.2 L584.7 1219.9 L585.2 1218.3 L585.7 1219.5 L586.2 1220.1 L586.7 1220.6 L587.2 1220.5 L587.7 1219.3 L588.2 1221.6 L588.7 1222.8 L589.2 1223.3 L589.7 1224.9 L590.2 1223.4 L590.7 1221.7 L591.2 1222.2 L591.7 1222.9 L592.2 1224.0 L592.7 1221.5 L593.2 1223.8 L593.7 1223.5 L594.2 1221.8 L594.7 1223.5 L595.2 1222.0 L595.7 1222.8 L596.2 1222.5 L596.7 1223.2 L597.2 1222.7 L597.7 1226.4 L598.2 1225.7 L598.7 1230.1 L599.2 1232.1 L599.7 1236.0 L600.2 1235.9 L600.7 1235.6 L601.2 1236.0 L601.7 1237.8 L602.2 1237.7 L602.7 1241.5 L603.2 1236.4 L603.7 1239.7 L604.2 1237.0 L604.7 1240.8 L605.2 1238.7 L605.7 1241.3 L606.2 1238.7 L606.7 1240.3 L607.2 1239.2 L607.7 1240.0 L608.2 1238.5 L608.7 1234.9 L609.2 1237.2 L609.7 1236.0 L610.2 1238.5 L610.7 1237.9 L611.2 1237.1 L611.7 1237.3 L612.2 1236.8 L612.7 1235.8 L613.2 1238.4 L613.7 1236.2 L614.2 1235.5 L614.7 1233.9 L615.2 1234.6 L615.7 1235.1 L616.2 1234.6 L616.7 1234.0 L617.2 1234.2 L617.7 1232.7 L618.2 1233.7 L618.7 1231.7 L619.2 1232.1 L619.7 1231.9 L620.2 1233.2 L620.7 1232.3 L621.2 1231.3 L621.7 1229.4 L622.2 1229.6 L622.7 1230.4 L623.2 1230.3 L623.7 1226.7 L624.2 1227.3 L624.7 1227.4 L625.2 1227.2 L625.7 1226.4 L626.2 1226.9 L626.7 1224.2 L627.2 1227.3 L627.7 1224.0 L628.2 1225.1 L628.7 1225.4 L629.2 1226.0 L629.7 1225.6 L630.2 1225.5 L630.7 1226.0 L631.2 1225.0 L631.7 1226.8 L632.2 1228.7 L632.7 1227.2 L633.2 1227.4 L633.7 1228.7 L634.2 1231.9 L634.7 1231.8 L635.2 1229.6 L635.7 1229.4 L636.2 1228.5 L636.7 1227.8 L637.2 1223.2 L637.7 1223.4 L638.2 1222.7 L638.7 1222.6 L639.2 1221.8 L639.7 1220.9 L640.2 1221.1 L640.7 1217.4 L641.2 1223.2 L641.7 1220.3 L642.2 1219.9 L642.7 1217.9 L643.2 1218.8 L643.7 1220.4 L644.2 1220.2 L644.7 1218.5 L645.2 1217.7 L645.7 1220.1 L646.2 1220.6 L646.7 1223.0 L647.2 1221.8 L647.7 1224.1 L648.2 1226.1 L648.7 1227.1 L649.2 1230.8 L649.7 1230.4 L650.2 1232.2 L650.7 1234.8 L651.2 1237.4 L651.7 1236.9 L652.2 1236.6 L652.7 1238.0 L653.2 1237.1 L653.7 1235.8 L654.2 1235.9 L654.7 1234.9 L655.2 1235.2 L655.7 1233.9 L656.2 1232.2 L656.7 1231.9 L657.2 1231.3 L657.7 1231.7 L658.2 1231.3 L658.7 1229.6 L659.2 1230.2 L659.7 1230.5 L660.2 1231.2 L660.7 1230.1 L661.2 1231.9 L661.7 1229.6 L662.2 1230.3 L662.7 1229.1 L663.2 1228.3 L663.7 1229.6 L664.2 1230.3 L664.7 1230.6 L665.2 1230.9 L665.7 1231.0 L666.2 1231.2 L666.7 1232.5 L667.2 1234.1 L667.7 1235.4 L668.2 1231.3 L668.7 1236.2 L669.2 1237.1 L669.7 1237.6 L670.2 1236.6 L670.7 1236.9 L671.2 1235.5 L671.7 1235.6 L672.2 1236.0 L672.7 1233.9 L673.2 1233.8 L673.7 1234.5 L674.2 1232.4 L674.7 1233.5 L675.2 1231.3 L675.7 1232.8 L676.2 1232.2 L676.7 1231.1 L677.2 1230.3 L677.7 1230.4 L678.2 1227.9 L678.7 1229.6 L679.2 1229.8 L679.7 1230.8 L680.2 1228.9 L680.7 1229.3 L681.2 1231.1 L681.7 1231.6 L682.2 1229.3 L682.7 1231.2 L683.2 1231.6 L683.7 1231.1 L684.3 1229.7 L684.8 1230.0 L685.3 1232.0 L685.8 1234.2 L686.3 1231.7 L686.8 1234.0 L687.3 1234.7 L687.8 1231.6 L688.3 1232.8 L688.8 1235.5 L689.3 1235.1 L689.8 1234.9 L690.3 1234.6 L690.8 1235.5 L691.3 1234.4 L691.8 1238.1 L692.3 1234.3 L692.8 1233.7 L693.3 1236.1 L693.8 1237.7 L694.3 1235.6 L694.8 1236.1 L695.3 1235.1 L695.8 1236.1 L696.3 1235.1 L696.8 1235.1 L697.3 1234.5 L697.8 1235.6 L698.3 1238.3 L698.8 1236.0 L699.3 1235.9 L699.8 1237.8 L700.3 1234.1 L700.8 1233.1 L701.3 1234.2 L701.8 1231.7 L702.3 1233.0 L702.8 1233.5 L703.3 1230.6 L703.8 1231.1 L704.3 1233.6 L704.8 1230.5 L705.3 1230.9 L705.8 1231.9 L706.3 1231.3 L706.8 1230.7 L707.3 1233.5 L707.8 1230.9 L708.3 1231.8 L708.8 1230.8 L709.3 1230.7 L709.8 1229.2 L710.3 1231.5 L710.8 1229.7 L711.3 1231.3 L711.8 1228.4 L712.3 1229.0 L712.8 1230.0 L713.3 1229.5 L713.8 1228.7 L714.3 1229.3 L714.8 1228.0 L715.3 1229.5 L715.8 1226.4 L716.3 1229.6 L716.8 1230.7 L717.3 1229.6 L717.8 1228.8 L718.3 1226.4 L718.8 1226.4 L719.3 1224.4 L719.8 1223.7 L720.3 1222.8 L720.8 1218.4 L721.3 1222.7 L721.8 1222.0 L722.3 1222.7 L722.8 1221.3 L723.3 1224.1 L723.8 1225.1 L724.3 1223.5 L724.8 1225.5 L725.3 1229.0 L725.8 1229.5 L726.3 1231.4 L726.8 1231.5 L727.3 1234.4 L727.8 1230.8 L728.3 1231.5 L728.8 1232.0 L729.3 1231.6 L729.8 1232.6 L730.3 1233.2 L730.8 1231.8 L731.3 1233.8 L731.8 1234.9 L732.3 1234.7 L732.8 1235.7 L733.3 1234.8 L733.8 1233.5 L734.3 1235.6 L734.8 1234.4 L735.3 1235.8 L735.8 1233.6 L736.3 1231.5 L736.8 1232.7 L737.3 1234.5 L737.8 1235.2 L738.3 1234.8 L738.8 1236.6 L739.3 1234.8 L739.8 1235.8 L740.3 1238.4 L740.8 1237.9 L741.3 1238.6 L741.8 1240.7 L742.3 1240.9 L742.8 1239.4 L743.3 1241.0 L743.8 1239.2 L744.3 1241.5 L744.8 1242.2 L745.3 1239.9 L745.8 1243.6 L746.3 1244.0 L746.8 1242.2 L747.3 1242.5 L747.8 1242.9 L748.3 1240.8 L748.8 1241.9 L749.3 1240.8 L749.8 1238.3 L750.3 1238.7 L750.8 1238.7 L751.3 1240.1 L751.8 1238.7 L752.3 1239.3 L752.8 1237.3 L753.3 1236.1 L753.8 1239.5 L754.3 1240.0 L754.8 1237.1 L755.3 1236.3 L755.8 1237.7 L756.3 1235.0 L756.8 1236.0 L757.3 1234.6 L757.8 1236.9 L758.3 1236.8 L758.8 1236.2 L759.3 1236.2 L759.8 1235.5 L760.3 1236.6 L760.8 1239.2 L761.3 1237.8 L761.8 1240.0 L762.3 1238.0 L762.8 1239.2 L763.3 1239.2 L763.8 1239.7 L764.3 1241.2 L764.8 1238.4 L765.3 1241.8 L765.8 1242.0 L766.3 1241.5 L766.8 1241.7 L767.3 1241.5 L767.8 1242.6 L768.3 1241.9 L768.8 1240.8 L769.3 1241.9 L769.8 1242.6 L770.3 1241.7 L770.8 1241.1 L771.3 1240.9 L771.8 1239.8 L772.3 1239.5 L772.8 1237.5 L773.3 1239.0 L773.8 1239.9 L774.3 1237.9 L774.8 1237.0 L775.3 1238.6 L775.8 1237.3 L776.3 1236.9 L776.8 1236.9 L777.3 1236.8 L777.8 1235.7 L778.3 1234.6 L778.8 1237.2 L779.3 1235.2 L779.8 1234.1 L780.3 1235.1 L780.8 1236.1 L781.3 1233.0 L781.8 1235.9 L782.3 1234.2 L782.8 1236.5 L783.3 1234.9 L783.8 1233.9 L784.3 1235.3 L784.8 1235.2 L785.3 1233.3 L785.8 1233.8 L786.3 1232.9 L786.8 1234.4 L787.3 1231.7 L787.8 1233.0 L788.3 1230.8 L788.8 1233.8 L789.3 1230.6 L789.8 1231.8 L790.3 1233.2 L790.8 1232.5 L791.3 1232.4 L791.8 1231.8 L792.3 1232.3 L792.8 1230.9 L793.3 1233.2 L793.8 1233.8 L794.3 1234.0 L794.8 1233.3 L795.3 1235.0 L795.8 1234.4 L796.3 1235.3 L796.8 1235.1 L797.3 1235.1 L797.8 1234.6 L798.3 1233.0 L798.8 1237.0 L799.3 1236.6 L799.8 1239.3 L800.3 1235.2 L800.8 1238.7 L801.3 1237.0 L801.8 1238.2 L802.3 1237.4 L802.8 1238.9 L803.3 1238.4 L803.8 1239.2 L804.3 1238.1 L804.8 1237.9 L805.3 1238.2 L805.8 1236.6 L806.3 1235.1 L806.8 1235.8 L807.3 1233.4 L807.8 1233.1 L808.3 1231.5 L808.8 1230.4 L809.3 1227.2 L809.8 1230.8 L810.3 1228.4 L810.8 1230.3 L811.3 1231.5 L811.8 1228.1 L812.3 1230.7 L812.8 1229.8 L813.3 1230.7 L813.8 1229.2 L814.3 1230.9 L814.8 1231.3 L815.3 1233.1 L815.8 1234.3 L816.3 1232.6 L816.8 1232.2 L817.3 1235.4 L817.8 1233.2 L818.3 1233.5 L818.8 1233.9 L819.3 1234.4 L819.8 1234.7 L820.3 1233.3 L820.8 1233.8 L821.3 1236.0 L821.8 1235.7 L822.3 1234.4 L822.8 1234.2 L823.3 1233.5 L823.8 1234.9 L824.3 1233.1 L824.8 1233.8 L825.3 1233.0 L825.8 1232.8 L826.3 1233.4 L826.8 1233.3 L827.3 1232.6 L827.8 1233.0 L828.3 1233.1 L828.8 1232.4 L829.3 1232.1 L829.8 1232.5 L830.3 1233.3 L830.8 1233.7 L831.3 1232.5 L831.8 1231.9 L832.3 1232.0 L832.8 1234.0 L833.3 1232.8 L833.8 1230.6 L834.3 1231.4 L834.8 1230.6 L835.3 1230.5 L835.8 1228.7 L836.3 1230.2 L836.8 1228.2 L837.3 1228.7 L837.8 1230.6 L838.3 1229.6 L838.8 1227.1 L839.3 1226.5 L839.8 1226.3 L840.3 1224.9 L840.8 1225.7 L841.3 1226.3 L841.8 1225.3 L842.3 1227.2 L842.8 1227.6 L843.3 1228.3 L843.8 1232.1 L844.3 1232.2 L844.8 1232.7 L845.3 1235.6 L845.8 1235.8 L846.3 1234.0 L846.8 1235.3 L847.3 1234.5 L847.8 1233.5 L848.3 1237.2 L848.8 1236.6 L849.3 1233.1 L849.8 1234.5 L850.3 1231.7 L850.8 1234.4 L851.3 1232.9 L851.8 1232.4 L852.3 1233.9 L852.8 1232.3 L853.3 1231.8 L853.8 1232.9 L854.3 1231.3 L854.8 1232.5 L855.3 1231.3 L855.8 1232.1 L856.3 1231.7 L856.8 1231.8 L857.3 1229.7 L857.8 1232.8 L858.3 1230.5 L858.8 1232.6 L859.3 1230.0 L859.8 1230.4 L860.3 1230.6 L860.8 1232.4 L861.3 1230.9 L861.8 1232.2 L862.3 1230.5 L862.8 1232.2 L863.3 1233.5 L863.8 1233.7 L864.3 1232.3 L864.8 1235.5 L865.3 1234.5 L865.8 1238.3 L866.3 1236.5 L866.8 1239.8 L867.3 1238.6 L867.8 1238.9 L868.3 1238.4 L868.8 1239.4 L869.3 1240.7 L869.8 1238.8 L870.3 1242.8 L870.8 1241.1 L871.3 1242.9 L871.8 1240.8 L872.3 1245.0 L872.8 1246.0 L873.3 1246.0 L873.8 1246.5 L874.3 1246.0 L874.8 1246.8 L875.3 1248.1 L875.8 1246.2 L876.3 1247.1 L876.8 1247.1 L877.3 1245.7 L877.8 1245.9 L878.3 1245.4 L878.8 1244.0 L879.3 1246.7 L879.8 1242.7 L880.3 1241.5 L880.8 1239.2 L881.3 1237.0 L881.8 1234.7 L882.3 1232.5 L882.8 1230.1 L883.3 1227.6 L883.8 1225.0 L884.3 1222.2 L884.8 1219.5 L885.3 1217.2 L885.8 1214.8 L886.3 1212.3 L886.8 1210.2 L887.3 1208.4 L887.8 1206.7 L888.3 1204.7 L888.8 1202.6 L889.3 1200.8 L889.8 1198.8 L890.3 1196.9 L890.8 1195.2 L891.3 1193.1 L891.8 1191.2 L892.3 1189.9 L892.8 1188.2 L893.3 1186.3 L893.8 1184.8 L894.3 1183.1 L894.8 1181.4 L895.3 1179.9 L895.8 1178.1 L896.3 1176.0 L896.8 1174.1 L897.3 1172.8 L897.8 1171.5 L898.3 1169.8 L898.8 1168.2 L899.3 1167.3 L899.8 1166.3 L900.3 1164.5 L900.8 1162.4 L901.3 1161.3 L901.8 1160.0 L902.3 1158.1 L902.8 1157.0 L903.3 1156.4 L903.8 1155.4 L904.3 1153.9 L904.8 1152.6 L905.3 1151.6 L905.8 1150.4 L906.3 1149.3 L906.8 1148.4 L907.3 1147.2 L907.8 1145.9 L908.3 1144.9 L908.8 1143.7 L909.3 1142.7 L909.8 1142.0 L910.3 1141.0 L910.8 1140.0 L911.3 1139.1 L911.8 1137.9 L912.3 1136.6 L912.8 1135.6 L913.3 1135.0 L913.8 1134.3 L914.3 1133.2 L914.8 1132.2 L915.3 1131.4 L915.8 1130.2 L916.3 1129.1 L916.8 1128.5 L917.3 1127.9 L917.8 1126.9 L918.3 1125.7 L918.8 1124.8 L919.3 1124.1 L919.8 1123.3 L920.3 1122.6 L920.8 1122.0 L921.3 1121.4 L921.8 1120.6 L922.3 1119.8 L922.8 1119.1 L923.3 1118.5 L923.8 1117.7 L924.4 1116.4 L924.9 1115.5 L925.4 1114.8 L925.9 1113.8 L926.4 1112.9 L926.9 1112.3 L927.4 1111.5 L927.9 1110.5 L928.4 1109.9 L928.9 1109.2 L929.4 1108.5 L929.9 1107.8 L930.4 1107.2 L930.9 1106.6 L931.4 1105.8 L931.9 1104.9 L932.4 1104.3 L932.9 1103.8 L933.4 1103.3 L933.9 1102.5 L934.4 1101.5 L934.9 1101.0 L935.4 1100.6 L935.9 1099.9 L936.4 1099.3 L936.9 1098.5 L937.4 1097.3 L937.9 1096.5 L938.4 1096.1 L938.9 1095.4 L939.4 1094.5 L939.9 1094.0 L940.4 1093.9 L940.9 1093.4 L941.4 1092.7 L941.9 1092.2 L942.4 1091.6 L942.9 1091.0 L943.4 1090.4 L943.9 1089.4 L944.4 1088.6 L944.9 1088.5 L945.4 1088.2 L945.9 1087.7 L946.4 1087.2 L946.9 1085.9 L947.4 1085.1 L947.9 1085.4 L948.4 1084.9 L948.9 1083.9 L949.4 1083.6 L949.9 1083.2 L950.4 1082.6 L950.9 1082.6 L951.4 1082.6 L951.9 1081.9 L952.4 1081.1 L952.9 1080.3 L953.4 1079.7 L953.9 1079.3 L954.4 1078.8 L954.9 1078.1 L955.4 1077.9 L955.9 1078.0 L956.4 1077.3 L956.9 1076.5 L957.4 1076.3 L957.9 1076.5 L958.4 1076.0 L958.9 1075.2 L959.4 1074.8 L959.9 1074.5 L960.4 1073.8 L960.9 1073.1 L961.4 1072.8 L961.9 1072.6 L962.4 1072.1 L962.9 1071.7 L963.4 1071.7 L963.9 1071.8 L964.4 1071.4 L964.9 1071.1 L965.4 1070.9 L965.9 1070.3 L966.4 1069.7 L966.9 1069.4 L967.4 1069.4 L967.9 1068.9 L968.4 1068.2 L968.9 1068.3 L969.4 1068.7 L969.9 1068.4 L970.4 1067.9 L970.9 1067.5 L971.4 1066.8 L971.9 1066.3 L972.4 1066.1 L972.9 1066.0 L973.4 1066.0 L973.9 1066.1 L974.4 1066.1 L974.9 1066.1 L975.4 1065.9 L975.9 1065.1 L976.4 1064.6 L976.9 1064.4 L977.4 1063.9 L977.9 1063.7 L978.4 1063.6 L978.9 1063.2 L979.4 1063.3 L979.9 1063.1 L980.4 1062.2 L980.9 1061.6 L981.4 1061.7 L981.9 1061.6 L982.4 1061.5 L982.9 1061.3 L983.4 1061.3 L983.9 1061.3 L984.4 1060.9 L984.9 1060.3 L985.4 1059.5 L985.9 1058.9 L986.4 1058.7 L986.9 1059.0 L987.4 1059.0 L987.9 1058.7 L988.4 1058.3 L988.9 1057.8 L989.4 1057.4 L989.9 1057.5 L990.4 1057.5 L990.9 1057.3 L991.4 1057.2 L991.9 1057.1 L992.4 1057.0 L992.9 1057.0 L993.4 1056.9 L993.9 1056.7 L994.4 1056.0 L994.9 1055.6 L995.4 1055.5 L995.9 1055.4 L996.4 1055.5 L996.9 1055.3 L997.4 1055.1 L997.9 1054.9 L998.4 1054.8 L998.9 1054.5 L999.4 1054.0 L999.9 1054.0 L1000.4 1054.0 L1000.9 1053.6 L1001.4 1053.5 L1001.9 1053.5 L1002.4 1053.1 L1002.9 1052.4 L1003.4 1052.5 L1003.9 1052.7 L1004.4 1052.7 L1004.9 1052.8 L1005.4 1052.8 L1005.9 1052.3 L1006.4 1052.0 L1006.9 1051.6 L1007.4 1051.4 L1007.9 1051.4 L1008.4 1051.3 L1008.9 1051.0 L1009.4 1050.9 L1009.9 1051.1 L1010.4 1050.8 L1010.9 1050.1 L1011.4 1049.8 L1011.9 1050.1 L1012.4 1050.3 L1012.9 1050.4 L1013.4 1050.6 L1013.9 1050.8 L1014.4 1050.6 L1014.9 1050.2 L1015.4 1050.0 L1015.9 1050.2 L1016.4 1050.2 L1016.9 1050.0 L1017.4 1049.9 L1017.9 1050.0 L1018.4 1050.0 L1018.9 1049.3 L1019.4 1049.0 L1019.9 1049.5 L1020.4 1049.7 L1020.9 1049.3 L1021.4 1049.5 L1021.9 1049.8 L1022.4 1049.3 L1022.9 1048.7 L1023.4 1048.9 L1023.9 1049.0 L1024.4 1048.9 L1024.9 1048.8 L1025.4 1048.9 L1025.9 1048.8 L1026.4 1048.8 L1026.9 1048.7 L1027.4 1048.5 L1027.9 1048.4 L1028.4 1048.5 L1028.9 1048.6 L1029.4 1048.4 L1029.9 1048.1 L1030.4 1047.9 L1030.9 1047.9 L1031.4 1048.2 L1031.9 1048.5 L1032.4 1048.5 L1032.9 1048.1 L1033.4 1047.6 L1033.9 1047.6 L1034.4 1047.7 L1034.9 1047.8 L1035.4 1048.0 L1035.9 1048.0 L1036.4 1047.9 L1036.9 1047.9 L1037.4 1047.8 L1037.9 1047.7 L1038.4 1047.6 L1038.9 1047.7 L1039.4 1047.8 L1039.9 1047.6 L1040.4 1047.3 L1040.9 1047.2 L1041.4 1047.2 L1041.9 1047.3 L1042.4 1046.9 L1042.9 1046.5 L1043.4 1046.7 L1043.9 1046.9 L1044.4 1046.9 L1044.9 1047.0 L1045.4 1046.9 L1045.9 1046.3 L1046.4 1046.2 L1046.9 1046.3 L1047.4 1046.2 L1047.9 1046.2 L1048.4 1045.9 L1048.9 1045.7 L1049.4 1046.1 L1049.9 1046.4 L1050.4 1045.9 L1050.9 1045.5 L1051.4 1045.6 L1051.9 1045.4 L1052.4 1045.4 L1052.9 1045.4 L1053.4 1045.0 L1053.9 1044.7 L1054.4 1044.9 L1054.9 1044.9 L1055.4 1044.6 L1055.9 1044.7 L1056.4 1044.8 L1056.9 1044.7 L1057.4 1044.4 L1057.9 1044.3 L1058.4 1044.4 L1058.9 1044.3 L1059.4 1044.0 L1059.9 1043.6 L1060.4 1043.6 L1060.9 1043.7 L1061.4 1043.8 L1061.9 1044.1 L1062.4 1044.0 L1062.9 1043.7 L1063.4 1043.4 L1063.9 1043.2 L1064.4 1043.1 L1064.9 1042.8 L1065.4 1042.6 L1065.9 1042.5 L1066.4 1042.5 L1066.9 1042.7 L1067.4 1042.9 L1067.9 1042.6 L1068.4 1042.2 L1068.9 1042.1 L1069.4 1042.0 L1069.9 1042.0 L1070.4 1042.3 L1070.9 1042.2 L1071.4 1041.5 L1071.9 1041.1 L1072.4 1041.1 L1072.9 1041.1" fill="none" stroke="#e8202a" stroke-width="4.6" stroke-linejoin="round"/>
<path d="M106.9 1284.1 L107.4 1284.1 L107.9 1284.1 L108.4 1284.1 L108.9 1284.1 L109.4 1284.1 L109.9 1284.0 L110.4 1284.0 L110.9 1284.0 L111.4 1284.0 L111.9 1284.0 L112.4 1284.0 L112.9 1284.0 L113.4 1284.0 L113.9 1283.9 L114.4 1283.9 L114.9 1283.9 L115.4 1283.9 L115.9 1283.9 L116.4 1283.9 L116.9 1283.8 L117.4 1283.9 L117.9 1283.8 L118.4 1283.8 L119.0 1283.8 L119.5 1283.8 L120.0 1283.8 L120.5 1283.8 L121.0 1283.8 L121.5 1283.8 L122.0 1283.7 L122.5 1283.7 L123.0 1283.7 L123.5 1283.7 L124.0 1283.7 L124.5 1283.7 L125.0 1283.7 L125.5 1283.7 L126.0 1283.6 L126.5 1283.6 L127.0 1283.7 L127.5 1283.6 L128.0 1283.6 L128.5 1283.6 L129.0 1283.6 L129.5 1283.6 L130.0 1283.6 L130.5 1283.5 L131.0 1283.5 L131.5 1283.5 L132.0 1283.5 L132.5 1283.5 L133.0 1283.5 L133.5 1283.5 L134.0 1283.5 L134.5 1283.5 L135.0 1283.5 L135.5 1283.5 L136.0 1283.4 L136.5 1283.4 L137.0 1283.4 L137.5 1283.4 L138.0 1283.4 L138.5 1283.4 L139.0 1283.4 L139.5 1283.4 L140.0 1283.4 L140.5 1283.4 L141.0 1283.3 L141.5 1283.3 L142.0 1283.3 L142.5 1283.3 L143.0 1283.2 L143.5 1283.3 L144.0 1283.3 L144.5 1283.2 L145.0 1283.2 L145.5 1283.2 L146.0 1283.2 L146.5 1283.2 L147.0 1283.2 L147.5 1283.2 L148.0 1283.2 L148.5 1283.1 L149.0 1283.1 L149.5 1283.1 L150.0 1283.1 L150.5 1283.2 L151.0 1283.1 L151.5 1283.1 L152.0 1283.1 L152.5 1283.1 L153.0 1283.1 L153.5 1283.0 L154.0 1283.0 L154.5 1283.0 L155.0 1283.0 L155.5 1283.0 L156.0 1283.0 L156.5 1283.0 L157.0 1283.0 L157.5 1282.9 L158.0 1283.0 L158.5 1282.9 L159.0 1282.9 L159.5 1282.9 L160.0 1282.9 L160.5 1282.9 L161.0 1282.9 L161.5 1282.9 L162.0 1282.9 L162.5 1282.9 L163.0 1282.9 L163.5 1282.9 L164.0 1282.8 L164.5 1282.8 L165.0 1282.8 L165.5 1282.8 L166.0 1282.8 L166.5 1282.8 L167.0 1282.8 L167.5 1282.8 L168.0 1282.8 L168.5 1282.8 L169.0 1282.8 L169.5 1282.7 L170.0 1282.8 L170.5 1282.8 L171.0 1282.7 L171.5 1282.7 L172.0 1282.7 L172.5 1282.7 L173.0 1282.7 L173.5 1282.7 L174.0 1282.7 L174.5 1282.7 L175.0 1282.7 L175.5 1282.7 L176.0 1282.6 L176.5 1282.6 L177.0 1282.6 L177.5 1282.6 L178.0 1282.6 L178.5 1282.6 L179.0 1282.6 L179.5 1282.6 L180.0 1282.6 L180.5 1282.6 L181.0 1282.6 L181.5 1282.6 L182.0 1282.6 L182.5 1282.6 L183.0 1282.5 L183.5 1282.5 L184.0 1282.5 L184.5 1282.5 L185.0 1282.5 L185.5 1282.5 L186.0 1282.5 L186.5 1282.5 L187.0 1282.5 L187.5 1282.5 L188.0 1282.5 L188.5 1282.5 L189.0 1282.5 L189.5 1282.4 L190.0 1282.4 L190.5 1282.4 L191.0 1282.4 L191.5 1282.4 L192.0 1282.4 L192.5 1282.4 L193.0 1282.4 L193.5 1282.4 L194.0 1282.4 L194.5 1282.4 L195.0 1282.3 L195.5 1282.3 L196.0 1282.3 L196.5 1282.3 L197.0 1282.3 L197.5 1282.3 L198.0 1282.3 L198.5 1282.3 L199.0 1282.2 L199.5 1282.2 L200.0 1282.2 L200.5 1282.2 L201.0 1282.2 L201.5 1282.2 L202.0 1282.2 L202.5 1282.2 L203.0 1282.2 L203.5 1282.1 L204.0 1282.1 L204.5 1282.1 L205.0 1282.1 L205.5 1282.1 L206.0 1282.1 L206.5 1282.1 L207.0 1282.1 L207.5 1282.0 L208.0 1282.0 L208.5 1282.0 L209.0 1282.0 L209.5 1282.0 L210.0 1281.9 L210.5 1281.9 L211.0 1281.9 L211.5 1281.9 L212.0 1281.9 L212.5 1281.9 L213.0 1281.9 L213.5 1281.9 L214.0 1281.8 L214.5 1281.8 L215.0 1281.8 L215.5 1281.8 L216.0 1281.8 L216.5 1281.8 L217.0 1281.7 L217.5 1281.7 L218.0 1281.7 L218.5 1281.7 L219.0 1281.6 L219.5 1281.6 L220.0 1281.6 L220.5 1281.6 L221.0 1281.5 L221.5 1281.5 L222.0 1281.5 L222.5 1281.5 L223.0 1281.5 L223.5 1281.4 L224.0 1281.3 L224.5 1281.3 L225.0 1281.3 L225.5 1281.3 L226.0 1281.2 L226.5 1281.2 L227.0 1281.1 L227.5 1281.1 L228.0 1281.1 L228.5 1281.0 L229.0 1281.0 L229.5 1281.0 L230.0 1280.9 L230.5 1280.8 L231.0 1280.8 L231.5 1280.8 L232.0 1280.7 L232.5 1280.7 L233.0 1280.7 L233.5 1280.6 L234.0 1280.5 L234.6 1280.5 L235.1 1280.5 L235.6 1280.4 L236.1 1280.4 L236.6 1280.3 L237.1 1280.2 L237.6 1280.2 L238.1 1280.1 L238.6 1280.0 L239.1 1279.9 L239.6 1279.8 L240.1 1279.7 L240.6 1279.6 L241.1 1279.5 L241.6 1279.4 L242.1 1279.2 L242.6 1279.1 L243.1 1279.0 L243.6 1278.9 L244.1 1278.7 L244.6 1278.6 L245.1 1278.5 L245.6 1278.3 L246.1 1278.1 L246.6 1278.0 L247.1 1277.8 L247.6 1277.7 L248.1 1277.5 L248.6 1277.4 L249.1 1277.3 L249.6 1277.1 L250.1 1277.0 L250.6 1276.9 L251.1 1276.7 L251.6 1276.6 L252.1 1276.5 L252.6 1276.3 L253.1 1276.3 L253.6 1276.2 L254.1 1276.1 L254.6 1276.0 L255.1 1275.9 L255.6 1275.9 L256.1 1275.8 L256.6 1275.8 L257.1 1275.8 L257.6 1275.7 L258.1 1275.7 L258.6 1275.6 L259.1 1275.6 L259.6 1275.6 L260.1 1275.6 L260.6 1275.6 L261.1 1275.6 L261.6 1275.5 L262.1 1275.5 L262.6 1275.5 L263.1 1275.5 L263.6 1275.5 L264.1 1275.5 L264.6 1275.4 L265.1 1275.4 L265.6 1275.4 L266.1 1275.4 L266.6 1275.4 L267.1 1275.4 L267.6 1275.4 L268.1 1275.4 L268.6 1275.4 L269.1 1275.4 L269.6 1275.4 L270.1 1275.4 L270.6 1275.3 L271.1 1275.3 L271.6 1275.3 L272.1 1275.3 L272.6 1275.3 L273.1 1275.3 L273.6 1275.3 L274.1 1275.3 L274.6 1275.3 L275.1 1275.3 L275.6 1275.2 L276.1 1275.2 L276.6 1275.2 L277.1 1275.2 L277.6 1275.2 L278.1 1275.2 L278.6 1275.2 L279.1 1275.2 L279.6 1275.1 L280.1 1275.1 L280.6 1275.1 L281.1 1275.1 L281.6 1275.1 L282.1 1275.1 L282.6 1275.0 L283.1 1275.0 L283.6 1275.0 L284.1 1275.0 L284.6 1275.0 L285.1 1275.0 L285.6 1274.9 L286.1 1274.9 L286.6 1274.9 L287.1 1274.9 L287.6 1274.9 L288.1 1274.9 L288.6 1274.9 L289.1 1274.9 L289.6 1274.8 L290.1 1274.8 L290.6 1274.8 L291.1 1274.8 L291.6 1274.8 L292.1 1274.8 L292.6 1274.7 L293.1 1274.7 L293.6 1274.7 L294.1 1274.7 L294.6 1274.7 L295.1 1274.7 L295.6 1274.6 L296.1 1274.6 L296.6 1274.6 L297.1 1274.6 L297.6 1274.6 L298.1 1274.6 L298.6 1274.6 L299.1 1274.5 L299.6 1274.5 L300.1 1274.5 L300.6 1274.4 L301.1 1274.4 L301.6 1274.4 L302.1 1274.4 L302.6 1274.4 L303.1 1274.3 L303.6 1274.3 L304.1 1274.3 L304.6 1274.3 L305.1 1274.2 L305.6 1274.2 L306.1 1274.3 L306.6 1274.2 L307.1 1274.2 L307.6 1274.1 L308.1 1274.1 L308.6 1274.1 L309.1 1274.1 L309.6 1274.1 L310.1 1274.0 L310.6 1274.0 L311.1 1273.9 L311.6 1273.9 L312.1 1273.9 L312.6 1273.9 L313.1 1273.8 L313.6 1273.8 L314.1 1273.7 L314.6 1273.7 L315.1 1273.6 L315.6 1273.5 L316.1 1273.5 L316.6 1273.4 L317.1 1273.3 L317.6 1273.3 L318.1 1273.2 L318.6 1273.1 L319.1 1273.0 L319.6 1273.0 L320.1 1272.9 L320.6 1272.8 L321.1 1272.7 L321.6 1272.6 L322.1 1272.5 L322.6 1272.4 L323.1 1272.4 L323.6 1272.3 L324.1 1272.3 L324.6 1272.2 L325.1 1272.0 L325.6 1271.9 L326.1 1271.8 L326.6 1271.8 L327.1 1271.7 L327.6 1271.6 L328.1 1271.5 L328.6 1271.5 L329.1 1271.4 L329.6 1271.3 L330.1 1271.2 L330.6 1271.1 L331.1 1271.1 L331.6 1271.0 L332.1 1271.0 L332.6 1270.9 L333.1 1270.9 L333.6 1270.8 L334.1 1270.7 L334.6 1270.7 L335.1 1270.6 L335.6 1270.6 L336.1 1270.5 L336.6 1270.5 L337.1 1270.4 L337.6 1270.4 L338.1 1270.3 L338.6 1270.3 L339.1 1270.2 L339.6 1270.2 L340.1 1270.1 L340.6 1270.1 L341.1 1270.0 L341.6 1270.0 L342.1 1270.0 L342.6 1269.9 L343.1 1269.9 L343.6 1269.9 L344.1 1269.9 L344.6 1269.9 L345.1 1269.9 L345.6 1269.9 L346.1 1269.9 L346.6 1269.9 L347.1 1270.0 L347.6 1270.0 L348.1 1270.1 L348.6 1270.1 L349.1 1270.2 L349.7 1270.2 L350.3 1269.4 L350.8 1262.3 L351.3 1256.4 L351.8 1251.0 L352.3 1246.3 L352.8 1242.1 L353.3 1238.3 L353.8 1234.8 L354.3 1231.6 L354.8 1228.6 L355.3 1225.7 L355.8 1222.8 L356.3 1219.9 L356.8 1217.2 L357.3 1214.6 L357.8 1212.3 L358.3 1210.3 L358.8 1208.6 L359.3 1207.1 L359.8 1205.8 L360.3 1204.5 L360.8 1203.4 L361.3 1202.3 L361.8 1201.3 L362.3 1200.3 L362.8 1199.2 L363.3 1198.2 L363.8 1197.2 L364.3 1196.1 L364.8 1195.1 L365.3 1194.1 L365.8 1193.1 L366.3 1192.1 L366.8 1191.1 L367.3 1190.1 L367.8 1189.1 L368.3 1188.2 L368.8 1187.1 L369.3 1186.1 L369.9 1185.1 L370.4 1184.1 L370.9 1183.1 L371.4 1182.0 L371.9 1181.0 L372.4 1180.0 L372.9 1179.0 L373.4 1178.1 L373.9 1177.2 L374.4 1176.2 L374.9 1175.3 L375.4 1174.5 L375.9 1173.6 L376.4 1172.8 L376.9 1172.0 L377.4 1171.1 L377.9 1170.3 L378.4 1169.5 L378.9 1168.7 L379.4 1167.9 L379.9 1167.1 L380.4 1166.4 L380.9 1165.7 L381.4 1165.0 L381.9 1164.2 L382.4 1163.5 L382.9 1162.8 L383.4 1162.2 L383.9 1161.5 L384.4 1160.9 L384.9 1160.3 L385.4 1159.6 L385.9 1159.0 L386.4 1158.4 L386.9 1157.8 L387.4 1157.2 L387.9 1156.7 L388.4 1156.1 L388.9 1155.6 L389.4 1155.0 L389.9 1154.4 L390.4 1153.9 L390.9 1153.3 L391.4 1152.7 L391.9 1152.2 L392.4 1151.7 L392.9 1151.2 L393.4 1150.7 L393.9 1150.2 L394.4 1149.7 L394.9 1149.2 L395.4 1148.7 L395.9 1148.2 L396.4 1147.7 L396.9 1147.2 L397.4 1146.7 L397.9 1146.2 L398.4 1145.8 L398.9 1145.3 L399.4 1144.9 L399.9 1144.4 L400.4 1143.9 L400.9 1143.4 L401.4 1142.9 L401.9 1142.5 L402.4 1142.1 L402.9 1141.6 L403.4 1141.1 L403.9 1140.6 L404.4 1140.2 L404.9 1139.7 L405.4 1139.3 L405.9 1138.8 L406.4 1138.4 L406.9 1138.0 L407.4 1137.6 L407.9 1137.2 L408.4 1136.8 L408.9 1136.5 L409.4 1136.1 L409.9 1135.7 L410.4 1135.3 L410.9 1135.0 L411.4 1134.6 L411.9 1134.3 L412.4 1133.9 L412.9 1133.6 L413.4 1133.2 L413.9 1132.9 L414.4 1132.6 L414.9 1132.3 L415.4 1131.9 L415.9 1131.6 L416.4 1131.3 L416.9 1131.0 L417.4 1130.7 L417.9 1130.3 L418.4 1130.0 L418.9 1129.7 L419.4 1129.4 L419.9 1129.1 L420.4 1128.8 L420.9 1128.5 L421.4 1128.2 L421.9 1127.9 L422.4 1127.6 L422.9 1127.3 L423.4 1127.1 L423.9 1126.8 L424.4 1126.5 L424.9 1126.2 L425.4 1125.9 L425.9 1125.6 L426.4 1125.4 L426.9 1125.2 L427.4 1124.9 L427.9 1124.6 L428.4 1124.4 L428.9 1124.2 L429.4 1123.9 L429.9 1123.7 L430.4 1123.4 L430.9 1123.2 L431.4 1122.9 L431.4 1122.9 L431.9 1123.0 L432.4 1123.1 L432.9 1123.1 L433.4 1123.2 L433.9 1123.2 L434.4 1123.3 L434.9 1123.3 L435.4 1123.4 L435.9 1123.5 L436.4 1123.6 L436.9 1123.7 L437.5 1123.8 L438.0 1123.9 L438.5 1124.0 L439.0 1124.1 L439.5 1124.2 L440.0 1124.3 L440.5 1124.4 L441.0 1124.5 L441.5 1124.6 L442.0 1124.7 L442.5 1124.8 L443.0 1125.0 L443.5 1125.1 L444.0 1125.3 L444.5 1125.5 L445.0 1125.6 L445.5 1125.8 L446.0 1126.0 L446.5 1126.2 L447.0 1126.4 L447.5 1126.6 L448.0 1126.8 L448.5 1127.0 L449.0 1127.2 L449.5 1127.4 L450.0 1127.6 L450.5 1127.8 L451.0 1128.1 L451.5 1128.3 L452.0 1128.6 L452.5 1128.8 L453.0 1129.0 L453.5 1129.2 L454.0 1129.5 L454.5 1129.7 L455.0 1129.9 L455.5 1130.1 L456.0 1130.4 L456.5 1130.6 L457.0 1130.8 L457.5 1131.1 L458.0 1131.3 L458.6 1131.5 L459.1 1131.6 L459.6 1131.8 L460.1 1132.0 L460.6 1132.2 L461.1 1132.4 L461.6 1132.6 L462.1 1132.9 L462.6 1133.0 L463.1 1133.2 L463.6 1133.4 L464.1 1133.7 L464.6 1133.9 L465.1 1134.1 L465.6 1134.3 L466.1 1134.5 L466.6 1134.7 L467.1 1134.9 L467.6 1135.1 L468.1 1135.3 L468.6 1135.5 L469.1 1135.6 L469.6 1135.9 L470.1 1136.0 L470.6 1136.2 L471.1 1136.5 L471.6 1136.7 L472.1 1136.9 L472.6 1137.1 L473.1 1137.3 L473.6 1137.5 L474.1 1137.7 L474.6 1137.9 L475.1 1138.1 L475.6 1138.3 L476.1 1138.5 L476.6 1138.6 L477.1 1138.8 L477.6 1139.0 L478.1 1139.3 L478.6 1139.5 L479.1 1139.7 L479.7 1139.9 L480.2 1140.1 L480.7 1140.3 L481.2 1140.5 L481.7 1140.7 L482.2 1140.9 L482.7 1141.1 L483.2 1141.3 L483.7 1141.5 L484.2 1141.7 L484.7 1141.9 L485.2 1142.0 L485.7 1142.2 L486.2 1142.4 L486.7 1142.6 L487.2 1142.8 L487.7 1142.9 L488.2 1143.1 L488.7 1143.2 L489.2 1143.3 L489.7 1143.4 L490.2 1143.6 L490.7 1143.7 L491.2 1143.8 L491.7 1144.0 L492.2 1144.1 L492.7 1144.2 L493.2 1144.3 L494.6 1123.0 L495.1 1123.1 L495.6 1123.1 L496.1 1123.2 L496.6 1123.3 L497.1 1123.4 L497.6 1123.5 L498.1 1123.6 L498.6 1123.7 L499.1 1123.8 L499.6 1124.0 L500.1 1124.0 L500.6 1124.1 L501.1 1124.2 L501.6 1124.4 L502.1 1124.5 L502.6 1124.6 L503.1 1124.7 L503.6 1124.8 L504.1 1125.0 L504.6 1125.1 L505.1 1125.2 L505.6 1125.3 L506.1 1125.5 L506.6 1125.6 L507.1 1125.7 L507.6 1125.9 L508.1 1126.0 L508.6 1126.1 L509.1 1126.3 L509.6 1126.4 L510.1 1126.6 L510.6 1126.7 L511.1 1126.9 L511.6 1127.0 L512.1 1127.2 L512.6 1127.4 L513.1 1127.5 L513.6 1127.7 L514.1 1127.8 L514.6 1128.0 L515.1 1128.2 L515.6 1128.3 L516.1 1128.5 L516.6 1128.7 L517.1 1128.9 L517.6 1129.1 L518.1 1129.3 L518.6 1129.5 L519.1 1129.7 L519.6 1129.8 L520.1 1130.0 L520.6 1130.2 L521.1 1130.4 L521.6 1130.6 L522.1 1130.8 L522.6 1130.9 L523.1 1131.1 L523.6 1131.3 L524.1 1131.5 L524.6 1131.7 L525.1 1131.9 L525.6 1132.0 L526.1 1132.2 L526.6 1132.4 L527.1 1132.6 L527.6 1132.7 L528.1 1132.9 L528.6 1133.2 L529.1 1133.4 L529.6 1133.6 L530.1 1133.8 L530.6 1134.1 L531.1 1134.3 L531.6 1134.5 L532.1 1134.7 L532.6 1134.9 L533.1 1135.1 L533.6 1135.3 L534.1 1135.5 L534.6 1135.8 L535.1 1136.0 L535.6 1136.1 L536.1 1136.3 L536.6 1136.4 L537.1 1136.6 L537.6 1136.8 L538.1 1136.9 L538.6 1137.0 L539.1 1137.1 L539.6 1137.2 L540.1 1137.3 L540.6 1137.3 L541.1 1137.3 L541.6 1137.3 L542.1 1138.0 L542.6 1136.3 L543.1 1137.7 L543.6 1136.6 L544.1 1136.1 L544.6 1136.1 L545.1 1135.9 L545.6 1135.2 L546.1 1134.5 L546.6 1134.0 L547.1 1133.5 L547.6 1131.9 L548.1 1131.1 L548.6 1129.2 L549.1 1128.7 L549.6 1128.4 L550.1 1128.3 L550.6 1128.2 L551.1 1128.6 L551.6 1127.9 L552.1 1127.4 L552.6 1127.9 L553.1 1126.8 L553.6 1126.5 L554.1 1127.5 L554.6 1127.3 L555.1 1127.3 L555.6 1127.7 L556.1 1127.1 L556.6 1127.2 L557.1 1127.5 L557.6 1127.6 L558.1 1127.8 L558.6 1127.4 L559.1 1127.5 L559.6 1126.2 L560.1 1128.0 L560.6 1126.7 L561.1 1127.5 L561.6 1128.8 L562.1 1127.4 L562.6 1126.8 L563.1 1128.4 L563.6 1127.4 L564.1 1127.6 L564.6 1127.7 L565.1 1128.2 L565.6 1128.2 L566.1 1127.8 L566.6 1128.5 L567.1 1127.5 L567.6 1128.3 L568.1 1127.7 L568.6 1128.4 L569.1 1127.7 L569.6 1127.9 L570.1 1128.9 L570.6 1127.6 L571.1 1127.6 L571.6 1128.5 L572.1 1128.1 L572.6 1128.1 L573.1 1128.2 L573.6 1129.4 L574.1 1127.8 L574.6 1128.2 L575.1 1128.4 L575.6 1127.9 L576.1 1128.4 L576.6 1128.6 L577.1 1127.9 L577.6 1128.9 L578.1 1127.8 L578.6 1128.3 L579.1 1128.5 L579.6 1129.9 L580.1 1127.4 L580.6 1128.4 L581.1 1129.4 L581.6 1127.8 L582.1 1128.6 L582.6 1128.1 L583.1 1127.2 L583.6 1128.1 L584.1 1127.4 L584.6 1127.8 L585.1 1126.9 L585.6 1128.0 L586.1 1126.3 L586.6 1127.4 L587.1 1128.0 L587.6 1127.6 L588.1 1127.1 L588.6 1127.0 L589.1 1126.9 L589.6 1128.4 L590.1 1126.9 L590.6 1126.8 L591.1 1126.4 L591.6 1126.4 L592.1 1126.9 L592.6 1126.2 L593.1 1126.1 L593.6 1126.1 L594.1 1126.1 L594.6 1126.3 L595.1 1125.9 L595.6 1126.0 L596.1 1125.6 L596.6 1126.5 L597.1 1125.9 L597.6 1125.6 L598.1 1125.8 L598.6 1125.5 L599.1 1124.7 L599.6 1125.3 L600.1 1126.1 L600.6 1125.4 L601.1 1125.6 L601.6 1124.6 L602.1 1124.1 L602.6 1124.4 L603.1 1125.3 L603.6 1124.1 L604.1 1124.1 L604.6 1124.9 L605.1 1124.2 L605.6 1124.1 L606.1 1124.4 L606.6 1124.1 L607.1 1123.9 L607.6 1124.1 L608.1 1123.6 L608.6 1123.9 L609.1 1124.2 L609.6 1123.3 L610.1 1123.7 L610.6 1123.2 L611.1 1124.2 L611.6 1124.1 L612.1 1124.3 L612.6 1124.3 L613.1 1124.3 L613.6 1124.2 L614.1 1123.4 L614.6 1124.3 L615.1 1123.3 L615.6 1125.0 L616.1 1123.9 L616.6 1124.1 L617.1 1123.2 L617.6 1124.3 L618.1 1124.4 L618.6 1123.0 L619.1 1123.5 L619.6 1123.6 L620.1 1123.5 L620.6 1124.5 L621.1 1124.9 L621.6 1123.3 L622.1 1124.3 L622.6 1123.7 L623.1 1124.5 L623.6 1122.6 L624.1 1123.6 L624.6 1124.4 L625.1 1123.4 L625.6 1124.4 L626.1 1123.5 L626.6 1124.4 L627.1 1124.1 L627.6 1123.6 L628.1 1123.4 L628.7 1123.7 L629.2 1124.4 L629.7 1123.9 L630.2 1123.6 L630.7 1125.6 L631.2 1123.2 L631.7 1123.9 L632.2 1124.3 L632.7 1123.6 L633.2 1124.1 L633.7 1124.0 L634.2 1123.5 L634.7 1124.5 L635.2 1123.8 L635.7 1124.0 L636.2 1125.1 L636.7 1123.9 L637.2 1124.8 L637.7 1125.2 L638.2 1125.1 L638.7 1124.9 L639.2 1124.5 L639.7 1123.9 L640.2 1124.7 L640.7 1124.9 L641.2 1124.4 L641.7 1124.1 L642.2 1125.0 L642.7 1124.0 L643.2 1124.8 L643.7 1124.3 L644.2 1123.6 L644.7 1125.3 L645.2 1124.7 L645.7 1124.6 L646.2 1123.6 L646.7 1124.2 L647.2 1124.3 L647.7 1123.8 L648.2 1124.9 L648.7 1122.9 L649.2 1124.2 L649.7 1122.8 L650.2 1122.9 L650.7 1122.9 L651.2 1123.7 L651.7 1123.0 L652.2 1122.9 L652.7 1122.7 L653.2 1122.3 L653.7 1122.4 L654.2 1122.3 L654.7 1122.5 L655.2 1122.4 L655.7 1121.3 L656.2 1122.1 L656.7 1123.0 L657.2 1122.0 L657.7 1122.2 L658.2 1121.8 L658.7 1121.8 L659.2 1122.1 L659.7 1121.4 L660.2 1122.0 L660.7 1121.2 L661.2 1122.2 L661.7 1121.2 L662.2 1122.3 L662.7 1122.5 L663.2 1121.1 L663.7 1122.3 L664.2 1121.7 L664.7 1122.5 L665.2 1121.6 L665.7 1121.7 L666.2 1121.7 L666.7 1122.5 L667.2 1120.9 L667.7 1122.2 L668.2 1121.9 L668.7 1121.6 L669.2 1121.7 L669.7 1122.3 L670.2 1122.2 L670.7 1122.6 L671.2 1121.5 L671.7 1120.8 L672.2 1121.5 L672.7 1121.7 L673.2 1121.5 L673.7 1122.3 L674.2 1122.9 L674.7 1121.9 L675.2 1120.8 L675.7 1122.2 L676.2 1121.3 L676.7 1121.6 L677.2 1122.0 L677.7 1121.8 L678.2 1121.5 L678.7 1121.7 L679.2 1121.9 L679.7 1121.8 L680.2 1122.4 L680.7 1119.7 L681.2 1120.6 L681.7 1120.7 L682.2 1121.4 L682.7 1121.1 L683.2 1121.4 L683.7 1120.3 L684.2 1120.9 L684.7 1121.3 L685.2 1120.9 L685.7 1120.8 L686.2 1121.1 L686.7 1121.8 L687.2 1119.9 L687.7 1121.8 L688.2 1121.1 L688.7 1120.5 L689.2 1121.3 L689.7 1121.0 L690.2 1121.6 L690.7 1120.6 L691.2 1121.5 L691.7 1120.5 L692.2 1121.1 L692.7 1121.3 L693.2 1120.9 L693.7 1121.3 L694.2 1120.7 L694.7 1121.5 L695.2 1120.7 L695.7 1120.6 L696.2 1120.9 L696.7 1120.9 L697.2 1120.6 L697.7 1121.4 L698.2 1120.9 L698.7 1121.3 L699.2 1120.2 L699.7 1120.3 L700.2 1120.8 L700.7 1120.5 L701.2 1120.9 L701.7 1121.3 L702.2 1121.5 L702.7 1121.7 L703.2 1121.2 L703.7 1120.2 L704.2 1120.8 L704.7 1120.2 L705.2 1120.8 L705.7 1120.0 L706.2 1121.1 L706.7 1120.7 L707.2 1120.3 L707.7 1119.8 L708.2 1120.6 L708.7 1120.2 L709.2 1120.5 L709.7 1120.1 L710.2 1120.1 L710.7 1120.7 L711.2 1121.1 L711.7 1119.8 L712.2 1120.3 L712.7 1120.6 L713.2 1120.3 L713.7 1120.2 L714.2 1121.5 L714.7 1120.0 L715.2 1120.6 L715.7 1120.1 L716.2 1120.3 L716.7 1119.2 L717.2 1120.8 L717.7 1120.3 L718.2 1119.9 L718.7 1121.2 L719.2 1120.2 L719.7 1120.1 L720.2 1119.9 L720.7 1120.9 L721.2 1120.4 L721.7 1120.2 L722.2 1119.7 L722.7 1119.9 L723.2 1120.5 L723.7 1120.3 L724.2 1119.3 L724.7 1119.9 L725.2 1120.4 L725.7 1121.6 L726.2 1119.9 L726.7 1119.1 L727.2 1120.6 L727.7 1120.0 L728.2 1119.5 L728.7 1120.4 L729.2 1120.0 L729.7 1119.6 L730.2 1119.4 L730.7 1120.0 L731.2 1120.1 L731.7 1119.1 L732.2 1120.4 L732.7 1119.3 L733.2 1120.6 L733.7 1120.0 L734.2 1119.7 L734.7 1119.9 L735.2 1119.4 L735.7 1119.6 L736.2 1120.4 L736.7 1119.3 L737.2 1119.9 L737.7 1119.0 L738.2 1119.4 L738.7 1119.9 L739.2 1118.7 L739.7 1119.4 L740.2 1118.2 L740.7 1118.6 L741.2 1118.9 L741.7 1119.6 L742.2 1119.4 L742.7 1118.6 L743.2 1118.9 L743.7 1119.0 L744.2 1118.1 L744.7 1119.1 L745.2 1119.5 L745.7 1119.4 L746.2 1118.5 L746.7 1118.6 L747.2 1118.3 L747.7 1118.5 L748.2 1118.6 L748.7 1119.0 L749.2 1118.7 L749.7 1118.2 L750.2 1119.0 L750.7 1119.0 L751.2 1118.3 L751.7 1118.4 L752.2 1118.5 L752.7 1117.7 L753.2 1118.6 L753.7 1118.8 L754.2 1119.4 L754.7 1118.5 L755.2 1118.3 L755.7 1118.3 L756.2 1118.7 L756.7 1118.7 L757.2 1117.9 L757.7 1118.4 L758.2 1118.6 L758.7 1117.3 L759.2 1118.9 L759.7 1118.1 L760.2 1118.7 L760.7 1118.2 L761.2 1118.1 L761.7 1118.1 L762.2 1118.3 L762.7 1118.6 L763.2 1118.0 L763.7 1117.6 L764.2 1117.8 L764.7 1117.6 L765.2 1118.5 L765.7 1117.6 L766.2 1118.8 L766.7 1118.1 L767.2 1118.0 L767.7 1118.7 L768.2 1117.9 L768.7 1117.9 L769.2 1118.4 L769.7 1118.4 L770.2 1117.5 L770.7 1119.3 L771.2 1118.3 L771.7 1117.4 L772.2 1118.0 L772.7 1118.5 L773.2 1118.2 L773.7 1118.5 L774.2 1119.3 L774.7 1118.6 L775.2 1119.1 L775.7 1118.5 L776.2 1117.8 L776.7 1118.9 L777.2 1117.8 L777.7 1118.7 L778.2 1118.6 L778.7 1117.8 L779.2 1117.9 L779.7 1118.2 L780.2 1118.5 L780.7 1119.0 L781.2 1118.4 L781.7 1119.3 L782.2 1118.9 L782.7 1118.1 L783.2 1118.2 L783.7 1118.5 L784.2 1118.3 L784.7 1118.5 L785.2 1118.9 L785.7 1118.7 L786.2 1119.1 L786.7 1118.3 L787.2 1118.2 L787.7 1118.0 L788.2 1117.8 L788.7 1118.5 L789.2 1118.7 L789.7 1118.6 L790.2 1118.7 L790.7 1119.8 L791.2 1118.2 L791.7 1118.6 L792.2 1118.5 L792.7 1118.3 L793.2 1119.4 L793.7 1118.7 L794.2 1119.4 L794.7 1118.2 L795.2 1119.7 L795.7 1119.9 L796.2 1118.3 L796.7 1118.7 L797.2 1118.7 L797.7 1119.0 L798.3 1118.1 L798.8 1119.0 L799.3 1119.1 L799.8 1118.5 L800.3 1117.6 L800.8 1118.4 L801.3 1118.6 L801.8 1119.1 L802.3 1118.4 L802.8 1118.2 L803.3 1119.1 L803.8 1118.9 L804.3 1119.1 L804.8 1118.8 L805.3 1119.3 L805.8 1119.0 L806.3 1117.9 L806.8 1118.9 L807.3 1119.1 L807.8 1118.8 L808.3 1119.5 L808.8 1118.5 L809.3 1119.1 L809.8 1118.1 L810.3 1118.8 L810.8 1118.5 L811.3 1118.3 L811.8 1118.1 L812.3 1118.9 L812.8 1119.0 L813.3 1118.4 L813.8 1118.1 L814.3 1118.3 L814.8 1119.1 L815.3 1118.2 L815.8 1119.3 L816.3 1117.9 L816.8 1118.9 L817.3 1119.1 L817.8 1119.4 L818.3 1118.6 L818.8 1118.4 L819.3 1118.1 L819.8 1119.3 L820.3 1118.8 L820.8 1118.6 L821.3 1118.7 L821.8 1119.0 L822.3 1118.9 L822.8 1119.5 L823.3 1117.9 L823.8 1119.4 L824.3 1118.7 L824.8 1119.0 L825.3 1118.9 L825.8 1119.0 L826.3 1119.5 L826.8 1119.2 L827.3 1118.4 L827.8 1119.1 L828.3 1119.1 L828.8 1119.4 L829.3 1119.2 L829.8 1119.2 L830.3 1119.8 L830.8 1118.7 L831.3 1120.4 L831.8 1119.0 L832.3 1118.8 L832.8 1119.7 L833.3 1119.9 L833.8 1120.0 L834.3 1120.1 L834.8 1119.6 L835.3 1119.4 L835.8 1119.6 L836.3 1119.4 L836.8 1119.2 L837.3 1120.2 L837.8 1120.4 L838.3 1119.4 L838.8 1119.3 L839.3 1119.2 L839.8 1118.6 L840.3 1119.0 L840.8 1119.1 L841.3 1119.3 L841.8 1118.8 L842.3 1118.3 L842.8 1119.5 L843.3 1120.0 L843.8 1118.0 L844.3 1119.0 L844.8 1119.4 L845.3 1118.4 L845.8 1118.2 L846.3 1118.8 L846.8 1118.7 L847.3 1118.4 L847.8 1119.5 L848.3 1119.4 L848.8 1118.9 L849.3 1118.5 L849.8 1118.3 L850.3 1118.9 L850.8 1118.3 L851.3 1119.1 L851.8 1118.9 L852.3 1118.0 L852.8 1118.6 L853.3 1119.0 L853.8 1118.5 L854.3 1117.7 L854.8 1118.0 L855.3 1117.9 L855.8 1118.1 L856.3 1118.0 L856.8 1117.8 L857.3 1118.3 L857.8 1118.6 L858.3 1117.6 L858.8 1117.1 L859.3 1118.0 L859.8 1117.8 L860.3 1117.9 L860.8 1117.3 L861.3 1117.8 L861.8 1117.2 L862.3 1118.1 L862.8 1118.4 L863.3 1117.1 L863.8 1116.2 L864.3 1117.2 L864.8 1117.2 L865.3 1117.5 L865.8 1117.4 L866.3 1117.6 L866.8 1118.6 L867.3 1117.0 L867.8 1117.0 L868.3 1117.4 L868.8 1116.2 L869.3 1117.5 L869.8 1116.7 L870.3 1116.3 L870.8 1116.5 L871.3 1117.2 L871.8 1117.3 L872.3 1117.4 L872.8 1117.0 L873.3 1116.4 L873.8 1117.0 L874.3 1116.6 L874.8 1117.8 L875.3 1115.5 L875.8 1117.3 L876.3 1116.9 L876.8 1116.7 L877.3 1116.4 L877.8 1116.1 L878.3 1115.9 L878.8 1115.6 L879.3 1117.4 L879.8 1116.9 L880.3 1116.4 L880.8 1116.6 L881.3 1116.8 L881.8 1117.1 L882.3 1117.4 L882.8 1117.7 L883.3 1118.0 L883.8 1118.3 L884.3 1118.7 L884.8 1119.0 L885.3 1119.2 L885.8 1119.5 L886.3 1119.8 L886.8 1120.0 L887.3 1120.3 L887.8 1120.5 L888.3 1120.8 L888.8 1121.1 L889.3 1121.4 L889.8 1121.7 L890.3 1121.9 L890.8 1122.2 L891.3 1122.5 L891.8 1122.7 L892.3 1123.0 L892.8 1123.3 L893.3 1123.6 L893.8 1123.8 L894.3 1124.1 L894.8 1124.4 L895.3 1124.7 L895.8 1125.0 L896.3 1125.2 L896.8 1125.5 L897.3 1125.9 L897.8 1126.1 L898.3 1126.4 L898.8 1126.6 L899.3 1126.9 L899.8 1127.2 L900.3 1127.5 L900.8 1127.8 L901.3 1128.1 L901.8 1128.4 L902.3 1128.6 L902.8 1128.9 L903.3 1129.1 L903.8 1129.4 L904.3 1129.7 L904.8 1130.0 L905.3 1130.3 L905.8 1130.6 L906.3 1130.8 L906.8 1131.1 L907.3 1131.4 L907.8 1131.7 L908.3 1132.0 L908.8 1132.3 L909.3 1132.6 L909.8 1132.9 L910.3 1133.1 L910.8 1133.4 L911.3 1133.6 L911.8 1133.9 L912.3 1134.2 L912.8 1134.5 L913.3 1134.8 L913.8 1135.1 L914.3 1135.3 L914.8 1135.6 L915.3 1135.8 L915.8 1136.1 L916.3 1136.4 L916.8 1136.7 L917.3 1136.9 L917.8 1137.2 L918.3 1137.5 L918.8 1137.7 L919.3 1137.9 L919.8 1138.2 L920.3 1138.4 L920.8 1138.6 L921.3 1138.9 L921.8 1139.1 L922.3 1139.3 L922.8 1139.6 L923.3 1139.8 L923.8 1140.0 L924.3 1140.3 L924.8 1140.5 L925.3 1140.7 L925.8 1140.9 L926.3 1141.1 L926.8 1141.4 L927.3 1141.6 L927.8 1141.8 L928.3 1142.0 L928.8 1142.2 L929.3 1142.5 L929.8 1142.7 L930.3 1142.9 L930.8 1143.1 L931.3 1143.3 L931.8 1143.6 L932.3 1143.8 L932.8 1144.0 L933.3 1144.2 L933.8 1144.5 L934.3 1144.7 L934.8 1144.9 L935.3 1145.1 L935.8 1145.3 L936.3 1145.5 L936.8 1145.7 L937.3 1146.0 L937.8 1146.2 L938.3 1146.4 L938.8 1146.6 L939.3 1146.8 L939.8 1147.0 L940.3 1147.3 L940.8 1147.5 L941.3 1147.7 L941.8 1147.9 L942.3 1148.1 L942.8 1148.3 L943.3 1148.5 L943.8 1148.8 L944.3 1149.0 L944.8 1149.2 L945.3 1149.5 L945.8 1149.7 L946.3 1149.9 L946.8 1150.1 L947.3 1150.3 L947.8 1150.5 L948.3 1150.8 L948.8 1151.0 L949.3 1151.2 L949.8 1151.4 L950.3 1151.6 L950.8 1151.8 L951.3 1152.1 L951.8 1152.3 L952.3 1152.5 L952.8 1152.7 L953.3 1152.9 L953.8 1153.1 L954.3 1153.3 L954.8 1153.5 L955.3 1153.7 L955.8 1153.9 L956.3 1154.2 L956.8 1154.4 L957.3 1154.6 L957.8 1154.8 L958.3 1155.1 L958.8 1155.3 L959.3 1155.4 L959.8 1155.6 L960.3 1155.9 L960.8 1156.1 L961.3 1156.3 L961.8 1156.5 L962.3 1156.7 L962.8 1156.9 L963.3 1157.1 L963.8 1157.3 L964.3 1157.5 L964.8 1157.7 L965.3 1157.9 L965.8 1158.1 L966.3 1158.3 L966.8 1158.5 L967.3 1158.7 L967.9 1158.9 L968.4 1159.1 L968.9 1159.3 L969.4 1159.5 L969.9 1159.7 L970.4 1159.9 L970.9 1160.1 L971.4 1160.3 L971.9 1160.5 L972.4 1160.7 L972.9 1160.9 L973.4 1161.1 L973.9 1161.3 L974.4 1161.5 L974.9 1161.7 L975.4 1161.9 L975.9 1162.1 L976.4 1162.3 L976.9 1162.5 L977.4 1162.7 L977.9 1162.9 L978.4 1163.1 L978.9 1163.2 L979.4 1163.5 L979.9 1163.6 L980.4 1163.8 L980.9 1164.0 L981.4 1164.2 L981.9 1164.4 L982.4 1164.6 L982.9 1164.8 L983.4 1164.9 L983.9 1165.1 L984.4 1165.3 L984.9 1165.5 L985.4 1165.7 L985.9 1165.9 L986.4 1166.1 L986.9 1166.2 L987.4 1166.4 L987.9 1166.6 L988.4 1166.8 L988.9 1167.0 L989.4 1167.1 L989.9 1167.3 L990.4 1167.5 L990.9 1167.7 L991.4 1168.0 L991.9 1168.2 L992.4 1168.3 L992.9 1168.5 L993.4 1168.7 L993.9 1168.8 L994.4 1169.0 L994.9 1169.2 L995.4 1169.4 L995.9 1169.6 L996.4 1169.8 L996.9 1169.9 L997.4 1170.1 L997.9 1170.3 L998.4 1170.5 L998.9 1170.7 L999.4 1170.9 L999.9 1171.0 L1000.4 1171.2 L1000.9 1171.4 L1001.4 1171.6 L1001.9 1171.7 L1002.4 1171.9 L1002.9 1172.1 L1003.4 1172.3 L1003.9 1172.5 L1004.4 1172.6 L1004.9 1172.8 L1005.4 1173.0 L1005.9 1173.2 L1006.4 1173.4 L1006.9 1173.5 L1007.4 1173.7 L1007.9 1173.9 L1008.4 1174.1 L1008.9 1174.3 L1009.4 1174.5 L1009.9 1174.6 L1010.4 1174.8 L1010.9 1175.0 L1011.4 1175.1 L1011.9 1175.3 L1012.4 1175.5 L1012.9 1175.7 L1013.4 1175.9 L1013.9 1176.0 L1014.4 1176.2 L1014.9 1176.4 L1015.4 1176.6 L1015.9 1176.7 L1016.4 1176.9 L1016.9 1177.1 L1017.4 1177.3 L1017.9 1177.4 L1018.4 1177.6 L1018.9 1177.8 L1019.4 1178.0 L1019.9 1178.1 L1020.4 1178.3 L1020.9 1178.5 L1021.4 1178.6 L1021.9 1178.8 L1022.4 1179.0 L1022.9 1179.1 L1023.4 1179.3 L1023.9 1179.5 L1024.4 1179.7 L1024.9 1179.8 L1025.4 1180.0 L1025.9 1180.2 L1026.4 1180.3 L1026.9 1180.5 L1027.4 1180.7 L1027.9 1180.9 L1028.4 1181.1 L1028.9 1181.2 L1029.4 1181.4 L1029.9 1181.6 L1030.4 1181.8 L1030.9 1181.9 L1031.4 1182.1 L1031.9 1182.3 L1032.4 1182.5 L1032.9 1182.6 L1033.4 1182.8 L1033.9 1183.0 L1034.4 1183.1 L1034.9 1183.3 L1035.4 1183.5 L1035.9 1183.7 L1036.4 1183.8 L1036.9 1184.0 L1037.4 1184.2 L1037.9 1184.4 L1038.4 1184.5 L1038.9 1184.7 L1039.4 1184.9 L1039.9 1185.0 L1040.4 1185.2 L1040.9 1185.4 L1041.4 1185.6 L1041.9 1185.8 L1042.4 1186.0 L1042.9 1186.1 L1043.4 1186.3 L1043.9 1186.5 L1044.4 1186.7 L1044.9 1186.8 L1045.4 1187.0 L1045.9 1187.2 L1046.4 1187.4 L1046.9 1187.5 L1047.4 1187.7 L1047.9 1187.9 L1048.4 1188.1 L1048.9 1188.3 L1049.4 1188.4 L1049.9 1188.6 L1050.4 1188.8 L1050.9 1189.0 L1051.4 1189.2 L1051.9 1189.3 L1052.4 1189.5 L1052.9 1189.7 L1053.4 1189.9 L1053.9 1190.1 L1054.4 1190.2 L1054.9 1190.4 L1055.4 1190.5 L1055.9 1190.7 L1056.4 1190.9 L1056.9 1191.1 L1057.4 1191.2 L1057.9 1191.4 L1058.4 1191.6 L1058.9 1191.8 L1059.4 1191.9 L1059.9 1192.1 L1060.4 1192.3 L1060.9 1192.5 L1061.4 1192.7 L1061.9 1192.8 L1062.4 1193.0 L1062.9 1193.2 L1063.4 1193.4 L1063.9 1193.5 L1064.4 1193.7 L1064.9 1193.9 L1065.4 1194.1 L1065.9 1194.3 L1066.4 1194.4 L1066.9 1194.6 L1067.4 1194.8 L1067.9 1195.0 L1068.4 1195.2 L1068.9 1195.3 L1069.4 1195.5 L1069.9 1195.7 L1070.4 1195.9 L1070.9 1196.0 L1071.4 1196.2 L1071.9 1196.4 L1072.4 1196.6 L1072.9 1196.7" fill="none" stroke="#23409f" stroke-opacity="0.9" stroke-width="4.6" stroke-linejoin="round"/>
</g>
<rect x="107.0" y="1030.8" width="966.3" height="355.79999999999995" fill="none" stroke="#1c1c1c" stroke-width="1.45"/>
<path d="M107.0 1386.6 v6.3 M227.8 1386.6 v6.3 M348.6 1386.6 v6.3 M469.4 1386.6 v6.3 M590.1 1386.6 v6.3 M710.9 1386.6 v6.3 M831.7 1386.6 v6.3 M952.5 1386.6 v6.3 M1073.3 1386.6 v6.3 M107.0 1386.6 h-6.3 M107.0 1030.8 h-6.3 M1073.3 1386.6 h6.3 M1073.3 1315.4 h6.3 M1073.3 1244.3 h6.3 M1073.3 1173.1 h6.3 M1073.3 1102.0 h6.3 M1073.3 1030.8 h6.3" stroke="#1c1c1c" stroke-width="1.45" fill="none"/>
<text transform="translate(107.0 1432.2) scale(0.985 1.055)" text-anchor="middle">2000</text>
<text transform="translate(227.8 1432.2) scale(0.985 1.055)" text-anchor="middle">2500</text>
<text transform="translate(348.6 1432.2) scale(0.985 1.055)" text-anchor="middle">3000</text>
<text transform="translate(469.4 1432.2) scale(0.985 1.055)" text-anchor="middle">3500</text>
<text transform="translate(590.1 1432.2) scale(0.985 1.055)" text-anchor="middle">4000</text>
<text transform="translate(710.9 1432.2) scale(0.985 1.055)" text-anchor="middle">4500</text>
<text transform="translate(831.7 1432.2) scale(0.985 1.055)" text-anchor="middle">5000</text>
<text transform="translate(952.5 1432.2) scale(0.985 1.055)" text-anchor="middle">5500</text>
<text transform="translate(1073.3 1432.2) scale(0.985 1.055)" text-anchor="middle">6000</text>
<text transform="translate(95.5 1397.9) scale(0.985 1.055)" text-anchor="end">0</text>
<text transform="translate(95.5 1042.1) scale(0.985 1.055)" text-anchor="end">80</text>
<text transform="translate(1084.3 1397.9) scale(0.985 1.055)">0.0</text>
<text transform="translate(1084.3 1326.7) scale(0.985 1.055)">0.2</text>
<text transform="translate(1084.3 1255.6) scale(0.985 1.055)">0.4</text>
<text transform="translate(1084.3 1184.4) scale(0.985 1.055)">0.6</text>
<text transform="translate(1084.3 1113.3) scale(0.985 1.055)">0.8</text>
<text transform="translate(1084.3 1042.1) scale(0.985 1.055)">1.0</text>
<text transform="translate(590.1 1469.1) scale(1.01 1.05)" text-anchor="middle">Time [ms]</text>
<text transform="translate(41.3 1208.7) rotate(-90) scale(1.01 1.05)" text-anchor="middle"># cell</text>
<text transform="translate(1155.5 1153.9) scale(1.01 1.05)" font-size="39" fill="#e8202a">x</text>
<text transform="translate(1155.5 1261.8) scale(1.01 1.05)" font-size="39" fill="#3953a6">u</text>
<text transform="translate(18.9 1025.8) scale(0.94 1)" font-family="'Liberation Sans',Arial,sans-serif" font-weight="bold" font-size="34">C</text>
<rect x="1414.2" y="384.7" width="12.8" height="8.9" fill="#6e92cc"/>
<path d="M1414.2 384.7V393.6M1426.9 384.7V393.6" stroke="#9db7e0" stroke-width="0.9" fill="none"/>
<rect x="1426.9" y="379.0" width="13.1" height="14.6" fill="#6e92cc"/>
<path d="M1426.9 379.0V393.6M1440.0 379.0V393.6" stroke="#9db7e0" stroke-width="0.9" fill="none"/>
<rect x="1440.0" y="282.2" width="12.8" height="111.4" fill="#6e92cc"/>
<path d="M1440.0 282.2V393.6M1452.8 282.2V393.6" stroke="#9db7e0" stroke-width="0.9" fill="none"/>
<rect x="1452.8" y="135.1" width="12.8" height="258.5" fill="#6e92cc"/>
<path d="M1452.8 135.1V393.6M1465.6 135.1V393.6" stroke="#9db7e0" stroke-width="0.9" fill="none"/>
<rect x="1465.6" y="53.8" width="12.8" height="339.8" fill="#6e92cc"/>
<path d="M1465.6 53.8V393.6M1478.4 53.8V393.6" stroke="#9db7e0" stroke-width="0.9" fill="none"/>
<rect x="1478.4" y="236.2" width="12.8" height="157.4" fill="#6e92cc"/>
<path d="M1478.4 236.2V393.6M1491.1 236.2V393.6" stroke="#9db7e0" stroke-width="0.9" fill="none"/>
<rect x="1491.1" y="262.1" width="13.1" height="131.5" fill="#6e92cc"/>
<path d="M1491.1 262.1V393.6M1504.2 262.1V393.6" stroke="#9db7e0" stroke-width="0.9" fill="none"/>
<rect x="1504.2" y="389.7" width="12.8" height="3.9" fill="#6e92cc"/>
<path d="M1504.2 389.7V393.6M1517.0 389.7V393.6" stroke="#9db7e0" stroke-width="0.9" fill="none"/>
<rect x="1517.0" y="373.9" width="12.8" height="19.7" fill="#6e92cc"/>
<path d="M1517.0 373.9V393.6M1529.8 373.9V393.6" stroke="#9db7e0" stroke-width="0.9" fill="none"/>
<rect x="1529.8" y="366.9" width="13.1" height="26.7" fill="#6e92cc"/>
<path d="M1529.8 366.9V393.6M1542.9 366.9V393.6" stroke="#9db7e0" stroke-width="0.9" fill="none"/>
<rect x="1542.9" y="392.1" width="12.8" height="1.5" fill="#6e92cc"/>
<path d="M1542.9 392.1V393.6M1555.6 392.1V393.6" stroke="#9db7e0" stroke-width="0.9" fill="none"/>
<rect x="1555.6" y="391.8" width="13.4" height="1.8" fill="#6e92cc"/>
<path d="M1555.6 391.8V393.6M1569.1 391.8V393.6" stroke="#9db7e0" stroke-width="0.9" fill="none"/>
<rect x="1569.1" y="390.7" width="12.8" height="2.9" fill="#6e92cc"/>
<path d="M1569.1 390.7V393.6M1581.8 390.7V393.6" stroke="#9db7e0" stroke-width="0.9" fill="none"/>
<rect x="1343.8" y="37.8" width="386.70000000000005" height="355.8" fill="none" stroke="#1c1c1c" stroke-width="1.45"/>
<text transform="translate(1343.8 427.8) scale(0.985 1.055)" text-anchor="middle">−5</text>
<text transform="translate(1472.7 427.8) scale(0.985 1.055)" text-anchor="middle">0</text>
<text transform="translate(1601.6 427.8) scale(0.985 1.055)" text-anchor="middle">5</text>
<text transform="translate(1730.5 427.8) scale(0.985 1.055)" text-anchor="middle">10</text>
<text transform="translate(1331.2 404.9) scale(0.985 1.055)" text-anchor="end">0.0</text>
<text transform="translate(1331.2 297.7) scale(0.985 1.055)" text-anchor="end">0.1</text>
<text transform="translate(1331.2 190.5) scale(0.985 1.055)" text-anchor="end">0.2</text>
<text transform="translate(1331.2 83.3) scale(0.985 1.055)" text-anchor="end">0.3</text>
<path d="M1343.8 393.6 v6.3 M1472.7 393.6 v6.3 M1601.6 393.6 v6.3 M1730.5 393.6 v6.3 M1343.8 393.6 h-6.3 M1343.8 286.4 h-6.3 M1343.8 179.2 h-6.3 M1343.8 72.0 h-6.3" stroke="#1c1c1c" stroke-width="1.45" fill="none"/>
<text transform="translate(1537.2 464.8) scale(1.01 1.05)" text-anchor="middle">Firing rate difference [Hz]</text>
<text transform="translate(1268.0 215.7) rotate(-90) scale(1.01 1.05)" text-anchor="middle">Fraction of cells</text>
<rect x="1361.4" y="887.5" width="12.4" height="2.5" fill="#6e92cc"/>
<path d="M1361.4 887.5V890.0M1373.8 887.5V890.0" stroke="#9db7e0" stroke-width="0.9" fill="none"/>
<rect x="1373.8" y="887.5" width="12.0" height="2.5" fill="#6e92cc"/>
<path d="M1373.8 887.5V890.0M1385.8 887.5V890.0" stroke="#9db7e0" stroke-width="0.9" fill="none"/>
<rect x="1385.8" y="870.8" width="12.0" height="19.2" fill="#6e92cc"/>
<path d="M1385.8 870.8V890.0M1397.8 870.8V890.0" stroke="#9db7e0" stroke-width="0.9" fill="none"/>
<rect x="1397.8" y="878.2" width="12.0" height="11.8" fill="#6e92cc"/>
<path d="M1397.8 878.2V890.0M1409.9 878.2V890.0" stroke="#9db7e0" stroke-width="0.9" fill="none"/>
<rect x="1409.9" y="811.7" width="12.0" height="78.3" fill="#6e92cc"/>
<path d="M1409.9 811.7V890.0M1421.9 811.7V890.0" stroke="#9db7e0" stroke-width="0.9" fill="none"/>
<rect x="1421.9" y="722.2" width="12.4" height="167.8" fill="#6e92cc"/>
<path d="M1421.9 722.2V890.0M1434.2 722.2V890.0" stroke="#9db7e0" stroke-width="0.9" fill="none"/>
<rect x="1434.2" y="732.9" width="12.0" height="157.1" fill="#6e92cc"/>
<path d="M1434.2 732.9V890.0M1446.3 732.9V890.0" stroke="#9db7e0" stroke-width="0.9" fill="none"/>
<rect x="1446.3" y="604.2" width="12.0" height="285.8" fill="#6e92cc"/>
<path d="M1446.3 604.2V890.0M1458.3 604.2V890.0" stroke="#9db7e0" stroke-width="0.9" fill="none"/>
<rect x="1458.3" y="550.8" width="11.7" height="339.2" fill="#6e92cc"/>
<path d="M1458.3 550.8V890.0M1470.0 550.8V890.0" stroke="#9db7e0" stroke-width="0.9" fill="none"/>
<rect x="1470.0" y="660.7" width="11.7" height="229.3" fill="#6e92cc"/>
<path d="M1470.0 660.7V890.0M1481.7 660.7V890.0" stroke="#9db7e0" stroke-width="0.9" fill="none"/>
<rect x="1481.7" y="777.6" width="12.4" height="112.4" fill="#6e92cc"/>
<path d="M1481.7 777.6V890.0M1494.0 777.6V890.0" stroke="#9db7e0" stroke-width="0.9" fill="none"/>
<rect x="1494.0" y="757.6" width="12.0" height="132.4" fill="#6e92cc"/>
<path d="M1494.0 757.6V890.0M1506.1 757.6V890.0" stroke="#9db7e0" stroke-width="0.9" fill="none"/>
<rect x="1506.1" y="833.1" width="12.0" height="56.9" fill="#6e92cc"/>
<path d="M1506.1 833.1V890.0M1518.1 833.1V890.0" stroke="#9db7e0" stroke-width="0.9" fill="none"/>
<rect x="1518.1" y="873.5" width="12.0" height="16.5" fill="#6e92cc"/>
<path d="M1518.1 873.5V890.0M1530.1 873.5V890.0" stroke="#9db7e0" stroke-width="0.9" fill="none"/>
<rect x="1530.1" y="873.5" width="12.4" height="16.5" fill="#6e92cc"/>
<path d="M1530.1 873.5V890.0M1542.5 873.5V890.0" stroke="#9db7e0" stroke-width="0.9" fill="none"/>
<rect x="1542.5" y="884.2" width="12.0" height="5.8" fill="#6e92cc"/>
<path d="M1542.5 884.2V890.0M1554.5 884.2V890.0" stroke="#9db7e0" stroke-width="0.9" fill="none"/>
<rect x="1554.5" y="887.5" width="12.0" height="2.5" fill="#6e92cc"/>
<path d="M1554.5 887.5V890.0M1566.5 887.5V890.0" stroke="#9db7e0" stroke-width="0.9" fill="none"/>
<rect x="1343.8" y="534.2" width="386.70000000000005" height="355.79999999999995" fill="none" stroke="#1c1c1c" stroke-width="1.45"/>
<text transform="translate(1368.0 924.2) scale(0.985 1.055)" text-anchor="middle">0</text>
<text transform="translate(1488.9 924.2) scale(0.985 1.055)" text-anchor="middle">5</text>
<text transform="translate(1609.8 924.2) scale(0.985 1.055)" text-anchor="middle">10</text>
<text transform="translate(1730.7 924.2) scale(0.985 1.055)" text-anchor="middle">15</text>
<text transform="translate(1331.2 901.3) scale(0.985 1.055)" text-anchor="end">0.00</text>
<text transform="translate(1331.2 819.5) scale(0.985 1.055)" text-anchor="end">0.05</text>
<text transform="translate(1331.2 737.7) scale(0.985 1.055)" text-anchor="end">0.10</text>
<text transform="translate(1331.2 655.9) scale(0.985 1.055)" text-anchor="end">0.15</text>
<text transform="translate(1331.2 574.1) scale(0.985 1.055)" text-anchor="end">0.20</text>
<path d="M1368.0 890.0 v6.3 M1488.9 890.0 v6.3 M1609.8 890.0 v6.3 M1730.7 890.0 v6.3 M1343.8 890.0 h-6.3 M1343.8 808.2 h-6.3 M1343.8 726.4 h-6.3 M1343.8 644.6 h-6.3 M1343.8 562.8 h-6.3" stroke="#1c1c1c" stroke-width="1.45" fill="none"/>
<text transform="translate(1537.2 961.2) scale(1.01 1.05)" text-anchor="middle">Firing rate difference [Hz]</text>
<text transform="translate(1248.3 712.1) rotate(-90) scale(1.01 1.05)" text-anchor="middle">Fraction of cells</text>
<rect x="1373.1" y="1382.5" width="12.4" height="4.1" fill="#6e92cc"/>
<path d="M1373.1 1382.5V1386.6M1385.5 1382.5V1386.6" stroke="#9db7e0" stroke-width="0.9" fill="none"/>
<rect x="1397.8" y="1382.5" width="12.0" height="4.1" fill="#6e92cc"/>
<path d="M1397.8 1382.5V1386.6M1409.9 1382.5V1386.6" stroke="#9db7e0" stroke-width="0.9" fill="none"/>
<rect x="1409.9" y="1365.2" width="12.0" height="21.4" fill="#6e92cc"/>
<path d="M1409.9 1365.2V1386.6M1421.9 1365.2V1386.6" stroke="#9db7e0" stroke-width="0.9" fill="none"/>
<rect x="1421.9" y="1354.5" width="12.4" height="32.1" fill="#6e92cc"/>
<path d="M1421.9 1354.5V1386.6M1434.2 1354.5V1386.6" stroke="#9db7e0" stroke-width="0.9" fill="none"/>
<rect x="1434.2" y="1345.8" width="12.0" height="40.8" fill="#6e92cc"/>
<path d="M1434.2 1345.8V1386.6M1446.3 1345.8V1386.6" stroke="#9db7e0" stroke-width="0.9" fill="none"/>
<rect x="1446.3" y="1263.3" width="12.0" height="123.3" fill="#6e92cc"/>
<path d="M1446.3 1263.3V1386.6M1458.3 1263.3V1386.6" stroke="#9db7e0" stroke-width="0.9" fill="none"/>
<rect x="1458.3" y="1249.2" width="11.7" height="137.4" fill="#6e92cc"/>
<path d="M1458.3 1249.2V1386.6M1470.0 1249.2V1386.6" stroke="#9db7e0" stroke-width="0.9" fill="none"/>
<rect x="1470.0" y="1190.8" width="12.4" height="195.8" fill="#6e92cc"/>
<path d="M1470.0 1190.8V1386.6M1482.3 1190.8V1386.6" stroke="#9db7e0" stroke-width="0.9" fill="none"/>
<rect x="1482.3" y="1166.4" width="12.0" height="220.2" fill="#6e92cc"/>
<path d="M1482.3 1166.4V1386.6M1494.4 1166.4V1386.6" stroke="#9db7e0" stroke-width="0.9" fill="none"/>
<rect x="1494.4" y="1064.5" width="12.0" height="322.1" fill="#6e92cc"/>
<path d="M1494.4 1064.5V1386.6M1506.4 1064.5V1386.6" stroke="#9db7e0" stroke-width="0.9" fill="none"/>
<rect x="1506.4" y="1085.9" width="12.0" height="300.7" fill="#6e92cc"/>
<path d="M1506.4 1085.9V1386.6M1518.4 1085.9V1386.6" stroke="#9db7e0" stroke-width="0.9" fill="none"/>
<rect x="1518.4" y="1053.8" width="12.0" height="332.8" fill="#6e92cc"/>
<path d="M1518.4 1053.8V1386.6M1530.5 1053.8V1386.6" stroke="#9db7e0" stroke-width="0.9" fill="none"/>
<rect x="1530.5" y="1046.8" width="12.0" height="339.8" fill="#6e92cc"/>
<path d="M1530.5 1046.8V1386.6M1542.5 1046.8V1386.6" stroke="#9db7e0" stroke-width="0.9" fill="none"/>
<rect x="1542.5" y="1126.0" width="12.0" height="260.6" fill="#6e92cc"/>
<path d="M1542.5 1126.0V1386.6M1554.5 1126.0V1386.6" stroke="#9db7e0" stroke-width="0.9" fill="none"/>
<rect x="1554.5" y="1187.4" width="12.0" height="199.2" fill="#6e92cc"/>
<path d="M1554.5 1187.4V1386.6M1566.5 1187.4V1386.6" stroke="#9db7e0" stroke-width="0.9" fill="none"/>
<rect x="1566.5" y="1263.3" width="12.0" height="123.3" fill="#6e92cc"/>
<path d="M1566.5 1263.3V1386.6M1578.6 1263.3V1386.6" stroke="#9db7e0" stroke-width="0.9" fill="none"/>
<rect x="1578.6" y="1281.0" width="12.0" height="105.6" fill="#6e92cc"/>
<path d="M1578.6 1281.0V1386.6M1590.6 1281.0V1386.6" stroke="#9db7e0" stroke-width="0.9" fill="none"/>
<rect x="1590.6" y="1321.1" width="12.0" height="65.5" fill="#6e92cc"/>
<path d="M1590.6 1321.1V1386.6M1602.6 1321.1V1386.6" stroke="#9db7e0" stroke-width="0.9" fill="none"/>
<rect x="1602.6" y="1354.2" width="12.0" height="32.4" fill="#6e92cc"/>
<path d="M1602.6 1354.2V1386.6M1614.6 1354.2V1386.6" stroke="#9db7e0" stroke-width="0.9" fill="none"/>
<rect x="1614.6" y="1361.5" width="12.0" height="25.1" fill="#6e92cc"/>
<path d="M1614.6 1361.5V1386.6M1626.7 1361.5V1386.6" stroke="#9db7e0" stroke-width="0.9" fill="none"/>
<rect x="1626.7" y="1375.5" width="12.0" height="11.1" fill="#6e92cc"/>
<path d="M1626.7 1375.5V1386.6M1638.7 1375.5V1386.6" stroke="#9db7e0" stroke-width="0.9" fill="none"/>
<rect x="1343.8" y="1030.8" width="386.70000000000005" height="355.79999999999995" fill="none" stroke="#1c1c1c" stroke-width="1.45"/>
<text transform="translate(1368.0 1420.8) scale(0.985 1.055)" text-anchor="middle">0</text>
<text transform="translate(1488.9 1420.8) scale(0.985 1.055)" text-anchor="middle">5</text>
<text transform="translate(1609.8 1420.8) scale(0.985 1.055)" text-anchor="middle">10</text>
<text transform="translate(1730.7 1420.8) scale(0.985 1.055)" text-anchor="middle">15</text>
<text transform="translate(1331.2 1397.9) scale(0.985 1.055)" text-anchor="end">0.000</text>
<text transform="translate(1331.2 1325.7) scale(0.985 1.055)" text-anchor="end">0.025</text>
<text transform="translate(1331.2 1253.5) scale(0.985 1.055)" text-anchor="end">0.050</text>
<text transform="translate(1331.2 1181.3) scale(0.985 1.055)" text-anchor="end">0.075</text>
<text transform="translate(1331.2 1109.1) scale(0.985 1.055)" text-anchor="end">0.100</text>
<path d="M1368.0 1386.6 v6.3 M1488.9 1386.6 v6.3 M1609.8 1386.6 v6.3 M1730.7 1386.6 v6.3 M1343.8 1386.6 h-6.3 M1343.8 1314.4 h-6.3 M1343.8 1242.2 h-6.3 M1343.8 1170.0 h-6.3 M1343.8 1097.8 h-6.3" stroke="#1c1c1c" stroke-width="1.45" fill="none"/>
<text transform="translate(1537.2 1457.8) scale(1.01 1.05)" text-anchor="middle">Firing rate difference [Hz]</text>
<text transform="translate(1228.2 1208.7) rotate(-90) scale(1.01 1.05)" text-anchor="middle">Fraction of cells</text>
</svg>
</body></html>
